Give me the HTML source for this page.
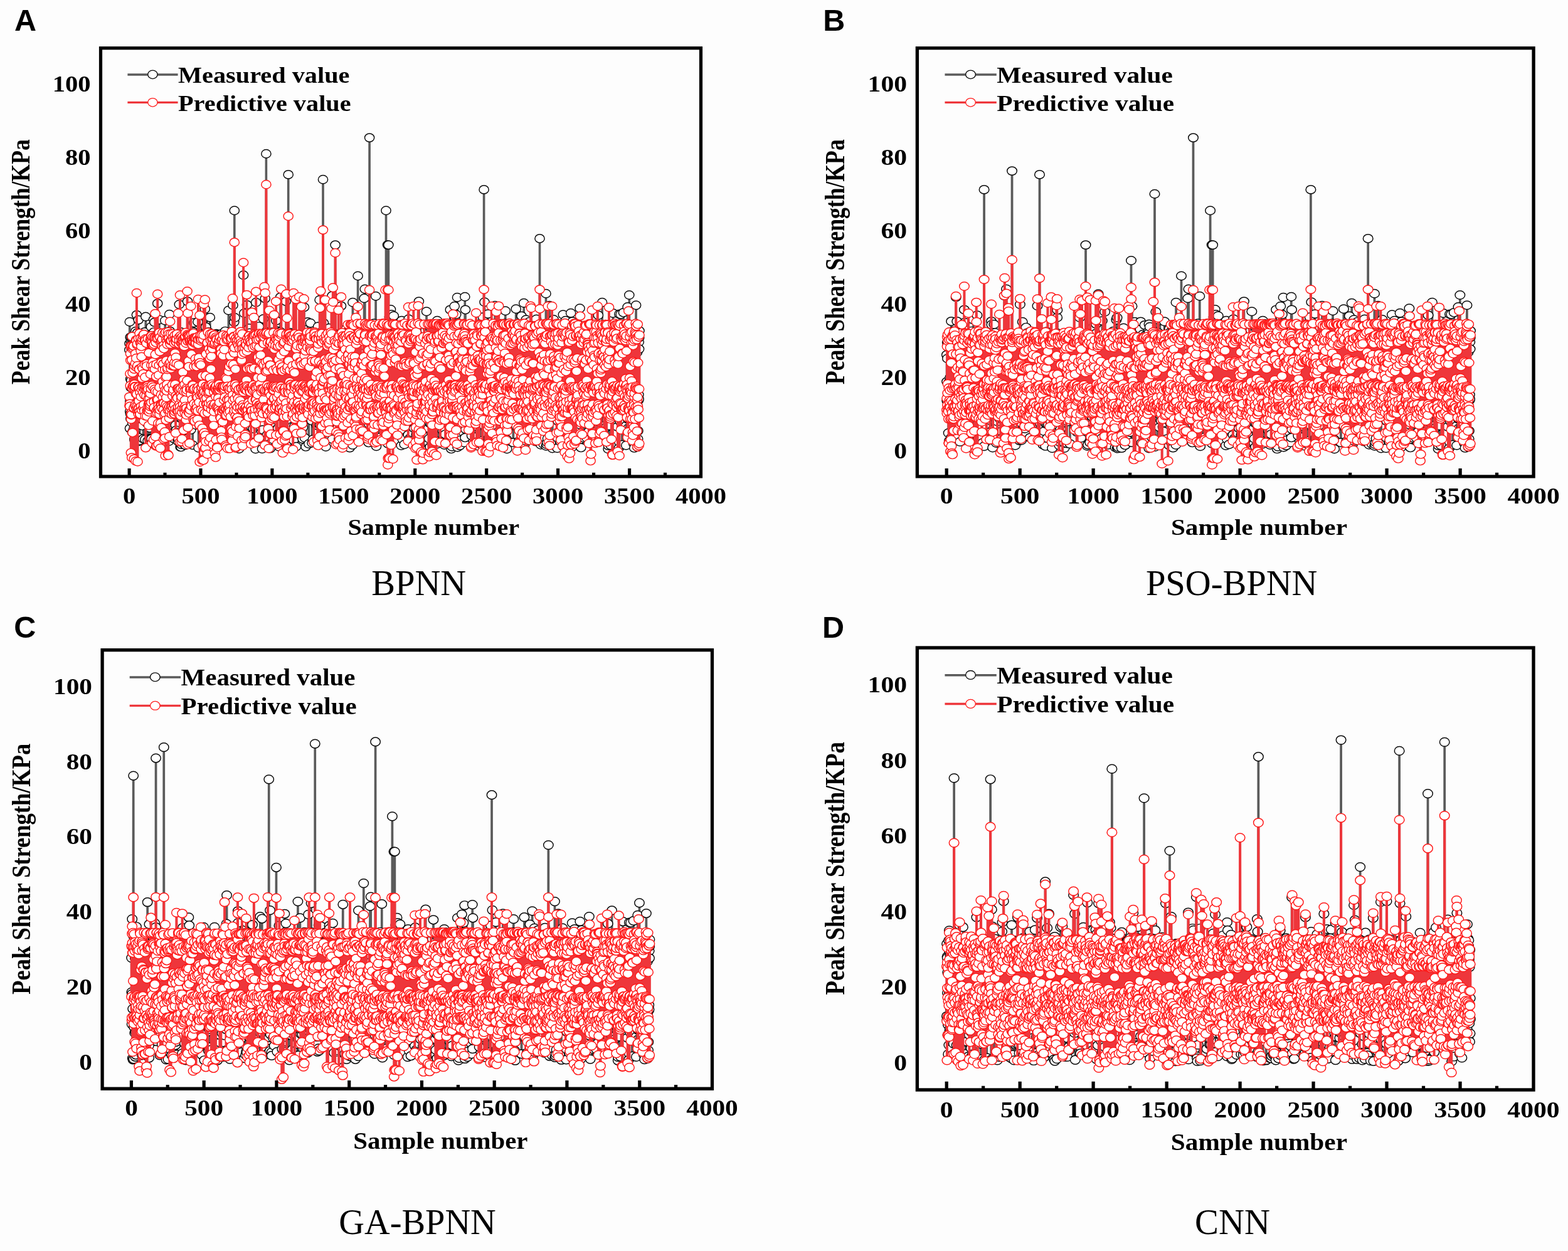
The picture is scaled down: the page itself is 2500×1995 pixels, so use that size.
<!DOCTYPE html>
<html lang="en"><head><meta charset="utf-8"><title>Measured vs predictive peak shear strength</title>
<style>html,body{margin:0;padding:0;background:#fdfdfd}body{width:2500px;height:1995px;overflow:hidden}svg{display:block}</style></head><body>
<svg width="2500" height="1995" viewBox="0 0 2500 1995">
<defs>
<marker id="mk" markerUnits="userSpaceOnUse" markerWidth="20" markerHeight="20" refX="10" refY="10" viewBox="0 0 20 20" overflow="visible"><ellipse cx="10" cy="10" rx="7.6" ry="6.7" fill="#fff" stroke="#0a0a0a" stroke-width="1.45"/></marker>
<marker id="mr" markerUnits="userSpaceOnUse" markerWidth="20" markerHeight="20" refX="10" refY="10" viewBox="0 0 20 20" overflow="visible"><ellipse cx="10" cy="10" rx="7.6" ry="6.7" fill="#fff" stroke="#ff1a1a" stroke-width="1.45"/></marker>
<g id="lay"><path d="M206.1 759.9V747M320 759.9V747M433.9 759.9V747M547.9 759.9V747M661.8 759.9V747M775.7 759.9V747M889.6 759.9V747M1003.6 759.9V747M263 759.9V753.8M377 759.9V753.8M490.9 759.9V753.8M604.8 759.9V753.8M718.8 759.9V753.8M832.7 759.9V753.8M946.6 759.9V753.8M1060.5 759.9V753.8" stroke="#000" stroke-width="5.1" fill="none"/>
<rect x="160.5" y="76.7" width="957.0" height="683.1999999999999" fill="none" stroke="#000" stroke-width="5.2"/><text font-family="Liberation Serif, serif" font-weight="bold" font-size="100" transform="translate(554.4 853.2) scale(0.4024 0.368)">Sample number</text>
<text font-family="Liberation Serif, serif" font-weight="bold" font-size="100" transform="translate(46.9 613) rotate(-90) scale(0.3565 0.423)">Peak Shear Strength/KPa</text>
<path d="M203.4 119H283.6" stroke="#5a5a5a" stroke-width="3.4"/>
<path d="M203.4 163.4H283.6" stroke="#ee363b" stroke-width="3.4"/>
<ellipse cx="243.4" cy="118.8" rx="7.65" ry="6.75" fill="#fff" stroke="#0a0a0a" stroke-width="1.3"/>
<ellipse cx="243.4" cy="163.3" rx="7.65" ry="6.75" fill="#fff" stroke="#ff1a1a" stroke-width="1.3"/>
<text font-family="Liberation Serif, serif" font-weight="bold" font-size="100" transform="translate(284 132.1) scale(0.403 0.366)">Measured value</text>
<text font-family="Liberation Serif, serif" font-weight="bold" font-size="100" transform="translate(284 176.7) scale(0.403 0.366)">Predictive value</text></g>
<g id="yl" font-family="Liberation Serif, serif" font-weight="bold" font-size="100" text-anchor="end">
<text transform="translate(144.6 730.8) scale(0.406 0.356)">0</text>
<text transform="translate(144.6 613.8) scale(0.406 0.356)">20</text>
<text transform="translate(144.6 496.9) scale(0.406 0.356)">40</text>
<text transform="translate(144.6 380) scale(0.406 0.356)">60</text>
<text transform="translate(144.6 263.1) scale(0.406 0.356)">80</text>
<text transform="translate(144.6 146.2) scale(0.406 0.356)">100</text>
</g>
<g id="xl" font-family="Liberation Serif, serif" font-weight="bold" font-size="100" text-anchor="middle">
<text transform="translate(206.1 803.3) scale(0.406 0.356)">0</text>
<text transform="translate(320 803.3) scale(0.406 0.356)">500</text>
<text transform="translate(433.9 803.3) scale(0.406 0.356)">1000</text>
<text transform="translate(547.9 803.3) scale(0.406 0.356)">1500</text>
<text transform="translate(661.8 803.3) scale(0.406 0.356)">2000</text>
<text transform="translate(775.7 803.3) scale(0.406 0.356)">2500</text>
<text transform="translate(889.6 803.3) scale(0.406 0.356)">3000</text>
<text transform="translate(1003.6 803.3) scale(0.406 0.356)">3500</text>
<text transform="translate(1117.5 803.3) scale(0.406 0.356)">4000</text>
</g>
</defs>
<rect width="2500" height="1995" fill="#fdfdfd"/>
<g transform="matrix(1.00000 0 0 1.00000 0.000 0.000)">
<polyline points="206.3,557.9 206.5,547.7 206.8,513.3 207,683.1 207.2,656 207.4,639.9 207.7,537.9 207.9,659.7 208.1,604.6 208.3,667.8 208.6,618 208.8,545.2 209,633.8 209.3,606.8 209.5,538.1 209.7,636.9 209.9,557.7 210.2,557.8 210.4,562.9 210.6,546.3 210.9,689.3 211.1,674.2 211.3,556.5 211.5,547.7 211.8,558.4 212,549.6 212.2,641.1 212.5,666 212.7,548.6 212.9,617.1 213.1,684.2 213.4,627.8 213.6,654.2 213.8,634.5 214,624.8 214.3,700 214.5,701.7 214.7,536.3 215,548.4 215.2,692.4 215.4,556.6 215.6,582.9 215.9,561.7 216.1,538.4 216.3,528.2 216.6,544.7 216.8,660.2 217,635.6 217.2,643.4 217.5,677.6 217.7,658.2 217.9,502.1 218.1,532.8 218.4,648.3 218.6,655.6 218.8,544.7 219.1,530.6 219.3,632.1 219.5,544.2 219.7,608.1 220,632.7 220.2,675.7 220.4,668.2 220.7,510.1 220.9,629.7 221.1,622.1 221.3,661.7 221.6,658.5 221.8,698.1 222,703.8 222.2,545.4 222.5,616.5 222.7,702.5 222.9,562.2 223.2,646.8 223.4,569.4 223.6,657.5 223.8,534.5 224.1,549.5 224.3,628.9 224.5,635.1 224.8,613.7 225,666.3 225.2,640.9 225.4,590 225.7,548.6 225.9,669.6 226.1,645.3 226.4,657.3 226.6,678.9 226.8,668.6 227,632.6 227.3,536.8 227.5,663.2 227.7,551 227.9,646.8 228.2,551.5 228.4,699.7 228.6,637.5 228.9,665.3 229.1,536.8 229.3,556.9 229.5,657.1 229.8,546.6 230,642.1 230.2,531.4 230.5,553.5 230.7,529.4 230.9,556.6 231.1,650.4 231.4,700.8 231.6,639.3 231.8,540.9 232,666.6 232.3,505 232.5,637.9 232.7,636.2 233,653.3 233.2,624.5 233.4,542.9 233.6,629.8 233.9,663.5 234.1,640.8 234.3,632.7 234.6,675.1 234.8,666.3 235,640.2 235.2,651.2 235.5,703.1 235.7,626.7 235.9,631 236.1,560.6 236.4,656.5 236.6,581.2 236.8,621.2 237.1,534.8 237.3,643.6 237.5,561 237.7,627.7 238,699.7 238.2,615.8 238.4,661.6 238.7,682.4 238.9,558.8 239.1,623.3 239.3,659.7 239.6,660.6 239.8,537.7 240,551.8 240.2,619.9 240.5,707.4 240.7,699.3 240.9,521.2 241.2,543.4 241.4,654 241.6,699.8 241.8,614.4 242.1,546.5 242.3,561.4 242.5,652.2 242.8,554.4 243,665.8 243.2,706.7 243.4,545.2 243.7,544.5 243.9,705.8 244.1,637.9 244.4,642.9 244.6,664.3 244.8,626.1 245,509.6 245.3,529.6 245.5,674.2 245.7,550 245.9,640 246.2,654.2 246.4,513.9 246.6,551 246.9,536.4 247.1,631.2 247.3,535.1 247.5,710 247.8,633.4 248,665.8 248.2,658.7 248.5,547.2 248.7,541.8 248.9,707.8 249.1,551.2 249.4,605.7 249.6,546.2 249.8,569.5 250,625.9 250.3,565.3 250.5,625.5 250.7,622.3 251,534.1 251.2,483.9 251.4,557.4 251.6,638.1 251.9,538.4 252.1,680 252.3,655.1 252.6,650.2 252.8,642.8 253,695.2 253.2,610.3 253.5,660.4 253.7,627.6 253.9,509.8 254.1,543.3 254.4,532 254.6,697.3 254.8,539.2 255.1,636.8 255.3,665.1 255.5,618 255.7,544 256,663.3 256.2,596 256.4,616.4 256.7,537.9 256.9,553.6 257.1,616.8 257.3,670.8 257.6,540.9 257.8,603.9 258,668 258.3,662.4 258.5,547.7 258.7,646.1 258.9,639 259.2,667.9 259.4,542.3 259.6,537.2 259.8,706.4 260.1,656.1 260.3,648.5 260.5,632.4 260.8,665.6 261,638.7 261.2,545.3 261.4,633.9 261.7,622.7 261.9,662.1 262.1,549.6 262.4,550.8 262.6,615.9 262.8,561.1 263,547 263.3,511.3 263.5,540.6 263.7,611 263.9,636.6 264.2,559.7 264.4,644 264.6,632.2 264.9,654.2 265.1,645.8 265.3,554.5 265.5,622.6 265.8,532.8 266,554.1 266.2,651.2 266.5,649.9 266.7,540 266.9,557.7 267.1,647.6 267.4,640.6 267.6,567.7 267.8,620.7 268,621.5 268.3,674.8 268.5,602.9 268.7,540.5 269,643.5 269.2,703.7 269.4,537.6 269.6,542.3 269.9,646.3 270.1,501.3 270.3,618.5 270.6,545.7 270.8,527.9 271,548.7 271.2,579.8 271.5,652.4 271.7,654.2 271.9,554.6 272.1,542.3 272.4,690 272.6,630.7 272.8,532.9 273.1,541.3 273.3,533.1 273.5,633.7 273.7,533 274,554.5 274.2,645.1 274.4,546.8 274.7,674.1 274.9,548.4 275.1,538.4 275.3,646.7 275.6,654.5 275.8,662.7 276,649.4 276.3,681.5 276.5,564.3 276.7,534 276.9,663.3 277.2,699.4 277.4,561.7 277.6,540.9 277.8,614.5 278.1,640.3 278.3,604.2 278.5,688.1 278.8,634.6 279,647.3 279.2,657.4 279.4,549.3 279.7,626.7 279.9,678 280.1,638.8 280.4,658.1 280.6,650.8 280.8,686.1 281,550.8 281.3,651.1 281.5,635.2 281.7,645.8 281.9,539 282.2,560 282.4,538.6 282.6,689.6 282.9,549.4 283.1,621.7 283.3,638.2 283.5,561.6 283.8,703.6 284,639.4 284.2,629.4 284.5,700 284.7,659.3 284.9,622.4 285.1,637.7 285.4,653.9 285.6,647.7 285.8,485.5 286,560 286.3,625.8 286.5,661.7 286.7,659.1 287,538.5 287.2,632.8 287.4,550.3 287.6,712.8 287.9,550 288.1,529.5 288.3,638.9 288.6,712.9 288.8,666.5 289,708.7 289.2,542.1 289.5,652.8 289.7,658 289.9,548.3 290.2,634.3 290.4,535.3 290.6,643.8 290.8,665.8 291.1,551 291.3,562.4 291.5,552.8 291.7,654.6 292,539.4 292.2,552.3 292.4,664.8 292.7,537.4 292.9,653.2 293.1,650.5 293.3,626.8 293.6,679.3 293.8,555.9 294,617.3 294.3,546.7 294.5,671.2 294.7,709.6 294.9,537.3 295.2,634.6 295.4,709.7 295.6,700 295.8,560.9 296.1,614.9 296.3,648.8 296.5,614.6 296.8,638.6 297,656.3 297.2,548 297.4,541.1 297.7,614.1 297.9,679 298.1,630.3 298.4,551.6 298.6,550 298.8,650.2 299,480.6 299.3,623.6 299.5,537.9 299.7,632.9 299.9,535.9 300.2,645.6 300.4,619 300.6,673.4 300.9,621.6 301.1,564.3 301.3,616.2 301.5,656.8 301.8,556.4 302,638.9 302.2,537.5 302.5,632.2 302.7,612.4 302.9,639.1 303.1,546.9 303.4,539.2 303.6,648.6 303.8,651.9 304.1,665.5 304.3,685.4 304.5,610.9 304.7,587.5 305,556.6 305.2,560.6 305.4,541.4 305.6,595.3 305.9,615.6 306.1,623.5 306.3,552.7 306.6,652.2 306.8,619.1 307,611 307.2,709.8 307.5,644.1 307.7,632.7 307.9,672.9 308.2,546.4 308.4,529.4 308.6,636.4 308.8,589.9 309.1,568.3 309.3,514.7 309.5,604.1 309.7,617 310,619.2 310.2,628.8 310.4,538.6 310.7,655.2 310.9,667.9 311.1,660.4 311.3,645.8 311.6,650.8 311.8,626.3 312,675.1 312.3,628.1 312.5,677.8 312.7,646.8 312.9,538.9 313.2,538.2 313.4,546.9 313.6,575.9 313.8,563.6 314.1,648.2 314.3,622.9 314.5,545.3 314.8,573.6 315,652 315.2,552.9 315.4,513.4 315.7,648.2 315.9,637.8 316.1,658.9 316.4,533.8 316.6,714.2 316.8,617 317,539.8 317.3,531.8 317.5,652.2 317.7,644.6 317.9,558.9 318.2,546.6 318.4,619.8 318.6,639.7 318.9,549.4 319.1,557.2 319.3,648.4 319.5,620.8 319.8,552.3 320,628.5 320.2,565.1 320.5,650.9 320.7,545.7 320.9,557.8 321.1,607.5 321.4,656.1 321.6,545.8 321.8,542.9 322.1,550.5 322.3,610 322.5,555.9 322.7,538 323,618.1 323.2,641 323.4,538.3 323.6,650 323.9,627.2 324.1,689.4 324.3,676.4 324.6,613.4 324.8,553.4 325,659.2 325.2,535.5 325.5,630.2 325.7,624.5 325.9,699.6 326.2,663.8 326.4,551 326.6,618.7 326.8,492.8 327.1,676.1 327.3,645.8 327.5,542 327.7,547.9 328,648.4 328.2,521.4 328.4,566.9 328.7,547.5 328.9,506.4 329.1,698.9 329.3,693.1 329.6,615.7 329.8,536.3 330,543.9 330.3,562.6 330.5,680.1 330.7,672.7 330.9,546.4 331.2,626.5 331.4,674.7 331.6,641.3 331.8,542.3 332.1,532.1 332.3,658.2 332.5,529.4 332.8,658.7 333,668.5 333.2,656.6 333.4,646.4 333.7,637.9 333.9,704.8 334.1,664.9 334.4,624 334.6,647.8 334.8,506.2 335,707.7 335.3,630.5 335.5,547.4 335.7,660.8 335.9,598.9 336.2,676.2 336.4,628.1 336.6,537.7 336.9,660.8 337.1,546.7 337.3,611 337.5,629.3 337.8,646.4 338,604.6 338.2,547.4 338.5,656.4 338.7,655.7 338.9,700.7 339.1,558.8 339.4,618.3 339.6,546 339.8,661 340.1,631.8 340.3,534.2 340.5,653 340.7,652.8 341,656.2 341.2,544.6 341.4,672.4 341.6,626.9 341.9,567.6 342.1,539.3 342.3,621.8 342.6,559 342.8,631 343,539.9 343.2,555.4 343.5,665.4 343.7,660.2 343.9,663.5 344.2,626.7 344.4,655.8 344.6,658.5 344.8,532.3 345.1,548.4 345.3,533.8 345.5,711 345.7,639.7 346,639.1 346.2,714 346.4,643.8 346.7,629.1 346.9,666.7 347.1,609.6 347.3,658.3 347.6,709.4 347.8,667.6 348,562.6 348.3,616.8 348.5,548.1 348.7,544.5 348.9,604.2 349.2,669.4 349.4,562.4 349.6,552.7 349.8,552.4 350.1,645.4 350.3,668.2 350.5,612.1 350.8,634.3 351,613.2 351.2,647.4 351.4,545 351.7,545.3 351.9,676.4 352.1,602.7 352.4,565.5 352.6,610 352.8,646.3 353,532.4 353.3,637.1 353.5,653 353.7,683.5 354,538.8 354.2,657.5 354.4,553.2 354.6,534.8 354.9,548.8 355.1,676.5 355.3,644.1 355.5,647.2 355.8,627.3 356,552.9 356.2,561.7 356.5,547.1 356.7,542.7 356.9,603.2 357.1,626.1 357.4,651.7 357.6,661.4 357.8,532.9 358.1,538.7 358.3,611.7 358.5,538.8 358.7,630.4 359,528.1 359.2,563.2 359.4,537.5 359.6,548.2 359.9,692.1 360.1,547.2 360.3,545.8 360.6,690.4 360.8,549 361,552 361.2,608.2 361.5,695.4 361.7,647.4 361.9,567.6 362.2,538.4 362.4,535.4 362.6,612.7 362.8,538.2 363.1,542.3 363.3,536.2 363.5,647.7 363.7,693.3 364,644.4 364.2,649.2 364.4,495 364.7,664.1 364.9,656.9 365.1,546.9 365.3,564.8 365.6,704.2 365.8,623.3 366,646.2 366.3,541.4 366.5,664.8 366.7,636.5 366.9,538.2 367.2,628.7 367.4,619 367.6,534.5 367.9,612.3 368.1,679.5 368.3,640.5 368.5,679.2 368.8,549.9 369,644.4 369.2,669.1 369.4,639.1 369.7,543.2 369.9,640.3 370.1,664.7 370.4,654.8 370.6,565.3 370.8,632.7 371,565.7 371.3,626.1 371.5,486.8 371.7,636.4 372,684.5 372.2,558.4 372.4,578.6 372.6,625.3 372.9,685.4 373.1,618.5 373.3,513.6 373.5,709.4 373.8,335.8 374,668.1 374.2,649.1 374.5,506.5 374.7,664.6 374.9,637.2 375.1,684.9 375.4,625.9 375.6,629.3 375.8,651.6 376.1,643.7 376.3,619.6 376.5,548.4 376.7,574.9 377,608.3 377.2,543.4 377.4,544.1 377.6,636.8 377.9,634.6 378.1,551.1 378.3,542.2 378.6,689.6 378.8,666.9 379,643.5 379.2,656.4 379.5,674.1 379.7,534.8 379.9,646.4 380.2,611 380.4,615.8 380.6,538.1 380.8,691.8 381.1,715.7 381.3,640.7 381.5,664.1 381.7,545.9 382,710.2 382.2,624.9 382.4,654 382.7,542.9 382.9,643.2 383.1,540.5 383.3,536.9 383.6,637.8 383.8,659.2 384,680.4 384.3,540.6 384.5,686.3 384.7,631.6 384.9,662.2 385.2,548.3 385.4,653.5 385.6,628.3 385.9,641 386.1,619.8 386.3,561.4 386.5,543.7 386.8,587 387,670.4 387.2,610.3 387.4,636 387.7,627.9 387.9,674 388.1,438.7 388.4,628.8 388.6,645.7 388.8,546.4 389,632.8 389.3,499.5 389.5,550.3 389.7,630.9 390,558.8 390.2,651 390.4,627.6 390.6,609.8 390.9,666 391.1,625.8 391.3,533.1 391.5,553.2 391.8,647.5 392,546.4 392.2,626 392.5,551.2 392.7,650.9 392.9,560.7 393.1,608.7 393.4,633.8 393.6,653.8 393.8,486.1 394.1,700.2 394.3,652 394.5,642 394.7,621.1 395,537.8 395.2,629.5 395.4,564 395.6,546.1 395.9,701.1 396.1,550.9 396.3,608.1 396.6,545.8 396.8,649.6 397,557.8 397.2,523.5 397.5,534.2 397.7,645 397.9,530.9 398.2,537.9 398.4,630 398.6,604.3 398.8,640.5 399.1,617.4 399.3,611.5 399.5,679.3 399.8,551.8 400,651.1 400.2,635.8 400.4,561.7 400.7,702.8 400.9,544.4 401.1,644 401.3,569 401.6,624.9 401.8,627.7 402,669.7 402.3,666.1 402.5,661.6 402.7,631.6 402.9,692.3 403.2,646.4 403.4,656.1 403.6,683.5 403.9,660.7 404.1,560.2 404.3,577.4 404.5,652.6 404.8,542 405,659.4 405.2,617.9 405.4,540.1 405.7,559.8 405.9,647.2 406.1,569.3 406.4,644.3 406.6,540.6 406.8,562.5 407,537.6 407.3,627.8 407.5,716 407.7,618.2 408,608 408.2,482.3 408.4,642.5 408.6,611.1 408.9,541.2 409.1,630.4 409.3,648.4 409.5,630.5 409.8,546 410,664.1 410.2,636.4 410.5,533.2 410.7,541.9 410.9,679.7 411.1,643.8 411.4,646.1 411.6,511.7 411.8,663.3 412.1,536.4 412.3,656.9 412.5,542.3 412.7,520.6 413,650.9 413.2,633.9 413.4,677.2 413.6,534.2 413.9,667.2 414.1,656.5 414.3,548.1 414.6,660 414.8,536.5 415,574 415.2,549.3 415.5,680.5 415.7,623.7 415.9,624.7 416.2,540.2 416.4,534.7 416.6,551.6 416.8,607.3 417.1,637.9 417.3,669.4 417.5,552.5 417.8,544.5 418,715.7 418.2,673.9 418.4,663.2 418.7,535.8 418.9,685.4 419.1,540.7 419.3,661 419.6,633.1 419.8,646.4 420,508.5 420.3,652.8 420.5,543.1 420.7,662.2 420.9,612.5 421.2,537 421.4,642.7 421.6,703.2 421.9,628.2 422.1,638.6 422.3,659.2 422.5,602.3 422.8,476.1 423,615.6 423.2,556.9 423.4,624.3 423.7,657.5 423.9,707.6 424.1,641.2 424.4,245.2 424.6,580.3 424.8,659.3 425,615.6 425.3,653.5 425.5,529.3 425.7,530 426,693.2 426.2,532.5 426.4,610.6 426.6,635.2 426.9,564.7 427.1,663.4 427.3,654.5 427.5,698.4 427.8,530.5 428,580 428.2,631.7 428.5,654.3 428.7,557.6 428.9,544.9 429.1,547.1 429.4,639.6 429.6,708.2 429.8,554.4 430.1,616.1 430.3,642.6 430.5,533.6 430.7,545.1 431,715.1 431.2,539.4 431.4,632.1 431.6,636.3 431.9,640.7 432.1,552 432.3,557.5 432.6,665 432.8,537.3 433,616.9 433.2,536 433.5,544.4 433.7,529.6 433.9,661.4 434.2,540.5 434.4,549.8 434.6,642.5 434.8,682.1 435.1,541.5 435.3,700.8 435.5,647.1 435.8,637.8 436,664.2 436.2,660.7 436.4,602.9 436.7,621.3 436.9,660.5 437.1,622.6 437.3,643.5 437.6,624 437.8,657.5 438,633.5 438.3,538.7 438.5,631.1 438.7,566.6 438.9,646.3 439.2,655.8 439.4,530.9 439.6,654.7 439.9,532.8 440.1,539.7 440.3,511.4 440.5,651.3 440.8,617 441,650.4 441.2,660.3 441.4,636.1 441.7,684.2 441.9,544.5 442.1,548.5 442.4,572.6 442.6,528 442.8,656.3 443,633.2 443.3,683.1 443.5,663.1 443.7,646.8 444,635 444.2,614.5 444.4,620.2 444.6,551.3 444.9,539.4 445.1,642.7 445.3,712.5 445.5,691.8 445.8,638.3 446,641.7 446.2,545 446.5,650.1 446.7,639 446.9,529 447.1,473.9 447.4,623.9 447.6,642.2 447.8,676.3 448.1,557 448.3,646.5 448.5,629.4 448.7,644.6 449,572.5 449.2,542.4 449.4,649.3 449.7,581.3 449.9,543.9 450.1,558.2 450.3,622.2 450.6,556.4 450.8,643.1 451,649.7 451.2,540.1 451.5,643 451.7,539.2 451.9,544 452.2,649.1 452.4,558.4 452.6,658.3 452.8,706.5 453.1,555.7 453.3,655 453.5,550.7 453.8,547 454,544.6 454.2,629.1 454.4,629.4 454.7,643 454.9,674.8 455.1,643.4 455.3,627.7 455.6,568.2 455.8,624 456,480.6 456.3,534.9 456.5,560.4 456.7,709.2 456.9,671.6 457.2,581.6 457.4,539.4 457.6,628.8 457.9,629.5 458.1,629.3 458.3,606.1 458.5,703 458.8,534 459,636.7 459.2,661 459.4,538.5 459.7,278.4 459.9,710.5 460.1,604.9 460.4,643.1 460.6,613.1 460.8,598.6 461,540.1 461.3,560.9 461.5,647.6 461.7,550.9 462,566.5 462.2,575.4 462.4,539.8 462.6,540.6 462.9,530.4 463.1,641.1 463.3,546.3 463.6,653.8 463.8,622.3 464,657.9 464.2,543 464.5,556.9 464.7,641.9 464.9,624.8 465.1,541.9 465.4,532.5 465.6,650.1 465.8,565.9 466.1,590.6 466.3,680 466.5,540.8 466.7,537.1 467,715.2 467.2,545.3 467.4,540.7 467.7,544.7 467.9,556.1 468.1,702.1 468.3,546.9 468.6,537.3 468.8,541.9 469,680.2 469.2,662.3 469.5,603.2 469.7,588.1 469.9,660 470.2,634.5 470.4,620.3 470.6,657.3 470.8,547.2 471.1,636.7 471.3,659.4 471.5,630 471.8,627.9 472,556 472.2,712.2 472.4,539.7 472.7,551.9 472.9,548.2 473.1,671.5 473.3,538.3 473.6,640.1 473.8,655.5 474,533.3 474.3,629 474.5,589.7 474.7,619 474.9,644.2 475.2,666.2 475.4,665.8 475.6,617.2 475.9,626 476.1,632.1 476.3,552.3 476.5,550.3 476.8,537 477,646.5 477.2,656.1 477.4,628.8 477.7,623.8 477.9,631.9 478.1,622.2 478.4,640.7 478.6,667.4 478.8,692.5 479,549 479.3,653.4 479.5,537.2 479.7,617 480,534.3 480.2,642.4 480.4,645.8 480.6,631 480.9,633.6 481.1,544.6 481.3,645.3 481.6,678.9 481.8,656.7 482,662.7 482.2,666.6 482.5,700.1 482.7,655.6 482.9,681.4 483.1,637.7 483.4,623.5 483.6,648.5 483.8,666.8 484.1,558.2 484.3,651.5 484.5,640.2 484.7,671.5 485,489.9 485.2,644.1 485.4,653.9 485.7,543.4 485.9,698.3 486.1,563.1 486.3,556.1 486.6,646.1 486.8,547.8 487,655.3 487.2,665.3 487.5,712.4 487.7,538 487.9,614.4 488.2,568.9 488.4,654.6 488.6,642.6 488.8,547.5 489.1,544.5 489.3,633.9 489.5,649.5 489.8,539.4 490,543.1 490.2,543.7 490.4,628.1 490.7,513.5 490.9,546.6 491.1,542.3 491.3,655.7 491.6,665.9 491.8,539.3 492,643.6 492.3,707.8 492.5,548.8 492.7,601.7 492.9,611.5 493.2,644 493.4,571.1 493.6,652.5 493.9,652.5 494.1,540.7 494.3,558 494.5,646.5 494.8,668.3 495,515.2 495.2,638.5 495.4,549.1 495.7,538.9 495.9,632.4 496.1,653.3 496.4,652.4 496.6,668.1 496.8,670.7 497,662.1 497.3,619.7 497.5,706.2 497.7,540.9 498,643.6 498.2,554.9 498.4,639.8 498.6,546.4 498.9,700.7 499.1,609.6 499.3,553.6 499.6,619.1 499.8,631.7 500,623.5 500.2,655.2 500.5,654.6 500.7,601.7 500.9,536.2 501.1,533.1 501.4,603.8 501.6,540.8 501.8,546.3 502.1,546.9 502.3,543.8 502.5,623.5 502.7,606.2 503,640.2 503.2,532.9 503.4,541.4 503.7,528.2 503.9,550.7 504.1,639.1 504.3,548.9 504.6,645.4 504.8,678.3 505,678 505.2,645.3 505.5,671.1 505.7,543.6 505.9,530.1 506.2,568.2 506.4,655 506.6,605.5 506.8,642.6 507.1,520.8 507.3,655.2 507.5,546.1 507.8,548.7 508,556.9 508.2,536.9 508.4,630.5 508.7,640.6 508.9,656.7 509.1,677 509.3,627.9 509.6,478.3 509.8,645.1 510,659.9 510.3,677.3 510.5,707.7 510.7,530.2 510.9,646.3 511.2,555.7 511.4,542.8 511.6,553.5 511.9,662.7 512.1,550.7 512.3,543.4 512.5,665.5 512.8,634.9 513,658.2 513.2,629.6 513.5,621.6 513.7,560 513.9,655.6 514.1,647.6 514.4,648 514.6,549.1 514.8,654.5 515,286.2 515.3,594 515.5,552.4 515.7,537.4 516,515.1 516.2,658.5 516.4,660.9 516.6,603 516.9,557.8 517.1,530.7 517.3,673.5 517.6,542.2 517.8,641.8 518,633.3 518.2,560.3 518.5,560.9 518.7,552.2 518.9,542.1 519.1,625.2 519.4,712.5 519.6,650.7 519.8,539.1 520.1,655.6 520.3,681.2 520.5,642.6 520.7,630 521,636 521.2,538.4 521.4,536.2 521.7,546.7 521.9,644.3 522.1,607.1 522.3,559.6 522.6,648.1 522.8,670.5 523,556.8 523.2,550.5 523.5,555.1 523.7,655.3 523.9,592.7 524.2,634.5 524.4,644 524.6,678.7 524.8,523.3 525.1,646.1 525.3,630 525.5,661.4 525.8,670.4 526,626 526.2,606.7 526.4,625.8 526.7,537.7 526.9,685.8 527.1,550.9 527.4,531.5 527.6,632.7 527.8,630.4 528,607.1 528.3,644.1 528.5,658.9 528.7,651.2 528.9,537 529.2,628.8 529.4,671.9 529.6,471.6 529.9,700.4 530.1,635.2 530.3,646.9 530.5,555.4 530.8,658.6 531,672.8 531.2,561.3 531.5,549.5 531.7,542.1 531.9,549.6 532.1,533.1 532.4,553.1 532.6,590 532.8,553.2 533,648.7 533.3,542.4 533.5,546.4 533.7,536.1 534,621.7 534.2,631.1 534.4,549 534.6,390.6 534.9,618.6 535.1,532.5 535.3,685.3 535.6,634.1 535.8,657.6 536,539.6 536.2,622.5 536.5,641.4 536.7,602.3 536.9,661.1 537.1,588.1 537.4,542.7 537.6,549.2 537.8,640.8 538.1,604.2 538.3,542 538.5,570.8 538.7,682 539,669.2 539.2,554.3 539.4,557.8 539.7,535.6 539.9,667.1 540.1,637 540.3,700 540.6,603.6 540.8,657.9 541,538 541.2,555.4 541.5,619.5 541.7,669.2 541.9,532.8 542.2,613.9 542.4,635.7 542.6,545.1 542.8,621.4 543.1,628.2 543.3,646.9 543.5,543.5 543.8,538.8 544,487.9 544.2,624.8 544.4,624.6 544.7,534.3 544.9,614.1 545.1,702.4 545.4,628.6 545.6,644.9 545.8,530.2 546,639.2 546.3,650.3 546.5,649.2 546.7,536 546.9,631.6 547.2,701 547.4,539.1 547.6,626.9 547.9,638.2 548.1,651.6 548.3,546.2 548.5,536.4 548.8,535.2 549,631.6 549.2,559.9 549.5,552.7 549.7,674.7 549.9,552 550.1,626.7 550.4,629.4 550.6,660.7 550.8,651.8 551,597.1 551.3,628.2 551.5,541.9 551.7,635.1 552,710.4 552.2,524.3 552.4,614.8 552.6,661.5 552.9,619.4 553.1,553.8 553.3,615.7 553.6,669.9 553.8,675.3 554,529.3 554.2,551.5 554.5,705.4 554.7,623.5 554.9,650.4 555.1,618.3 555.4,602.9 555.6,647.5 555.8,614.4 556.1,689.2 556.3,540.7 556.5,536.8 556.7,639.7 557,529.3 557.2,679.3 557.4,633.6 557.7,714.1 557.9,526.5 558.1,648.8 558.3,653.4 558.6,647.3 558.8,538.2 559,657.2 559.2,534.1 559.5,646.4 559.7,524.8 559.9,639.7 560.2,569.1 560.4,662.6 560.6,664.6 560.8,657.4 561.1,638.7 561.3,557.6 561.5,550.5 561.8,518.4 562,634.9 562.2,709.5 562.4,482.3 562.7,625.7 562.9,655.8 563.1,541.2 563.4,581.4 563.6,555.9 563.8,641.8 564,537.2 564.3,538.8 564.5,663.5 564.7,638.2 564.9,531.8 565.2,529.5 565.4,531.4 565.6,546.5 565.9,554.2 566.1,637.6 566.3,523.8 566.5,531.3 566.8,626.1 567,669.1 567.2,540.3 567.5,633.2 567.7,623.9 567.9,631.9 568.1,530.3 568.4,626 568.6,645.5 568.8,656.7 569,635.8 569.3,554.1 569.5,537.1 569.7,605.5 570,606.8 570.2,623.3 570.4,646.1 570.6,440 570.9,639.9 571.1,642.4 571.3,680.8 571.6,531.4 571.8,624.9 572,542.8 572.2,641.2 572.5,627.3 572.7,651.5 572.9,677.5 573.1,532.8 573.4,638.5 573.6,645.2 573.8,547.6 574.1,631.7 574.3,654.6 574.5,673.1 574.7,531.4 575,516.7 575.2,583.4 575.4,682 575.7,536.9 575.9,657.5 576.1,521.6 576.3,610.4 576.6,545 576.8,549.4 577,533.6 577.3,672.9 577.5,532.4 577.7,649.1 577.9,636.7 578.2,628.6 578.4,699.8 578.6,642.9 578.8,630.4 579.1,626.6 579.3,535.5 579.5,646 579.8,607.3 580,675.6 580.2,553.2 580.4,542.3 580.7,475.7 580.9,684.3 581.1,677.8 581.4,604.2 581.6,535.4 581.8,461 582,570.6 582.3,562.2 582.5,636.2 582.7,664.1 582.9,653.7 583.2,517.8 583.4,541.1 583.6,664.4 583.9,592.9 584.1,648.3 584.3,630.9 584.5,536.7 584.8,640 585,626.3 585.2,655.5 585.5,536.9 585.7,617.6 585.9,527.7 586.1,678.1 586.4,661.7 586.6,537.2 586.8,555.7 587,647.6 587.3,551.7 587.5,536 587.7,705.9 588,552.1 588.2,632.5 588.4,676.3 588.6,563.3 588.9,552.1 589.1,219.6 589.3,635.6 589.6,563.1 589.8,540.1 590,540.3 590.2,654 590.5,602.3 590.7,546.7 590.9,528.6 591.1,531.2 591.4,640.9 591.6,545.9 591.8,530.3 592.1,681.8 592.3,642 592.5,661.1 592.7,562.7 593,546.7 593.2,637.5 593.4,546.5 593.7,545.9 593.9,636.4 594.1,676.7 594.3,546.3 594.6,522.4 594.8,646.5 595,655.3 595.3,646.7 595.5,536.5 595.7,679.2 595.9,615.7 596.2,515.8 596.4,654.2 596.6,625.9 596.8,679.3 597.1,588.7 597.3,681.1 597.5,655.5 597.8,552.5 598,703.8 598.2,623.2 598.4,546.3 598.7,669.4 598.9,643.5 599.1,472.3 599.4,704.6 599.6,550.3 599.8,526.6 600,711.7 600.3,530.1 600.5,533.3 600.7,666.4 600.9,704.3 601.2,565.2 601.4,537.6 601.6,538.8 601.9,626.2 602.1,648.2 602.3,622.5 602.5,703.5 602.8,549.9 603,612.7 603.2,540.7 603.5,545.4 603.7,534 603.9,548.4 604.1,542.5 604.4,662 604.6,557.6 604.8,556.3 605,656.1 605.3,652.3 605.5,650.1 605.7,539 606,697.4 606.2,519.6 606.4,678.6 606.6,551.6 606.9,653.7 607.1,642.1 607.3,680.1 607.6,536.9 607.8,653.8 608,667.7 608.2,678.2 608.5,536.1 608.7,643.8 608.9,538.1 609.2,562.9 609.4,627.8 609.6,612.2 609.8,602.5 610.1,667.7 610.3,546.6 610.5,534.2 610.7,643.3 611,522.8 611.2,556.4 611.4,654.1 611.7,522.3 611.9,637 612.1,626.2 612.3,657.6 612.6,675.9 612.8,604.8 613,662.8 613.3,555.3 613.5,649.3 613.7,531.6 613.9,666.7 614.2,558 614.4,526.5 614.6,641.9 614.8,639.8 615.1,528.4 615.3,661 615.5,335.8 615.8,536 616,541.3 616.2,636.5 616.4,544 616.7,547.8 616.9,629.5 617.1,639.5 617.4,548.8 617.6,584.7 617.8,650.1 618,390.6 618.3,707.4 618.5,541.7 618.7,531.6 618.9,558.2 619.2,648.9 619.4,390.6 619.6,691 619.9,640.3 620.1,638.7 620.3,541.9 620.5,647.6 620.8,505.4 621,541.8 621.2,640.3 621.5,628.4 621.7,533.6 621.9,610.9 622.1,527.6 622.4,643.1 622.6,542.5 622.8,526.9 623,493.5 623.3,540.2 623.5,662.8 623.7,580.4 624,656.3 624.2,501.5 624.4,571 624.6,670.4 624.9,546.6 625.1,639.2 625.3,548 625.6,657.6 625.8,632.6 626,632 626.2,631.3 626.5,659 626.7,676.9 626.9,652.8 627.2,683.7 627.4,506.2 627.6,668.9 627.8,503.7 628.1,626.8 628.3,616.3 628.5,626.3 628.7,589.6 629,537.6 629.2,686.4 629.4,641 629.7,545.6 629.9,615.2 630.1,636.5 630.3,667.8 630.6,647.2 630.8,527.9 631,624.3 631.3,660.3 631.5,631.7 631.7,549.4 631.9,658.7 632.2,539.2 632.4,650.1 632.6,532.2 632.8,612.1 633.1,638.4 633.3,636.4 633.5,529.3 633.8,621.5 634,554.4 634.2,541.2 634.4,683.8 634.7,630 634.9,645.7 635.1,639.7 635.4,608.3 635.6,523 635.8,552.7 636,662.5 636.3,664.4 636.5,579.2 636.7,654 636.9,526.3 637.2,534.3 637.4,630.8 637.6,606.4 637.9,649.7 638.1,664.2 638.3,622.6 638.5,539 638.8,665.6 639,657.4 639.2,547.4 639.5,533.6 639.7,710.5 639.9,586.1 640.1,677.4 640.4,511.2 640.6,673.3 640.8,685 641.1,548.8 641.3,614.2 641.5,590.8 641.7,700.5 642,663.3 642.2,628.4 642.4,538.3 642.6,652.1 642.9,630.8 643.1,648.9 643.3,663.3 643.6,636.9 643.8,640.9 644,678.1 644.2,548.7 644.5,546.3 644.7,708.7 644.9,550 645.2,589.5 645.4,590.2 645.6,528.6 645.8,620.3 646.1,516.1 646.3,539.1 646.5,619.5 646.7,550.7 647,675.4 647.2,630.5 647.4,534.2 647.7,645.4 647.9,619.2 648.1,525.4 648.3,625.3 648.6,653 648.8,525.2 649,649.5 649.3,648.6 649.5,617.5 649.7,617.4 649.9,536.8 650.2,535.1 650.4,666.7 650.6,628.7 650.8,693.4 651.1,619.3 651.3,666.4 651.5,508.7 651.8,670.3 652,554.8 652.2,665.3 652.4,606.5 652.7,620.7 652.9,554.6 653.1,647.9 653.4,698.8 653.6,637.9 653.8,649.1 654,554.7 654.3,642.4 654.5,646.3 654.7,545.6 655,658.6 655.2,699.2 655.4,683.4 655.6,534.7 655.9,537.4 656.1,644.4 656.3,533.6 656.5,646.7 656.8,532.1 657,635.4 657.2,686.8 657.5,681.3 657.7,655.8 657.9,656.2 658.1,690.3 658.4,529.2 658.6,537.4 658.8,555.3 659.1,675 659.3,546.6 659.5,641.9 659.7,658.1 660,564.7 660.2,683.1 660.4,626.9 660.6,706.7 660.9,528.1 661.1,636.4 661.3,543 661.6,523.5 661.8,665.9 662,521.5 662.2,656.9 662.5,649.5 662.7,641.1 662.9,667.2 663.2,548.5 663.4,631.3 663.6,693.5 663.8,683.9 664.1,645 664.3,646.8 664.5,660.6 664.7,602 665,530.4 665.2,629.4 665.4,551.2 665.7,677.4 665.9,683.6 666.1,641.7 666.3,553.8 666.6,643.9 666.8,650.3 667,526.2 667.3,646.1 667.5,640.3 667.7,626.2 667.9,480.6 668.2,646.2 668.4,621.8 668.6,516 668.8,547.4 669.1,608.5 669.3,643.6 669.5,713.1 669.8,604.9 670,622.4 670.2,672.6 670.4,594.3 670.7,649.6 670.9,527.8 671.1,567.9 671.4,627.2 671.6,619.6 671.8,639.6 672,668.7 672.3,537 672.5,644.8 672.7,669.1 673,634.8 673.2,652.3 673.4,633.7 673.6,518 673.9,694.3 674.1,677 674.3,533.5 674.5,634.5 674.8,629 675,550.5 675.2,639.9 675.5,618.3 675.7,665.3 675.9,636.9 676.1,533.8 676.4,629.3 676.6,678.9 676.8,649.1 677.1,715.4 677.3,529 677.5,659.6 677.7,681.4 678,635.3 678.2,652.6 678.4,659.5 678.6,526.5 678.9,662.8 679.1,658.5 679.3,582.3 679.6,543.6 679.8,548 680,496.8 680.2,520.1 680.5,661.9 680.7,592.6 680.9,518.5 681.2,655.5 681.4,702.3 681.6,617.4 681.8,647.1 682.1,548.1 682.3,633 682.5,707.7 682.7,543.3 683,627.8 683.2,543.1 683.4,682.8 683.7,706.7 683.9,559.7 684.1,699.5 684.3,547.6 684.6,649.2 684.8,552.1 685,627.8 685.3,674.9 685.5,547.7 685.7,712.6 685.9,533.4 686.2,657.1 686.4,559.2 686.6,553.4 686.9,664.3 687.1,676.2 687.3,613.4 687.5,645.7 687.8,624.3 688,658 688.2,538.6 688.4,665.3 688.7,567.7 688.9,545.4 689.1,524 689.4,708.6 689.6,639.6 689.8,645.8 690,601.9 690.3,681.8 690.5,640.8 690.7,546.9 691,657.7 691.2,614.9 691.4,554.4 691.6,538.9 691.9,641.1 692.1,654.8 692.3,548.2 692.5,707.6 692.8,559 693,551.5 693.2,532.4 693.5,525.7 693.7,560.7 693.9,650.6 694.1,544.4 694.4,631.8 694.6,611.3 694.8,644.4 695.1,702.8 695.3,541.2 695.5,659.3 695.7,543.4 696,538.7 696.2,633.7 696.4,538.4 696.6,682.6 696.9,708 697.1,511.3 697.3,555.6 697.6,673.7 697.8,648 698,661.1 698.2,647.8 698.5,526.7 698.7,668.1 698.9,551 699.2,656.1 699.4,643.9 699.6,534.6 699.8,705.1 700.1,516.4 700.3,674.9 700.5,531.3 700.7,681.4 701,530.8 701.2,660.4 701.4,535.4 701.7,659.9 701.9,538.4 702.1,636.4 702.3,609.7 702.6,655.2 702.8,637.4 703,526.4 703.3,550 703.5,559 703.7,627.8 703.9,662 704.2,660.4 704.4,608.3 704.6,552.3 704.9,548.1 705.1,563.1 705.3,546.8 705.5,646.1 705.8,527.5 706,686.9 706.2,556.7 706.4,705 706.7,589.4 706.9,644.5 707.1,649.6 707.4,575.6 707.6,650.6 707.8,636.1 708,525.5 708.3,673 708.5,709.5 708.7,631.6 709,538.6 709.2,617.9 709.4,590.8 709.6,639 709.9,692.6 710.1,630.6 710.3,551.9 710.5,537.9 710.8,637.8 711,607.5 711.2,540.4 711.5,705.4 711.7,656.1 711.9,619.6 712.1,630.7 712.4,538.5 712.6,654.3 712.8,645.3 713.1,621 713.3,658.2 713.5,559.7 713.7,611.9 714,536.7 714.2,537.3 714.4,531.4 714.6,655.7 714.9,555.7 715.1,602.3 715.3,642.7 715.6,614.9 715.8,558.9 716,657.7 716.2,555.2 716.5,642 716.7,565.8 716.9,625.7 717.2,527.3 717.4,639.9 717.6,662.9 717.8,493.9 718.1,709.5 718.3,541.4 718.5,577.2 718.8,521.6 719,531.3 719.2,648.3 719.4,715.9 719.7,626.8 719.9,668.9 720.1,702.2 720.3,618.9 720.6,712.3 720.8,666.1 721,546.2 721.3,624.1 721.5,680 721.7,635.9 721.9,703 722.2,668.2 722.4,564.7 722.6,531.5 722.9,608.5 723.1,672.5 723.3,627.5 723.5,646.9 723.8,647.1 724,530.9 724.2,632.5 724.4,535.7 724.7,488.3 724.9,620.2 725.1,531.2 725.4,506.3 725.6,631.5 725.8,658 726,639.2 726.3,704.6 726.5,681.6 726.7,620.1 727,516 727.2,501.5 727.4,635.4 727.6,675.4 727.9,524.8 728.1,549.8 728.3,524.5 728.5,690.6 728.8,550.2 729,474.3 729.2,650.2 729.5,713.3 729.7,675.6 729.9,601.8 730.1,547.4 730.4,652.7 730.6,541.8 730.8,645.4 731.1,680.5 731.3,674.3 731.5,521.8 731.7,621.3 732,619.5 732.2,611 732.4,533.7 732.6,628.8 732.9,545.5 733.1,702.1 733.3,710.6 733.6,563.4 733.8,528.6 734,543.1 734.2,623.6 734.5,681.3 734.7,639.3 734.9,648.7 735.2,528.3 735.4,670.3 735.6,659.2 735.8,535.4 736.1,634.1 736.3,538.9 736.5,642 736.8,606 737,644.2 737.2,549.1 737.4,653.3 737.7,532.7 737.9,667.4 738.1,530.8 738.3,650 738.6,534.2 738.8,645 739,689.3 739.3,554.1 739.5,636.5 739.7,537.5 739.9,705.8 740.2,526.4 740.4,527.6 740.6,617 740.9,642.3 741.1,555 741.3,473.2 741.5,697.9 741.8,538.9 742,493.9 742.2,526.6 742.4,684.6 742.7,632.6 742.9,630.2 743.1,537.8 743.4,651.9 743.6,517.7 743.8,550 744,551.2 744.3,529.1 744.5,531.1 744.7,641.2 745,671.6 745.2,538.8 745.4,630.6 745.6,601.4 745.9,608.2 746.1,531.9 746.3,590.6 746.5,543.4 746.8,535.3 747,628.1 747.2,622 747.5,636.8 747.7,660.9 747.9,559.4 748.1,655.7 748.4,650.9 748.6,519.8 748.8,645.2 749.1,631 749.3,638.2 749.5,626.3 749.7,645.6 750,600 750.2,553.8 750.4,638 750.6,603.6 750.9,532.9 751.1,649.1 751.3,654.1 751.6,544.2 751.8,540.9 752,694.8 752.2,630.8 752.5,639 752.7,631.3 752.9,657.3 753.2,551.7 753.4,670.3 753.6,538.9 753.8,622.8 754.1,652.5 754.3,546.4 754.5,542.8 754.8,523.7 755,646.5 755.2,679.6 755.4,621.4 755.7,549.5 755.9,567.9 756.1,549 756.3,643.1 756.6,665.1 756.8,705.3 757,667.4 757.3,548.1 757.5,660 757.7,630.2 757.9,642.6 758.2,663.8 758.4,636.6 758.6,663.7 758.9,675.2 759.1,545.6 759.3,666.3 759.5,614.9 759.8,554.9 760,665.2 760.2,620.2 760.4,526.9 760.7,544.3 760.9,710.9 761.1,546.8 761.4,521.7 761.6,523.4 761.8,533.7 762,663.4 762.3,645.6 762.5,546.3 762.7,613 763,668.9 763.2,565.4 763.4,527.8 763.6,625 763.9,534.2 764.1,529.1 764.3,516.6 764.5,703.4 764.8,548.3 765,535 765.2,628.2 765.5,678.6 765.7,704.9 765.9,671.6 766.1,628.6 766.4,622.2 766.6,544.4 766.8,707.7 767.1,650.6 767.3,607.3 767.5,538.6 767.7,534 768,709.1 768.2,552.2 768.4,633.3 768.7,541.6 768.9,549.1 769.1,666.4 769.3,538.4 769.6,702.6 769.8,651.1 770,505.7 770.2,642.9 770.5,519.8 770.7,549.9 770.9,532.5 771.2,660.6 771.4,678.3 771.6,302.4 771.8,644.8 772.1,661.4 772.3,520.9 772.5,481.7 772.8,537 773,656.2 773.2,619.9 773.4,641.9 773.7,637.3 773.9,648.5 774.1,597.2 774.3,650.9 774.6,620.5 774.8,702.8 775,617.3 775.3,655 775.5,626.3 775.7,658 775.9,647.5 776.2,559.4 776.4,636.3 776.6,591.5 776.9,651.5 777.1,647.4 777.3,535.6 777.5,542.1 777.8,659.8 778,500.6 778.2,615.2 778.4,664.2 778.7,699 778.9,648.4 779.1,539.7 779.4,699.2 779.6,629.9 779.8,609.3 780,651.5 780.3,536.3 780.5,536.2 780.7,675 781,653.3 781.2,539 781.4,620.4 781.6,651.8 781.9,549.3 782.1,673.7 782.3,634.3 782.5,526.6 782.8,574.6 783,612.7 783.2,544.4 783.5,531.2 783.7,638.7 783.9,699.6 784.1,697.6 784.4,623.4 784.6,634.3 784.8,648.3 785.1,536.8 785.3,645.1 785.5,616.5 785.7,550.7 786,643.8 786.2,522.2 786.4,522 786.7,622.5 786.9,698.4 787.1,650.6 787.3,584.3 787.6,640.6 787.8,640.6 788,594 788.2,535.6 788.5,679.5 788.7,650 788.9,668.3 789.2,487.2 789.4,641.1 789.6,646.8 789.8,536.6 790.1,536 790.3,618.8 790.5,664.8 790.8,693.2 791,535.8 791.2,535.8 791.4,541.7 791.7,656.5 791.9,619.4 792.1,697.7 792.3,660 792.6,645.4 792.8,542.1 793,538.6 793.3,655.3 793.5,552.8 793.7,688.9 793.9,691.8 794.2,540.4 794.4,645 794.6,628 794.9,639.6 795.1,541.9 795.3,644.4 795.5,615.5 795.8,621.4 796,702.8 796.2,554.7 796.4,648.2 796.7,550.7 796.9,527 797.1,604.7 797.4,534.9 797.6,640.1 797.8,548.5 798,542 798.3,625.3 798.5,529.8 798.7,516.3 799,551.3 799.2,557.5 799.4,644.8 799.6,620.9 799.9,616.5 800.1,526.6 800.3,698.8 800.6,639.8 800.8,673.4 801,547.5 801.2,527.5 801.5,669.5 801.7,552.1 801.9,602.4 802.1,622.9 802.4,649.4 802.6,555.4 802.8,624.1 803.1,651.8 803.3,549.4 803.5,702 803.7,657.6 804,522 804.2,588.4 804.4,654.1 804.7,642.9 804.9,515.8 805.1,533.9 805.3,641.9 805.6,656 805.8,495.7 806,688.3 806.2,663.3 806.5,636.6 806.7,547.3 806.9,532.5 807.2,665.7 807.4,661.2 807.6,650.2 807.8,700.6 808.1,526 808.3,716 808.5,544.1 808.8,620.6 809,539.3 809.2,608.8 809.4,628.3 809.7,622.9 809.9,625.5 810.1,665.2 810.3,626.6 810.6,640.9 810.8,657.3 811,529.5 811.3,531.4 811.5,655.2 811.7,674.7 811.9,672.8 812.2,645.2 812.4,671.4 812.6,648.4 812.9,539.9 813.1,640.2 813.3,523.5 813.5,661.7 813.8,643.5 814,609.8 814.2,639.5 814.5,541 814.7,540.4 814.9,635.8 815.1,550.6 815.4,592.5 815.6,676.6 815.8,674.8 816,645.1 816.3,672.5 816.5,644.5 816.7,610.7 817,639.9 817.2,626.2 817.4,635.9 817.6,639.8 817.9,642.7 818.1,670.1 818.3,705.8 818.6,678.9 818.8,656.7 819,671.3 819.2,536.8 819.5,657.4 819.7,533.8 819.9,664.5 820.1,676.1 820.4,537.5 820.6,540.9 820.8,554 821.1,529.3 821.3,626.4 821.5,648.8 821.7,640 822,532.5 822.2,557.7 822.4,630 822.7,492.8 822.9,547.8 823.1,622.8 823.3,679.5 823.6,638 823.8,541.1 824,654.4 824.2,621 824.5,543.3 824.7,629.6 824.9,648.1 825.2,616.1 825.4,612.1 825.6,651.8 825.8,568.8 826.1,627.2 826.3,546.3 826.5,544.4 826.8,627.9 827,703.8 827.2,658.5 827.4,660.9 827.7,520 827.9,663.6 828.1,539.8 828.3,542.6 828.6,547.8 828.8,561 829,525.8 829.3,650.6 829.5,531.8 829.7,550.8 829.9,649.1 830.2,606.5 830.4,653 830.6,544.5 830.9,663.4 831.1,616.9 831.3,557.4 831.5,503.9 831.8,664.5 832,556 832.2,610.3 832.5,651.8 832.7,683.1 832.9,556.1 833.1,527.9 833.4,656 833.6,610.6 833.8,559.2 834,621.4 834.3,538.4 834.5,553.6 834.7,564.6 835,632.6 835.2,483.2 835.4,707.9 835.6,647.5 835.9,620.3 836.1,527 836.3,709.1 836.6,638.6 836.8,520 837,544.3 837.2,548.6 837.5,535.7 837.7,658.4 837.9,537.5 838.1,632.9 838.4,518.3 838.6,509.8 838.8,628.5 839.1,633.1 839.3,633.3 839.5,703.5 839.7,531.5 840,568.4 840.2,687.3 840.4,558 840.7,526.2 840.9,643.6 841.1,527 841.3,626.8 841.6,645.7 841.8,672.6 842,539.6 842.2,652.5 842.5,700 842.7,536.4 842.9,517.4 843.2,518.9 843.4,555.8 843.6,617.8 843.8,540.8 844.1,513.1 844.3,538.5 844.5,618.7 844.8,543.6 845,646.8 845.2,528.1 845.4,650.6 845.7,643.6 845.9,630.6 846.1,633.2 846.4,542.9 846.6,663.9 846.8,546.3 847,535.3 847.3,647.9 847.5,659.7 847.7,667.1 847.9,638.9 848.2,539.6 848.4,629.4 848.6,651.7 848.9,610.4 849.1,644.1 849.3,620.8 849.5,518.7 849.8,603.7 850,657.9 850.2,649.5 850.5,617.1 850.7,654.4 850.9,643.2 851.1,603 851.4,641.6 851.6,539.7 851.8,667.2 852,638.6 852.3,658.3 852.5,521.6 852.7,665.7 853,678.1 853.2,645.8 853.4,678.1 853.6,500.6 853.9,564.5 854.1,704.1 854.3,538.8 854.6,569.7 854.8,541.7 855,619.7 855.2,509 855.5,617.5 855.7,530.1 855.9,532.7 856.1,642.2 856.4,535.6 856.6,643.4 856.8,666.5 857.1,673.6 857.3,523.8 857.5,540 857.7,529.7 858,677.3 858.2,547.7 858.4,641.4 858.7,641.7 858.9,538.5 859.1,662 859.3,642.3 859.6,539.3 859.8,544.8 860,663.5 860.2,615.3 860.5,380.4 860.7,698.7 860.9,660 861.2,673.4 861.4,608 861.6,632.8 861.8,528.7 862.1,684.8 862.3,709.2 862.5,645.8 862.8,546.5 863,662.3 863.2,540.8 863.4,526.1 863.7,653.5 863.9,590.8 864.1,638.7 864.4,639.6 864.6,678.8 864.8,704.3 865,614.7 865.3,629.4 865.5,572.1 865.7,614.2 865.9,636.3 866.2,554.7 866.4,611.8 866.6,708.2 866.9,658.7 867.1,552 867.3,660.4 867.5,643.8 867.8,640.2 868,540.7 868.2,697.7 868.5,651.3 868.7,520.9 868.9,669.3 869.1,530.6 869.4,545.3 869.6,624.1 869.8,547 870,552.2 870.3,526.3 870.5,468.3 870.7,711.2 871,538.8 871.2,540.6 871.4,621 871.6,708.7 871.9,636.9 872.1,619 872.3,705.4 872.6,654.4 872.8,646 873,699.2 873.2,675 873.5,564.1 873.7,615.4 873.9,545 874.1,641.8 874.4,535.7 874.6,516.6 874.8,660.6 875.1,618.2 875.3,525.1 875.5,673.6 875.7,528.8 876,487.2 876.2,524.2 876.4,650.1 876.7,652.6 876.9,525.3 877.1,615.5 877.3,671.4 877.6,579.7 877.8,534.9 878,538.4 878.2,707.3 878.5,647.4 878.7,631.6 878.9,657.6 879.2,526.9 879.4,528.3 879.6,628.1 879.8,622.2 880.1,547.8 880.3,609.9 880.5,537.6 880.8,715 881,639.1 881.2,660.6 881.4,638.8 881.7,540.7 881.9,552.3 882.1,616 882.4,634.2 882.6,509.5 882.8,537.5 883,553.5 883.3,528.9 883.5,655 883.7,650.1 883.9,642.5 884.2,623.3 884.4,655.3 884.6,615 884.9,539.7 885.1,545.3 885.3,642.2 885.5,571.5 885.8,604.3 886,546.4 886.2,534.5 886.5,616.2 886.7,549.7 886.9,548.6 887.1,529 887.4,655.5 887.6,615.3 887.8,539.7 888,637.4 888.3,543.3 888.5,714.7 888.7,560.7 889,667.1 889.2,651.2 889.4,531.3 889.6,671.6 889.9,577.9 890.1,524 890.3,602.6 890.6,532.8 890.8,556.3 891,539.6 891.2,645.8 891.5,540.2 891.7,634.1 891.9,619.6 892.1,530 892.4,647.5 892.6,645.1 892.8,532.2 893.1,640.8 893.3,590.2 893.5,704.2 893.7,542.7 894,534.2 894.2,623.6 894.4,541.9 894.7,629 894.9,675 895.1,661.8 895.3,633.1 895.6,669.4 895.8,543.1 896,549 896.3,528 896.5,616.3 896.7,550.5 896.9,647.3 897.2,549.2 897.4,698.1 897.6,631.1 897.8,501.8 898.1,640.4 898.3,630.9 898.5,644.9 898.8,528.5 899,632.3 899.2,633.4 899.4,714.1 899.7,530.3 899.9,681.6 900.1,547.5 900.4,547.5 900.6,644.4 900.8,666.4 901,529.4 901.3,534.1 901.5,518.6 901.7,511.2 901.9,699.5 902.2,648.6 902.4,646.7 902.6,521.2 902.9,666.1 903.1,633.7 903.3,629.7 903.5,562 903.8,557.4 904,650.7 904.2,647.9 904.5,642.3 904.7,629.9 904.9,646.6 905.1,619.7 905.4,657.2 905.6,685 905.8,670.9 906,624.6 906.3,677.3 906.5,556.5 906.7,612.5 907,627.2 907.2,525.8 907.4,543.3 907.6,637 907.9,630.4 908.1,539.3 908.3,681.1 908.6,539.5 908.8,655.7 909,632.6 909.2,552.5 909.5,706.9 909.7,574.3 909.9,647.4 910.1,499.3 910.4,527.5 910.6,551.5 910.8,547.8 911.1,545.1 911.3,640.8 911.5,700.3 911.7,713.3 912,623.7 912.2,529.3 912.4,636.6 912.7,512.8 912.9,606 913.1,633 913.3,653.9 913.6,543.1 913.8,564.2 914,531.3 914.3,550.4 914.5,525.4 914.7,567.7 914.9,644.5 915.2,619 915.4,627.9 915.6,524.9 915.8,545.1 916.1,625.5 916.3,641.6 916.5,616.2 916.8,635.8 917,656.1 917.2,546.8 917.4,694.2 917.7,629 917.9,547 918.1,600.5 918.4,565 918.6,537.7 918.8,607.4 919,519.8 919.3,631.5 919.5,533.8 919.7,525.7 919.9,669.2 920.2,645.8 920.4,660 920.6,550.4 920.9,611.4 921.1,538.1 921.3,539.3 921.5,536.1 921.8,619.8 922,628.6 922.2,517.4 922.5,543.1 922.7,624.7 922.9,628.8 923.1,548.5 923.4,635.5 923.6,651.8 923.8,675.4 924,698 924.3,651.4 924.5,491.7 924.7,520.6 925,677.2 925.2,632.7 925.4,524.5 925.6,532.4 925.9,655 926.1,669.9 926.3,713.9 926.6,700.4 926.8,539.7 927,542 927.2,534 927.5,655.8 927.7,548.9 927.9,551.7 928.2,624.2 928.4,647.3 928.6,624.3 928.8,646.9 929.1,530.7 929.3,538.3 929.5,655.9 929.7,612 930,634.5 930.2,669.4 930.4,639.4 930.7,698.4 930.9,669.6 931.1,634.9 931.3,528.3 931.6,628.1 931.8,638.7 932,647.9 932.3,647.8 932.5,543.4 932.7,547.3 932.9,604.7 933.2,658.5 933.4,669 933.6,565.2 933.8,529.7 934.1,539.9 934.3,695.5 934.5,528.7 934.8,548.7 935,541.5 935.2,618.9 935.4,698.3 935.7,656 935.9,620.3 936.1,558 936.4,640.1 936.6,628.3 936.8,654.3 937,657.5 937.3,529.8 937.5,632.9 937.7,639.8 937.9,584.8 938.2,535.2 938.4,688.5 938.6,519.8 938.9,544.8 939.1,530.6 939.3,541.7 939.5,533.5 939.8,654.6 940,605 940.2,620.3 940.5,678 940.7,643.2 940.9,664.3 941.1,554.6 941.4,539.3 941.6,655.7 941.8,553.7 942,635.1 942.3,624.3 942.5,637.1 942.7,524.2 943,667.7 943.2,542 943.4,567.4 943.6,546.2 943.9,524.6 944.1,675.4 944.3,652.5 944.6,587.6 944.8,668.7 945,540.7 945.2,549.4 945.5,633.9 945.7,623.8 945.9,645.4 946.2,520.4 946.4,635 946.6,536.3 946.8,538.9 947.1,585 947.3,536.3 947.5,617.6 947.7,660.5 948,689.4 948.2,638.6 948.4,626.5 948.7,630.8 948.9,615.7 949.1,670.4 949.3,649 949.6,601.1 949.8,637.7 950,533.3 950.3,540 950.5,636.8 950.7,661.7 950.9,688.1 951.2,646.2 951.4,647.2 951.6,630.7 951.8,620.2 952.1,625 952.3,624 952.5,604.2 952.8,661.5 953,670.2 953.2,566 953.4,655.8 953.7,627.3 953.9,502.8 954.1,519.7 954.4,625 954.6,519.1 954.8,678.2 955,531.5 955.3,673.6 955.5,645.9 955.7,655.9 955.9,668.4 956.2,648.6 956.4,662.6 956.6,549.1 956.9,644.3 957.1,667 957.3,672.8 957.5,529.9 957.8,587.8 958,685.8 958.2,526.9 958.5,535.8 958.7,632.7 958.9,666.8 959.1,656.3 959.4,526.4 959.6,538.6 959.8,630.2 960.1,482.3 960.3,662.2 960.5,668.3 960.7,608 961,616 961.2,701.9 961.4,679.7 961.6,537.5 961.9,555.6 962.1,643.4 962.3,538 962.6,681.8 962.8,658.6 963,611.1 963.2,668.3 963.5,614.5 963.7,633.1 963.9,558.8 964.2,668 964.4,533 964.6,700.2 964.8,660.4 965.1,537.2 965.3,635.6 965.5,677.8 965.7,537.3 966,644.9 966.2,699.3 966.4,681.4 966.7,635.5 966.9,635.7 967.1,616 967.3,552.1 967.6,531.2 967.8,655.3 968,669.3 968.3,603 968.5,656 968.7,524.2 968.9,637.3 969.2,636.8 969.4,554.9 969.6,716 969.8,710.6 970.1,544.4 970.3,664.4 970.5,632 970.8,543.4 971,642.1 971.2,675.4 971.4,678.7 971.7,536.1 971.9,619 972.1,650 972.4,548.6 972.6,546.2 972.8,533.8 973,546.4 973.3,651.2 973.5,710 973.7,622 974,527.9 974.2,617.7 974.4,533.6 974.6,651 974.9,646.1 975.1,619.7 975.3,666.4 975.5,542.9 975.8,664.6 976,636.7 976.2,665 976.5,602.5 976.7,642.4 976.9,615 977.1,533.5 977.4,499.5 977.6,540.8 977.8,646.7 978.1,572.9 978.3,645.5 978.5,533 978.7,661 979,642.5 979.2,588.8 979.4,648.9 979.6,642.9 979.9,605 980.1,616.2 980.3,547.8 980.6,550.8 980.8,630.8 981,538.4 981.2,645 981.5,630.8 981.7,630.7 981.9,604.5 982.2,665.6 982.4,561.6 982.6,638.8 982.8,625.5 983.1,618 983.3,555 983.5,525.5 983.7,607.1 984,586.7 984.2,611 984.4,680.6 984.7,631 984.9,534.3 985.1,550.4 985.3,517.9 985.6,651.9 985.8,637 986,536.7 986.3,630.9 986.5,715 986.7,650 986.9,664.8 987.2,637.3 987.4,501 987.6,552.5 987.8,549.1 988.1,543.9 988.3,663.9 988.5,672.1 988.8,582.4 989,636.7 989.2,634 989.4,642.7 989.7,501.3 989.9,636.8 990.1,613.1 990.4,630.3 990.6,643.8 990.8,660.3 991,535.7 991.3,659.3 991.5,571.4 991.7,657.6 992,709.3 992.2,524.7 992.4,631 992.6,528.3 992.9,535 993.1,537.8 993.3,626.2 993.5,613.6 993.8,631.7 994,498.4 994.2,656.9 994.5,619.1 994.7,620.2 994.9,530 995.1,538.2 995.4,621.9 995.6,608.9 995.8,545.9 996.1,545.8 996.3,649.9 996.5,533.5 996.7,675 997,540.2 997.2,660 997.4,635.8 997.6,672 997.9,534.8 998.1,535.3 998.3,710.3 998.6,678.8 998.8,539.9 999,647.6 999.2,554 999.5,621.8 999.7,639.6 999.9,554.3 1000.2,531.9 1000.4,646.7 1000.6,489.5 1000.8,668.4 1001.1,640.2 1001.3,635.4 1001.5,623.9 1001.7,682.8 1002,525.9 1002.2,604 1002.4,668.2 1002.7,521.9 1002.9,617.3 1003.1,537.7 1003.3,470.5 1003.6,659.4 1003.8,654.7 1004,666.9 1004.3,650.2 1004.5,629.9 1004.7,553.7 1004.9,645.8 1005.2,608.2 1005.4,680.9 1005.6,543 1005.9,527 1006.1,652.8 1006.3,538.9 1006.5,632.7 1006.8,649.8 1007,542.6 1007.2,625.9 1007.4,624.8 1007.7,657.8 1007.9,608.6 1008.1,522.9 1008.4,550.7 1008.6,538.8 1008.8,674.9 1009,549.8 1009.3,629.6 1009.5,532.3 1009.7,662 1010,706.9 1010.2,537.9 1010.4,667.7 1010.6,610.6 1010.9,654.4 1011.1,655.9 1011.3,714.4 1011.5,639.7 1011.8,543.6 1012,664.2 1012.2,541.1 1012.5,701.2 1012.7,657.6 1012.9,642.2 1013.1,666.5 1013.4,551.6 1013.6,520.3 1013.8,525.6 1014.1,486.8 1014.3,631.1 1014.5,542.6 1014.7,619.5 1015,706 1015.2,653.4 1015.4,628.1 1015.6,635.8 1015.9,644.4 1016.1,561.8 1016.3,712.9 1016.6,648 1016.8,710.4 1017,526.6 1017.2,700 1017.5,687.1 1017.7,526.7 1017.9,541.1 1018.2,638 1018.4,629.6 1018.6,636.6 1018.8,545.2 1019.1,556.6 1019.3,538.2 1019.5,527.6" fill="none" stroke="#5a5a5a" stroke-width="3.6" stroke-linejoin="round" marker-start="url(#mk)" marker-mid="url(#mk)" marker-end="url(#mk)"/>
<polyline points="206.3,632.9 206.5,647.2 206.8,646.7 207,644 207.2,647.9 207.4,596 207.7,615 207.9,564 208.1,574.6 208.3,551.6 208.6,552.7 208.8,722.1 209,668.5 209.3,661.7 209.5,658.1 209.7,661.1 209.9,551.4 210.2,729.7 210.4,573.9 210.6,536.8 210.9,618.8 211.1,556.5 211.3,689.9 211.5,594.6 211.8,615.5 212,554.1 212.2,554.7 212.5,551.7 212.7,551 212.9,617.3 213.1,551.9 213.4,651.5 213.6,650.4 213.8,731.9 214,588.6 214.3,612.7 214.5,619.8 214.7,583.5 215,617.3 215.2,616.1 215.4,645.7 215.6,616.7 215.9,579.3 216.1,564 216.3,648 216.6,735.3 216.8,627.9 217,542.1 217.2,571.2 217.5,543.3 217.7,650.9 217.9,467.2 218.1,586 218.4,628.8 218.6,550 218.8,648.3 219.1,548.4 219.3,583.2 219.5,736.3 219.7,654.4 220,657.3 220.2,617.2 220.4,650.7 220.7,660.3 220.9,539.7 221.1,617.1 221.3,652.3 221.6,639.4 221.8,588.4 222,656.5 222.2,588.9 222.5,531.6 222.7,656.7 222.9,619.8 223.2,661.2 223.4,625.8 223.6,660.6 223.8,546.1 224.1,546.9 224.3,539.1 224.5,559.5 224.8,632.8 225,648.1 225.2,547.2 225.4,552.4 225.7,568.9 225.9,621.2 226.1,653.9 226.4,585.4 226.6,542.9 226.8,603.3 227,616.2 227.3,540 227.5,617.6 227.7,588.1 227.9,535.4 228.2,626.2 228.4,596.2 228.6,650.3 228.9,649.3 229.1,533.3 229.3,645.4 229.5,533.3 229.8,671.5 230,617.4 230.2,655.3 230.5,630.1 230.7,620.5 230.9,543.1 231.1,581.2 231.4,601.5 231.6,663.2 231.8,540.5 232,542.9 232.3,714.1 232.5,617.5 232.7,619.7 233,616.6 233.2,622.7 233.4,631.4 233.6,547.4 233.9,580.2 234.1,583.6 234.3,663.5 234.6,654.7 234.8,618.7 235,623.1 235.2,615.2 235.5,618 235.7,653.4 235.9,540.1 236.1,649.2 236.4,620.8 236.6,636 236.8,644.3 237.1,678.4 237.3,653.2 237.5,562.8 237.7,656.9 238,643.4 238.2,628.7 238.4,649.5 238.7,635.8 238.9,643.1 239.1,653.4 239.3,648.1 239.6,542.4 239.8,627.7 240,596.8 240.2,645.5 240.5,539.4 240.7,619.6 240.9,535.5 241.2,582.4 241.4,641.9 241.6,535.6 241.8,543.4 242.1,550.6 242.3,614.7 242.5,549.8 242.8,706.5 243,548.9 243.2,545.4 243.4,671.3 243.7,537.8 243.9,577.2 244.1,617.3 244.4,587.1 244.6,550.8 244.8,582.8 245,701 245.3,650.7 245.5,640.6 245.7,548.9 245.9,649.8 246.2,539.2 246.4,537.8 246.6,620.8 246.9,540 247.1,588.5 247.3,538.2 247.5,500.1 247.8,565.3 248,696.3 248.2,623.7 248.5,546.1 248.7,659.5 248.9,711.4 249.1,600.6 249.4,581 249.6,538.6 249.8,655 250,710.7 250.3,540.1 250.5,637.7 250.7,636.2 251,658.8 251.2,469 251.4,624.7 251.6,652.5 251.9,637.2 252.1,539.5 252.3,675 252.6,708.7 252.8,646.5 253,654.4 253.2,598.2 253.5,651.2 253.7,582.5 253.9,535.6 254.1,530.4 254.4,660.5 254.6,617.8 254.8,560.6 255.1,537.9 255.3,653.8 255.5,678.2 255.7,714.7 256,546.3 256.2,674.8 256.4,644.2 256.7,645.2 256.9,629.5 257.1,543.9 257.3,682 257.6,646 257.8,578 258,650.9 258.3,544.9 258.5,551.6 258.7,551.6 258.9,540.7 259.2,530.9 259.4,608.4 259.6,588.5 259.8,633.3 260.1,580.8 260.3,642.8 260.5,580.4 260.8,653.6 261,700.6 261.2,550.6 261.4,555.9 261.7,642.7 261.9,616.1 262.1,661.2 262.4,532.1 262.6,627.3 262.8,688.8 263,698.7 263.3,589.5 263.5,659.1 263.7,726.7 263.9,622 264.2,602 264.4,529.9 264.6,669.9 264.9,644.9 265.1,541.6 265.3,634 265.5,575 265.8,600.7 266,623.4 266.2,613.1 266.5,544.1 266.7,648.3 266.9,549.4 267.1,589.1 267.4,586.5 267.6,653.7 267.8,724.7 268,529.3 268.3,539.2 268.5,726.1 268.7,651.1 269,532.8 269.2,618.9 269.4,580.8 269.6,538.9 269.9,667 270.1,696.2 270.3,648.5 270.6,658.6 270.8,544.8 271,655 271.2,512.8 271.5,581 271.7,548.7 271.9,577.4 272.1,543.4 272.4,532.5 272.6,587.8 272.8,542.2 273.1,648.4 273.3,543.1 273.5,652 273.7,583.2 274,646 274.2,648.5 274.4,660.9 274.7,572.6 274.9,613.7 275.1,631 275.3,631.2 275.6,532.2 275.8,624.1 276,538.4 276.3,650.3 276.5,584 276.7,621.3 276.9,542 277.2,645.2 277.4,659.8 277.6,583.4 277.8,547.1 278.1,646 278.3,660.1 278.5,578.2 278.8,534.7 279,656.3 279.2,563.3 279.4,613 279.7,540.6 279.9,652.1 280.1,690.6 280.4,545.1 280.6,569.7 280.8,631 281,636.8 281.3,545.7 281.5,540.1 281.7,579.8 281.9,540.9 282.2,532.7 282.4,655.5 282.6,633.8 282.9,619.6 283.1,634.7 283.3,654.4 283.5,620 283.8,650 284,648.6 284.2,499.5 284.5,621.2 284.7,656.7 284.9,619.1 285.1,582.2 285.4,538.1 285.6,548.4 285.8,621.5 286,543.1 286.3,662.2 286.5,644.8 286.7,704.9 287,470.5 287.2,648.8 287.4,655.2 287.6,619.9 287.9,535.6 288.1,663 288.3,620.2 288.6,629.4 288.8,547 289,538.6 289.2,636.3 289.5,704.3 289.7,633.1 289.9,543.6 290.2,700 290.4,657.6 290.6,547.2 290.8,650.5 291.1,536.8 291.3,622.7 291.5,593.6 291.7,544.1 292,644.9 292.2,551.6 292.4,614.4 292.7,540 292.9,686.1 293.1,605.5 293.3,651 293.6,546.1 293.8,552.3 294,624.7 294.3,537.7 294.5,613.1 294.7,658.2 294.9,638.1 295.2,537.5 295.4,648.1 295.6,651.8 295.8,536.3 296.1,530.2 296.3,545.9 296.5,547.3 296.8,669.3 297,625.1 297.2,654.3 297.4,661.7 297.7,650.7 297.9,618.8 298.1,621.8 298.4,606.7 298.6,464.5 298.8,533.5 299,709 299.3,544.1 299.5,499.5 299.7,681.7 299.9,534.9 300.2,537.7 300.4,656.9 300.6,535.9 300.9,575.5 301.1,584.7 301.3,539.4 301.5,537.7 301.8,653.9 302,659 302.2,706.7 302.5,544.1 302.7,542.5 302.9,536.1 303.1,621.4 303.4,653.9 303.6,617.8 303.8,621.2 304.1,541.8 304.3,488.3 304.5,645.6 304.7,628.7 305,620.3 305.2,565.1 305.4,647.7 305.6,533.3 305.9,540.5 306.1,548.1 306.3,543.9 306.6,637.1 306.8,542.8 307,613.1 307.2,550.3 307.5,614.5 307.7,621.2 307.9,545.5 308.2,668.8 308.4,531.6 308.6,545.3 308.8,545.4 309.1,538.9 309.3,620.9 309.5,584.2 309.7,643.7 310,538.6 310.2,668.4 310.4,619.4 310.7,671.8 310.9,539.6 311.1,547.2 311.3,652.9 311.6,548 311.8,572 312,540 312.3,652.3 312.5,546.6 312.7,539.4 312.9,580.1 313.2,654.4 313.4,584.4 313.6,632.7 313.8,645.3 314.1,619.9 314.3,630.9 314.5,650.2 314.8,537.2 315,669 315.2,633.9 315.4,541.7 315.7,655.2 315.9,477.2 316.1,549 316.4,617.2 316.6,622.5 316.8,541.8 317,575.3 317.3,570.4 317.5,580 317.7,641.5 317.9,678.5 318.2,678.1 318.4,502.8 318.6,736.8 318.9,578.4 319.1,537.2 319.3,629.7 319.5,534.4 319.8,540.8 320,542.1 320.2,582.1 320.5,543.7 320.7,653.5 320.9,623.3 321.1,617 321.4,541.2 321.6,628.1 321.8,534.1 322.1,618.2 322.3,733.9 322.5,599.6 322.7,682.9 323,710.3 323.2,629.2 323.4,655.6 323.6,612.8 323.9,631 324.1,540.9 324.3,733.9 324.6,534.5 324.8,485 325,644.2 325.2,621.6 325.5,633.9 325.7,690 325.9,721.4 326.2,624.7 326.4,659 326.6,715.2 326.8,477.7 327.1,636.8 327.3,701.2 327.5,694.3 327.7,714.2 328,599.1 328.2,704.3 328.4,615.9 328.7,564.7 328.9,643.9 329.1,643.4 329.3,627.4 329.6,634.9 329.8,619.2 330,644.9 330.3,618.3 330.5,546.6 330.7,724.2 330.9,546.8 331.2,658.1 331.4,649.1 331.6,619.2 331.8,530 332.1,622.1 332.3,649.2 332.5,628 332.8,625.4 333,614.4 333.2,642.7 333.4,556.4 333.7,703.5 333.9,619.9 334.1,615.5 334.4,624.5 334.6,535.8 334.8,602.6 335,571.4 335.3,532.5 335.5,698.2 335.7,561.1 335.9,542.7 336.2,638.9 336.4,588.5 336.6,616 336.9,653 337.1,568.3 337.3,645.5 337.5,551 337.8,612.6 338,532.3 338.2,550.5 338.5,541.2 338.7,555.7 338.9,616.4 339.1,548.2 339.4,539.4 339.6,708.8 339.8,615.2 340.1,647.6 340.3,534.9 340.5,666.9 340.7,678.6 341,646.5 341.2,625 341.4,656.5 341.6,549.4 341.9,534.4 342.1,548.4 342.3,618.6 342.6,644.2 342.8,723.1 343,619.4 343.2,546.6 343.5,617 343.7,620 343.9,729.4 344.2,632.6 344.4,537.6 344.6,701.3 344.8,622.3 345.1,615 345.3,648.5 345.5,539.9 345.7,542 346,712.8 346.2,650.4 346.4,714 346.7,625 346.9,623.2 347.1,621.5 347.3,548.1 347.6,652 347.8,619.6 348,619.4 348.3,634.9 348.5,617.4 348.7,650.8 348.9,617 349.2,546.8 349.4,612.7 349.6,654.8 349.8,541.9 350.1,641.8 350.3,621.7 350.5,658 350.8,556.1 351,538.5 351.2,665.3 351.4,618.4 351.7,556 351.9,616.4 352.1,666.6 352.4,687 352.6,557.1 352.8,563.8 353,697.1 353.3,542.6 353.5,619.3 353.7,700.8 354,656 354.2,620.2 354.4,617.9 354.6,616.2 354.9,540.8 355.1,653.2 355.3,672.8 355.5,616.9 355.8,567.2 356,534.3 356.2,652.8 356.5,620.5 356.7,618.7 356.9,616.2 357.1,637.7 357.4,653.5 357.6,544.8 357.8,557.5 358.1,623.3 358.3,650.8 358.5,620.5 358.7,633.3 359,616.6 359.2,616.2 359.4,663.3 359.6,662 359.9,709.9 360.1,652 360.3,602.3 360.6,651.7 360.8,712.4 361,535.4 361.2,662.2 361.5,604.2 361.7,542 361.9,538.3 362.2,647.5 362.4,637.6 362.6,637 362.8,615.9 363.1,715.3 363.3,655.6 363.5,541 363.7,647.1 364,619.9 364.2,658.5 364.4,592.4 364.7,619.7 364.9,535.7 365.1,650.5 365.3,634.6 365.6,637.9 365.8,584.7 366,649.7 366.3,622.2 366.5,715.2 366.7,645.2 366.9,656.2 367.2,567.8 367.4,619.3 367.6,537.1 367.9,664.8 368.1,541.8 368.3,538.4 368.5,687.1 368.8,580.3 369,538.9 369.2,684.3 369.4,539.7 369.7,528.7 369.9,614.5 370.1,620.5 370.4,702.2 370.6,690.6 370.8,687.8 371,475.7 371.3,629.9 371.5,638.4 371.7,560.2 372,583.9 372.2,581.3 372.4,550.4 372.6,536.5 372.9,657.2 373.1,536.9 373.3,649.3 373.5,563.1 373.8,386.4 374,654.5 374.2,554.6 374.5,636 374.7,618.4 374.9,541.6 375.1,612.7 375.4,588.8 375.6,714.5 375.8,663.1 376.1,712.9 376.3,680.5 376.5,539.3 376.7,645.7 377,620.6 377.2,615.8 377.4,654.1 377.6,543.4 377.9,666.4 378.1,543.1 378.3,629.9 378.6,666 378.8,548.4 379,649.1 379.2,695.8 379.5,672 379.7,532.7 379.9,635.5 380.2,551 380.4,623.2 380.6,622.7 380.8,620.8 381.1,542.8 381.3,535.5 381.5,671.3 381.7,682.9 382,555.9 382.2,643.4 382.4,644.7 382.7,537.4 382.9,639 383.1,653.4 383.3,547.3 383.6,650 383.8,528.9 384,541.7 384.3,618.2 384.5,620 384.7,576.1 384.9,546.6 385.2,574.2 385.4,702 385.6,556 385.9,565 386.1,654.3 386.3,532.5 386.5,549.1 386.8,711 387,621.2 387.2,653.8 387.4,645.6 387.7,555 387.9,649.3 388.1,418.7 388.4,613.6 388.6,625.2 388.8,614.5 389,617.5 389.3,618.5 389.5,562.4 389.7,699.3 390,652.1 390.2,553.8 390.4,621.2 390.6,620.2 390.9,675.4 391.1,693 391.3,696.5 391.5,652.6 391.8,549.8 392,545.6 392.2,621.6 392.5,654.2 392.7,649 392.9,549.7 393.1,606.5 393.4,470.1 393.6,615.3 393.8,560.3 394.1,623.2 394.3,652.9 394.5,587.8 394.7,539.2 395,617 395.2,655.1 395.4,654 395.6,662.1 395.9,544.2 396.1,543.8 396.3,642.1 396.6,554.4 396.8,665.3 397,535.5 397.2,646.1 397.5,619 397.7,535.5 397.9,585.2 398.2,540.5 398.4,623.9 398.6,620.6 398.8,588.3 399.1,546.9 399.3,625 399.5,544.3 399.8,543.9 400,655.9 400.2,708 400.4,649.3 400.7,654.7 400.9,618.2 401.1,546.9 401.3,588.8 401.6,497.9 401.8,655 402,617.8 402.3,621.7 402.5,536.4 402.7,638.1 402.9,620.4 403.2,554.2 403.4,538.1 403.6,662.7 403.9,614 404.1,540.5 404.3,544.3 404.5,624.2 404.8,506.2 405,533 405.2,587.6 405.4,534.7 405.7,706.3 405.9,535.3 406.1,655.7 406.4,552.1 406.6,662.8 406.8,616.8 407,652.3 407.3,625.3 407.5,637.2 407.7,675.9 408,534.2 408.2,465 408.4,617.6 408.6,637.5 408.9,540.7 409.1,619.6 409.3,550.8 409.5,626.9 409.8,541.8 410,645.1 410.2,643.1 410.5,571.7 410.7,629.3 410.9,602.3 411.1,648.9 411.4,535.8 411.6,571 411.8,569.5 412.1,654.8 412.3,617.2 412.5,541.3 412.7,698.8 413,532.5 413.2,645.9 413.4,531.6 413.6,553.9 413.9,588 414.1,590.4 414.3,659.6 414.6,575 414.8,612.9 415,645.8 415.2,648.7 415.5,539.1 415.7,566.3 415.9,620.3 416.2,654.7 416.4,532.1 416.6,648.8 416.8,624.5 417.1,534.2 417.3,666.1 417.5,602.3 417.8,532.1 418,620.5 418.2,653.5 418.4,580.3 418.7,647.4 418.9,534.7 419.1,546.5 419.3,659.6 419.6,546.5 419.8,537.2 420,620 420.3,583.8 420.5,637.1 420.7,548.1 420.9,581.5 421.2,532.5 421.4,648.4 421.6,457.2 421.9,537.7 422.1,625.1 422.3,623 422.5,710.1 422.8,467.2 423,621.8 423.2,533.9 423.4,592.5 423.7,649.4 423.9,649.5 424.1,577 424.4,294.2 424.6,592.8 424.8,650.2 425,533.1 425.3,530.9 425.5,656.5 425.7,621.5 426,651.8 426.2,614.3 426.4,584.8 426.6,591.3 426.9,661.6 427.1,546.4 427.3,574.9 427.5,661.5 427.8,683.4 428,619.8 428.2,533 428.5,715.2 428.7,616.9 428.9,623.3 429.1,531.8 429.4,495 429.6,622.3 429.8,625.6 430.1,584.3 430.3,655.9 430.5,581.9 430.7,548.5 431,670.1 431.2,582.3 431.4,545.2 431.6,692.7 431.9,630.6 432.1,692.2 432.3,544.9 432.6,616.1 432.8,640.9 433,652.4 433.2,661.7 433.5,652.8 433.7,640.5 433.9,667.3 434.2,620.2 434.4,650.8 434.6,618.4 434.8,553.5 435.1,664.3 435.3,616.3 435.5,623 435.8,549.3 436,590 436.2,530.4 436.4,636.4 436.7,616.1 436.9,622.4 437.1,502.1 437.3,635.3 437.6,665.5 437.8,556.7 438,617.9 438.3,542.4 438.5,544.5 438.7,648.3 438.9,651 439.2,539.5 439.4,551.3 439.6,538.2 439.9,616.4 440.1,480.6 440.3,693.7 440.5,644.6 440.8,587.5 441,540.8 441.2,618.6 441.4,643.1 441.7,648.7 441.9,708.3 442.1,633.3 442.4,591 442.6,553.2 442.8,536 443,534.1 443.3,551.6 443.5,531.1 443.7,540.8 444,621.8 444.2,545.7 444.4,573.4 444.6,628.3 444.9,643.7 445.1,655.9 445.3,537.3 445.5,654.5 445.8,651.4 446,619.7 446.2,532.4 446.5,692.8 446.7,581.7 446.9,651.7 447.1,551.3 447.4,639.7 447.6,566.2 447.8,615.9 448.1,587.7 448.3,461 448.5,591.1 448.7,534.5 449,531.7 449.2,637.7 449.4,619.2 449.7,702.7 449.9,650.8 450.1,584.9 450.3,591.9 450.6,656.4 450.8,722.4 451,659.7 451.2,686.6 451.5,688.1 451.7,548.9 451.9,656.4 452.2,687.3 452.4,622 452.6,634.1 452.8,546.4 453.1,664.7 453.3,560.8 453.5,545.3 453.8,619.8 454,589.6 454.2,701.6 454.4,626.3 454.7,619 454.9,650.3 455.1,618.3 455.3,624.8 455.6,695.5 455.8,656.9 456,656.8 456.3,642.8 456.5,535.2 456.7,468.8 456.9,532.6 457.2,651.8 457.4,693.8 457.6,507.3 457.9,664.3 458.1,588.2 458.3,715.6 458.5,541.4 458.8,584.4 459,623.8 459.2,625 459.4,537.5 459.7,344.7 459.9,553.1 460.1,616 460.4,575.2 460.6,531.6 460.8,626.9 461,535.8 461.3,532.4 461.5,542.4 461.7,608.9 462,543.6 462.2,540 462.4,590.4 462.6,536.2 462.9,536.4 463.1,617.1 463.3,613 463.6,536.6 463.8,535.2 464,613.2 464.2,650.7 464.5,624.2 464.7,616.6 464.9,540.6 465.1,638.1 465.4,646.4 465.6,545.1 465.8,535.5 466.1,540.1 466.3,662.7 466.5,583.1 466.7,664.3 467,631.3 467.2,717 467.4,660.2 467.7,645.9 467.9,543 468.1,467.2 468.3,591.3 468.6,536.2 468.8,614.1 469,683.5 469.2,641.3 469.5,621.2 469.7,594.5 469.9,668.3 470.2,615.6 470.4,532.5 470.6,651.4 470.8,651.4 471.1,618.4 471.3,555.4 471.5,613.5 471.8,477.2 472,538.9 472.2,655.2 472.4,580.8 472.7,556.5 472.9,691.2 473.1,645.2 473.3,665.1 473.6,569 473.8,547.7 474,551.3 474.3,653.8 474.5,618.1 474.7,623 474.9,535.4 475.2,636.4 475.4,644.6 475.6,641.6 475.9,628.9 476.1,649.3 476.3,533.5 476.5,628.2 476.8,617.9 477,538 477.2,473.4 477.4,649.7 477.7,660.2 477.9,614.2 478.1,577.1 478.4,662.7 478.6,646.3 478.8,618.9 479,650.5 479.3,655 479.5,652.1 479.7,622.5 480,553.4 480.2,576.6 480.4,690.5 480.6,489 480.9,582 481.1,544.8 481.3,540.5 481.6,624.6 481.8,675.9 482,649.1 482.2,659.4 482.5,613.4 482.7,665.9 482.9,541.3 483.1,551.9 483.4,623.8 483.6,652.9 483.8,545.1 484.1,649.9 484.3,616.8 484.5,476.5 484.7,579.4 485,641.7 485.2,653.5 485.4,649.3 485.7,567.2 485.9,616.8 486.1,544.5 486.3,542.2 486.6,538.8 486.8,636 487,614.1 487.2,559.6 487.5,577.5 487.7,537.1 487.9,615.7 488.2,649.6 488.4,548.3 488.6,653.5 488.8,654 489.1,618.9 489.3,532.1 489.5,622.4 489.8,630.7 490,529.9 490.2,546.1 490.4,554.3 490.7,652.9 490.9,538.8 491.1,648.6 491.3,656.6 491.6,660.6 491.8,624.3 492,621 492.3,619.2 492.5,650 492.7,539 492.9,615 493.2,645.5 493.4,615.1 493.6,585.4 493.9,538.8 494.1,547.1 494.3,618.9 494.5,555.8 494.8,543.1 495,530.5 495.2,558.1 495.4,626.4 495.7,536.5 495.9,614.3 496.1,614 496.4,559.9 496.6,639.8 496.8,647.6 497,612.8 497.3,576.3 497.5,572.1 497.7,576.5 498,647.7 498.2,626.8 498.4,665.1 498.6,639.9 498.9,625.8 499.1,657 499.3,624.7 499.6,625.9 499.8,642.7 500,560.6 500.2,704.7 500.5,652.9 500.7,618.6 500.9,647.2 501.1,536.9 501.4,529.5 501.6,642.3 501.8,531.4 502.1,655.5 502.3,621 502.5,577.1 502.7,575.4 503,539.6 503.2,667.4 503.4,600.8 503.7,535.8 503.9,617 504.1,620.4 504.3,540.4 504.6,621.7 504.8,540.5 505,593.2 505.2,613 505.5,643.1 505.7,625.2 505.9,647.5 506.2,702.5 506.4,651.3 506.6,622.6 506.8,662 507.1,710.4 507.3,554.5 507.5,548.5 507.8,666.3 508,538.8 508.2,540.9 508.4,621.7 508.7,649.7 508.9,576.3 509.1,619.2 509.3,626.5 509.6,696.3 509.8,532.8 510,491.2 510.3,639.8 510.5,652.8 510.7,659.3 510.9,637.4 511.2,463.9 511.4,602.2 511.6,651.3 511.9,544.3 512.1,651.7 512.3,539.3 512.5,650.3 512.8,538.3 513,532.1 513.2,580.8 513.5,679.9 513.7,546 513.9,611.7 514.1,617.5 514.4,620.6 514.6,615.4 514.8,627.3 515,366.6 515.3,583.8 515.5,609.1 515.7,585 516,658.2 516.2,607.9 516.4,540 516.6,650.3 516.9,704.9 517.1,604.2 517.3,582.2 517.6,653.8 517.8,543.3 518,572.6 518.2,634.7 518.5,478.3 518.7,674.6 518.9,654.9 519.1,577.6 519.4,583.1 519.6,540.1 519.8,588.4 520.1,534.2 520.3,576.7 520.5,652.6 520.7,637.5 521,590.5 521.2,542.3 521.4,548.9 521.7,666.6 521.9,653.5 522.1,689.6 522.3,551.7 522.6,654.2 522.8,531.6 523,585.6 523.2,616.9 523.5,545.7 523.7,599.1 523.9,675.1 524.2,570.7 524.4,621.6 524.6,614.9 524.8,549.3 525.1,656.9 525.3,537.5 525.5,547.4 525.8,685.4 526,659.9 526.2,621 526.4,650.7 526.7,569.4 526.9,598.7 527.1,542.4 527.4,616.4 527.6,529.7 527.8,628.2 528,607.4 528.3,613.4 528.5,491.7 528.7,657.5 528.9,532.2 529.2,619.3 529.4,614.9 529.6,579.8 529.9,622.1 530.1,607.2 530.3,648.4 530.5,571.3 530.8,458.7 531,576.9 531.2,481.7 531.5,651.2 531.7,557.6 531.9,649.3 532.1,634.1 532.4,633.5 532.6,621.7 532.8,579.9 533,640 533.3,634.8 533.5,542.7 533.7,624.1 534,655.3 534.2,659.1 534.4,649.2 534.6,403.3 534.9,545.4 535.1,588.4 535.3,574.6 535.6,551.3 535.8,709 536,655.5 536.2,628.9 536.5,689.1 536.7,655.6 536.9,672.6 537.1,663.9 537.4,652.8 537.6,651.9 537.8,654.5 538.1,546.1 538.3,620.3 538.5,707.4 538.7,657.9 539,663.6 539.2,538.4 539.4,692.3 539.7,494.6 539.9,660.3 540.1,633.3 540.3,631.3 540.6,534.7 540.8,547.8 541,696.6 541.2,536.5 541.5,701.5 541.7,586.9 541.9,621 542.2,649.6 542.4,649.9 542.6,643 542.8,573.5 543.1,630.5 543.3,663.1 543.5,617.7 543.8,655.7 544,473.4 544.2,624.2 544.4,612.2 544.7,565.4 544.9,593 545.1,643.5 545.4,530.4 545.6,544.4 545.8,714.5 546,549.7 546.3,536.3 546.5,535.8 546.7,549.1 546.9,539.3 547.2,667.1 547.4,709.2 547.6,679.2 547.9,598.9 548.1,642.2 548.3,539.4 548.5,656.7 548.8,613.6 549,549.6 549.2,623.3 549.5,658.9 549.7,663.4 549.9,536.1 550.1,651.8 550.4,613.3 550.6,557.2 550.8,632.1 551,698.2 551.3,571.7 551.5,648.9 551.7,632.2 552,534.9 552.2,614.4 552.4,660.6 552.6,625.6 552.9,607.8 553.1,635.5 553.3,539.7 553.6,617.4 553.8,546.2 554,621.2 554.2,613.2 554.5,674.2 554.7,517.6 554.9,653.5 555.1,571.1 555.4,564.5 555.6,565.9 555.8,702.5 556.1,534.9 556.3,596.3 556.5,696 556.7,637 557,530.5 557.2,648.3 557.4,580.3 557.7,650.2 557.9,635.1 558.1,572.9 558.3,535.5 558.6,615.3 558.8,557.1 559,517.1 559.2,649.7 559.5,668 559.7,687.3 559.9,643.1 560.2,539.3 560.4,624.7 560.6,517.6 560.8,540 561.1,517.1 561.3,581.9 561.5,586.6 561.8,640.6 562,568.4 562.2,629.6 562.4,577.2 562.7,617.7 562.9,694.5 563.1,640.9 563.4,516.5 563.6,651.3 563.8,537.2 564,519 564.3,618.8 564.5,653.8 564.7,621.2 564.9,536.9 565.2,603.7 565.4,578.7 565.6,673 565.9,568.9 566.1,584.2 566.3,653 566.5,578.7 566.8,540.2 567,655.1 567.2,679.6 567.5,506.2 567.7,667.2 567.9,665.1 568.1,548.8 568.4,684.3 568.6,651.2 568.8,646.9 569,615.6 569.3,613.7 569.5,603.8 569.7,543 570,619.1 570.2,515.7 570.4,536.4 570.6,489 570.9,536.2 571.1,588.6 571.3,629.6 571.6,651 571.8,649.5 572,704.7 572.2,622.1 572.5,539.6 572.7,530.4 572.9,646.8 573.1,634.2 573.4,635.2 573.6,616.4 573.8,619.8 574.1,684 574.3,533.6 574.5,532.5 574.7,516.7 575,515.9 575.2,649.3 575.4,688.7 575.7,627.6 575.9,581.5 576.1,605.1 576.3,660.9 576.6,595.2 576.8,580.1 577,656.6 577.3,574.7 577.5,637.5 577.7,688.2 577.9,630.6 578.2,687.2 578.4,619.5 578.6,614.5 578.8,575.3 579.1,645 579.3,618.8 579.5,544.4 579.8,617.6 580,583.3 580.2,541.8 580.4,568.9 580.7,608.4 580.9,620.8 581.1,539.9 581.4,636 581.6,633.3 581.8,533.8 582,515.7 582.3,532.4 582.5,534.2 582.7,603.5 582.9,618.9 583.2,518.9 583.4,669.8 583.6,620.8 583.9,645.7 584.1,577 584.3,544.9 584.5,638.1 584.8,517.3 585,662.9 585.2,646.5 585.5,606.5 585.7,635.4 585.9,700 586.1,669.1 586.4,696.9 586.6,659.4 586.8,518.7 587,650.6 587.3,694.1 587.5,628.9 587.7,621.3 588,558.5 588.2,516.5 588.4,623.1 588.6,616.2 588.9,616.4 589.1,462.3 589.3,653.4 589.6,535.9 589.8,649.9 590,646.9 590.2,517.4 590.5,651.7 590.7,583.6 590.9,534.4 591.1,620.2 591.4,653.6 591.6,613 591.8,646.9 592.1,568.4 592.3,517.5 592.5,582.7 592.7,622.7 593,584.6 593.2,533.4 593.4,535.9 593.7,564.7 593.9,539.3 594.1,582.1 594.3,681 594.6,534.4 594.8,704.2 595,653.4 595.3,625.5 595.5,620.3 595.7,552.4 595.9,666.9 596.2,620.8 596.4,664.5 596.6,683.7 596.8,676.8 597.1,649.7 597.3,547 597.5,618.9 597.8,518.6 598,706.3 598.2,626.3 598.4,652.5 598.7,592.9 598.9,536.4 599.1,536.6 599.4,625.6 599.6,587.9 599.8,538.8 600,631.6 600.3,703.5 600.5,618.3 600.7,541.6 600.9,704.7 601.2,651.6 601.4,614 601.6,618.8 601.9,538.7 602.1,650.6 602.3,677.8 602.5,659.3 602.8,519.2 603,648 603.2,543.9 603.5,579.4 603.7,658.7 603.9,531.2 604.1,593.5 604.4,582.4 604.6,619.6 604.8,632.4 605,516.1 605.3,587.7 605.5,649.1 605.7,544.6 606,555.4 606.2,622 606.4,629.8 606.6,585.4 606.9,701.3 607.1,552.5 607.3,565.8 607.6,549.5 607.8,647 608,615.1 608.2,625.9 608.5,655.7 608.7,519.6 608.9,675.2 609.2,617.5 609.4,539.5 609.6,518.6 609.8,702.8 610.1,535.9 610.3,668.8 610.5,515.5 610.7,537.7 611,679.1 611.2,673.2 611.4,599.1 611.7,587.3 611.9,517.3 612.1,516 612.3,647.1 612.6,645.9 612.8,628.5 613,600.1 613.3,619.4 613.5,651 613.7,640.3 613.9,543.6 614.2,540.8 614.4,655.2 614.6,462.3 614.8,645.6 615.1,616.3 615.3,537.3 615.5,647.9 615.8,651.6 616,657.9 616.2,647.2 616.4,693.3 616.7,620 616.9,516.7 617.1,615.5 617.4,618 617.6,649.9 617.8,664.4 618,462.3 618.3,741.2 618.5,649.3 618.7,730.8 618.9,519.1 619.2,674.9 619.4,462.3 619.6,614.2 619.9,555.5 620.1,667.7 620.3,729.7 620.5,541.3 620.8,518.3 621,640.9 621.2,731.1 621.5,651.6 621.7,663.9 621.9,639.6 622.1,574.1 622.4,534 622.6,619.3 622.8,578.3 623,541 623.3,647.9 623.5,652.4 623.7,709.8 624,567.2 624.2,648.1 624.4,554.8 624.6,617.5 624.9,628.8 625.1,652.3 625.3,613.6 625.6,619.6 625.8,536.8 626,534.6 626.2,515.9 626.5,732 626.7,560.7 626.9,685.7 627.2,565 627.4,517 627.6,645 627.8,536.5 628.1,546.4 628.3,630.6 628.5,655.3 628.7,659.8 629,647.1 629.2,537.6 629.4,518.1 629.7,657.5 629.9,578.4 630.1,551.7 630.3,538 630.6,517.4 630.8,573.4 631,572.7 631.3,653.5 631.5,617 631.7,543.1 631.9,554.4 632.2,655 632.4,557.7 632.6,540.8 632.8,616.1 633.1,667.2 633.3,677.9 633.5,614.6 633.8,693.9 634,620.7 634.2,617.5 634.4,635.1 634.7,531.6 634.9,557.1 635.1,550.2 635.4,539 635.6,623.4 635.8,648.9 636,539.7 636.3,621 636.5,582.3 636.7,536.3 636.9,647.5 637.2,543.5 637.4,614.5 637.6,647.9 637.9,661.5 638.1,646.5 638.3,627.2 638.5,559.2 638.8,648.7 639,620.3 639.2,517.8 639.5,582.5 639.7,658.9 639.9,545.3 640.1,620.3 640.4,650.2 640.6,584.3 640.8,607.3 641.1,531.7 641.3,518.2 641.5,534.9 641.7,536.8 642,651.4 642.2,636.7 642.4,651 642.6,654 642.9,612.2 643.1,619.1 643.3,651.2 643.6,649.9 643.8,646.4 644,533.6 644.2,616.5 644.5,619.2 644.7,582.5 644.9,613.9 645.2,680.2 645.4,515.6 645.6,658 645.8,618 646.1,576.8 646.3,641.1 646.5,541.9 646.7,619.1 647,666.1 647.2,671.7 647.4,646.1 647.7,543.8 647.9,579.3 648.1,583.2 648.3,616.4 648.6,619.5 648.8,621.1 649,653.1 649.3,645.6 649.5,518.8 649.7,615.7 649.9,624.6 650.2,615.1 650.4,671.8 650.6,621.4 650.8,703.4 651.1,489.5 651.3,534.7 651.5,548.3 651.8,645.3 652,628.2 652.2,666.4 652.4,580.5 652.7,633.1 652.9,654.4 653.1,533.7 653.4,614.7 653.6,576.2 653.8,578.1 654,542.9 654.3,619 654.5,518.3 654.7,544.4 655,655.5 655.2,534.5 655.4,519 655.6,620.2 655.9,539.3 656.1,541.6 656.3,519.2 656.5,632.1 656.8,660.9 657,624.2 657.2,648.5 657.5,628.2 657.7,653.9 657.9,515.6 658.1,625 658.4,613.4 658.6,632.3 658.8,710.3 659.1,612.8 659.3,488.3 659.5,577.8 659.7,540 660,615.3 660.2,579.7 660.4,631.7 660.6,625.1 660.9,596.1 661.1,517.1 661.3,541.5 661.6,539.9 661.8,538.4 662,600 662.2,669.2 662.5,715.3 662.7,705.3 662.9,561.4 663.2,681.5 663.4,541.1 663.6,529.2 663.8,615.6 664.1,661.1 664.3,657.8 664.5,733.6 664.7,713.9 665,626.3 665.2,649.8 665.4,648 665.7,596.9 665.9,643.8 666.1,589.1 666.3,625.5 666.6,515.2 666.8,487.7 667,543 667.3,627.3 667.5,628 667.7,573.3 667.9,685 668.2,701.6 668.4,617 668.6,692.2 668.8,549.5 669.1,517.4 669.3,674.3 669.5,553.1 669.8,627.7 670,541.4 670.2,570.8 670.4,545 670.7,660.5 670.9,540.5 671.1,625.1 671.4,688.9 671.6,625.7 671.8,720.5 672,620.1 672.3,658.1 672.5,621.7 672.7,614.7 673,564.3 673.2,662.8 673.4,634.6 673.6,653.5 673.9,584.2 674.1,733.1 674.3,642 674.5,722.7 674.8,563 675,658.5 675.2,537.3 675.5,620 675.7,652.7 675.9,582.9 676.1,651.9 676.4,517 676.6,624.7 676.8,647.2 677.1,640.7 677.3,616.3 677.5,663.6 677.7,642.8 678,616 678.2,547.6 678.4,640.7 678.6,651.1 678.9,619.7 679.1,608.5 679.3,639.2 679.6,640.5 679.8,633 680,667.4 680.2,565.5 680.5,656.2 680.7,540.1 680.9,542.1 681.2,569.2 681.4,623.3 681.6,581.2 681.8,579.7 682.1,535.6 682.3,516.8 682.5,626.1 682.7,564.2 683,629.3 683.2,617.3 683.4,724.4 683.7,553.2 683.9,539.1 684.1,728.4 684.3,667.8 684.6,516.9 684.8,643 685,616 685.3,650.5 685.5,586.6 685.7,646.8 685.9,721.9 686.2,614.2 686.4,612.8 686.6,539.9 686.9,634.2 687.1,557 687.3,540.6 687.5,580.2 687.8,516.3 688,603.7 688.2,539 688.4,618.9 688.7,661.1 688.9,719.9 689.1,677.9 689.4,617.7 689.6,656.9 689.8,641.8 690,516.7 690.3,630.2 690.5,652.8 690.7,656.7 691,621.5 691.2,622.7 691.4,536.9 691.6,516.1 691.9,517.6 692.1,649.5 692.3,723.8 692.5,617.3 692.8,575.6 693,607.7 693.2,547.2 693.5,704.1 693.7,619.9 693.9,544.8 694.1,518.1 694.4,622.5 694.6,576.2 694.8,636.2 695.1,614.5 695.3,621.9 695.5,518.3 695.7,726.2 696,517 696.2,535.6 696.4,516.3 696.6,643.1 696.9,650.6 697.1,620.9 697.3,537.9 697.6,535.9 697.8,621.7 698,559 698.2,617.6 698.5,649.2 698.7,544.9 698.9,644.2 699.2,623.5 699.4,518 699.6,644 699.8,544 700.1,623 700.3,583.9 700.5,678.4 700.7,534 701,517.3 701.2,518.7 701.4,569.9 701.7,670.2 701.9,705.5 702.1,653.8 702.3,654 702.6,620.4 702.8,656.6 703,588.2 703.3,624 703.5,623.2 703.7,518.5 703.9,647.4 704.2,519.1 704.4,554.8 704.6,649.3 704.9,640.7 705.1,668.7 705.3,636 705.5,639.3 705.8,617.1 706,536.1 706.2,627.1 706.4,529.8 706.7,548 706.9,517.9 707.1,648.3 707.4,621.6 707.6,547.4 707.8,515.4 708,658.1 708.3,649.8 708.5,516.5 708.7,659.7 709,517.9 709.2,669.7 709.4,624.8 709.6,534.8 709.9,517.8 710.1,707.1 710.3,545.8 710.5,518.4 710.8,653.1 711,574.1 711.2,614 711.5,515.4 711.7,544.4 711.9,542.4 712.1,659.3 712.4,660 712.6,537.6 712.8,653.1 713.1,515.3 713.3,620.1 713.5,624 713.7,634.7 714,639.6 714.2,631.6 714.4,543.3 714.6,517.6 714.9,517.5 715.1,620.4 715.3,628.8 715.6,606 715.8,566.9 716,539.8 716.2,518.8 716.5,662.2 716.7,573.7 716.9,652.8 717.2,639.1 717.4,648.2 717.6,552.9 717.8,613.2 718.1,681.6 718.3,531.9 718.5,651.2 718.8,694.5 719,624.8 719.2,614.5 719.4,615.7 719.7,535.2 719.9,581.7 720.1,528.7 720.3,624.2 720.6,625.9 720.8,639.5 721,615.6 721.3,615.4 721.5,637.8 721.7,631.2 721.9,647.8 722.2,666 722.4,500.6 722.6,693.5 722.9,619.5 723.1,648.7 723.3,516.8 723.5,578 723.8,650.3 724,519.3 724.2,616 724.4,520.1 724.7,536.2 724.9,704.4 725.1,625.2 725.4,614.1 725.6,518 725.8,649.7 726,614.2 726.3,561.7 726.5,617.9 726.7,623.5 727,599.7 727.2,516.8 727.4,685.8 727.6,560.8 727.9,546.9 728.1,647.3 728.3,651 728.5,708.2 728.8,668.7 729,517.2 729.2,650.4 729.5,518.1 729.7,535.6 729.9,579.4 730.1,570.1 730.4,619.3 730.6,570.5 730.8,548.3 731.1,583.7 731.3,515.5 731.5,587.3 731.7,648.9 732,622.2 732.2,516.3 732.4,531.8 732.6,576.9 732.9,578.4 733.1,652.9 733.3,631.3 733.6,614.5 733.8,618.8 734,617.2 734.2,577.2 734.5,618.4 734.7,617.6 734.9,656.2 735.2,579.7 735.4,616.9 735.6,662.6 735.8,582.5 736.1,562.6 736.3,543.9 736.5,638.2 736.8,571.4 737,648.6 737.2,614.6 737.4,538.1 737.7,559.5 737.9,573.2 738.1,674.6 738.3,587.1 738.6,618.5 738.8,535.6 739,622 739.3,655.2 739.5,544.6 739.7,516 739.9,545.9 740.2,622.6 740.4,531.9 740.6,517.3 740.9,615.8 741.1,643.2 741.3,535.5 741.5,672.9 741.8,619.8 742,544.4 742.2,579.1 742.4,588.9 742.7,541 742.9,544.5 743.1,591.5 743.4,641.9 743.6,518.3 743.8,647.9 744,616.8 744.3,572.9 744.5,657.5 744.7,576.9 745,545.2 745.2,654.8 745.4,517.8 745.6,649.1 745.9,650.9 746.1,547.7 746.3,613.8 746.5,623.7 746.8,619.2 747,665 747.2,685.8 747.5,619.5 747.7,622.7 747.9,619.5 748.1,625 748.4,639.4 748.6,658.4 748.8,637.2 749.1,622.3 749.3,593.3 749.5,516 749.7,674.5 750,643.6 750.2,621.2 750.4,657.4 750.6,587.7 750.9,618 751.1,714.2 751.3,712.2 751.6,623 751.8,582.5 752,538.6 752.2,633.6 752.5,654.1 752.7,604.4 752.9,535.3 753.2,518.5 753.4,577.4 753.6,641.7 753.8,571.7 754.1,542.7 754.3,560.6 754.5,583.4 754.8,648.5 755,708.9 755.2,541.7 755.4,627.6 755.7,532.2 755.9,645.9 756.1,640 756.3,647.8 756.6,536.7 756.8,625.7 757,661.5 757.3,571.4 757.5,657.4 757.7,542.5 757.9,634.5 758.2,676.1 758.4,613.8 758.6,666.8 758.9,578.1 759.1,499 759.3,620.7 759.5,671.9 759.8,576.6 760,705.5 760.2,552.8 760.4,654.5 760.7,533.1 760.9,642.7 761.1,649.9 761.4,535.3 761.6,617.8 761.8,633.9 762,566.9 762.3,621 762.5,660.5 762.7,572.5 763,517.7 763.2,664.2 763.4,620.1 763.6,575.5 763.9,705.6 764.1,574.9 764.3,574.6 764.5,624.8 764.8,516.9 765,518.3 765.2,654.7 765.5,638.1 765.7,574.7 765.9,615.4 766.1,628.7 766.4,548.9 766.6,548.1 766.8,573 767.1,534.8 767.3,617.7 767.5,519.4 767.7,529.1 768,611.8 768.2,536.1 768.4,619.9 768.7,614 768.9,647.1 769.1,621.4 769.3,719.6 769.6,528.9 769.8,629.6 770,619.7 770.2,669.2 770.5,532.2 770.7,612.9 770.9,574.6 771.2,566.1 771.4,648.8 771.6,461.6 771.8,649.3 772.1,579.4 772.3,648 772.5,538.1 772.8,528.4 773,518.5 773.2,615.5 773.4,617.2 773.7,529.2 773.9,619.4 774.1,719.6 774.3,619.8 774.6,564.8 774.8,551.1 775,515.9 775.3,567.9 775.5,647.7 775.7,579.9 775.9,613.3 776.2,719.8 776.4,581.3 776.6,546.1 776.9,596.1 777.1,558.4 777.3,549.3 777.5,647.7 777.8,655.9 778,582.2 778.2,545.8 778.4,684.1 778.7,707.4 778.9,590.9 779.1,722 779.4,570.4 779.6,623.9 779.8,579.3 780,679.5 780.3,621.9 780.5,556.3 780.7,596.9 781,675.1 781.2,615.7 781.4,584.2 781.6,668.9 781.9,539.1 782.1,712.3 782.3,591.8 782.5,581.8 782.8,629.7 783,538.7 783.2,638.7 783.5,608.6 783.7,488.3 783.9,645.3 784.1,647.5 784.4,618.2 784.6,691.1 784.8,537 785.1,651.4 785.3,660.3 785.5,616.1 785.7,668.4 786,545.3 786.2,539.3 786.4,616.5 786.7,515.8 786.9,579.1 787.1,658.9 787.3,623.5 787.6,545.9 787.8,642.1 788,624.3 788.2,671 788.5,616.7 788.7,619.8 788.9,624.5 789.2,587.5 789.4,540.2 789.6,619.4 789.8,617.4 790.1,614.4 790.3,636.4 790.5,518.8 790.8,554.3 791,569.1 791.2,536 791.4,497.3 791.7,700.4 791.9,704.1 792.1,572.5 792.3,543.9 792.6,569.4 792.8,710.4 793,532.7 793.3,652.7 793.5,542.4 793.7,617.4 793.9,518.5 794.2,520.6 794.4,559.7 794.6,649.5 794.9,574.1 795.1,487.9 795.3,530.8 795.5,617.1 795.8,577.8 796,648.8 796.2,671.3 796.4,616.7 796.7,518 796.9,622.3 797.1,712.1 797.4,618.7 797.6,578 797.8,631.9 798,646.4 798.3,542.5 798.5,689.1 798.7,600.3 799,667.4 799.2,618.6 799.4,635 799.6,699 799.9,516.8 800.1,668 800.3,621.1 800.6,647 800.8,669 801,653.1 801.2,575.8 801.5,516.3 801.7,553.3 801.9,542.3 802.1,714 802.4,538.6 802.6,534.8 802.8,639.8 803.1,517.1 803.3,612.6 803.5,535.1 803.7,576.1 804,516.8 804.2,601.9 804.4,578.6 804.7,546 804.9,650.5 805.1,563.3 805.3,678.4 805.6,608.9 805.8,648.9 806,534.7 806.2,648.8 806.5,619.7 806.7,547.8 806.9,621.6 807.2,702.3 807.4,667.3 807.6,517.5 807.8,640.4 808.1,684.6 808.3,580.3 808.5,618.5 808.8,687.2 809,668.2 809.2,676.7 809.4,623.3 809.7,611.4 809.9,572 810.1,617.3 810.3,647 810.6,639.3 810.8,539.7 811,572.6 811.3,516.6 811.5,515.9 811.7,570.2 811.9,578.8 812.2,629.5 812.4,515.3 812.6,618 812.9,626 813.1,668.9 813.3,617.4 813.5,517.8 813.8,615.7 814,550.5 814.2,620.3 814.5,653.6 814.7,518.3 814.9,619.9 815.1,618.5 815.4,656 815.6,604.4 815.8,547.7 816,615.9 816.3,669.4 816.5,620.1 816.7,528.1 817,533.7 817.2,643.5 817.4,618.9 817.6,612.7 817.9,533 818.1,625.8 818.3,547.7 818.6,616.2 818.8,518 819,652.7 819.2,628.8 819.5,530.2 819.7,517.2 819.9,617.8 820.1,541.9 820.4,613.4 820.6,517.1 820.8,618.8 821.1,545.2 821.3,536.4 821.5,618.2 821.7,527.7 822,649.3 822.2,619.8 822.4,618.7 822.7,649.5 822.9,605.2 823.1,542.9 823.3,620.9 823.6,592.3 823.8,541 824,580.8 824.2,614.3 824.5,652.5 824.7,516.9 824.9,719.2 825.2,663.1 825.4,517.8 825.6,516.1 825.8,706.9 826.1,516.6 826.3,682.9 826.5,666.8 826.8,620.5 827,608.2 827.2,651.1 827.4,519.5 827.7,686.8 827.9,615.5 828.1,583.3 828.3,531.3 828.6,531.8 828.8,584.4 829,651.7 829.3,571.8 829.5,622.4 829.7,544.8 829.9,629.4 830.2,573.9 830.4,584.2 830.6,534.8 830.9,653.2 831.1,544.8 831.3,642.1 831.5,576.7 831.8,643 832,652.1 832.2,695 832.5,552.8 832.7,589.7 832.9,541.7 833.1,690.3 833.4,515.7 833.6,648.7 833.8,624.1 834,605.4 834.3,650.8 834.5,627.9 834.7,618.4 835,655.5 835.2,575.7 835.4,698.7 835.6,643.1 835.9,629.7 836.1,515.7 836.3,555.1 836.6,622.3 836.8,545.5 837,539.7 837.2,531.5 837.5,620.1 837.7,632 837.9,717.7 838.1,661.1 838.4,621.2 838.6,540.1 838.8,582.5 839.1,655.5 839.3,646.9 839.5,669 839.7,615.9 840,653.1 840.2,638 840.4,618.6 840.7,668 840.9,654.5 841.1,553.5 841.3,628.1 841.6,630.9 841.8,685.5 842,640.4 842.2,539.1 842.5,618.6 842.7,537.2 842.9,575.2 843.2,518.9 843.4,655 843.6,614 843.8,702.2 844.1,577.3 844.3,549.4 844.5,665.6 844.8,538 845,684.1 845.2,624.9 845.4,628.9 845.7,607.8 845.9,487.9 846.1,520 846.4,618.5 846.6,621.1 846.8,649 847,491.2 847.3,545.6 847.5,661.2 847.7,533.8 847.9,545.5 848.2,534.9 848.4,650 848.6,553.7 848.9,667.8 849.1,579.2 849.3,623.7 849.5,549.4 849.8,621.1 850,579.9 850.2,536.6 850.5,619.1 850.7,694.5 850.9,655.1 851.1,539.6 851.4,639.6 851.6,634.8 851.8,646.1 852,538.1 852.3,703.2 852.5,548.3 852.7,644.9 853,519.5 853.2,618.5 853.4,642.9 853.6,519.5 853.9,520.2 854.1,601.1 854.3,697 854.6,662.3 854.8,695 855,606.2 855.2,685.3 855.5,703.1 855.7,533.1 855.9,616 856.1,654.7 856.4,634.3 856.6,606.4 856.8,665.7 857.1,616.6 857.3,664.8 857.5,637.2 857.7,656.6 858,654.6 858.2,650.6 858.4,530.1 858.7,600.2 858.9,658.2 859.1,654.3 859.3,561.7 859.6,517.7 859.8,516.8 860,614.8 860.2,651.7 860.5,461.6 860.7,492.4 860.9,646 861.2,633.8 861.4,645.7 861.6,615.1 861.8,569 862.1,624.7 862.3,642.9 862.5,653.5 862.8,529.2 863,583.1 863.2,678.9 863.4,538.6 863.7,664.8 863.9,640.8 864.1,538.6 864.4,571.7 864.6,573.6 864.8,622.3 865,542.5 865.3,646.7 865.5,516.6 865.7,543.3 865.9,613.8 866.2,687.7 866.4,659 866.6,595 866.9,539.8 867.1,545.7 867.3,626.2 867.5,565.8 867.8,615.5 868,597.8 868.2,615.7 868.5,643.2 868.7,575.9 868.9,627 869.1,535.7 869.4,548 869.6,648.1 869.8,536.8 870,682.8 870.3,625.3 870.5,515.6 870.7,622.4 871,538.1 871.2,634.7 871.4,626.1 871.6,677.1 871.9,516.1 872.1,666.5 872.3,618 872.6,534.3 872.8,616.1 873,577.8 873.2,587.4 873.5,517.5 873.7,488.3 873.9,644.7 874.1,576 874.4,622.2 874.6,619.3 874.8,676.3 875.1,705 875.3,516.3 875.5,588 875.7,614 876,642.5 876.2,643 876.4,710.4 876.7,694.6 876.9,535.7 877.1,568.8 877.3,536.4 877.6,564.5 877.8,615.6 878,645.7 878.2,574.2 878.5,651.8 878.7,540.1 878.9,544.9 879.2,665.2 879.4,615.9 879.6,534.4 879.8,660.4 880.1,488.3 880.3,636 880.5,631.2 880.8,654.9 881,534 881.2,600.4 881.4,623.7 881.7,645.4 881.9,549.5 882.1,638.2 882.4,572 882.6,631.2 882.8,517.7 883,625.4 883.3,652.7 883.5,567.7 883.7,574.7 883.9,615.2 884.2,533.3 884.4,574 884.6,616.6 884.9,588.7 885.1,539.1 885.3,549.1 885.5,650.8 885.8,634.1 886,585.7 886.2,646 886.5,532.2 886.7,598 886.9,516.1 887.1,575.7 887.4,658.2 887.6,690.2 887.8,580.9 888,585.5 888.3,516 888.5,603.8 888.7,648.2 889,550.7 889.2,538.5 889.4,650.6 889.6,531.2 889.9,619.8 890.1,545.5 890.3,579 890.6,516.8 890.8,566.6 891,539.8 891.2,689.2 891.5,572.3 891.7,577.7 891.9,579.1 892.1,635 892.4,664.3 892.6,660.6 892.8,670.6 893.1,619 893.3,664.7 893.5,570 893.7,645.2 894,636.7 894.2,701.6 894.4,642.5 894.7,644.9 894.9,532.1 895.1,614.4 895.3,594.7 895.6,546.2 895.8,680.8 896,664.4 896.3,648.7 896.5,518.4 896.7,653.4 896.9,711.1 897.2,531.5 897.4,654.6 897.6,629.7 897.8,537.4 898.1,621.8 898.3,637.8 898.5,643.6 898.8,653.7 899,588.8 899.2,533.1 899.4,620.5 899.7,658.7 899.9,622.5 900.1,620.6 900.4,568.9 900.6,721.2 900.8,515.3 901,534.8 901.3,617.8 901.5,657.9 901.7,630.6 901.9,649.3 902.2,537.3 902.4,592.4 902.6,623.4 902.9,640.6 903.1,573.2 903.3,682 903.5,530.7 903.8,567.8 904,685.5 904.2,618.1 904.5,561.7 904.7,727.7 904.9,657.7 905.1,710.1 905.4,659.4 905.6,651 905.8,681.2 906,584.2 906.3,541.1 906.5,546.8 906.7,697.7 907,617.5 907.2,543.9 907.4,731.4 907.6,545.6 907.9,703.7 908.1,638.6 908.3,645.5 908.6,530.9 908.8,618.2 909,722.8 909.2,607.6 909.5,533.8 909.7,651.6 909.9,581.2 910.1,620 910.4,621 910.6,709.4 910.8,709.4 911.1,572.8 911.3,616.8 911.5,621.8 911.7,651.8 912,619.2 912.2,542.8 912.4,519.3 912.7,635.9 912.9,652.1 913.1,646 913.3,652.8 913.6,620.6 913.8,651.4 914,536.8 914.3,696.2 914.5,650 914.7,572.9 914.9,652.1 915.2,515.7 915.4,616.9 915.6,517.1 915.8,656.9 916.1,708 916.3,621 916.5,578.7 916.8,521.3 917,516.3 917.2,575.2 917.4,619.1 917.7,520 917.9,704 918.1,666 918.4,535.9 918.6,702.2 918.8,637.7 919,534.7 919.3,592 919.5,644 919.7,638.6 919.9,633 920.2,637.5 920.4,570.9 920.6,668.8 920.9,621 921.1,622 921.3,616.9 921.5,630.3 921.8,648.7 922,518.2 922.2,641.3 922.5,535.1 922.7,648.5 922.9,643.6 923.1,528.3 923.4,656.8 923.6,645.5 923.8,537.5 924,536.5 924.3,538 924.5,671.6 924.7,535 925,503.9 925.2,534.8 925.4,654.1 925.6,654.9 925.9,691.2 926.1,674.1 926.3,664.3 926.6,548.9 926.8,540.1 927,658.3 927.2,615.2 927.5,664.4 927.7,648.8 927.9,574.9 928.2,692.9 928.4,651.2 928.6,534.1 928.8,667.3 929.1,572.2 929.3,613.3 929.5,641.2 929.7,645.6 930,624.7 930.2,541.8 930.4,617.1 930.7,615.8 930.9,546.5 931.1,650.3 931.3,529.5 931.6,628.8 931.8,674.9 932,645.6 932.3,541.5 932.5,577.9 932.7,580.4 932.9,518.6 933.2,620.6 933.4,520.3 933.6,619.1 933.8,653.9 934.1,632.4 934.3,534.9 934.5,574.1 934.8,519.2 935,533 935.2,630.2 935.4,665.4 935.7,606.8 935.9,616.6 936.1,653 936.4,653.4 936.6,561.3 936.8,546.4 937,549 937.3,644.7 937.5,660.3 937.7,588.5 937.9,549.8 938.2,618.2 938.4,552.9 938.6,626.8 938.9,707.3 939.1,652.3 939.3,516.5 939.5,677.5 939.8,557.4 940,652.3 940.2,516.5 940.5,620.7 940.7,518.4 940.9,571.5 941.1,562.9 941.4,516.8 941.6,734.9 941.8,656.1 942,615.6 942.3,724.4 942.5,665.2 942.7,551.8 943,615.5 943.2,575.9 943.4,651.6 943.6,651 943.9,494.4 944.1,575 944.3,622.4 944.6,691.8 944.8,617.9 945,558.7 945.2,645 945.5,663.9 945.7,621.3 945.9,616 946.2,658 946.4,626.4 946.6,581.7 946.8,547.4 947.1,616.9 947.3,566.8 947.5,538.5 947.7,613.1 948,528.8 948.2,569.4 948.4,614.8 948.7,546.5 948.9,616.7 949.1,653.5 949.3,706.9 949.6,655.9 949.8,516.7 950,538.2 950.3,519.7 950.5,671.2 950.7,529 950.9,651.9 951.2,518.4 951.4,618.9 951.6,608.2 951.8,588.1 952.1,655.3 952.3,625.2 952.5,534.8 952.8,488.3 953,538.5 953.2,595.6 953.4,662 953.7,644.3 953.9,546.8 954.1,705.6 954.4,565.9 954.6,618.7 954.8,563.1 955,646.7 955.3,616.8 955.5,627.9 955.7,650.5 955.9,518.3 956.2,691.4 956.4,532.4 956.6,575.2 956.9,627.1 957.1,631.1 957.3,592 957.5,530.9 957.8,686.8 958,595.2 958.2,589.9 958.5,688.2 958.7,533.1 958.9,543 959.1,564.9 959.4,576.7 959.6,587.3 959.8,574.9 960.1,548.5 960.3,518.6 960.5,519.8 960.7,535.5 961,517.8 961.2,648.7 961.4,563.5 961.6,543.4 961.9,621.2 962.1,568.7 962.3,618.3 962.6,624.8 962.8,539.8 963,568.7 963.2,654.4 963.5,694.5 963.7,653.3 963.9,582.1 964.2,627.7 964.4,557.6 964.6,531.5 964.8,528.9 965.1,529.8 965.3,517.1 965.5,572 965.7,517.2 966,544.7 966.2,585 966.4,518.9 966.7,620 966.9,545.2 967.1,704.9 967.3,541 967.6,649.4 967.8,518 968,577.3 968.3,613 968.5,649.3 968.7,644.7 968.9,650.4 969.2,529.2 969.4,531 969.6,565.5 969.8,572.3 970.1,569.5 970.3,662 970.5,581.2 970.8,655.7 971,490.1 971.2,619.9 971.4,630.5 971.7,613.3 971.9,654.1 972.1,573.6 972.4,560.3 972.6,541.6 972.8,619.4 973,668.1 973.3,665 973.5,614.6 973.7,661 974,535.8 974.2,662.1 974.4,538.4 974.6,536 974.9,700.4 975.1,533.5 975.3,626.1 975.5,631.3 975.8,608.1 976,644 976.2,724.1 976.5,623 976.7,725.9 976.9,725.4 977.1,516.8 977.4,624.7 977.6,616.2 977.8,660.1 978.1,645.4 978.3,618 978.5,616 978.7,545.6 979,615.7 979.2,538.5 979.4,530.7 979.6,619.6 979.9,515.6 980.1,621.2 980.3,574.1 980.6,518.4 980.8,657.4 981,579.6 981.2,619.7 981.5,640.9 981.7,534.3 981.9,518 982.2,637.1 982.4,532.4 982.6,541.3 982.8,618.1 983.1,645.7 983.3,662.7 983.5,649.6 983.7,634.4 984,539.4 984.2,517.3 984.4,634.7 984.7,614.4 984.9,720 985.1,570.4 985.3,580.8 985.6,621.3 985.8,665.8 986,518 986.3,568.8 986.5,646.5 986.7,644.7 986.9,622.8 987.2,619.4 987.4,519.7 987.6,726.8 987.8,615.6 988.1,555.6 988.3,621.3 988.5,620.8 988.8,615.6 989,642.4 989.2,625.4 989.4,516.8 989.7,649.2 989.9,685.4 990.1,538.2 990.4,654.3 990.6,643.7 990.8,652.3 991,622.7 991.3,541.7 991.5,654 991.7,618.3 992,620.1 992.2,563.3 992.4,535.5 992.6,651.9 992.9,564 993.1,619.9 993.3,538.5 993.5,653.8 993.8,655.5 994,652 994.2,536.3 994.5,535.4 994.7,628.4 994.9,612.2 995.1,518.9 995.4,528.5 995.6,646 995.8,654.7 996.1,539 996.3,532.8 996.5,650 996.7,632.5 997,650.2 997.2,543 997.4,617 997.6,603.8 997.9,615.7 998.1,620.5 998.3,516.1 998.6,539.5 998.8,535.8 999,559.8 999.2,613.6 999.5,515.9 999.7,665.6 999.9,635.4 1000.2,619.5 1000.4,690.2 1000.6,697.5 1000.8,623.7 1001.1,630.8 1001.3,689 1001.5,635.5 1001.7,651 1002,519.1 1002.2,495.7 1002.4,652 1002.7,617.8 1002.9,655.1 1003.1,632.3 1003.3,653.7 1003.6,517 1003.8,654.7 1004,602.7 1004.3,537.1 1004.5,623.4 1004.7,584.2 1004.9,619.8 1005.2,667.9 1005.4,624.3 1005.6,530.6 1005.9,617.4 1006.1,630.5 1006.3,623.5 1006.5,661.2 1006.8,646.1 1007,546.7 1007.2,607.4 1007.4,626.9 1007.7,529.2 1007.9,667.9 1008.1,702.7 1008.4,617.1 1008.6,651.9 1008.8,689.8 1009,656.7 1009.3,694.2 1009.5,550.9 1009.7,544.5 1010,576.5 1010.2,656.4 1010.4,540.2 1010.6,658.1 1010.9,681.5 1011.1,642.4 1011.3,646.3 1011.5,632.9 1011.8,627.2 1012,578 1012.2,542.3 1012.5,668.5 1012.7,529.4 1012.9,618.7 1013.1,532.3 1013.4,536 1013.6,515.8 1013.8,616 1014.1,648.9 1014.3,618 1014.5,520 1014.7,534 1015,538.8 1015.2,541.5 1015.4,620.1 1015.6,654.3 1015.9,687.4 1016.1,638 1016.3,712.6 1016.6,633.4 1016.8,517.1 1017,648 1017.2,578.5 1017.5,619.6 1017.7,652.9 1017.9,536.6 1018.2,537.1 1018.4,537.3 1018.6,710.4 1018.8,666.4 1019.1,620.3 1019.3,707.3 1019.5,534.2" fill="none" stroke="#ee363b" stroke-width="3.9" stroke-linejoin="round" marker-start="url(#mr)" marker-mid="url(#mr)" marker-end="url(#mr)"/>
<use href="#lay"/>
<use href="#yl" y="0"/><use href="#xl" y="0"/>
</g>
<text font-family="Liberation Sans, sans-serif" font-weight="bold" font-size="48.5" x="22.9" y="49.2">A</text>
<text font-family="Liberation Serif, serif" font-size="100" transform="translate(592.3 948.7) scale(0.566 0.578)">BPNN</text>
<g transform="matrix(1.02685 0 0 1.00000 1297.590 0.000)">
<polyline points="206.3,565.9 206.5,608.6 206.8,639.5 207,638.8 207.2,546 207.4,571.7 207.7,551.2 207.9,633.1 208.1,545.4 208.3,629.5 208.6,536 208.8,646.1 209,690.5 209.3,610.1 209.5,549.4 209.7,533.1 209.9,655.5 210.2,703.1 210.4,637.4 210.6,548.4 210.9,621.8 211.1,629.9 211.3,602.2 211.5,625.9 211.8,638.5 212,638.9 212.2,628 212.5,539.7 212.7,659 212.9,698.4 213.1,603.1 213.4,512.4 213.6,555.9 213.8,541.4 214,617.8 214.3,653 214.5,642.3 214.7,554.5 215,623 215.2,665.2 215.4,552.4 215.6,547.6 215.9,631 216.1,543.6 216.3,528 216.6,656 216.8,695.7 217,549 217.2,555.2 217.5,637.4 217.7,562.3 217.9,673.9 218.1,685.8 218.4,676 218.6,703.7 218.8,644.4 219.1,540.1 219.3,536.4 219.5,674 219.7,547.7 220,651.2 220.2,539.2 220.4,538.3 220.7,473.9 220.9,666.1 221.1,646.6 221.3,602.5 221.6,564 221.8,684.8 222,527.9 222.2,512.4 222.5,698.6 222.7,659.4 222.9,529.6 223.2,624.4 223.4,557.5 223.6,609.6 223.8,542.8 224.1,550.5 224.3,636.1 224.5,636.3 224.8,640.7 225,644.1 225.2,547.3 225.4,633.8 225.7,555.3 225.9,642.3 226.1,652.5 226.4,648.2 226.6,564.7 226.8,670.3 227,704.5 227.3,631 227.5,616.5 227.7,672 227.9,557.5 228.2,634.3 228.4,687.7 228.6,530.8 228.9,648.2 229.1,643.5 229.3,652.2 229.5,574.5 229.8,545.5 230,650.7 230.2,625.4 230.5,603.5 230.7,558.8 230.9,614.8 231.1,681 231.4,645.7 231.6,554.5 231.8,556.7 232,679.9 232.3,679.1 232.5,634.2 232.7,543.6 233,606.4 233.2,675 233.4,627.3 233.6,493.9 233.9,567.7 234.1,647.5 234.3,514.3 234.6,629.7 234.8,543.2 235,536.6 235.2,645.2 235.5,557.7 235.7,651.5 235.9,643.7 236.1,655.1 236.4,604.4 236.6,640.4 236.8,660.8 237.1,547.7 237.3,563.4 237.5,620.5 237.7,660.5 238,630.2 238.2,663.2 238.4,604.4 238.7,644.7 238.9,627 239.1,652.1 239.3,540.6 239.6,655.8 239.8,650.9 240,535 240.2,542.8 240.5,611.9 240.7,546.1 240.9,614 241.2,535.9 241.4,644.5 241.6,661.8 241.8,540.7 242.1,657.7 242.3,677.4 242.5,699.7 242.8,576.6 243,649.5 243.2,529.5 243.4,537.3 243.7,675.3 243.9,703.8 244.1,672.8 244.4,528.1 244.6,563.1 244.8,546.3 245,666.7 245.3,629.9 245.5,631.6 245.7,633.3 245.9,567.7 246.2,715.1 246.4,638.3 246.6,549.6 246.9,538.9 247.1,537.1 247.3,656.7 247.5,551.7 247.8,510 248,633.6 248.2,651.7 248.5,662 248.7,643.9 248.9,626.5 249.1,584.7 249.4,662.3 249.6,543.2 249.8,650.8 250,672.8 250.3,642.3 250.5,551.4 250.7,546 251,650.2 251.2,681.9 251.4,547.7 251.6,669.8 251.9,705.3 252.1,643.4 252.3,644.9 252.6,624.4 252.8,618.7 253,607.2 253.2,605.8 253.5,502.8 253.7,533.5 253.9,540.2 254.1,533.5 254.4,700.8 254.6,670.7 254.8,655.9 255.1,539.4 255.3,561.6 255.5,635.9 255.7,637.5 256,700.9 256.2,678.7 256.4,545.4 256.7,621 256.9,539.1 257.1,646.8 257.3,673.1 257.6,637.8 257.8,625.5 258,629.3 258.3,646 258.5,645.6 258.7,551 258.9,628.4 259.2,539.7 259.4,696.8 259.6,677.3 259.8,673.5 260.1,649.5 260.3,550.2 260.5,593.4 260.8,648.1 261,674.2 261.2,675 261.4,550 261.7,680.7 261.9,550.1 262.1,706.1 262.4,548.6 262.6,632.8 262.8,640.8 263,657.9 263.3,664.9 263.5,625.4 263.7,537 263.9,670.9 264.2,711.8 264.4,302.4 264.6,689.3 264.9,638.3 265.1,661.8 265.3,539.8 265.5,603.7 265.8,630.5 266,637.6 266.2,662.2 266.5,677.1 266.7,627 266.9,567.4 267.1,536.5 267.4,662.7 267.6,556.8 267.8,631.5 268,645.4 268.3,540.8 268.5,538.1 268.7,557.6 269,594.8 269.2,542.8 269.4,547.4 269.6,615.7 269.9,616.7 270.1,572 270.3,651 270.6,561.5 270.8,621.4 271,699.7 271.2,643.7 271.5,643.5 271.7,544.6 271.9,700.1 272.1,666.7 272.4,537.2 272.6,551.7 272.8,638.8 273.1,690.5 273.3,541.6 273.5,661.8 273.7,562.7 274,529.7 274.2,544.2 274.4,670.6 274.7,615.9 274.9,638.5 275.1,611.7 275.3,688.3 275.6,512.4 275.8,619.9 276,517.7 276.3,647.5 276.5,662.1 276.7,536 276.9,544.5 277.2,640 277.4,535.5 277.6,714 277.8,698.7 278.1,549.3 278.3,534.5 278.5,624.5 278.8,536.1 279,535.1 279.2,665.4 279.4,557 279.7,517.3 279.9,542.5 280.1,546.2 280.4,548.7 280.6,665.9 280.8,661.1 281,665 281.3,623.8 281.5,659.5 281.7,530.6 281.9,682.4 282.2,642 282.4,633.3 282.6,673.4 282.9,703.8 283.1,548.1 283.3,706.5 283.5,655.8 283.8,637.2 284,655 284.2,695.7 284.5,682.2 284.7,550.8 284.9,542.1 285.1,672.3 285.4,604.7 285.6,605.9 285.8,626.6 286,567.4 286.3,554.5 286.5,552.6 286.7,550.6 287,557.3 287.2,536.2 287.4,646.7 287.6,659.9 287.9,564.1 288.1,623.5 288.3,667.4 288.6,653.2 288.8,551.6 289,560.6 289.2,547 289.5,541.9 289.7,537.2 289.9,657 290.2,643.3 290.4,565.2 290.6,545.9 290.8,650 291.1,621.1 291.3,687.9 291.5,654.4 291.7,633.2 292,641.1 292.2,667.7 292.4,661.1 292.7,612.7 292.9,698.2 293.1,536.5 293.3,710.8 293.6,570.4 293.8,633 294,549.1 294.3,656.9 294.5,655.6 294.7,648 294.9,602.1 295.2,622 295.4,534.6 295.6,714.6 295.8,471.6 296.1,649.9 296.3,603.5 296.5,624.7 296.8,615 297,640.7 297.2,643.7 297.4,549.4 297.7,643.8 297.9,644.5 298.1,531.9 298.4,549.6 298.6,545.5 298.8,689.5 299,461 299.3,536.3 299.5,709.1 299.7,564.6 299.9,533.8 300.2,533 300.4,673.3 300.6,630.7 300.9,540 301.1,623.5 301.3,545.7 301.5,623.6 301.8,530.8 302,655.8 302.2,550.9 302.5,612.2 302.7,611.2 302.9,670.9 303.1,627.1 303.4,616.3 303.6,647.1 303.8,703.6 304.1,670.6 304.3,625.2 304.5,595.2 304.7,693.4 305,662.8 305.2,540.7 305.4,640.6 305.6,649 305.9,548.1 306.1,667.3 306.3,681.4 306.6,636.6 306.8,645.7 307,651 307.2,565.6 307.5,542.4 307.7,272.6 307.9,647.4 308.2,680 308.4,545.6 308.6,616.2 308.8,547 309.1,654.2 309.3,543.2 309.5,553.8 309.7,630.4 310,557.5 310.2,549.3 310.4,540.8 310.7,672.5 310.9,651.8 311.1,679.9 311.3,557.8 311.6,610.3 311.8,646.2 312,700.7 312.3,538.2 312.5,558.9 312.7,710.2 312.9,641 313.2,552.3 313.4,625.2 313.6,547.2 313.8,692.8 314.1,623.1 314.3,557.6 314.5,643.3 314.8,627.6 315,544.9 315.2,564.7 315.4,660.4 315.7,545.9 315.9,558.2 316.1,674.7 316.4,538.4 316.6,614.4 316.8,556.4 317,630 317.3,621.3 317.5,643 317.7,538.4 317.9,659.4 318.2,553.6 318.4,617.6 318.6,622.1 318.9,595.5 319.1,662.6 319.3,702.6 319.5,533.6 319.8,616.6 320,642.8 320.2,485.5 320.5,640.2 320.7,547.2 320.9,537.9 321.1,635.5 321.4,610.1 321.6,620.5 321.8,674 322.1,543.3 322.3,702.3 322.5,541.7 322.7,652.3 323,639.8 323.2,650.6 323.4,644 323.6,633.3 323.9,513.3 324.1,626.6 324.3,649.5 324.6,634.6 324.8,543.8 325,613.4 325.2,641.3 325.5,557.4 325.7,606.8 325.9,658.2 326.2,639.3 326.4,663.4 326.6,665.2 326.8,633.9 327.1,541.6 327.3,653.6 327.5,542.7 327.7,683.5 328,548.7 328.2,663.2 328.4,573.9 328.7,670.6 328.9,629.6 329.1,615 329.3,563.3 329.6,522.1 329.8,631.7 330,552.4 330.3,653.8 330.5,644.8 330.7,531.2 330.9,615.4 331.2,655.4 331.4,672.2 331.6,647 331.8,606.1 332.1,556.8 332.3,614.8 332.5,617.3 332.8,674.3 333,614.1 333.2,544.2 333.4,626.1 333.7,646.7 333.9,650.2 334.1,666.1 334.4,561.6 334.6,629.7 334.8,654.3 335,529.3 335.3,537.8 335.5,556.5 335.7,697.9 335.9,645.1 336.2,544.4 336.4,533.5 336.6,660.4 336.9,610.2 337.1,660.5 337.3,662.2 337.5,541.4 337.8,537.3 338,642.4 338.2,552.6 338.5,637.2 338.7,530 338.9,571.6 339.1,670.8 339.4,539.5 339.6,622.7 339.8,550.3 340.1,550 340.3,583.7 340.5,660.4 340.7,647.6 341,551.5 341.2,700.2 341.4,633.4 341.6,656.4 341.9,547.6 342.1,538.9 342.3,539.9 342.6,536.1 342.8,617.9 343,534.4 343.2,532.1 343.5,648.1 343.7,609.1 343.9,558.6 344.2,637.1 344.4,550.9 344.6,540.2 344.8,621.3 345.1,670.1 345.3,543.2 345.5,678.8 345.7,620.6 346,693.2 346.2,543 346.4,554.2 346.7,657 346.9,616.7 347.1,487.7 347.3,589.5 347.6,629.4 347.8,620.6 348,620.6 348.3,638.9 348.5,539 348.7,551.7 348.9,640.3 349.2,639.3 349.4,534.9 349.6,683 349.8,548.1 350.1,663 350.3,686.1 350.5,278.4 350.8,643.7 351,652.2 351.2,657.4 351.4,662.4 351.7,675.6 351.9,539.6 352.1,668.3 352.4,565.9 352.6,661.9 352.8,533.2 353,545 353.3,560.2 353.5,602.9 353.7,664.2 354,550.2 354.2,555.5 354.4,666.1 354.6,623.2 354.9,625.2 355.1,625.4 355.3,658 355.5,617.6 355.8,709.1 356,541.2 356.2,693.7 356.5,682 356.7,543.2 356.9,648.9 357.1,538.5 357.4,649.7 357.6,687.7 357.8,549.3 358.1,666.7 358.3,563.4 358.5,540.2 358.7,559.8 359,636.3 359.2,543.5 359.4,559.2 359.6,711.4 359.9,541.3 360.1,675.7 360.3,539.5 360.6,548.3 360.8,659.5 361,614.5 361.2,528.6 361.5,540.2 361.7,560.7 361.9,649.1 362.2,676.8 362.4,698.7 362.6,544 362.8,647 363.1,602.1 363.3,650 363.5,625.5 363.7,672.9 364,619.9 364.2,677.3 364.4,640.2 364.7,547.6 364.9,658.2 365.1,616.7 365.3,604 365.6,626.5 365.8,647.6 366,540.8 366.3,655.8 366.5,532.5 366.7,550.9 366.9,538.8 367.2,617.7 367.4,658.4 367.6,646.3 367.9,659.2 368.1,673.1 368.3,558.5 368.5,636.6 368.8,554.7 369,616.5 369.2,640.3 369.4,547.7 369.7,637.7 369.9,693.7 370.1,714.7 370.4,665.3 370.6,658.7 370.8,538.1 371,561.8 371.3,655.8 371.5,700.6 371.7,551.5 372,535.3 372.2,548.4 372.4,553.9 372.6,538.4 372.9,697.4 373.1,656 373.3,667.5 373.5,666.1 373.8,638.4 374,604.9 374.2,549.3 374.5,652.7 374.7,608.5 374.9,569.2 375.1,651.8 375.4,550.3 375.6,656.9 375.8,632.5 376.1,620.6 376.3,647.3 376.5,668.1 376.7,547.3 377,649.2 377.2,677.5 377.4,614.2 377.6,531.1 377.9,506.3 378.1,494.4 378.3,606.5 378.6,661.8 378.8,537.1 379,562.3 379.2,617.7 379.5,634.5 379.7,543.7 379.9,551 380.2,598.5 380.4,643.3 380.6,635.6 380.8,558.6 381.1,710.3 381.3,545.5 381.5,704.8 381.7,700.1 382,544.2 382.2,629.5 382.4,558.3 382.7,544.5 382.9,538 383.1,684.1 383.3,648 383.6,605.8 383.8,621.9 384,646.5 384.3,653.2 384.5,643.6 384.7,639 384.9,619.1 385.2,663 385.4,674.5 385.6,653.4 385.9,564.1 386.1,539.6 386.3,649.3 386.5,547 386.8,645.3 387,712.6 387.2,543.8 387.4,588.3 387.7,534.9 387.9,655 388.1,558.7 388.4,634.2 388.6,548.2 388.8,658.2 389,714.5 389.3,706.8 389.5,647.6 389.7,536 390,658.2 390.2,533.3 390.4,531.2 390.6,551.4 390.9,553.2 391.1,628.5 391.3,642.1 391.5,563.4 391.8,631.9 392,543 392.2,663.4 392.5,631.3 392.7,666.5 392.9,707.1 393.1,550.8 393.4,610.2 393.6,627.5 393.8,622.3 394.1,672.3 394.3,651.4 394.5,629.5 394.7,637.5 395,645.5 395.2,615.8 395.4,665.1 395.6,554.9 395.9,643 396.1,536.7 396.3,549.8 396.6,637.5 396.8,643.5 397,604.9 397.2,667.6 397.5,545 397.7,707.7 397.9,541.1 398.2,631.6 398.4,547.1 398.6,536.9 398.8,631.3 399.1,627.9 399.3,669.8 399.5,560.2 399.8,565.4 400,548.6 400.2,635.1 400.4,629.6 400.7,546.8 400.9,642.5 401.1,534.5 401.3,540.3 401.6,566.7 401.8,587.6 402,632.3 402.3,606.3 402.5,548.7 402.7,619.3 402.9,547.1 403.2,634.2 403.4,540.4 403.6,659 403.9,618.4 404.1,618.3 404.3,673.4 404.5,646.4 404.8,535.4 405,646.7 405.2,547 405.4,540.5 405.7,622.7 405.9,543.6 406.1,539 406.4,629.8 406.6,557.6 406.8,563.3 407,548.6 407.3,543.2 407.5,650.1 407.7,536.1 408,660.6 408.2,550.1 408.4,688.9 408.6,540.1 408.9,658 409.1,607.7 409.3,642.4 409.5,618.1 409.8,537.2 410,643.2 410.2,620 410.5,567.9 410.7,654.7 410.9,647.6 411.1,656.5 411.4,667.8 411.6,647 411.8,556.3 412.1,644.2 412.3,604.5 412.5,654.5 412.7,661 413,506.5 413.2,547.1 413.4,636.9 413.6,649 413.9,551.3 414.1,662.8 414.3,546.4 414.6,698.5 414.8,566.2 415,537.5 415.2,630.7 415.5,555 415.7,541.8 415.9,538.7 416.2,560.9 416.4,647.3 416.6,659.4 416.8,548.2 417.1,625.2 417.3,550 417.5,629.2 417.8,554.9 418,649.3 418.2,562.7 418.4,638.7 418.7,647.7 418.9,658.9 419.1,554.9 419.3,539.6 419.6,668.3 419.8,687.5 420,548.5 420.3,661.3 420.5,541.3 420.7,538.3 420.9,630.9 421.2,602.1 421.4,557.2 421.6,660.8 421.9,552.6 422.1,390.6 422.3,534.1 422.5,625.2 422.8,622.9 423,623.2 423.2,668.7 423.4,655.6 423.7,542.7 423.9,673.7 424.1,659.5 424.4,711.2 424.6,642.7 424.8,599.2 425,643.3 425.3,670 425.5,709.1 425.7,639.8 426,634.5 426.2,553 426.4,555.3 426.6,549.9 426.9,563.5 427.1,554.3 427.3,615.8 427.5,559.5 427.8,680.6 428,635.4 428.2,603.8 428.5,577.6 428.7,705.8 428.9,541.1 429.1,537.7 429.4,648.8 429.6,644.6 429.8,672.6 430.1,636.7 430.3,554.2 430.5,627.3 430.7,660.9 431,688.9 431.2,672.9 431.4,541.7 431.6,647.8 431.9,560.2 432.1,596.7 432.3,664.9 432.6,522.6 432.8,628.1 433,646.7 433.2,648.3 433.5,674.8 433.7,614.4 433.9,552.3 434.2,609.5 434.4,553.7 434.6,633.1 434.8,605.1 435.1,542.6 435.3,683.5 435.5,699.6 435.8,650.4 436,613.2 436.2,628.3 436.4,633.1 436.7,548 436.9,538.5 437.1,540.3 437.3,540.1 437.6,642.4 437.8,531.9 438,651.4 438.3,516.9 438.5,660.3 438.7,631 438.9,546.8 439.2,635.3 439.4,658.9 439.6,640.7 439.9,647.8 440.1,671.5 440.3,604.4 440.5,551.2 440.8,670.8 441,656.6 441.2,548.5 441.4,642.3 441.7,468.8 441.9,551.2 442.1,693.6 442.4,666.4 442.6,655.8 442.8,633.6 443,622.1 443.3,560.2 443.5,542.7 443.7,641.6 444,559.4 444.2,629.9 444.4,670.3 444.6,612.9 444.9,610.1 445.1,603.7 445.3,543.5 445.5,542.9 445.8,671.3 446,627.7 446.2,651.1 446.5,559.1 446.7,652.1 446.9,549.4 447.1,698.7 447.4,558.1 447.6,638.2 447.8,511.6 448.1,537.7 448.3,652.5 448.5,655.9 448.7,632.3 449,660.2 449.2,558.5 449.4,569.4 449.7,677 449.9,543.5 450.1,655.7 450.3,627 450.6,627.6 450.8,561.8 451,624.4 451.2,553.8 451.5,610.7 451.7,642.5 451.9,497.3 452.2,635.4 452.4,629.5 452.6,678.7 452.8,664.5 453.1,667.8 453.3,643.5 453.5,618.6 453.8,656.9 454,647.7 454.2,697.6 454.4,630.5 454.7,659.4 454.9,625.5 455.1,606.2 455.3,551.5 455.6,656.3 455.8,659.3 456,550.6 456.3,644.4 456.5,709.4 456.7,561.8 456.9,555.7 457.2,552.4 457.4,621.1 457.6,552.6 457.9,634.1 458.1,677.3 458.3,555 458.5,631.3 458.8,536.6 459,537.4 459.2,570.3 459.4,548.3 459.7,550.9 459.9,662.7 460.1,632.8 460.4,629 460.6,545.7 460.8,655.7 461,627.3 461.3,560.5 461.5,653.3 461.7,546.9 462,543 462.2,537.9 462.4,560.7 462.6,684.5 462.9,552.7 463.1,543.5 463.3,536.8 463.6,625 463.8,662.5 464,540 464.2,603.1 464.5,647.7 464.7,528.3 464.9,677.2 465.1,548.4 465.4,631.7 465.6,534.1 465.8,657 466.1,556.8 466.3,535.7 466.5,556.6 466.7,647.6 467,535.7 467.2,542.9 467.4,656.2 467.7,637.8 467.9,559.1 468.1,713.5 468.3,535.4 468.6,659.2 468.8,628.6 469,647.6 469.2,571.3 469.5,673.8 469.7,510.1 469.9,647.8 470.2,604.6 470.4,554.7 470.6,634.6 470.8,506.5 471.1,714.5 471.3,657.5 471.5,651.7 471.8,715.1 472,552.4 472.2,552.4 472.4,712.9 472.7,545.4 472.9,617.9 473.1,542.7 473.3,583.9 473.6,643.6 473.8,620.2 474,625.9 474.3,679 474.5,543.8 474.7,643.7 474.9,532.4 475.2,536.1 475.4,649.2 475.6,699.7 475.9,649.8 476.1,646.6 476.3,663.7 476.5,653 476.8,589.9 477,621.9 477.2,633.7 477.4,552.2 477.7,537.6 477.9,714.6 478.1,659.9 478.4,670.3 478.6,626.9 478.8,641.5 479,636.4 479.3,653.2 479.5,539.3 479.7,554.3 480,553.5 480.2,559.4 480.4,541.8 480.6,554.6 480.9,523 481.1,549.3 481.3,538.2 481.6,642.4 481.8,632.4 482,635.4 482.2,545.5 482.5,593.2 482.7,621.9 482.9,543.3 483.1,640 483.4,709.9 483.6,538.5 483.8,539.5 484.1,642.2 484.3,612.9 484.5,638 484.7,569.9 485,663.4 485.2,637 485.4,677 485.7,612.8 485.9,677 486.1,662.8 486.3,701.1 486.6,668.4 486.8,645.8 487,664.3 487.2,550.8 487.5,547.4 487.7,643.2 487.9,620.8 488.2,651.9 488.4,549.9 488.6,617.2 488.8,603.2 489.1,667.3 489.3,535.4 489.5,668.6 489.8,609.1 490,540.2 490.2,684.7 490.4,570.4 490.7,689.3 490.9,639.4 491.1,626.3 491.3,664.6 491.6,552.4 491.8,615.6 492,542.3 492.3,556.7 492.5,552.8 492.7,415.5 492.9,658.4 493.2,671.6 493.4,537 493.6,705.6 493.9,535 494.1,488.3 494.3,535.4 494.5,641.8 494.8,545.2 495,563.1 495.2,643.9 495.4,621.2 495.7,622.6 495.9,659 496.1,540.7 496.4,662.7 496.6,530.6 496.8,589 497,669.2 497.3,611.1 497.5,542.9 497.7,644 498,547.8 498.2,663 498.4,513.3 498.6,661.7 498.9,548.5 499.1,633.5 499.3,541.6 499.6,653.2 499.8,661 500,552.9 500.2,665.3 500.5,606.1 500.7,600.5 500.9,619.4 501.1,533.5 501.4,683.7 501.6,615.1 501.8,532.9 502.1,542.9 502.3,664.9 502.5,565.4 502.7,531.7 503,539.7 503.2,647.4 503.4,677.3 503.7,558.6 503.9,700.8 504.1,540.2 504.3,647.1 504.6,545.4 504.8,546.3 505,539.7 505.2,649.4 505.5,623.2 505.7,650.9 505.9,558.9 506.2,659.5 506.4,633.5 506.6,656 506.8,524.9 507.1,542.9 507.3,674.2 507.5,512.9 507.8,628.4 508,656.5 508.2,653.7 508.4,644.9 508.7,706.2 508.9,686.2 509.1,624.5 509.3,544.3 509.6,648.2 509.8,624.9 510,544.5 510.3,556.4 510.5,536.8 510.7,654.1 510.9,533.2 511.2,553.2 511.4,625.8 511.6,646.5 511.9,543.7 512.1,648.3 512.3,608.6 512.5,679.3 512.8,542.6 513,543.3 513.2,556.3 513.5,633.6 513.7,518.4 513.9,659.5 514.1,542.6 514.4,627.8 514.6,622 514.8,635.2 515,549.9 515.3,636.7 515.5,650.7 515.7,534.1 516,627.2 516.2,648.7 516.4,654.7 516.6,566.1 516.9,665.9 517.1,609.4 517.3,643.4 517.6,658.9 517.8,545.5 518,535.6 518.2,625.9 518.5,700.3 518.7,547.1 518.9,619.2 519.1,621.8 519.4,535.1 519.6,528.3 519.8,570.2 520.1,531.2 520.3,715 520.5,517 520.7,545.8 521,649.5 521.2,668.8 521.4,662.4 521.7,521.3 521.9,655.8 522.1,652.5 522.3,640.5 522.6,627.5 522.8,627.9 523,541.4 523.2,539.1 523.5,562.2 523.7,674.6 523.9,681 524.2,605.9 524.4,661.9 524.6,628.9 524.8,697.4 525.1,537.3 525.3,564.6 525.5,553.2 525.8,652.4 526,561.3 526.2,616 526.4,634.4 526.7,552.7 526.9,621.8 527.1,613.3 527.4,667.7 527.6,644 527.8,550.6 528,544.9 528.3,537.9 528.5,663.3 528.7,624.9 528.9,659.8 529.2,309.3 529.4,622.5 529.6,547 529.9,712.5 530.1,552.5 530.3,541.9 530.5,528.7 530.8,566.1 531,497.3 531.2,648.2 531.5,533.6 531.7,668 531.9,563.4 532.1,548.6 532.4,663.8 532.6,531.4 532.8,668.1 533,678.1 533.3,647.4 533.5,641.7 533.7,666 534,709.8 534.2,662.7 534.4,553 534.6,547.8 534.9,547.1 535.1,530.7 535.3,535.3 535.6,660.9 535.8,556.3 536,553.6 536.2,659.2 536.5,635.5 536.7,681.2 536.9,565.4 537.1,540 537.4,511.2 537.6,667.6 537.8,556.4 538.1,632 538.3,621.6 538.5,662.7 538.7,535.8 539,614.7 539.2,670.7 539.4,708.3 539.7,645.8 539.9,634.8 540.1,560.9 540.3,641.8 540.6,655.2 540.8,593.4 541,541.7 541.2,631.5 541.5,547.2 541.7,553.9 541.9,680.7 542.2,605.9 542.4,629 542.6,545.9 542.8,687.7 543.1,662.4 543.3,628.1 543.5,674 543.8,627.2 544,539.1 544.2,555.9 544.4,512.7 544.7,539.1 544.9,545.5 545.1,647.3 545.4,544.6 545.6,646.6 545.8,535.2 546,660.4 546.3,639.3 546.5,550.6 546.7,664 546.9,554.1 547.2,550 547.4,619.2 547.6,532.3 547.9,542.2 548.1,636.5 548.3,657 548.5,669.1 548.8,548.4 549,646.7 549.2,616.1 549.5,640.8 549.7,633.1 549.9,557 550.1,629.2 550.4,553.5 550.6,545.8 550.8,543.9 551,571.1 551.3,628.2 551.5,541.9 551.7,635.1 552,710.4 552.2,524.3 552.4,614.8 552.6,661.5 552.9,619.4 553.1,553.8 553.3,615.7 553.6,669.9 553.8,675.3 554,529.3 554.2,551.5 554.5,705.4 554.7,623.5 554.9,650.4 555.1,618.3 555.4,602.9 555.6,647.5 555.8,614.4 556.1,689.2 556.3,540.7 556.5,536.8 556.7,639.7 557,529.3 557.2,679.3 557.4,633.6 557.7,714.1 557.9,526.5 558.1,648.8 558.3,653.4 558.6,647.3 558.8,538.2 559,657.2 559.2,534.1 559.5,646.4 559.7,524.8 559.9,639.7 560.2,569.1 560.4,662.6 560.6,664.6 560.8,657.4 561.1,638.7 561.3,557.6 561.5,550.5 561.8,518.4 562,634.9 562.2,709.5 562.4,482.3 562.7,625.7 562.9,655.8 563.1,541.2 563.4,581.4 563.6,555.9 563.8,641.8 564,537.2 564.3,538.8 564.5,663.5 564.7,638.2 564.9,531.8 565.2,529.5 565.4,531.4 565.6,546.5 565.9,554.2 566.1,637.6 566.3,523.8 566.5,531.3 566.8,626.1 567,669.1 567.2,540.3 567.5,633.2 567.7,623.9 567.9,631.9 568.1,530.3 568.4,626 568.6,645.5 568.8,656.7 569,635.8 569.3,554.1 569.5,537.1 569.7,605.5 570,606.8 570.2,623.3 570.4,646.1 570.6,440 570.9,639.9 571.1,642.4 571.3,680.8 571.6,531.4 571.8,624.9 572,542.8 572.2,641.2 572.5,627.3 572.7,651.5 572.9,677.5 573.1,532.8 573.4,638.5 573.6,645.2 573.8,547.6 574.1,631.7 574.3,654.6 574.5,673.1 574.7,531.4 575,516.7 575.2,583.4 575.4,682 575.7,536.9 575.9,657.5 576.1,521.6 576.3,610.4 576.6,545 576.8,549.4 577,533.6 577.3,672.9 577.5,532.4 577.7,649.1 577.9,636.7 578.2,628.6 578.4,699.8 578.6,642.9 578.8,630.4 579.1,626.6 579.3,535.5 579.5,646 579.8,607.3 580,675.6 580.2,553.2 580.4,542.3 580.7,475.7 580.9,684.3 581.1,677.8 581.4,604.2 581.6,535.4 581.8,461 582,570.6 582.3,562.2 582.5,636.2 582.7,664.1 582.9,653.7 583.2,517.8 583.4,541.1 583.6,664.4 583.9,592.9 584.1,648.3 584.3,630.9 584.5,536.7 584.8,640 585,626.3 585.2,655.5 585.5,536.9 585.7,617.6 585.9,527.7 586.1,678.1 586.4,661.7 586.6,537.2 586.8,555.7 587,647.6 587.3,551.7 587.5,536 587.7,705.9 588,552.1 588.2,632.5 588.4,676.3 588.6,563.3 588.9,552.1 589.1,219.6 589.3,635.6 589.6,563.1 589.8,540.1 590,540.3 590.2,654 590.5,602.3 590.7,546.7 590.9,528.6 591.1,531.2 591.4,640.9 591.6,545.9 591.8,530.3 592.1,681.8 592.3,642 592.5,661.1 592.7,562.7 593,546.7 593.2,637.5 593.4,546.5 593.7,545.9 593.9,636.4 594.1,676.7 594.3,546.3 594.6,522.4 594.8,646.5 595,655.3 595.3,646.7 595.5,536.5 595.7,679.2 595.9,615.7 596.2,515.8 596.4,654.2 596.6,625.9 596.8,679.3 597.1,588.7 597.3,681.1 597.5,655.5 597.8,552.5 598,703.8 598.2,623.2 598.4,546.3 598.7,669.4 598.9,643.5 599.1,472.3 599.4,704.6 599.6,550.3 599.8,526.6 600,711.7 600.3,530.1 600.5,533.3 600.7,666.4 600.9,704.3 601.2,565.2 601.4,537.6 601.6,538.8 601.9,626.2 602.1,648.2 602.3,622.5 602.5,703.5 602.8,549.9 603,612.7 603.2,540.7 603.5,545.4 603.7,534 603.9,548.4 604.1,542.5 604.4,662 604.6,557.6 604.8,556.3 605,656.1 605.3,652.3 605.5,650.1 605.7,539 606,697.4 606.2,519.6 606.4,678.6 606.6,551.6 606.9,653.7 607.1,642.1 607.3,680.1 607.6,536.9 607.8,653.8 608,667.7 608.2,678.2 608.5,536.1 608.7,643.8 608.9,538.1 609.2,562.9 609.4,627.8 609.6,612.2 609.8,602.5 610.1,667.7 610.3,546.6 610.5,534.2 610.7,643.3 611,522.8 611.2,556.4 611.4,654.1 611.7,522.3 611.9,637 612.1,626.2 612.3,657.6 612.6,675.9 612.8,604.8 613,662.8 613.3,555.3 613.5,649.3 613.7,531.6 613.9,666.7 614.2,558 614.4,526.5 614.6,641.9 614.8,639.8 615.1,528.4 615.3,661 615.5,335.8 615.8,536 616,541.3 616.2,636.5 616.4,544 616.7,547.8 616.9,629.5 617.1,639.5 617.4,548.8 617.6,584.7 617.8,650.1 618,390.6 618.3,707.4 618.5,541.7 618.7,531.6 618.9,558.2 619.2,648.9 619.4,390.6 619.6,691 619.9,640.3 620.1,638.7 620.3,541.9 620.5,647.6 620.8,505.4 621,541.8 621.2,640.3 621.5,628.4 621.7,533.6 621.9,610.9 622.1,527.6 622.4,643.1 622.6,542.5 622.8,526.9 623,493.5 623.3,540.2 623.5,662.8 623.7,580.4 624,656.3 624.2,501.5 624.4,571 624.6,670.4 624.9,546.6 625.1,639.2 625.3,548 625.6,657.6 625.8,632.6 626,632 626.2,631.3 626.5,659 626.7,676.9 626.9,652.8 627.2,683.7 627.4,506.2 627.6,668.9 627.8,503.7 628.1,626.8 628.3,616.3 628.5,626.3 628.7,589.6 629,537.6 629.2,686.4 629.4,641 629.7,545.6 629.9,615.2 630.1,636.5 630.3,667.8 630.6,647.2 630.8,527.9 631,624.3 631.3,660.3 631.5,631.7 631.7,549.4 631.9,658.7 632.2,539.2 632.4,650.1 632.6,532.2 632.8,612.1 633.1,638.4 633.3,636.4 633.5,529.3 633.8,621.5 634,554.4 634.2,541.2 634.4,683.8 634.7,630 634.9,645.7 635.1,639.7 635.4,608.3 635.6,523 635.8,552.7 636,662.5 636.3,664.4 636.5,579.2 636.7,654 636.9,526.3 637.2,534.3 637.4,630.8 637.6,606.4 637.9,649.7 638.1,664.2 638.3,622.6 638.5,539 638.8,665.6 639,657.4 639.2,547.4 639.5,533.6 639.7,710.5 639.9,586.1 640.1,677.4 640.4,511.2 640.6,673.3 640.8,685 641.1,548.8 641.3,614.2 641.5,590.8 641.7,700.5 642,663.3 642.2,628.4 642.4,538.3 642.6,652.1 642.9,630.8 643.1,648.9 643.3,663.3 643.6,636.9 643.8,640.9 644,678.1 644.2,548.7 644.5,546.3 644.7,708.7 644.9,550 645.2,589.5 645.4,590.2 645.6,528.6 645.8,620.3 646.1,516.1 646.3,539.1 646.5,619.5 646.7,550.7 647,675.4 647.2,630.5 647.4,534.2 647.7,645.4 647.9,619.2 648.1,525.4 648.3,625.3 648.6,653 648.8,525.2 649,649.5 649.3,648.6 649.5,617.5 649.7,617.4 649.9,536.8 650.2,535.1 650.4,666.7 650.6,628.7 650.8,693.4 651.1,619.3 651.3,666.4 651.5,508.7 651.8,670.3 652,554.8 652.2,665.3 652.4,606.5 652.7,620.7 652.9,554.6 653.1,647.9 653.4,698.8 653.6,637.9 653.8,649.1 654,554.7 654.3,642.4 654.5,646.3 654.7,545.6 655,658.6 655.2,699.2 655.4,683.4 655.6,534.7 655.9,537.4 656.1,644.4 656.3,533.6 656.5,646.7 656.8,532.1 657,635.4 657.2,686.8 657.5,681.3 657.7,655.8 657.9,656.2 658.1,690.3 658.4,529.2 658.6,537.4 658.8,555.3 659.1,675 659.3,546.6 659.5,641.9 659.7,658.1 660,564.7 660.2,683.1 660.4,626.9 660.6,706.7 660.9,528.1 661.1,636.4 661.3,543 661.6,523.5 661.8,665.9 662,521.5 662.2,656.9 662.5,649.5 662.7,641.1 662.9,667.2 663.2,548.5 663.4,631.3 663.6,693.5 663.8,683.9 664.1,645 664.3,646.8 664.5,660.6 664.7,602 665,530.4 665.2,629.4 665.4,551.2 665.7,677.4 665.9,683.6 666.1,641.7 666.3,553.8 666.6,643.9 666.8,650.3 667,526.2 667.3,646.1 667.5,640.3 667.7,626.2 667.9,480.6 668.2,646.2 668.4,621.8 668.6,516 668.8,547.4 669.1,608.5 669.3,643.6 669.5,713.1 669.8,604.9 670,622.4 670.2,672.6 670.4,594.3 670.7,649.6 670.9,527.8 671.1,567.9 671.4,627.2 671.6,619.6 671.8,639.6 672,668.7 672.3,537 672.5,644.8 672.7,669.1 673,634.8 673.2,652.3 673.4,633.7 673.6,518 673.9,694.3 674.1,677 674.3,533.5 674.5,634.5 674.8,629 675,550.5 675.2,639.9 675.5,618.3 675.7,665.3 675.9,636.9 676.1,533.8 676.4,629.3 676.6,678.9 676.8,649.1 677.1,715.4 677.3,529 677.5,659.6 677.7,681.4 678,635.3 678.2,652.6 678.4,659.5 678.6,526.5 678.9,662.8 679.1,658.5 679.3,582.3 679.6,543.6 679.8,548 680,496.8 680.2,520.1 680.5,661.9 680.7,592.6 680.9,518.5 681.2,655.5 681.4,702.3 681.6,617.4 681.8,647.1 682.1,548.1 682.3,633 682.5,707.7 682.7,543.3 683,627.8 683.2,543.1 683.4,682.8 683.7,706.7 683.9,559.7 684.1,699.5 684.3,547.6 684.6,649.2 684.8,552.1 685,627.8 685.3,674.9 685.5,547.7 685.7,712.6 685.9,533.4 686.2,657.1 686.4,559.2 686.6,553.4 686.9,664.3 687.1,676.2 687.3,613.4 687.5,645.7 687.8,624.3 688,658 688.2,538.6 688.4,665.3 688.7,567.7 688.9,545.4 689.1,524 689.4,708.6 689.6,639.6 689.8,645.8 690,601.9 690.3,681.8 690.5,640.8 690.7,546.9 691,657.7 691.2,614.9 691.4,554.4 691.6,538.9 691.9,641.1 692.1,654.8 692.3,548.2 692.5,707.6 692.8,559 693,551.5 693.2,532.4 693.5,525.7 693.7,560.7 693.9,650.6 694.1,544.4 694.4,631.8 694.6,611.3 694.8,644.4 695.1,702.8 695.3,541.2 695.5,659.3 695.7,543.4 696,538.7 696.2,633.7 696.4,538.4 696.6,682.6 696.9,708 697.1,511.3 697.3,555.6 697.6,673.7 697.8,648 698,661.1 698.2,647.8 698.5,526.7 698.7,668.1 698.9,551 699.2,656.1 699.4,643.9 699.6,534.6 699.8,705.1 700.1,516.4 700.3,674.9 700.5,531.3 700.7,681.4 701,530.8 701.2,660.4 701.4,535.4 701.7,659.9 701.9,538.4 702.1,636.4 702.3,609.7 702.6,655.2 702.8,637.4 703,526.4 703.3,550 703.5,559 703.7,627.8 703.9,662 704.2,660.4 704.4,608.3 704.6,552.3 704.9,548.1 705.1,563.1 705.3,546.8 705.5,646.1 705.8,527.5 706,686.9 706.2,556.7 706.4,705 706.7,589.4 706.9,644.5 707.1,649.6 707.4,575.6 707.6,650.6 707.8,636.1 708,525.5 708.3,673 708.5,709.5 708.7,631.6 709,538.6 709.2,617.9 709.4,590.8 709.6,639 709.9,692.6 710.1,630.6 710.3,551.9 710.5,537.9 710.8,637.8 711,607.5 711.2,540.4 711.5,705.4 711.7,656.1 711.9,619.6 712.1,630.7 712.4,538.5 712.6,654.3 712.8,645.3 713.1,621 713.3,658.2 713.5,559.7 713.7,611.9 714,536.7 714.2,537.3 714.4,531.4 714.6,655.7 714.9,555.7 715.1,602.3 715.3,642.7 715.6,614.9 715.8,558.9 716,657.7 716.2,555.2 716.5,642 716.7,565.8 716.9,625.7 717.2,527.3 717.4,639.9 717.6,662.9 717.8,493.9 718.1,709.5 718.3,541.4 718.5,577.2 718.8,521.6 719,531.3 719.2,648.3 719.4,715.9 719.7,626.8 719.9,668.9 720.1,702.2 720.3,618.9 720.6,712.3 720.8,666.1 721,546.2 721.3,624.1 721.5,680 721.7,635.9 721.9,703 722.2,668.2 722.4,564.7 722.6,531.5 722.9,608.5 723.1,672.5 723.3,627.5 723.5,646.9 723.8,647.1 724,530.9 724.2,632.5 724.4,535.7 724.7,488.3 724.9,620.2 725.1,531.2 725.4,506.3 725.6,631.5 725.8,658 726,639.2 726.3,704.6 726.5,681.6 726.7,620.1 727,516 727.2,501.5 727.4,635.4 727.6,675.4 727.9,524.8 728.1,549.8 728.3,524.5 728.5,690.6 728.8,550.2 729,474.3 729.2,650.2 729.5,713.3 729.7,675.6 729.9,601.8 730.1,547.4 730.4,652.7 730.6,541.8 730.8,645.4 731.1,680.5 731.3,674.3 731.5,521.8 731.7,621.3 732,619.5 732.2,611 732.4,533.7 732.6,628.8 732.9,545.5 733.1,702.1 733.3,710.6 733.6,563.4 733.8,528.6 734,543.1 734.2,623.6 734.5,681.3 734.7,639.3 734.9,648.7 735.2,528.3 735.4,670.3 735.6,659.2 735.8,535.4 736.1,634.1 736.3,538.9 736.5,642 736.8,606 737,644.2 737.2,549.1 737.4,653.3 737.7,532.7 737.9,667.4 738.1,530.8 738.3,650 738.6,534.2 738.8,645 739,689.3 739.3,554.1 739.5,636.5 739.7,537.5 739.9,705.8 740.2,526.4 740.4,527.6 740.6,617 740.9,642.3 741.1,555 741.3,473.2 741.5,697.9 741.8,538.9 742,493.9 742.2,526.6 742.4,684.6 742.7,632.6 742.9,630.2 743.1,537.8 743.4,651.9 743.6,517.7 743.8,550 744,551.2 744.3,529.1 744.5,531.1 744.7,641.2 745,671.6 745.2,538.8 745.4,630.6 745.6,601.4 745.9,608.2 746.1,531.9 746.3,590.6 746.5,543.4 746.8,535.3 747,628.1 747.2,622 747.5,636.8 747.7,660.9 747.9,559.4 748.1,655.7 748.4,650.9 748.6,519.8 748.8,645.2 749.1,631 749.3,638.2 749.5,626.3 749.7,645.6 750,600 750.2,553.8 750.4,638 750.6,603.6 750.9,532.9 751.1,649.1 751.3,654.1 751.6,544.2 751.8,540.9 752,694.8 752.2,630.8 752.5,639 752.7,631.3 752.9,657.3 753.2,551.7 753.4,670.3 753.6,538.9 753.8,622.8 754.1,652.5 754.3,546.4 754.5,542.8 754.8,523.7 755,646.5 755.2,679.6 755.4,621.4 755.7,549.5 755.9,567.9 756.1,549 756.3,643.1 756.6,665.1 756.8,705.3 757,667.4 757.3,548.1 757.5,660 757.7,630.2 757.9,642.6 758.2,663.8 758.4,636.6 758.6,663.7 758.9,675.2 759.1,545.6 759.3,666.3 759.5,614.9 759.8,554.9 760,665.2 760.2,620.2 760.4,526.9 760.7,544.3 760.9,710.9 761.1,546.8 761.4,521.7 761.6,523.4 761.8,533.7 762,663.4 762.3,645.6 762.5,546.3 762.7,613 763,668.9 763.2,565.4 763.4,527.8 763.6,625 763.9,534.2 764.1,529.1 764.3,516.6 764.5,703.4 764.8,548.3 765,535 765.2,628.2 765.5,678.6 765.7,704.9 765.9,671.6 766.1,628.6 766.4,622.2 766.6,544.4 766.8,707.7 767.1,650.6 767.3,607.3 767.5,538.6 767.7,534 768,709.1 768.2,552.2 768.4,633.3 768.7,541.6 768.9,549.1 769.1,666.4 769.3,538.4 769.6,702.6 769.8,651.1 770,505.7 770.2,642.9 770.5,519.8 770.7,549.9 770.9,532.5 771.2,660.6 771.4,678.3 771.6,302.4 771.8,644.8 772.1,661.4 772.3,520.9 772.5,481.7 772.8,537 773,656.2 773.2,619.9 773.4,641.9 773.7,637.3 773.9,648.5 774.1,597.2 774.3,650.9 774.6,620.5 774.8,702.8 775,617.3 775.3,655 775.5,626.3 775.7,658 775.9,647.5 776.2,559.4 776.4,636.3 776.6,591.5 776.9,651.5 777.1,647.4 777.3,535.6 777.5,542.1 777.8,659.8 778,500.6 778.2,615.2 778.4,664.2 778.7,699 778.9,648.4 779.1,539.7 779.4,699.2 779.6,629.9 779.8,609.3 780,651.5 780.3,536.3 780.5,536.2 780.7,675 781,653.3 781.2,539 781.4,620.4 781.6,651.8 781.9,549.3 782.1,673.7 782.3,634.3 782.5,526.6 782.8,574.6 783,612.7 783.2,544.4 783.5,531.2 783.7,638.7 783.9,699.6 784.1,697.6 784.4,623.4 784.6,634.3 784.8,648.3 785.1,536.8 785.3,645.1 785.5,616.5 785.7,550.7 786,643.8 786.2,522.2 786.4,522 786.7,622.5 786.9,698.4 787.1,650.6 787.3,584.3 787.6,640.6 787.8,640.6 788,594 788.2,535.6 788.5,679.5 788.7,650 788.9,668.3 789.2,487.2 789.4,641.1 789.6,646.8 789.8,536.6 790.1,536 790.3,618.8 790.5,664.8 790.8,693.2 791,535.8 791.2,535.8 791.4,541.7 791.7,656.5 791.9,619.4 792.1,697.7 792.3,660 792.6,645.4 792.8,542.1 793,538.6 793.3,655.3 793.5,552.8 793.7,688.9 793.9,691.8 794.2,540.4 794.4,645 794.6,628 794.9,639.6 795.1,541.9 795.3,644.4 795.5,615.5 795.8,621.4 796,702.8 796.2,554.7 796.4,648.2 796.7,550.7 796.9,527 797.1,604.7 797.4,534.9 797.6,640.1 797.8,548.5 798,542 798.3,625.3 798.5,529.8 798.7,516.3 799,551.3 799.2,557.5 799.4,644.8 799.6,620.9 799.9,616.5 800.1,526.6 800.3,698.8 800.6,639.8 800.8,673.4 801,547.5 801.2,527.5 801.5,669.5 801.7,552.1 801.9,602.4 802.1,622.9 802.4,649.4 802.6,555.4 802.8,624.1 803.1,651.8 803.3,549.4 803.5,702 803.7,657.6 804,522 804.2,588.4 804.4,654.1 804.7,642.9 804.9,515.8 805.1,533.9 805.3,641.9 805.6,656 805.8,495.7 806,688.3 806.2,663.3 806.5,636.6 806.7,547.3 806.9,532.5 807.2,665.7 807.4,661.2 807.6,650.2 807.8,700.6 808.1,526 808.3,716 808.5,544.1 808.8,620.6 809,539.3 809.2,608.8 809.4,628.3 809.7,622.9 809.9,625.5 810.1,665.2 810.3,626.6 810.6,640.9 810.8,657.3 811,529.5 811.3,531.4 811.5,655.2 811.7,674.7 811.9,672.8 812.2,645.2 812.4,671.4 812.6,648.4 812.9,539.9 813.1,640.2 813.3,523.5 813.5,661.7 813.8,643.5 814,609.8 814.2,639.5 814.5,541 814.7,540.4 814.9,635.8 815.1,550.6 815.4,592.5 815.6,676.6 815.8,674.8 816,645.1 816.3,672.5 816.5,644.5 816.7,610.7 817,639.9 817.2,626.2 817.4,635.9 817.6,639.8 817.9,642.7 818.1,670.1 818.3,705.8 818.6,678.9 818.8,656.7 819,671.3 819.2,536.8 819.5,657.4 819.7,533.8 819.9,664.5 820.1,676.1 820.4,537.5 820.6,540.9 820.8,554 821.1,529.3 821.3,626.4 821.5,648.8 821.7,640 822,532.5 822.2,557.7 822.4,630 822.7,492.8 822.9,547.8 823.1,622.8 823.3,679.5 823.6,638 823.8,541.1 824,654.4 824.2,621 824.5,543.3 824.7,629.6 824.9,648.1 825.2,616.1 825.4,612.1 825.6,651.8 825.8,568.8 826.1,627.2 826.3,546.3 826.5,544.4 826.8,627.9 827,703.8 827.2,658.5 827.4,660.9 827.7,520 827.9,663.6 828.1,539.8 828.3,542.6 828.6,547.8 828.8,561 829,525.8 829.3,650.6 829.5,531.8 829.7,550.8 829.9,649.1 830.2,606.5 830.4,653 830.6,544.5 830.9,663.4 831.1,616.9 831.3,557.4 831.5,503.9 831.8,664.5 832,556 832.2,610.3 832.5,651.8 832.7,683.1 832.9,556.1 833.1,527.9 833.4,656 833.6,610.6 833.8,559.2 834,621.4 834.3,538.4 834.5,553.6 834.7,564.6 835,632.6 835.2,483.2 835.4,707.9 835.6,647.5 835.9,620.3 836.1,527 836.3,709.1 836.6,638.6 836.8,520 837,544.3 837.2,548.6 837.5,535.7 837.7,658.4 837.9,537.5 838.1,632.9 838.4,518.3 838.6,509.8 838.8,628.5 839.1,633.1 839.3,633.3 839.5,703.5 839.7,531.5 840,568.4 840.2,687.3 840.4,558 840.7,526.2 840.9,643.6 841.1,527 841.3,626.8 841.6,645.7 841.8,672.6 842,539.6 842.2,652.5 842.5,700 842.7,536.4 842.9,517.4 843.2,518.9 843.4,555.8 843.6,617.8 843.8,540.8 844.1,513.1 844.3,538.5 844.5,618.7 844.8,543.6 845,646.8 845.2,528.1 845.4,650.6 845.7,643.6 845.9,630.6 846.1,633.2 846.4,542.9 846.6,663.9 846.8,546.3 847,535.3 847.3,647.9 847.5,659.7 847.7,667.1 847.9,638.9 848.2,539.6 848.4,629.4 848.6,651.7 848.9,610.4 849.1,644.1 849.3,620.8 849.5,518.7 849.8,603.7 850,657.9 850.2,649.5 850.5,617.1 850.7,654.4 850.9,643.2 851.1,603 851.4,641.6 851.6,539.7 851.8,667.2 852,638.6 852.3,658.3 852.5,521.6 852.7,665.7 853,678.1 853.2,645.8 853.4,678.1 853.6,500.6 853.9,564.5 854.1,704.1 854.3,538.8 854.6,569.7 854.8,541.7 855,619.7 855.2,509 855.5,617.5 855.7,530.1 855.9,532.7 856.1,642.2 856.4,535.6 856.6,643.4 856.8,666.5 857.1,673.6 857.3,523.8 857.5,540 857.7,529.7 858,677.3 858.2,547.7 858.4,641.4 858.7,641.7 858.9,538.5 859.1,662 859.3,642.3 859.6,539.3 859.8,544.8 860,663.5 860.2,615.3 860.5,380.4 860.7,698.7 860.9,660 861.2,673.4 861.4,608 861.6,632.8 861.8,528.7 862.1,684.8 862.3,709.2 862.5,645.8 862.8,546.5 863,662.3 863.2,540.8 863.4,526.1 863.7,653.5 863.9,590.8 864.1,638.7 864.4,639.6 864.6,678.8 864.8,704.3 865,614.7 865.3,629.4 865.5,572.1 865.7,614.2 865.9,636.3 866.2,554.7 866.4,611.8 866.6,708.2 866.9,658.7 867.1,552 867.3,660.4 867.5,643.8 867.8,640.2 868,540.7 868.2,697.7 868.5,651.3 868.7,520.9 868.9,669.3 869.1,530.6 869.4,545.3 869.6,624.1 869.8,547 870,552.2 870.3,526.3 870.5,468.3 870.7,711.2 871,538.8 871.2,540.6 871.4,621 871.6,708.7 871.9,636.9 872.1,619 872.3,705.4 872.6,654.4 872.8,646 873,699.2 873.2,675 873.5,564.1 873.7,615.4 873.9,545 874.1,641.8 874.4,535.7 874.6,516.6 874.8,660.6 875.1,618.2 875.3,525.1 875.5,673.6 875.7,528.8 876,487.2 876.2,524.2 876.4,650.1 876.7,652.6 876.9,525.3 877.1,615.5 877.3,671.4 877.6,579.7 877.8,534.9 878,538.4 878.2,707.3 878.5,647.4 878.7,631.6 878.9,657.6 879.2,526.9 879.4,528.3 879.6,628.1 879.8,622.2 880.1,547.8 880.3,609.9 880.5,537.6 880.8,715 881,639.1 881.2,660.6 881.4,638.8 881.7,540.7 881.9,552.3 882.1,616 882.4,634.2 882.6,509.5 882.8,537.5 883,553.5 883.3,528.9 883.5,655 883.7,650.1 883.9,642.5 884.2,623.3 884.4,655.3 884.6,615 884.9,539.7 885.1,545.3 885.3,642.2 885.5,571.5 885.8,604.3 886,546.4 886.2,534.5 886.5,616.2 886.7,549.7 886.9,548.6 887.1,529 887.4,655.5 887.6,615.3 887.8,539.7 888,637.4 888.3,543.3 888.5,714.7 888.7,560.7 889,667.1 889.2,651.2 889.4,531.3 889.6,671.6 889.9,577.9 890.1,524 890.3,602.6 890.6,532.8 890.8,556.3 891,539.6 891.2,645.8 891.5,540.2 891.7,634.1 891.9,619.6 892.1,530 892.4,647.5 892.6,645.1 892.8,532.2 893.1,640.8 893.3,590.2 893.5,704.2 893.7,542.7 894,534.2 894.2,623.6 894.4,541.9 894.7,629 894.9,675 895.1,661.8 895.3,633.1 895.6,669.4 895.8,543.1 896,549 896.3,528 896.5,616.3 896.7,550.5 896.9,647.3 897.2,549.2 897.4,698.1 897.6,631.1 897.8,501.8 898.1,640.4 898.3,630.9 898.5,644.9 898.8,528.5 899,632.3 899.2,633.4 899.4,714.1 899.7,530.3 899.9,681.6 900.1,547.5 900.4,547.5 900.6,644.4 900.8,666.4 901,529.4 901.3,534.1 901.5,518.6 901.7,511.2 901.9,699.5 902.2,648.6 902.4,646.7 902.6,521.2 902.9,666.1 903.1,633.7 903.3,629.7 903.5,562 903.8,557.4 904,650.7 904.2,647.9 904.5,642.3 904.7,629.9 904.9,646.6 905.1,619.7 905.4,657.2 905.6,685 905.8,670.9 906,624.6 906.3,677.3 906.5,556.5 906.7,612.5 907,627.2 907.2,525.8 907.4,543.3 907.6,637 907.9,630.4 908.1,539.3 908.3,681.1 908.6,539.5 908.8,655.7 909,632.6 909.2,552.5 909.5,706.9 909.7,574.3 909.9,647.4 910.1,499.3 910.4,527.5 910.6,551.5 910.8,547.8 911.1,545.1 911.3,640.8 911.5,700.3 911.7,713.3 912,623.7 912.2,529.3 912.4,636.6 912.7,512.8 912.9,606 913.1,633 913.3,653.9 913.6,543.1 913.8,564.2 914,531.3 914.3,550.4 914.5,525.4 914.7,567.7 914.9,644.5 915.2,619 915.4,627.9 915.6,524.9 915.8,545.1 916.1,625.5 916.3,641.6 916.5,616.2 916.8,635.8 917,656.1 917.2,546.8 917.4,694.2 917.7,629 917.9,547 918.1,600.5 918.4,565 918.6,537.7 918.8,607.4 919,519.8 919.3,631.5 919.5,533.8 919.7,525.7 919.9,669.2 920.2,645.8 920.4,660 920.6,550.4 920.9,611.4 921.1,538.1 921.3,539.3 921.5,536.1 921.8,619.8 922,628.6 922.2,517.4 922.5,543.1 922.7,624.7 922.9,628.8 923.1,548.5 923.4,635.5 923.6,651.8 923.8,675.4 924,698 924.3,651.4 924.5,491.7 924.7,520.6 925,677.2 925.2,632.7 925.4,524.5 925.6,532.4 925.9,655 926.1,669.9 926.3,713.9 926.6,700.4 926.8,539.7 927,542 927.2,534 927.5,655.8 927.7,548.9 927.9,551.7 928.2,624.2 928.4,647.3 928.6,624.3 928.8,646.9 929.1,530.7 929.3,538.3 929.5,655.9 929.7,612 930,634.5 930.2,669.4 930.4,639.4 930.7,698.4 930.9,669.6 931.1,634.9 931.3,528.3 931.6,628.1 931.8,638.7 932,647.9 932.3,647.8 932.5,543.4 932.7,547.3 932.9,604.7 933.2,658.5 933.4,669 933.6,565.2 933.8,529.7 934.1,539.9 934.3,695.5 934.5,528.7 934.8,548.7 935,541.5 935.2,618.9 935.4,698.3 935.7,656 935.9,620.3 936.1,558 936.4,640.1 936.6,628.3 936.8,654.3 937,657.5 937.3,529.8 937.5,632.9 937.7,639.8 937.9,584.8 938.2,535.2 938.4,688.5 938.6,519.8 938.9,544.8 939.1,530.6 939.3,541.7 939.5,533.5 939.8,654.6 940,605 940.2,620.3 940.5,678 940.7,643.2 940.9,664.3 941.1,554.6 941.4,539.3 941.6,655.7 941.8,553.7 942,635.1 942.3,624.3 942.5,637.1 942.7,524.2 943,667.7 943.2,542 943.4,567.4 943.6,546.2 943.9,524.6 944.1,675.4 944.3,652.5 944.6,587.6 944.8,668.7 945,540.7 945.2,549.4 945.5,633.9 945.7,623.8 945.9,645.4 946.2,520.4 946.4,635 946.6,536.3 946.8,538.9 947.1,585 947.3,536.3 947.5,617.6 947.7,660.5 948,689.4 948.2,638.6 948.4,626.5 948.7,630.8 948.9,615.7 949.1,670.4 949.3,649 949.6,601.1 949.8,637.7 950,533.3 950.3,540 950.5,636.8 950.7,661.7 950.9,688.1 951.2,646.2 951.4,647.2 951.6,630.7 951.8,620.2 952.1,625 952.3,624 952.5,604.2 952.8,661.5 953,670.2 953.2,566 953.4,655.8 953.7,627.3 953.9,502.8 954.1,519.7 954.4,625 954.6,519.1 954.8,678.2 955,531.5 955.3,673.6 955.5,645.9 955.7,655.9 955.9,668.4 956.2,648.6 956.4,662.6 956.6,549.1 956.9,644.3 957.1,667 957.3,672.8 957.5,529.9 957.8,587.8 958,685.8 958.2,526.9 958.5,535.8 958.7,632.7 958.9,666.8 959.1,656.3 959.4,526.4 959.6,538.6 959.8,630.2 960.1,482.3 960.3,662.2 960.5,668.3 960.7,608 961,616 961.2,701.9 961.4,679.7 961.6,537.5 961.9,555.6 962.1,643.4 962.3,538 962.6,681.8 962.8,658.6 963,611.1 963.2,668.3 963.5,614.5 963.7,633.1 963.9,558.8 964.2,668 964.4,533 964.6,700.2 964.8,660.4 965.1,537.2 965.3,635.6 965.5,677.8 965.7,537.3 966,644.9 966.2,699.3 966.4,681.4 966.7,635.5 966.9,635.7 967.1,616 967.3,552.1 967.6,531.2 967.8,655.3 968,669.3 968.3,603 968.5,656 968.7,524.2 968.9,637.3 969.2,636.8 969.4,554.9 969.6,716 969.8,710.6 970.1,544.4 970.3,664.4 970.5,632 970.8,543.4 971,642.1 971.2,675.4 971.4,678.7 971.7,536.1 971.9,619 972.1,650 972.4,548.6 972.6,546.2 972.8,533.8 973,546.4 973.3,651.2 973.5,710 973.7,622 974,527.9 974.2,617.7 974.4,533.6 974.6,651 974.9,646.1 975.1,619.7 975.3,666.4 975.5,542.9 975.8,664.6 976,636.7 976.2,665 976.5,602.5 976.7,642.4 976.9,615 977.1,533.5 977.4,499.5 977.6,540.8 977.8,646.7 978.1,572.9 978.3,645.5 978.5,533 978.7,661 979,642.5 979.2,588.8 979.4,648.9 979.6,642.9 979.9,605 980.1,616.2 980.3,547.8 980.6,550.8 980.8,630.8 981,538.4 981.2,645 981.5,630.8 981.7,630.7 981.9,604.5 982.2,665.6 982.4,561.6 982.6,638.8 982.8,625.5 983.1,618 983.3,555 983.5,525.5 983.7,607.1 984,586.7 984.2,611 984.4,680.6 984.7,631 984.9,534.3 985.1,550.4 985.3,517.9 985.6,651.9 985.8,637 986,536.7 986.3,630.9 986.5,715 986.7,650 986.9,664.8 987.2,637.3 987.4,501 987.6,552.5 987.8,549.1 988.1,543.9 988.3,663.9 988.5,672.1 988.8,582.4 989,636.7 989.2,634 989.4,642.7 989.7,501.3 989.9,636.8 990.1,613.1 990.4,630.3 990.6,643.8 990.8,660.3 991,535.7 991.3,659.3 991.5,571.4 991.7,657.6 992,709.3 992.2,524.7 992.4,631 992.6,528.3 992.9,535 993.1,537.8 993.3,626.2 993.5,613.6 993.8,631.7 994,498.4 994.2,656.9 994.5,619.1 994.7,620.2 994.9,530 995.1,538.2 995.4,621.9 995.6,608.9 995.8,545.9 996.1,545.8 996.3,649.9 996.5,533.5 996.7,675 997,540.2 997.2,660 997.4,635.8 997.6,672 997.9,534.8 998.1,535.3 998.3,710.3 998.6,678.8 998.8,539.9 999,647.6 999.2,554 999.5,621.8 999.7,639.6 999.9,554.3 1000.2,531.9 1000.4,646.7 1000.6,489.5 1000.8,668.4 1001.1,640.2 1001.3,635.4 1001.5,623.9 1001.7,682.8 1002,525.9 1002.2,604 1002.4,668.2 1002.7,521.9 1002.9,617.3 1003.1,537.7 1003.3,470.5 1003.6,659.4 1003.8,654.7 1004,666.9 1004.3,650.2 1004.5,629.9 1004.7,553.7 1004.9,645.8 1005.2,608.2 1005.4,680.9 1005.6,543 1005.9,527 1006.1,652.8 1006.3,538.9 1006.5,632.7 1006.8,649.8 1007,542.6 1007.2,625.9 1007.4,624.8 1007.7,657.8 1007.9,608.6 1008.1,522.9 1008.4,550.7 1008.6,538.8 1008.8,674.9 1009,549.8 1009.3,629.6 1009.5,532.3 1009.7,662 1010,706.9 1010.2,537.9 1010.4,667.7 1010.6,610.6 1010.9,654.4 1011.1,655.9 1011.3,714.4 1011.5,639.7 1011.8,543.6 1012,664.2 1012.2,541.1 1012.5,701.2 1012.7,657.6 1012.9,642.2 1013.1,666.5 1013.4,551.6 1013.6,520.3 1013.8,525.6 1014.1,486.8 1014.3,631.1 1014.5,542.6 1014.7,619.5 1015,706 1015.2,653.4 1015.4,628.1 1015.6,635.8 1015.9,644.4 1016.1,561.8 1016.3,712.9 1016.6,648 1016.8,710.4 1017,526.6 1017.2,700 1017.5,687.1 1017.7,526.7 1017.9,541.1 1018.2,638 1018.4,629.6 1018.6,636.6 1018.8,545.2 1019.1,556.6 1019.3,538.2 1019.5,527.6" fill="none" stroke="#5a5a5a" stroke-width="3.6" stroke-linejoin="round" marker-start="url(#mk)" marker-mid="url(#mk)" marker-end="url(#mk)"/>
<polyline points="206.3,653.8 206.5,635.3 206.8,659.2 207,552.6 207.2,537.6 207.4,646.1 207.7,626.8 207.9,612.2 208.1,533.5 208.3,543.9 208.6,651.5 208.8,654.9 209,656.3 209.3,668.1 209.5,706.4 209.7,618.7 209.9,706.9 210.2,529.5 210.4,542 210.6,638.4 210.9,648.5 211.1,642.4 211.3,641.9 211.5,622.5 211.8,649.6 212,554.3 212.2,719.9 212.5,668.6 212.7,667.2 212.9,701.3 213.1,541.4 213.4,578.7 213.6,711.2 213.8,639 214,654.4 214.3,722.4 214.5,666.4 214.7,619.8 215,657.7 215.2,724.9 215.4,535.2 215.6,535.9 215.9,538 216.1,564.4 216.3,643 216.6,616.3 216.8,648.9 217,668.3 217.2,664.4 217.5,686.7 217.7,529.2 217.9,619.3 218.1,528.3 218.4,650.8 218.6,649.3 218.8,539.7 219.1,534.5 219.3,648 219.5,617.6 219.7,614.6 220,636.3 220.2,612.3 220.4,655.7 220.7,472.3 220.9,589.8 221.1,564.8 221.3,641.9 221.6,652.4 221.8,542 222,618.9 222.2,645.2 222.5,642.4 222.7,646.8 222.9,638.1 223.2,546.4 223.4,686.4 223.6,585.8 223.8,656.8 224.1,553.3 224.3,615.8 224.5,654.9 224.8,599.7 225,655.2 225.2,618.6 225.4,608.2 225.7,553.2 225.9,631.3 226.1,665.4 226.4,625.7 226.6,661.8 226.8,604.5 227,563.2 227.3,540.6 227.5,648.1 227.7,677.2 227.9,570.9 228.2,587.7 228.4,589 228.6,580.5 228.9,630.6 229.1,675 229.3,622.5 229.5,636 229.8,517.7 230,688.7 230.2,659.7 230.5,646.2 230.7,675.6 230.9,622.1 231.1,549.2 231.4,690.2 231.6,591.2 231.8,537.9 232,541.7 232.3,592.9 232.5,698.1 232.7,626 233,634.4 233.2,655.8 233.4,620.7 233.6,456.5 233.9,681.5 234.1,543.3 234.3,535.5 234.6,606.4 234.8,573.8 235,645.3 235.2,661.5 235.5,675.3 235.7,651.2 235.9,531.2 236.1,637.9 236.4,715.3 236.6,647.3 236.8,657.9 237.1,618 237.3,641.2 237.5,641.9 237.7,615.1 238,616 238.2,645.1 238.4,617.2 238.7,547 238.9,620.9 239.1,531.5 239.3,581.3 239.6,579.1 239.8,542.1 240,499.5 240.2,678.8 240.5,577.2 240.7,634.4 240.9,532.3 241.2,582.3 241.4,654.9 241.6,704.7 241.8,544.8 242.1,653.8 242.3,595.8 242.5,641.6 242.8,645.9 243,645.6 243.2,562.9 243.4,653.6 243.7,545 243.9,655.5 244.1,663.1 244.4,650 244.6,653.3 244.8,655.8 245,690.6 245.3,556.8 245.5,647.7 245.7,603.3 245.9,548.6 246.2,640.2 246.4,545.1 246.6,649.7 246.9,648.3 247.1,661.6 247.3,538 247.5,590.4 247.8,663.2 248,539.1 248.2,618.4 248.5,537.4 248.7,536.4 248.9,647.5 249.1,590.4 249.4,687.2 249.6,535.1 249.8,725 250,548.9 250.3,549 250.5,529.3 250.7,653.9 251,665.5 251.2,557.4 251.4,602.7 251.6,622.7 251.9,665.2 252.1,718.7 252.3,482.1 252.6,513.3 252.8,660.3 253,645.6 253.2,623.7 253.5,541.8 253.7,636 253.9,714.3 254.1,720.8 254.4,622 254.6,538.7 254.8,562.1 255.1,656 255.3,575.9 255.5,620.9 255.7,651 256,528 256.2,620.7 256.4,667.5 256.7,632.1 256.9,549.8 257.1,623.4 257.3,648.3 257.6,596.5 257.8,655.7 258,654.1 258.3,531.3 258.5,550.3 258.7,535.2 258.9,649.7 259.2,536.5 259.4,532 259.6,669.2 259.8,640.8 260.1,540.1 260.3,628.9 260.5,659.4 260.8,672.8 261,688.9 261.2,623.9 261.4,579.5 261.7,651.3 261.9,541.3 262.1,648.6 262.4,664.3 262.6,636.8 262.8,620 263,545.5 263.3,628.5 263.5,650.1 263.7,612.9 263.9,650.5 264.2,619.8 264.4,445.6 264.6,612.7 264.9,583.6 265.1,551.9 265.3,648.3 265.5,539 265.8,546.2 266,535.6 266.2,668.3 266.5,627 266.7,544.1 266.9,528.9 267.1,539.1 267.4,650 267.6,651.7 267.8,615.3 268,700.9 268.3,607.2 268.5,533.9 268.7,581.4 269,612.3 269.2,605.8 269.4,623.8 269.6,618.8 269.9,542.3 270.1,627.5 270.3,661.9 270.6,654.4 270.8,621.2 271,648 271.2,615.2 271.5,618.1 271.7,646.2 271.9,631.5 272.1,632.5 272.4,539.6 272.6,574.3 272.8,606.2 273.1,631.9 273.3,556.4 273.5,701.3 273.7,656.6 274,653.1 274.2,653.7 274.4,549.5 274.7,619.3 274.9,624 275.1,646.8 275.3,537.2 275.6,485 275.8,630 276,624.8 276.3,655.4 276.5,595.2 276.7,545.4 276.9,625.7 277.2,660.1 277.4,630.2 277.6,534.2 277.8,550 278.1,688.9 278.3,539.3 278.5,645.8 278.8,619.9 279,628.3 279.2,651 279.4,578.8 279.7,603.5 279.9,618.7 280.1,626 280.4,645.2 280.6,649.2 280.8,543 281,571 281.3,593 281.5,657 281.7,654.2 281.9,558.4 282.2,653.7 282.4,536 282.6,540.5 282.9,617.6 283.1,652.6 283.3,642.6 283.5,554.2 283.8,637.6 284,580.3 284.2,644 284.5,548.1 284.7,608.3 284.9,704.7 285.1,616.4 285.4,658 285.6,590.2 285.8,641.3 286,649.5 286.3,664.3 286.5,636.1 286.7,623.8 287,545.2 287.2,655.7 287.4,573 287.6,650.9 287.9,659 288.1,501.3 288.3,539.4 288.6,620.5 288.8,648.4 289,621.9 289.2,615.6 289.5,618.5 289.7,656.5 289.9,722.4 290.2,637.9 290.4,541.9 290.6,662 290.8,611.6 291.1,639 291.3,652.2 291.5,539.5 291.7,533.1 292,546.4 292.2,717.9 292.4,623 292.7,542.2 292.9,646.6 293.1,573.1 293.3,616.3 293.6,619.1 293.8,613.3 294,541.3 294.3,623 294.5,643.6 294.7,706.9 294.9,618.5 295.2,641.9 295.4,630.2 295.6,667.8 295.8,471.2 296.1,538.9 296.3,443.2 296.5,647 296.8,629.6 297,618.4 297.2,563.4 297.4,685.4 297.7,698.6 297.9,534.7 298.1,619.8 298.4,532.2 298.6,592.8 298.8,649.8 299,467.9 299.3,618.3 299.5,579 299.7,541.3 299.9,715 300.2,538.4 300.4,648.4 300.6,673.5 300.9,592.6 301.1,567.8 301.3,588.6 301.5,654.5 301.8,618.7 302,538.2 302.2,490.6 302.5,496.1 302.7,721.9 302.9,731.9 303.1,590.4 303.4,541.1 303.6,584.5 303.8,547.2 304.1,547.9 304.3,594.5 304.5,536 304.7,625.1 305,625.7 305.2,621.5 305.4,649.8 305.6,729.8 305.9,619.7 306.1,531 306.3,647.6 306.6,619.1 306.8,656.1 307,646.3 307.2,663 307.5,619.4 307.7,414.2 307.9,554.7 308.2,546.1 308.4,537.4 308.6,542.7 308.8,593.1 309.1,699.6 309.3,598.3 309.5,614.4 309.7,651.3 310,689.3 310.2,536 310.4,617.6 310.7,538.7 310.9,670.1 311.1,634.6 311.3,622.4 311.6,647.5 311.8,583.5 312,620.3 312.3,589.2 312.5,537.7 312.7,541.2 312.9,538.3 313.2,636.7 313.4,649.4 313.6,649.5 313.8,536.6 314.1,649.6 314.3,648.6 314.5,668.4 314.8,537 315,539.8 315.2,688.9 315.4,619 315.7,580.6 315.9,541.6 316.1,665.9 316.4,621.3 316.6,585.9 316.8,630 317,627.5 317.3,621.8 317.5,629.1 317.7,529.8 317.9,539.8 318.2,543.3 318.4,618.3 318.6,658.9 318.9,586.5 319.1,548.8 319.3,589 319.5,630.1 319.8,620.3 320,544.9 320.2,476.1 320.5,584.4 320.7,637.8 320.9,578.7 321.1,626.4 321.4,700.4 321.6,650.4 321.8,547.4 322.1,609 322.3,645.5 322.5,604.8 322.7,542.7 323,589.7 323.2,650.2 323.4,638.2 323.6,667.9 323.9,623.1 324.1,654.4 324.3,582.9 324.6,660.1 324.8,585 325,568.2 325.2,636.5 325.5,566.9 325.7,658.9 325.9,629.5 326.2,544 326.4,561.5 326.6,619.5 326.8,668.2 327.1,615.5 327.3,679.7 327.5,586.3 327.7,559.9 328,586.9 328.2,618.1 328.4,657.6 328.7,633.3 328.9,668.6 329.1,620.4 329.3,650.4 329.6,661.8 329.8,547.2 330,588 330.3,531.9 330.5,622 330.7,623.6 330.9,619.9 331.2,645 331.4,663 331.6,663.8 331.8,585 332.1,536.8 332.3,538.8 332.5,546.4 332.8,588 333,603.1 333.2,615.1 333.4,544.5 333.7,557.5 333.9,662.4 334.1,663.9 334.4,639.5 334.6,680.4 334.8,651.5 335,622.6 335.3,640.2 335.5,588 335.7,650.9 335.9,541.7 336.2,543 336.4,660.4 336.6,653.1 336.9,621.8 337.1,528 337.3,541.6 337.5,630.2 337.8,651.3 338,598.5 338.2,651.4 338.5,647.1 338.7,651 338.9,620.1 339.1,535 339.4,701.5 339.6,571.3 339.8,668.6 340.1,556.6 340.3,651.4 340.5,546.6 340.7,565.6 341,548.6 341.2,540.8 341.4,641.6 341.6,655.4 341.9,535.5 342.1,541.5 342.3,688.4 342.6,642.9 342.8,544.5 343,668.1 343.2,553.1 343.5,529 343.7,529.9 343.9,536.3 344.2,620.4 344.4,537.3 344.6,542 344.8,608.2 345.1,616.4 345.3,659.7 345.5,541.6 345.7,646.7 346,568.3 346.2,586.6 346.4,618.8 346.7,543.8 346.9,545.6 347.1,653.2 347.3,476.8 347.6,533.8 347.8,615 348,702 348.3,628.5 348.5,616.3 348.7,600.8 348.9,546.5 349.2,549.7 349.4,646.3 349.6,545.3 349.8,649.7 350.1,703.5 350.3,614.2 350.5,443.6 350.8,575.2 351,650 351.2,544.8 351.4,541.7 351.7,627.7 351.9,619.5 352.1,636.7 352.4,625.4 352.6,666 352.8,666.4 353,582.9 353.3,659.2 353.5,590.8 353.7,508.4 354,668.7 354.2,573.7 354.4,653.7 354.6,573.8 354.9,629.3 355.1,666.9 355.3,533.8 355.5,654.5 355.8,541.1 356,544.9 356.2,618.3 356.5,543.1 356.7,620.5 356.9,640.2 357.1,620.3 357.4,536.3 357.6,534 357.8,646.3 358.1,656.4 358.3,656.3 358.5,585.4 358.7,615.6 359,542.4 359.2,544.8 359.4,656.9 359.6,571.6 359.9,529.2 360.1,622.8 360.3,549.7 360.6,615.1 360.8,614.9 361,591.7 361.2,586.7 361.5,619.8 361.7,607.8 361.9,646.5 362.2,646.9 362.4,645.8 362.6,638.8 362.8,622.2 363.1,483.2 363.3,560.2 363.5,575.7 363.7,657.8 364,535.7 364.2,622 364.4,638.2 364.7,616.2 364.9,651.4 365.1,614.7 365.3,575.4 365.6,543.8 365.8,618.9 366,544.3 366.3,642 366.5,680.4 366.7,656.8 366.9,692.1 367.2,549.8 367.4,543 367.6,545.6 367.9,623.5 368.1,664.3 368.3,652.7 368.5,473.4 368.8,509.5 369,541.4 369.2,534 369.4,542.8 369.7,704.7 369.9,649.6 370.1,620.1 370.4,544.1 370.6,534 370.8,659.3 371,645.8 371.3,695.1 371.5,540.9 371.7,698.7 372,621.7 372.2,534.5 372.4,597.2 372.6,617.2 372.9,620.2 373.1,659 373.3,613.9 373.5,546 373.8,645.1 374,636.5 374.2,627.4 374.5,620.7 374.7,617.5 374.9,615.9 375.1,618.4 375.4,531.6 375.6,648.2 375.8,568.9 376.1,651.5 376.3,537.9 376.5,646 376.7,487.2 377,607.7 377.2,567.1 377.4,673.4 377.6,476.5 377.9,649.8 378.1,645.2 378.3,597.1 378.6,617.2 378.8,537.4 379,540.8 379.2,538.2 379.5,548.6 379.7,652.5 379.9,617.8 380.2,623.2 380.4,543.9 380.6,725.4 380.8,631 381.1,665.6 381.3,668.2 381.5,690.7 381.7,665 382,656.4 382.2,647.9 382.4,543.3 382.7,621.7 382.9,537.6 383.1,632.4 383.3,635.6 383.6,606.5 383.8,581.8 384,618.5 384.3,548.5 384.5,630.1 384.7,614.8 384.9,658.2 385.2,622.4 385.4,622.5 385.6,537.1 385.9,630.4 386.1,730 386.3,647.8 386.5,650.1 386.8,698.1 387,649.7 387.2,664.4 387.4,582.7 387.7,542.2 387.9,539.1 388.1,649.3 388.4,530.3 388.6,642.5 388.8,545.7 389,558.7 389.3,568 389.5,623.3 389.7,534.8 390,540.5 390.2,646.3 390.4,634.1 390.6,567.5 390.9,556.1 391.1,542.9 391.3,539.2 391.5,625.2 391.8,569.5 392,702.4 392.2,612.2 392.5,537.8 392.7,553.4 392.9,607.3 393.1,625.2 393.4,593.5 393.6,661.6 393.8,628.7 394.1,587.7 394.3,651 394.5,580.4 394.7,540.7 395,615.5 395.2,640.7 395.4,597.4 395.6,646.6 395.9,650.5 396.1,539.9 396.3,641.5 396.6,539.9 396.8,528.4 397,613.1 397.2,669.3 397.5,643.9 397.7,647.6 397.9,651 398.2,659.5 398.4,554.7 398.6,593.1 398.8,584.8 399.1,599.5 399.3,655.9 399.5,620.7 399.8,648.7 400,615.7 400.2,657.6 400.4,533 400.7,580.9 400.9,617.1 401.1,632.6 401.3,619.4 401.6,617.8 401.8,627.6 402,576.8 402.3,551.9 402.5,628.4 402.7,533.9 402.9,585.5 403.2,616.5 403.4,546.2 403.6,613.8 403.9,572 404.1,530.9 404.3,488.3 404.5,546.5 404.8,633.3 405,685.8 405.2,673.1 405.4,612.6 405.7,596.8 405.9,546.2 406.1,535 406.4,636.1 406.6,647 406.8,633 407,669.1 407.3,682.6 407.5,531 407.7,660 408,545.4 408.2,713.1 408.4,622 408.6,545.9 408.9,614.6 409.1,710.4 409.3,547.3 409.5,640.1 409.8,614.7 410,618.9 410.2,539.2 410.5,629.1 410.7,580.2 410.9,638.2 411.1,576.9 411.4,633.9 411.6,548.7 411.8,632.1 412.1,538.3 412.3,528.4 412.5,621 412.7,688.5 413,477.2 413.2,544.8 413.4,551.8 413.6,618.5 413.9,500.6 414.1,669 414.3,660.3 414.6,589.1 414.8,590.6 415,569.3 415.2,575.4 415.5,556.7 415.7,653.5 415.9,627 416.2,479.4 416.4,646.3 416.6,675.2 416.8,615.6 417.1,648.8 417.3,577.4 417.5,651.9 417.8,540.5 418,541.6 418.2,541.3 418.4,585.5 418.7,543.4 418.9,654.5 419.1,651 419.3,675 419.6,613.9 419.8,656.3 420,618.5 420.3,533.8 420.5,544.3 420.7,621.5 420.9,536.3 421.2,654.3 421.4,640 421.6,569.8 421.9,594 422.1,456.5 422.3,686.4 422.5,545 422.8,649.2 423,537 423.2,650.3 423.4,621.4 423.7,620.5 423.9,540.3 424.1,653.9 424.4,616.9 424.6,547.6 424.8,473.9 425,531.4 425.3,644.9 425.5,548 425.7,584.1 426,643 426.2,658.6 426.4,624.2 426.6,532.9 426.9,635.2 427.1,641.7 427.3,638.1 427.5,653.8 427.8,544.5 428,591.5 428.2,620.7 428.5,579.4 428.7,645.5 428.9,589.3 429.1,477.9 429.4,651.9 429.6,618.3 429.8,696.1 430.1,537.7 430.3,697 430.5,622.4 430.7,622.1 431,549.2 431.2,547.6 431.4,659.3 431.6,656 431.9,626.7 432.1,639.9 432.3,560.1 432.6,724.3 432.8,709.6 433,560.3 433.2,650.7 433.5,644.3 433.7,658.8 433.9,699.9 434.2,551.5 434.4,647 434.6,582.8 434.8,649.2 435.1,573.2 435.3,648 435.5,642.3 435.8,585.4 436,657.5 436.2,622.6 436.4,542.4 436.7,647.3 436.9,652.6 437.1,685.1 437.3,719.6 437.6,672.4 437.8,479.4 438,511.1 438.3,622.2 438.5,601.1 438.7,638.4 438.9,621.9 439.2,619.1 439.4,613.7 439.6,612.7 439.9,651.1 440.1,622.7 440.3,620.6 440.5,570.9 440.8,554 441,551.1 441.2,630 441.4,620.8 441.7,470.5 441.9,649 442.1,679 442.4,621.6 442.6,614.4 442.8,587.2 443,542 443.3,536.3 443.5,538.7 443.7,540.6 444,616.5 444.2,670.1 444.4,594.4 444.6,618.4 444.9,550.8 445.1,535.9 445.3,653.3 445.5,659 445.8,707.5 446,545.2 446.2,576.4 446.5,540.4 446.7,548.3 446.9,543 447.1,659.5 447.4,647.3 447.6,727.2 447.8,608.3 448.1,707.4 448.3,628.5 448.5,616.6 448.7,652.7 449,646.3 449.2,643.7 449.4,541.1 449.7,479.4 449.9,653.8 450.1,598.8 450.3,536 450.6,587.6 450.8,487.2 451,545.7 451.2,623.7 451.5,695.8 451.7,531.7 451.9,481 452.2,604.4 452.4,540.2 452.6,595.6 452.8,640.8 453.1,648.8 453.3,624.4 453.5,651 453.8,725.2 454,532.7 454.2,547.6 454.4,617.9 454.7,582.1 454.9,638.9 455.1,680.7 455.3,650.8 455.6,540.7 455.8,546.6 456,595.8 456.3,665.2 456.5,537.8 456.7,579.7 456.9,630.3 457.2,537.1 457.4,620.5 457.6,598.2 457.9,649.7 458.1,636.9 458.3,653.5 458.5,645.5 458.8,544 459,543.3 459.2,664.6 459.4,549.8 459.7,553.5 459.9,672.4 460.1,547.3 460.4,592.6 460.6,624.5 460.8,623.3 461,530.8 461.3,701.7 461.5,640.2 461.7,620.7 462,684.8 462.2,612.6 462.4,693.6 462.6,636.6 462.9,698 463.1,631.4 463.3,644.5 463.6,694.2 463.8,535.1 464,650.6 464.2,653.5 464.5,698.5 464.7,648.6 464.9,536.5 465.1,575 465.4,538.4 465.6,554.3 465.8,643.5 466.1,660.9 466.3,616 466.5,680.2 466.7,585.9 467,491.2 467.2,676.1 467.4,682.6 467.7,620.6 467.9,651.4 468.1,617.1 468.3,704.9 468.6,581 468.8,533.1 469,646.9 469.2,551.7 469.5,621.2 469.7,600.9 469.9,697.2 470.2,658.2 470.4,580.6 470.6,659 470.8,659.5 471.1,619.2 471.3,665.9 471.5,618.2 471.8,597.8 472,538.4 472.2,547.7 472.4,550 472.7,649.8 472.9,661.3 473.1,653.9 473.3,649.3 473.6,491.7 473.8,579.2 474,601.6 474.3,654.2 474.5,590.1 474.7,627.4 474.9,621.9 475.2,643.4 475.4,542.3 475.6,530.8 475.9,658.7 476.1,535.8 476.3,573.3 476.5,651.9 476.8,588.6 477,583.2 477.2,702.4 477.4,641.3 477.7,547.5 477.9,694.4 478.1,631.7 478.4,551.5 478.6,541.6 478.8,652 479,660.1 479.3,620.1 479.5,652.7 479.7,651.6 480,537.7 480.2,679.6 480.4,612.5 480.6,701.9 480.9,651.7 481.1,541.5 481.3,633.1 481.6,585.4 481.8,650.8 482,619.3 482.2,653 482.5,646.9 482.7,645.8 482.9,680.5 483.1,704.3 483.4,536.9 483.6,556.4 483.8,647.3 484.1,541.1 484.3,663.5 484.5,621.3 484.7,546.3 485,539.1 485.2,547.9 485.4,542.5 485.7,636.6 485.9,651.7 486.1,652.4 486.3,619.9 486.6,687.8 486.8,575.5 487,536.9 487.2,629.9 487.5,587.6 487.7,623.4 487.9,642.6 488.2,633.1 488.4,617.3 488.6,538.9 488.8,488.3 489.1,635.7 489.3,544.1 489.5,677.3 489.8,493.5 490,620.4 490.2,544 490.4,630.1 490.7,655.2 490.9,587.8 491.1,666.2 491.3,650.3 491.6,588.6 491.8,626.8 492,651 492.3,530.1 492.5,667.4 492.7,458.3 492.9,476.8 493.2,632.9 493.4,661.7 493.6,597.9 493.9,621.4 494.1,583.4 494.3,539.9 494.5,539.6 494.8,662.7 495,630.8 495.2,646.4 495.4,623.5 495.7,607.8 495.9,666.5 496.1,615.2 496.4,517.3 496.6,623.7 496.8,730.8 497,732.9 497.3,539.8 497.5,629.6 497.7,542.9 498,586.2 498.2,537.1 498.4,545.3 498.6,650.6 498.9,726 499.1,674.2 499.3,642.4 499.6,547.4 499.8,587.1 500,620.2 500.2,547.3 500.5,617.9 500.7,541.1 500.9,553.6 501.1,629.1 501.4,540.7 501.6,569.1 501.8,538.7 502.1,630.8 502.3,651.6 502.5,648.4 502.7,618.4 503,545.2 503.2,537.6 503.4,655.9 503.7,670.1 503.9,556.3 504.1,578.4 504.3,615.6 504.6,557.3 504.8,615.4 505,572.2 505.2,652.5 505.5,565.5 505.7,659.3 505.9,728.9 506.2,677.5 506.4,585.2 506.6,638.2 506.8,688.9 507.1,615.9 507.3,579.9 507.5,653.1 507.8,650.9 508,624.7 508.2,563.9 508.4,618.3 508.7,643.4 508.9,554.2 509.1,539 509.3,682 509.6,661.3 509.8,585.3 510,618 510.3,669.8 510.5,707.6 510.7,676.1 510.9,539 511.2,585.2 511.4,668.9 511.6,667.8 511.9,538.2 512.1,656.9 512.3,646.6 512.5,578.5 512.8,621.3 513,615.8 513.2,538.1 513.5,648.8 513.7,572.1 513.9,686.5 514.1,669.6 514.4,584.8 514.6,693.1 514.8,641 515,651.4 515.3,619.5 515.5,580.7 515.7,686.8 516,539.5 516.2,614.7 516.4,625.8 516.6,624.4 516.9,536.9 517.1,620.3 517.3,640 517.6,580.8 517.8,658.4 518,627.2 518.2,638.9 518.5,655.6 518.7,660.6 518.9,615.8 519.1,540 519.4,546.8 519.6,643.3 519.8,607.2 520.1,550.7 520.3,549.3 520.5,583.5 520.7,654.6 521,649.7 521.2,647.2 521.4,541.9 521.7,574 521.9,543.9 522.1,710.5 522.3,616.4 522.6,622.3 522.8,714.6 523,550.4 523.2,648.1 523.5,649.3 523.7,648.6 523.9,617.4 524.2,625.1 524.4,597.5 524.6,617.7 524.8,643 525.1,709 525.3,626.6 525.5,571.2 525.8,622.6 526,531.6 526.2,635.3 526.4,649.5 526.7,638.4 526.9,529.4 527.1,481 527.4,651.5 527.6,650.2 527.8,532.3 528,619.5 528.3,613.6 528.5,700.5 528.7,536.6 528.9,641.7 529.2,450.1 529.4,541.6 529.6,646.4 529.9,534.8 530.1,534.2 530.3,656.7 530.5,651.4 530.8,621.6 531,616.2 531.2,595.8 531.5,612.9 531.7,576.3 531.9,593.7 532.1,547.5 532.4,652.5 532.6,644 532.8,645.5 533,633.7 533.3,647.4 533.5,648.8 533.7,558.7 534,540.3 534.2,621.2 534.4,571 534.6,506.8 534.9,544.1 535.1,652 535.3,538.7 535.6,654.8 535.8,642.2 536,657.4 536.2,617.9 536.5,710.7 536.7,549.3 536.9,543.8 537.1,541.2 537.4,653.9 537.6,656.2 537.8,613.3 538.1,617.6 538.3,623.6 538.5,558.2 538.7,650.7 539,539.8 539.2,533.4 539.4,660 539.7,646.4 539.9,541.4 540.1,631.2 540.3,537.2 540.6,739.5 540.8,534.8 541,702.1 541.2,618.7 541.5,641.1 541.7,668.8 541.9,569.4 542.2,586.9 542.4,653.4 542.6,649.4 542.8,645.1 543.1,551 543.3,650.2 543.5,622.3 543.8,546 544,641.9 544.2,649.9 544.4,542.3 544.7,544.2 544.9,636.5 545.1,655.3 545.4,662.9 545.6,533 545.8,613.6 546,548.6 546.3,548.3 546.5,549.4 546.7,649.2 546.9,661.5 547.2,578.8 547.4,620.4 547.6,619.5 547.9,655.7 548.1,641.2 548.3,649 548.5,622.2 548.8,574.1 549,622.9 549.2,563 549.5,618.9 549.7,535.5 549.9,735 550.1,621.9 550.4,634.1 550.6,620.6 550.8,548.1 551,616 551.3,571.7 551.5,648.9 551.7,632.2 552,534.9 552.2,614.4 552.4,660.6 552.6,625.6 552.9,607.8 553.1,635.5 553.3,539.7 553.6,617.4 553.8,546.2 554,621.2 554.2,613.2 554.5,674.2 554.7,517.6 554.9,653.5 555.1,571.1 555.4,564.5 555.6,565.9 555.8,702.5 556.1,534.9 556.3,596.3 556.5,696 556.7,637 557,530.5 557.2,648.3 557.4,580.3 557.7,650.2 557.9,635.1 558.1,572.9 558.3,535.5 558.6,615.3 558.8,557.1 559,517.1 559.2,649.7 559.5,668 559.7,687.3 559.9,643.1 560.2,539.3 560.4,624.7 560.6,517.6 560.8,540 561.1,517.1 561.3,581.9 561.5,586.6 561.8,640.6 562,568.4 562.2,629.6 562.4,577.2 562.7,617.7 562.9,694.5 563.1,640.9 563.4,516.5 563.6,651.3 563.8,537.2 564,519 564.3,618.8 564.5,653.8 564.7,621.2 564.9,536.9 565.2,603.7 565.4,578.7 565.6,673 565.9,568.9 566.1,584.2 566.3,653 566.5,578.7 566.8,540.2 567,655.1 567.2,679.6 567.5,506.2 567.7,667.2 567.9,665.1 568.1,548.8 568.4,684.3 568.6,651.2 568.8,646.9 569,615.6 569.3,613.7 569.5,603.8 569.7,543 570,619.1 570.2,515.7 570.4,536.4 570.6,489 570.9,536.2 571.1,588.6 571.3,629.6 571.6,651 571.8,649.5 572,704.7 572.2,622.1 572.5,539.6 572.7,530.4 572.9,646.8 573.1,634.2 573.4,635.2 573.6,616.4 573.8,619.8 574.1,684 574.3,533.6 574.5,532.5 574.7,516.7 575,515.9 575.2,649.3 575.4,688.7 575.7,627.6 575.9,581.5 576.1,605.1 576.3,660.9 576.6,595.2 576.8,580.1 577,656.6 577.3,574.7 577.5,637.5 577.7,688.2 577.9,630.6 578.2,687.2 578.4,619.5 578.6,614.5 578.8,575.3 579.1,645 579.3,618.8 579.5,544.4 579.8,617.6 580,583.3 580.2,541.8 580.4,568.9 580.7,608.4 580.9,620.8 581.1,539.9 581.4,636 581.6,633.3 581.8,533.8 582,515.7 582.3,532.4 582.5,534.2 582.7,603.5 582.9,618.9 583.2,518.9 583.4,669.8 583.6,620.8 583.9,645.7 584.1,577 584.3,544.9 584.5,638.1 584.8,517.3 585,662.9 585.2,646.5 585.5,606.5 585.7,635.4 585.9,700 586.1,669.1 586.4,696.9 586.6,659.4 586.8,518.7 587,650.6 587.3,694.1 587.5,628.9 587.7,621.3 588,558.5 588.2,516.5 588.4,623.1 588.6,616.2 588.9,616.4 589.1,462.3 589.3,653.4 589.6,535.9 589.8,649.9 590,646.9 590.2,517.4 590.5,651.7 590.7,583.6 590.9,534.4 591.1,620.2 591.4,653.6 591.6,613 591.8,646.9 592.1,568.4 592.3,517.5 592.5,582.7 592.7,622.7 593,584.6 593.2,533.4 593.4,535.9 593.7,564.7 593.9,539.3 594.1,582.1 594.3,681 594.6,534.4 594.8,704.2 595,653.4 595.3,625.5 595.5,620.3 595.7,552.4 595.9,666.9 596.2,620.8 596.4,664.5 596.6,683.7 596.8,676.8 597.1,649.7 597.3,547 597.5,618.9 597.8,518.6 598,706.3 598.2,626.3 598.4,652.5 598.7,592.9 598.9,536.4 599.1,536.6 599.4,625.6 599.6,587.9 599.8,538.8 600,631.6 600.3,703.5 600.5,618.3 600.7,541.6 600.9,704.7 601.2,651.6 601.4,614 601.6,618.8 601.9,538.7 602.1,650.6 602.3,677.8 602.5,659.3 602.8,519.2 603,648 603.2,543.9 603.5,579.4 603.7,658.7 603.9,531.2 604.1,593.5 604.4,582.4 604.6,619.6 604.8,632.4 605,516.1 605.3,587.7 605.5,649.1 605.7,544.6 606,555.4 606.2,622 606.4,629.8 606.6,585.4 606.9,701.3 607.1,552.5 607.3,565.8 607.6,549.5 607.8,647 608,615.1 608.2,625.9 608.5,655.7 608.7,519.6 608.9,675.2 609.2,617.5 609.4,539.5 609.6,518.6 609.8,702.8 610.1,535.9 610.3,668.8 610.5,515.5 610.7,537.7 611,679.1 611.2,673.2 611.4,599.1 611.7,587.3 611.9,517.3 612.1,516 612.3,647.1 612.6,645.9 612.8,628.5 613,600.1 613.3,619.4 613.5,651 613.7,640.3 613.9,543.6 614.2,540.8 614.4,655.2 614.6,462.3 614.8,645.6 615.1,616.3 615.3,537.3 615.5,647.9 615.8,651.6 616,657.9 616.2,647.2 616.4,693.3 616.7,620 616.9,516.7 617.1,615.5 617.4,618 617.6,649.9 617.8,664.4 618,462.3 618.3,741.2 618.5,649.3 618.7,730.8 618.9,519.1 619.2,674.9 619.4,462.3 619.6,614.2 619.9,555.5 620.1,667.7 620.3,729.7 620.5,541.3 620.8,518.3 621,640.9 621.2,731.1 621.5,651.6 621.7,663.9 621.9,639.6 622.1,574.1 622.4,534 622.6,619.3 622.8,578.3 623,541 623.3,647.9 623.5,652.4 623.7,709.8 624,567.2 624.2,648.1 624.4,554.8 624.6,617.5 624.9,628.8 625.1,652.3 625.3,613.6 625.6,619.6 625.8,536.8 626,534.6 626.2,515.9 626.5,732 626.7,560.7 626.9,685.7 627.2,565 627.4,517 627.6,645 627.8,536.5 628.1,546.4 628.3,630.6 628.5,655.3 628.7,659.8 629,647.1 629.2,537.6 629.4,518.1 629.7,657.5 629.9,578.4 630.1,551.7 630.3,538 630.6,517.4 630.8,573.4 631,572.7 631.3,653.5 631.5,617 631.7,543.1 631.9,554.4 632.2,655 632.4,557.7 632.6,540.8 632.8,616.1 633.1,667.2 633.3,677.9 633.5,614.6 633.8,693.9 634,620.7 634.2,617.5 634.4,635.1 634.7,531.6 634.9,557.1 635.1,550.2 635.4,539 635.6,623.4 635.8,648.9 636,539.7 636.3,621 636.5,582.3 636.7,536.3 636.9,647.5 637.2,543.5 637.4,614.5 637.6,647.9 637.9,661.5 638.1,646.5 638.3,627.2 638.5,559.2 638.8,648.7 639,620.3 639.2,517.8 639.5,582.5 639.7,658.9 639.9,545.3 640.1,620.3 640.4,650.2 640.6,584.3 640.8,607.3 641.1,531.7 641.3,518.2 641.5,534.9 641.7,536.8 642,651.4 642.2,636.7 642.4,651 642.6,654 642.9,612.2 643.1,619.1 643.3,651.2 643.6,649.9 643.8,646.4 644,533.6 644.2,616.5 644.5,619.2 644.7,582.5 644.9,613.9 645.2,680.2 645.4,515.6 645.6,658 645.8,618 646.1,576.8 646.3,641.1 646.5,541.9 646.7,619.1 647,666.1 647.2,671.7 647.4,646.1 647.7,543.8 647.9,579.3 648.1,583.2 648.3,616.4 648.6,619.5 648.8,621.1 649,653.1 649.3,645.6 649.5,518.8 649.7,615.7 649.9,624.6 650.2,615.1 650.4,671.8 650.6,621.4 650.8,703.4 651.1,489.5 651.3,534.7 651.5,548.3 651.8,645.3 652,628.2 652.2,666.4 652.4,580.5 652.7,633.1 652.9,654.4 653.1,533.7 653.4,614.7 653.6,576.2 653.8,578.1 654,542.9 654.3,619 654.5,518.3 654.7,544.4 655,655.5 655.2,534.5 655.4,519 655.6,620.2 655.9,539.3 656.1,541.6 656.3,519.2 656.5,632.1 656.8,660.9 657,624.2 657.2,648.5 657.5,628.2 657.7,653.9 657.9,515.6 658.1,625 658.4,613.4 658.6,632.3 658.8,710.3 659.1,612.8 659.3,488.3 659.5,577.8 659.7,540 660,615.3 660.2,579.7 660.4,631.7 660.6,625.1 660.9,596.1 661.1,517.1 661.3,541.5 661.6,539.9 661.8,538.4 662,600 662.2,669.2 662.5,715.3 662.7,705.3 662.9,561.4 663.2,681.5 663.4,541.1 663.6,529.2 663.8,615.6 664.1,661.1 664.3,657.8 664.5,733.6 664.7,713.9 665,626.3 665.2,649.8 665.4,648 665.7,596.9 665.9,643.8 666.1,589.1 666.3,625.5 666.6,515.2 666.8,487.7 667,543 667.3,627.3 667.5,628 667.7,573.3 667.9,685 668.2,701.6 668.4,617 668.6,692.2 668.8,549.5 669.1,517.4 669.3,674.3 669.5,553.1 669.8,627.7 670,541.4 670.2,570.8 670.4,545 670.7,660.5 670.9,540.5 671.1,625.1 671.4,688.9 671.6,625.7 671.8,720.5 672,620.1 672.3,658.1 672.5,621.7 672.7,614.7 673,564.3 673.2,662.8 673.4,634.6 673.6,653.5 673.9,584.2 674.1,733.1 674.3,642 674.5,722.7 674.8,563 675,658.5 675.2,537.3 675.5,620 675.7,652.7 675.9,582.9 676.1,651.9 676.4,517 676.6,624.7 676.8,647.2 677.1,640.7 677.3,616.3 677.5,663.6 677.7,642.8 678,616 678.2,547.6 678.4,640.7 678.6,651.1 678.9,619.7 679.1,608.5 679.3,639.2 679.6,640.5 679.8,633 680,667.4 680.2,565.5 680.5,656.2 680.7,540.1 680.9,542.1 681.2,569.2 681.4,623.3 681.6,581.2 681.8,579.7 682.1,535.6 682.3,516.8 682.5,626.1 682.7,564.2 683,629.3 683.2,617.3 683.4,724.4 683.7,553.2 683.9,539.1 684.1,728.4 684.3,667.8 684.6,516.9 684.8,643 685,616 685.3,650.5 685.5,586.6 685.7,646.8 685.9,721.9 686.2,614.2 686.4,612.8 686.6,539.9 686.9,634.2 687.1,557 687.3,540.6 687.5,580.2 687.8,516.3 688,603.7 688.2,539 688.4,618.9 688.7,661.1 688.9,719.9 689.1,677.9 689.4,617.7 689.6,656.9 689.8,641.8 690,516.7 690.3,630.2 690.5,652.8 690.7,656.7 691,621.5 691.2,622.7 691.4,536.9 691.6,516.1 691.9,517.6 692.1,649.5 692.3,723.8 692.5,617.3 692.8,575.6 693,607.7 693.2,547.2 693.5,704.1 693.7,619.9 693.9,544.8 694.1,518.1 694.4,622.5 694.6,576.2 694.8,636.2 695.1,614.5 695.3,621.9 695.5,518.3 695.7,726.2 696,517 696.2,535.6 696.4,516.3 696.6,643.1 696.9,650.6 697.1,620.9 697.3,537.9 697.6,535.9 697.8,621.7 698,559 698.2,617.6 698.5,649.2 698.7,544.9 698.9,644.2 699.2,623.5 699.4,518 699.6,644 699.8,544 700.1,623 700.3,583.9 700.5,678.4 700.7,534 701,517.3 701.2,518.7 701.4,569.9 701.7,670.2 701.9,705.5 702.1,653.8 702.3,654 702.6,620.4 702.8,656.6 703,588.2 703.3,624 703.5,623.2 703.7,518.5 703.9,647.4 704.2,519.1 704.4,554.8 704.6,649.3 704.9,640.7 705.1,668.7 705.3,636 705.5,639.3 705.8,617.1 706,536.1 706.2,627.1 706.4,529.8 706.7,548 706.9,517.9 707.1,648.3 707.4,621.6 707.6,547.4 707.8,515.4 708,658.1 708.3,649.8 708.5,516.5 708.7,659.7 709,517.9 709.2,669.7 709.4,624.8 709.6,534.8 709.9,517.8 710.1,707.1 710.3,545.8 710.5,518.4 710.8,653.1 711,574.1 711.2,614 711.5,515.4 711.7,544.4 711.9,542.4 712.1,659.3 712.4,660 712.6,537.6 712.8,653.1 713.1,515.3 713.3,620.1 713.5,624 713.7,634.7 714,639.6 714.2,631.6 714.4,543.3 714.6,517.6 714.9,517.5 715.1,620.4 715.3,628.8 715.6,606 715.8,566.9 716,539.8 716.2,518.8 716.5,662.2 716.7,573.7 716.9,652.8 717.2,639.1 717.4,648.2 717.6,552.9 717.8,613.2 718.1,681.6 718.3,531.9 718.5,651.2 718.8,694.5 719,624.8 719.2,614.5 719.4,615.7 719.7,535.2 719.9,581.7 720.1,528.7 720.3,624.2 720.6,625.9 720.8,639.5 721,615.6 721.3,615.4 721.5,637.8 721.7,631.2 721.9,647.8 722.2,666 722.4,500.6 722.6,693.5 722.9,619.5 723.1,648.7 723.3,516.8 723.5,578 723.8,650.3 724,519.3 724.2,616 724.4,520.1 724.7,536.2 724.9,704.4 725.1,625.2 725.4,614.1 725.6,518 725.8,649.7 726,614.2 726.3,561.7 726.5,617.9 726.7,623.5 727,599.7 727.2,516.8 727.4,685.8 727.6,560.8 727.9,546.9 728.1,647.3 728.3,651 728.5,708.2 728.8,668.7 729,517.2 729.2,650.4 729.5,518.1 729.7,535.6 729.9,579.4 730.1,570.1 730.4,619.3 730.6,570.5 730.8,548.3 731.1,583.7 731.3,515.5 731.5,587.3 731.7,648.9 732,622.2 732.2,516.3 732.4,531.8 732.6,576.9 732.9,578.4 733.1,652.9 733.3,631.3 733.6,614.5 733.8,618.8 734,617.2 734.2,577.2 734.5,618.4 734.7,617.6 734.9,656.2 735.2,579.7 735.4,616.9 735.6,662.6 735.8,582.5 736.1,562.6 736.3,543.9 736.5,638.2 736.8,571.4 737,648.6 737.2,614.6 737.4,538.1 737.7,559.5 737.9,573.2 738.1,674.6 738.3,587.1 738.6,618.5 738.8,535.6 739,622 739.3,655.2 739.5,544.6 739.7,516 739.9,545.9 740.2,622.6 740.4,531.9 740.6,517.3 740.9,615.8 741.1,643.2 741.3,535.5 741.5,672.9 741.8,619.8 742,544.4 742.2,579.1 742.4,588.9 742.7,541 742.9,544.5 743.1,591.5 743.4,641.9 743.6,518.3 743.8,647.9 744,616.8 744.3,572.9 744.5,657.5 744.7,576.9 745,545.2 745.2,654.8 745.4,517.8 745.6,649.1 745.9,650.9 746.1,547.7 746.3,613.8 746.5,623.7 746.8,619.2 747,665 747.2,685.8 747.5,619.5 747.7,622.7 747.9,619.5 748.1,625 748.4,639.4 748.6,658.4 748.8,637.2 749.1,622.3 749.3,593.3 749.5,516 749.7,674.5 750,643.6 750.2,621.2 750.4,657.4 750.6,587.7 750.9,618 751.1,714.2 751.3,712.2 751.6,623 751.8,582.5 752,538.6 752.2,633.6 752.5,654.1 752.7,604.4 752.9,535.3 753.2,518.5 753.4,577.4 753.6,641.7 753.8,571.7 754.1,542.7 754.3,560.6 754.5,583.4 754.8,648.5 755,708.9 755.2,541.7 755.4,627.6 755.7,532.2 755.9,645.9 756.1,640 756.3,647.8 756.6,536.7 756.8,625.7 757,661.5 757.3,571.4 757.5,657.4 757.7,542.5 757.9,634.5 758.2,676.1 758.4,613.8 758.6,666.8 758.9,578.1 759.1,499 759.3,620.7 759.5,671.9 759.8,576.6 760,705.5 760.2,552.8 760.4,654.5 760.7,533.1 760.9,642.7 761.1,649.9 761.4,535.3 761.6,617.8 761.8,633.9 762,566.9 762.3,621 762.5,660.5 762.7,572.5 763,517.7 763.2,664.2 763.4,620.1 763.6,575.5 763.9,705.6 764.1,574.9 764.3,574.6 764.5,624.8 764.8,516.9 765,518.3 765.2,654.7 765.5,638.1 765.7,574.7 765.9,615.4 766.1,628.7 766.4,548.9 766.6,548.1 766.8,573 767.1,534.8 767.3,617.7 767.5,519.4 767.7,529.1 768,611.8 768.2,536.1 768.4,619.9 768.7,614 768.9,647.1 769.1,621.4 769.3,719.6 769.6,528.9 769.8,629.6 770,619.7 770.2,669.2 770.5,532.2 770.7,612.9 770.9,574.6 771.2,566.1 771.4,648.8 771.6,461.6 771.8,649.3 772.1,579.4 772.3,648 772.5,538.1 772.8,528.4 773,518.5 773.2,615.5 773.4,617.2 773.7,529.2 773.9,619.4 774.1,719.6 774.3,619.8 774.6,564.8 774.8,551.1 775,515.9 775.3,567.9 775.5,647.7 775.7,579.9 775.9,613.3 776.2,719.8 776.4,581.3 776.6,546.1 776.9,596.1 777.1,558.4 777.3,549.3 777.5,647.7 777.8,655.9 778,582.2 778.2,545.8 778.4,684.1 778.7,707.4 778.9,590.9 779.1,722 779.4,570.4 779.6,623.9 779.8,579.3 780,679.5 780.3,621.9 780.5,556.3 780.7,596.9 781,675.1 781.2,615.7 781.4,584.2 781.6,668.9 781.9,539.1 782.1,712.3 782.3,591.8 782.5,581.8 782.8,629.7 783,538.7 783.2,638.7 783.5,608.6 783.7,488.3 783.9,645.3 784.1,647.5 784.4,618.2 784.6,691.1 784.8,537 785.1,651.4 785.3,660.3 785.5,616.1 785.7,668.4 786,545.3 786.2,539.3 786.4,616.5 786.7,515.8 786.9,579.1 787.1,658.9 787.3,623.5 787.6,545.9 787.8,642.1 788,624.3 788.2,671 788.5,616.7 788.7,619.8 788.9,624.5 789.2,587.5 789.4,540.2 789.6,619.4 789.8,617.4 790.1,614.4 790.3,636.4 790.5,518.8 790.8,554.3 791,569.1 791.2,536 791.4,497.3 791.7,700.4 791.9,704.1 792.1,572.5 792.3,543.9 792.6,569.4 792.8,710.4 793,532.7 793.3,652.7 793.5,542.4 793.7,617.4 793.9,518.5 794.2,520.6 794.4,559.7 794.6,649.5 794.9,574.1 795.1,487.9 795.3,530.8 795.5,617.1 795.8,577.8 796,648.8 796.2,671.3 796.4,616.7 796.7,518 796.9,622.3 797.1,712.1 797.4,618.7 797.6,578 797.8,631.9 798,646.4 798.3,542.5 798.5,689.1 798.7,600.3 799,667.4 799.2,618.6 799.4,635 799.6,699 799.9,516.8 800.1,668 800.3,621.1 800.6,647 800.8,669 801,653.1 801.2,575.8 801.5,516.3 801.7,553.3 801.9,542.3 802.1,714 802.4,538.6 802.6,534.8 802.8,639.8 803.1,517.1 803.3,612.6 803.5,535.1 803.7,576.1 804,516.8 804.2,601.9 804.4,578.6 804.7,546 804.9,650.5 805.1,563.3 805.3,678.4 805.6,608.9 805.8,648.9 806,534.7 806.2,648.8 806.5,619.7 806.7,547.8 806.9,621.6 807.2,702.3 807.4,667.3 807.6,517.5 807.8,640.4 808.1,684.6 808.3,580.3 808.5,618.5 808.8,687.2 809,668.2 809.2,676.7 809.4,623.3 809.7,611.4 809.9,572 810.1,617.3 810.3,647 810.6,639.3 810.8,539.7 811,572.6 811.3,516.6 811.5,515.9 811.7,570.2 811.9,578.8 812.2,629.5 812.4,515.3 812.6,618 812.9,626 813.1,668.9 813.3,617.4 813.5,517.8 813.8,615.7 814,550.5 814.2,620.3 814.5,653.6 814.7,518.3 814.9,619.9 815.1,618.5 815.4,656 815.6,604.4 815.8,547.7 816,615.9 816.3,669.4 816.5,620.1 816.7,528.1 817,533.7 817.2,643.5 817.4,618.9 817.6,612.7 817.9,533 818.1,625.8 818.3,547.7 818.6,616.2 818.8,518 819,652.7 819.2,628.8 819.5,530.2 819.7,517.2 819.9,617.8 820.1,541.9 820.4,613.4 820.6,517.1 820.8,618.8 821.1,545.2 821.3,536.4 821.5,618.2 821.7,527.7 822,649.3 822.2,619.8 822.4,618.7 822.7,649.5 822.9,605.2 823.1,542.9 823.3,620.9 823.6,592.3 823.8,541 824,580.8 824.2,614.3 824.5,652.5 824.7,516.9 824.9,719.2 825.2,663.1 825.4,517.8 825.6,516.1 825.8,706.9 826.1,516.6 826.3,682.9 826.5,666.8 826.8,620.5 827,608.2 827.2,651.1 827.4,519.5 827.7,686.8 827.9,615.5 828.1,583.3 828.3,531.3 828.6,531.8 828.8,584.4 829,651.7 829.3,571.8 829.5,622.4 829.7,544.8 829.9,629.4 830.2,573.9 830.4,584.2 830.6,534.8 830.9,653.2 831.1,544.8 831.3,642.1 831.5,576.7 831.8,643 832,652.1 832.2,695 832.5,552.8 832.7,589.7 832.9,541.7 833.1,690.3 833.4,515.7 833.6,648.7 833.8,624.1 834,605.4 834.3,650.8 834.5,627.9 834.7,618.4 835,655.5 835.2,575.7 835.4,698.7 835.6,643.1 835.9,629.7 836.1,515.7 836.3,555.1 836.6,622.3 836.8,545.5 837,539.7 837.2,531.5 837.5,620.1 837.7,632 837.9,717.7 838.1,661.1 838.4,621.2 838.6,540.1 838.8,582.5 839.1,655.5 839.3,646.9 839.5,669 839.7,615.9 840,653.1 840.2,638 840.4,618.6 840.7,668 840.9,654.5 841.1,553.5 841.3,628.1 841.6,630.9 841.8,685.5 842,640.4 842.2,539.1 842.5,618.6 842.7,537.2 842.9,575.2 843.2,518.9 843.4,655 843.6,614 843.8,702.2 844.1,577.3 844.3,549.4 844.5,665.6 844.8,538 845,684.1 845.2,624.9 845.4,628.9 845.7,607.8 845.9,487.9 846.1,520 846.4,618.5 846.6,621.1 846.8,649 847,491.2 847.3,545.6 847.5,661.2 847.7,533.8 847.9,545.5 848.2,534.9 848.4,650 848.6,553.7 848.9,667.8 849.1,579.2 849.3,623.7 849.5,549.4 849.8,621.1 850,579.9 850.2,536.6 850.5,619.1 850.7,694.5 850.9,655.1 851.1,539.6 851.4,639.6 851.6,634.8 851.8,646.1 852,538.1 852.3,703.2 852.5,548.3 852.7,644.9 853,519.5 853.2,618.5 853.4,642.9 853.6,519.5 853.9,520.2 854.1,601.1 854.3,697 854.6,662.3 854.8,695 855,606.2 855.2,685.3 855.5,703.1 855.7,533.1 855.9,616 856.1,654.7 856.4,634.3 856.6,606.4 856.8,665.7 857.1,616.6 857.3,664.8 857.5,637.2 857.7,656.6 858,654.6 858.2,650.6 858.4,530.1 858.7,600.2 858.9,658.2 859.1,654.3 859.3,561.7 859.6,517.7 859.8,516.8 860,614.8 860.2,651.7 860.5,461.6 860.7,492.4 860.9,646 861.2,633.8 861.4,645.7 861.6,615.1 861.8,569 862.1,624.7 862.3,642.9 862.5,653.5 862.8,529.2 863,583.1 863.2,678.9 863.4,538.6 863.7,664.8 863.9,640.8 864.1,538.6 864.4,571.7 864.6,573.6 864.8,622.3 865,542.5 865.3,646.7 865.5,516.6 865.7,543.3 865.9,613.8 866.2,687.7 866.4,659 866.6,595 866.9,539.8 867.1,545.7 867.3,626.2 867.5,565.8 867.8,615.5 868,597.8 868.2,615.7 868.5,643.2 868.7,575.9 868.9,627 869.1,535.7 869.4,548 869.6,648.1 869.8,536.8 870,682.8 870.3,625.3 870.5,515.6 870.7,622.4 871,538.1 871.2,634.7 871.4,626.1 871.6,677.1 871.9,516.1 872.1,666.5 872.3,618 872.6,534.3 872.8,616.1 873,577.8 873.2,587.4 873.5,517.5 873.7,488.3 873.9,644.7 874.1,576 874.4,622.2 874.6,619.3 874.8,676.3 875.1,705 875.3,516.3 875.5,588 875.7,614 876,642.5 876.2,643 876.4,710.4 876.7,694.6 876.9,535.7 877.1,568.8 877.3,536.4 877.6,564.5 877.8,615.6 878,645.7 878.2,574.2 878.5,651.8 878.7,540.1 878.9,544.9 879.2,665.2 879.4,615.9 879.6,534.4 879.8,660.4 880.1,488.3 880.3,636 880.5,631.2 880.8,654.9 881,534 881.2,600.4 881.4,623.7 881.7,645.4 881.9,549.5 882.1,638.2 882.4,572 882.6,631.2 882.8,517.7 883,625.4 883.3,652.7 883.5,567.7 883.7,574.7 883.9,615.2 884.2,533.3 884.4,574 884.6,616.6 884.9,588.7 885.1,539.1 885.3,549.1 885.5,650.8 885.8,634.1 886,585.7 886.2,646 886.5,532.2 886.7,598 886.9,516.1 887.1,575.7 887.4,658.2 887.6,690.2 887.8,580.9 888,585.5 888.3,516 888.5,603.8 888.7,648.2 889,550.7 889.2,538.5 889.4,650.6 889.6,531.2 889.9,619.8 890.1,545.5 890.3,579 890.6,516.8 890.8,566.6 891,539.8 891.2,689.2 891.5,572.3 891.7,577.7 891.9,579.1 892.1,635 892.4,664.3 892.6,660.6 892.8,670.6 893.1,619 893.3,664.7 893.5,570 893.7,645.2 894,636.7 894.2,701.6 894.4,642.5 894.7,644.9 894.9,532.1 895.1,614.4 895.3,594.7 895.6,546.2 895.8,680.8 896,664.4 896.3,648.7 896.5,518.4 896.7,653.4 896.9,711.1 897.2,531.5 897.4,654.6 897.6,629.7 897.8,537.4 898.1,621.8 898.3,637.8 898.5,643.6 898.8,653.7 899,588.8 899.2,533.1 899.4,620.5 899.7,658.7 899.9,622.5 900.1,620.6 900.4,568.9 900.6,721.2 900.8,515.3 901,534.8 901.3,617.8 901.5,657.9 901.7,630.6 901.9,649.3 902.2,537.3 902.4,592.4 902.6,623.4 902.9,640.6 903.1,573.2 903.3,682 903.5,530.7 903.8,567.8 904,685.5 904.2,618.1 904.5,561.7 904.7,727.7 904.9,657.7 905.1,710.1 905.4,659.4 905.6,651 905.8,681.2 906,584.2 906.3,541.1 906.5,546.8 906.7,697.7 907,617.5 907.2,543.9 907.4,731.4 907.6,545.6 907.9,703.7 908.1,638.6 908.3,645.5 908.6,530.9 908.8,618.2 909,722.8 909.2,607.6 909.5,533.8 909.7,651.6 909.9,581.2 910.1,620 910.4,621 910.6,709.4 910.8,709.4 911.1,572.8 911.3,616.8 911.5,621.8 911.7,651.8 912,619.2 912.2,542.8 912.4,519.3 912.7,635.9 912.9,652.1 913.1,646 913.3,652.8 913.6,620.6 913.8,651.4 914,536.8 914.3,696.2 914.5,650 914.7,572.9 914.9,652.1 915.2,515.7 915.4,616.9 915.6,517.1 915.8,656.9 916.1,708 916.3,621 916.5,578.7 916.8,521.3 917,516.3 917.2,575.2 917.4,619.1 917.7,520 917.9,704 918.1,666 918.4,535.9 918.6,702.2 918.8,637.7 919,534.7 919.3,592 919.5,644 919.7,638.6 919.9,633 920.2,637.5 920.4,570.9 920.6,668.8 920.9,621 921.1,622 921.3,616.9 921.5,630.3 921.8,648.7 922,518.2 922.2,641.3 922.5,535.1 922.7,648.5 922.9,643.6 923.1,528.3 923.4,656.8 923.6,645.5 923.8,537.5 924,536.5 924.3,538 924.5,671.6 924.7,535 925,503.9 925.2,534.8 925.4,654.1 925.6,654.9 925.9,691.2 926.1,674.1 926.3,664.3 926.6,548.9 926.8,540.1 927,658.3 927.2,615.2 927.5,664.4 927.7,648.8 927.9,574.9 928.2,692.9 928.4,651.2 928.6,534.1 928.8,667.3 929.1,572.2 929.3,613.3 929.5,641.2 929.7,645.6 930,624.7 930.2,541.8 930.4,617.1 930.7,615.8 930.9,546.5 931.1,650.3 931.3,529.5 931.6,628.8 931.8,674.9 932,645.6 932.3,541.5 932.5,577.9 932.7,580.4 932.9,518.6 933.2,620.6 933.4,520.3 933.6,619.1 933.8,653.9 934.1,632.4 934.3,534.9 934.5,574.1 934.8,519.2 935,533 935.2,630.2 935.4,665.4 935.7,606.8 935.9,616.6 936.1,653 936.4,653.4 936.6,561.3 936.8,546.4 937,549 937.3,644.7 937.5,660.3 937.7,588.5 937.9,549.8 938.2,618.2 938.4,552.9 938.6,626.8 938.9,707.3 939.1,652.3 939.3,516.5 939.5,677.5 939.8,557.4 940,652.3 940.2,516.5 940.5,620.7 940.7,518.4 940.9,571.5 941.1,562.9 941.4,516.8 941.6,734.9 941.8,656.1 942,615.6 942.3,724.4 942.5,665.2 942.7,551.8 943,615.5 943.2,575.9 943.4,651.6 943.6,651 943.9,494.4 944.1,575 944.3,622.4 944.6,691.8 944.8,617.9 945,558.7 945.2,645 945.5,663.9 945.7,621.3 945.9,616 946.2,658 946.4,626.4 946.6,581.7 946.8,547.4 947.1,616.9 947.3,566.8 947.5,538.5 947.7,613.1 948,528.8 948.2,569.4 948.4,614.8 948.7,546.5 948.9,616.7 949.1,653.5 949.3,706.9 949.6,655.9 949.8,516.7 950,538.2 950.3,519.7 950.5,671.2 950.7,529 950.9,651.9 951.2,518.4 951.4,618.9 951.6,608.2 951.8,588.1 952.1,655.3 952.3,625.2 952.5,534.8 952.8,488.3 953,538.5 953.2,595.6 953.4,662 953.7,644.3 953.9,546.8 954.1,705.6 954.4,565.9 954.6,618.7 954.8,563.1 955,646.7 955.3,616.8 955.5,627.9 955.7,650.5 955.9,518.3 956.2,691.4 956.4,532.4 956.6,575.2 956.9,627.1 957.1,631.1 957.3,592 957.5,530.9 957.8,686.8 958,595.2 958.2,589.9 958.5,688.2 958.7,533.1 958.9,543 959.1,564.9 959.4,576.7 959.6,587.3 959.8,574.9 960.1,548.5 960.3,518.6 960.5,519.8 960.7,535.5 961,517.8 961.2,648.7 961.4,563.5 961.6,543.4 961.9,621.2 962.1,568.7 962.3,618.3 962.6,624.8 962.8,539.8 963,568.7 963.2,654.4 963.5,694.5 963.7,653.3 963.9,582.1 964.2,627.7 964.4,557.6 964.6,531.5 964.8,528.9 965.1,529.8 965.3,517.1 965.5,572 965.7,517.2 966,544.7 966.2,585 966.4,518.9 966.7,620 966.9,545.2 967.1,704.9 967.3,541 967.6,649.4 967.8,518 968,577.3 968.3,613 968.5,649.3 968.7,644.7 968.9,650.4 969.2,529.2 969.4,531 969.6,565.5 969.8,572.3 970.1,569.5 970.3,662 970.5,581.2 970.8,655.7 971,490.1 971.2,619.9 971.4,630.5 971.7,613.3 971.9,654.1 972.1,573.6 972.4,560.3 972.6,541.6 972.8,619.4 973,668.1 973.3,665 973.5,614.6 973.7,661 974,535.8 974.2,662.1 974.4,538.4 974.6,536 974.9,700.4 975.1,533.5 975.3,626.1 975.5,631.3 975.8,608.1 976,644 976.2,724.1 976.5,623 976.7,725.9 976.9,725.4 977.1,516.8 977.4,624.7 977.6,616.2 977.8,660.1 978.1,645.4 978.3,618 978.5,616 978.7,545.6 979,615.7 979.2,538.5 979.4,530.7 979.6,619.6 979.9,515.6 980.1,621.2 980.3,574.1 980.6,518.4 980.8,657.4 981,579.6 981.2,619.7 981.5,640.9 981.7,534.3 981.9,518 982.2,637.1 982.4,532.4 982.6,541.3 982.8,618.1 983.1,645.7 983.3,662.7 983.5,649.6 983.7,634.4 984,539.4 984.2,517.3 984.4,634.7 984.7,614.4 984.9,720 985.1,570.4 985.3,580.8 985.6,621.3 985.8,665.8 986,518 986.3,568.8 986.5,646.5 986.7,644.7 986.9,622.8 987.2,619.4 987.4,519.7 987.6,726.8 987.8,615.6 988.1,555.6 988.3,621.3 988.5,620.8 988.8,615.6 989,642.4 989.2,625.4 989.4,516.8 989.7,649.2 989.9,685.4 990.1,538.2 990.4,654.3 990.6,643.7 990.8,652.3 991,622.7 991.3,541.7 991.5,654 991.7,618.3 992,620.1 992.2,563.3 992.4,535.5 992.6,651.9 992.9,564 993.1,619.9 993.3,538.5 993.5,653.8 993.8,655.5 994,652 994.2,536.3 994.5,535.4 994.7,628.4 994.9,612.2 995.1,518.9 995.4,528.5 995.6,646 995.8,654.7 996.1,539 996.3,532.8 996.5,650 996.7,632.5 997,650.2 997.2,543 997.4,617 997.6,603.8 997.9,615.7 998.1,620.5 998.3,516.1 998.6,539.5 998.8,535.8 999,559.8 999.2,613.6 999.5,515.9 999.7,665.6 999.9,635.4 1000.2,619.5 1000.4,690.2 1000.6,697.5 1000.8,623.7 1001.1,630.8 1001.3,689 1001.5,635.5 1001.7,651 1002,519.1 1002.2,495.7 1002.4,652 1002.7,617.8 1002.9,655.1 1003.1,632.3 1003.3,653.7 1003.6,517 1003.8,654.7 1004,602.7 1004.3,537.1 1004.5,623.4 1004.7,584.2 1004.9,619.8 1005.2,667.9 1005.4,624.3 1005.6,530.6 1005.9,617.4 1006.1,630.5 1006.3,623.5 1006.5,661.2 1006.8,646.1 1007,546.7 1007.2,607.4 1007.4,626.9 1007.7,529.2 1007.9,667.9 1008.1,702.7 1008.4,617.1 1008.6,651.9 1008.8,689.8 1009,656.7 1009.3,694.2 1009.5,550.9 1009.7,544.5 1010,576.5 1010.2,656.4 1010.4,540.2 1010.6,658.1 1010.9,681.5 1011.1,642.4 1011.3,646.3 1011.5,632.9 1011.8,627.2 1012,578 1012.2,542.3 1012.5,668.5 1012.7,529.4 1012.9,618.7 1013.1,532.3 1013.4,536 1013.6,515.8 1013.8,616 1014.1,648.9 1014.3,618 1014.5,520 1014.7,534 1015,538.8 1015.2,541.5 1015.4,620.1 1015.6,654.3 1015.9,687.4 1016.1,638 1016.3,712.6 1016.6,633.4 1016.8,517.1 1017,648 1017.2,578.5 1017.5,619.6 1017.7,652.9 1017.9,536.6 1018.2,537.1 1018.4,537.3 1018.6,710.4 1018.8,666.4 1019.1,620.3 1019.3,707.3 1019.5,534.2" fill="none" stroke="#ee363b" stroke-width="3.9" stroke-linejoin="round" marker-start="url(#mr)" marker-mid="url(#mr)" marker-end="url(#mr)"/>
<use href="#lay"/>
<use href="#yl" y="0"/><use href="#xl" y="0"/>
</g>
<text font-family="Liberation Sans, sans-serif" font-weight="bold" font-size="48.5" x="1312.2" y="49.3">B</text>
<text font-family="Liberation Serif, serif" font-size="100" transform="translate(1826.9 948.7) scale(0.566 0.578)">PSO-BPNN</text>
<g transform="matrix(1.01609 0 0 1.02400 0.017 958.059)">
<polyline points="206.3,556.2 206.5,609.4 206.8,659.4 207,537.8 207.2,612.4 207.4,495.7 207.7,538.8 207.9,712.4 208.1,648.2 208.3,635.5 208.6,714.6 208.8,652.4 209,540.1 209.3,272.5 209.5,522.5 209.7,713.7 209.9,649.5 210.2,663.7 210.4,654.9 210.6,659.3 210.9,624.7 211.1,546.8 211.3,673 211.5,520.4 211.8,550.1 212,557 212.2,710.2 212.5,534.2 212.7,623.3 212.9,672.1 213.1,707 213.4,635.3 213.6,653.6 213.8,540.7 214,507.5 214.3,536.8 214.5,648.7 214.7,528.6 215,530.3 215.2,635.2 215.4,570.1 215.6,548.6 215.9,675.1 216.1,524.6 216.3,612.9 216.6,637.5 216.8,642.1 217,537 217.2,530.4 217.5,566.7 217.7,699.7 217.9,538.8 218.1,665.3 218.4,614.1 218.6,542.3 218.8,646.1 219.1,627.8 219.3,531 219.5,616.2 219.7,548.3 220,619 220.2,619 220.4,539.3 220.7,639.1 220.9,536.2 221.1,632.6 221.3,668.1 221.6,545.4 221.8,661.6 222,534.5 222.2,638.5 222.5,637.2 222.7,609.8 222.9,707.9 223.2,623.2 223.4,636.5 223.6,543 223.8,621 224.1,633.2 224.3,651.9 224.5,677.6 224.8,529.4 225,606.8 225.2,662.5 225.4,638.9 225.7,529.2 225.9,639.8 226.1,626.5 226.4,697.5 226.6,694.5 226.8,701.7 227,526.8 227.3,550.8 227.5,644.3 227.7,670.3 227.9,705.6 228.2,646.8 228.4,566.4 228.6,551.9 228.9,664.9 229.1,598.4 229.3,643.9 229.5,657.6 229.8,631.1 230,674.8 230.2,699.5 230.5,583.8 230.7,644 230.9,626.1 231.1,624.2 231.4,469.4 231.6,564.2 231.8,520.2 232,526.4 232.3,662.1 232.5,632.6 232.7,659.1 233,631.9 233.2,647.6 233.4,642.2 233.6,692.9 233.9,711.9 234.1,503.8 234.3,681.2 234.6,656.5 234.8,675.5 235,637.7 235.2,650.9 235.5,534.1 235.7,615.7 235.9,653.9 236.1,518.9 236.4,542.4 236.6,624 236.8,541.4 237.1,533.3 237.3,550 237.5,652.4 237.7,617.5 238,535.9 238.2,642.5 238.4,654.3 238.7,646.2 238.9,636.1 239.1,611.6 239.3,602.1 239.6,552 239.8,554.4 240,543.5 240.2,524.2 240.5,640.2 240.7,525.7 240.9,655.4 241.2,537.2 241.4,683.8 241.6,612.6 241.8,677.6 242.1,649.1 242.3,549.5 242.5,557.9 242.8,502 243,651.5 243.2,660.7 243.4,642.5 243.7,664.9 243.9,639.3 244.1,624.4 244.4,508.4 244.6,245.1 244.8,520.8 245,558.1 245.3,529.1 245.5,590.6 245.7,686.2 245.9,521.5 246.2,607.4 246.4,604.3 246.6,538.1 246.9,535.9 247.1,623.8 247.3,657.8 247.5,540.8 247.8,578.8 248,645.6 248.2,655.6 248.5,646.7 248.7,627.2 248.9,545.8 249.1,529.1 249.4,531 249.6,531 249.8,660.4 250,626 250.3,540.5 250.5,679.1 250.7,707.8 251,611.8 251.2,663.2 251.4,658.8 251.6,644 251.9,667.6 252.1,653.5 252.3,620.7 252.6,654.8 252.8,646.7 253,538.1 253.2,593.1 253.5,619.9 253.7,635 253.9,664 254.1,690.8 254.4,640.4 254.6,625.8 254.8,615.2 255.1,556.2 255.3,611 255.5,640.6 255.7,533.8 256,530 256.2,649.8 256.4,638.9 256.7,527.3 256.9,617.5 257.1,228.1 257.3,543.2 257.6,678.3 257.8,667.5 258,564 258.3,603.2 258.5,654 258.7,552.1 258.9,575.4 259.2,532.4 259.4,606.9 259.6,630.2 259.8,538.1 260.1,660 260.3,623.6 260.5,602.8 260.8,714.7 261,648.8 261.2,538.1 261.4,532.1 261.7,664 261.9,539.6 262.1,586.2 262.4,659.4 262.6,705.8 262.8,631.4 263,530.5 263.3,563.2 263.5,652 263.7,714 263.9,558.4 264.2,530.8 264.4,616.7 264.6,701.2 264.9,642.8 265.1,612.7 265.3,617.8 265.5,527.8 265.8,647.3 266,533.9 266.2,618.7 266.5,645.4 266.7,639.8 266.9,535.5 267.1,544.2 267.4,550.6 267.6,546.9 267.8,645.2 268,618.3 268.3,654.5 268.5,681.4 268.7,701.1 269,686.2 269.2,646.8 269.4,707.7 269.6,638.9 269.9,667.2 270.1,664.8 270.3,531.3 270.6,534.9 270.8,627.3 271,660.5 271.2,618.9 271.5,669.5 271.7,561.8 271.9,536.3 272.1,566.9 272.4,634.9 272.6,653.2 272.8,548.8 273.1,640.7 273.3,618.7 273.5,643.5 273.7,631.3 274,665.3 274.2,623.2 274.4,520 274.7,668.5 274.9,631.6 275.1,642.9 275.3,692.1 275.6,681 275.8,602.4 276,687 276.3,656.4 276.5,523.7 276.7,645.6 276.9,632.6 277.2,641.8 277.4,706.7 277.6,608.9 277.8,635.4 278.1,618.3 278.3,662.7 278.5,613 278.8,652.4 279,667.4 279.2,629.4 279.4,651.3 279.7,677.6 279.9,541.5 280.1,539.3 280.4,625.7 280.6,535 280.8,646.9 281,530.8 281.3,547.6 281.5,538.8 281.7,628.6 281.9,626 282.2,544.7 282.4,542.4 282.6,563.7 282.9,546.7 283.1,550.5 283.3,541.5 283.5,664.2 283.8,660.7 284,542.2 284.2,669.7 284.5,664.5 284.7,677 284.9,524.1 285.1,636.2 285.4,642.9 285.6,542.6 285.8,626.2 286,704.9 286.3,625.4 286.5,626.1 286.7,509.2 287,607.5 287.2,643.1 287.4,666.6 287.6,641.5 287.9,588.7 288.1,603.1 288.3,552.1 288.6,554.1 288.8,525.1 289,520.8 289.2,623.2 289.5,594 289.7,689.4 289.9,624.8 290.2,586.2 290.4,536.4 290.6,662.1 290.8,539.5 291.1,543.8 291.3,638.2 291.5,715.6 291.7,684.4 292,702.5 292.2,682.5 292.4,526 292.7,554.7 292.9,632.7 293.1,591.1 293.3,638.5 293.6,714.3 293.8,661.5 294,677.3 294.3,684.9 294.5,630.8 294.7,643.4 294.9,629.8 295.2,643.7 295.4,535.7 295.6,543.3 295.8,661.8 296.1,492.9 296.3,692.6 296.5,538.2 296.8,704.1 297,505.5 297.2,664.2 297.4,662.8 297.7,532.4 297.9,685.5 298.1,607.1 298.4,634.4 298.6,712.7 298.8,536.3 299,625.9 299.3,614.3 299.5,618.9 299.7,670.4 299.9,630.9 300.2,689 300.4,615.1 300.6,534.5 300.9,679.6 301.1,550.9 301.3,548.7 301.5,676.9 301.8,538.5 302,642.7 302.2,544.1 302.5,602.5 302.7,634.2 302.9,553.8 303.1,664.8 303.4,673 303.6,633.8 303.8,679.8 304.1,625 304.3,666.1 304.5,535.9 304.7,670.1 305,667.5 305.2,637.7 305.4,542.4 305.6,578 305.9,701.8 306.1,650.1 306.3,615.7 306.6,666.8 306.8,551.6 307,647.3 307.2,633.8 307.5,566.1 307.7,650.7 307.9,656.6 308.2,537.7 308.4,645.1 308.6,570.9 308.8,620.4 309.1,668.2 309.3,673.5 309.5,633.6 309.7,663.7 310,699.3 310.2,520.1 310.4,612.1 310.7,666.1 310.9,559.4 311.1,653 311.3,670.1 311.6,558 311.8,642.9 312,638.8 312.3,655.2 312.5,517.1 312.7,539.2 312.9,526.9 313.2,524 313.4,542.3 313.6,628.1 313.8,538.7 314.1,616.1 314.3,648.8 314.5,632.6 314.8,674.4 315,546.9 315.2,561.1 315.4,703.8 315.7,636.9 315.9,628.3 316.1,632 316.4,642.4 316.6,614.7 316.8,707.2 317,638.7 317.3,652.4 317.5,646 317.7,628.6 317.9,604.9 318.2,657.5 318.4,605.5 318.6,530.8 318.9,633.9 319.1,647 319.3,542.7 319.5,508.1 319.8,638.8 320,639.1 320.2,651.6 320.5,639.4 320.7,715.5 320.9,537.1 321.1,556.5 321.4,622.4 321.6,608.8 321.8,528.6 322.1,538.2 322.3,529.8 322.5,549.4 322.7,535.2 323,568.2 323.2,666.6 323.4,620.8 323.6,517.5 323.9,636.9 324.1,648.2 324.3,550.8 324.6,631.2 324.8,540.4 325,671.6 325.2,642.3 325.5,524.2 325.7,544.6 325.9,536.8 326.2,658.6 326.4,694.8 326.6,553 326.8,654.5 327.1,700.9 327.3,621.6 327.5,608.4 327.7,667.4 328,631.9 328.2,652.8 328.4,535.3 328.7,655 328.9,700.8 329.1,551.9 329.3,536.6 329.6,527.9 329.8,628.6 330,527.7 330.3,538.6 330.5,658.1 330.7,542.3 330.9,542.1 331.2,549.2 331.4,534.8 331.6,651.4 331.8,699 332.1,536.4 332.3,612.6 332.5,518.1 332.8,626.7 333,531.7 333.2,544.2 333.4,560 333.7,519.5 333.9,715.7 334.1,641.6 334.4,524.8 334.6,629.4 334.8,567.8 335,645.4 335.3,634.8 335.5,650.1 335.7,707.2 335.9,537.6 336.2,653.5 336.4,534.6 336.6,508.1 336.9,632.8 337.1,640.9 337.3,525.2 337.5,642.8 337.8,637.5 338,539.3 338.2,648.6 338.5,603.8 338.7,645.5 338.9,544.5 339.1,691 339.4,544.8 339.6,587.5 339.8,550.5 340.1,641 340.3,636 340.5,659.2 340.7,653.1 341,704.9 341.2,715.8 341.4,631.2 341.6,547.2 341.9,580.5 342.1,665.2 342.3,548.1 342.6,643.9 342.8,640.5 343,629.2 343.2,639.4 343.5,540.1 343.7,619.5 343.9,680.2 344.2,631.6 344.4,537.6 344.6,622.9 344.8,645.2 345.1,688 345.3,566.6 345.5,676.4 345.7,603.2 346,646.8 346.2,534.9 346.4,667.2 346.7,519.8 346.9,654.8 347.1,526.6 347.3,613.3 347.6,543.7 347.8,550 348,527.3 348.3,539.8 348.5,673.6 348.7,613 348.9,528.8 349.2,635.3 349.4,526.3 349.6,708 349.8,627.6 350.1,698 350.3,550.2 350.5,614.7 350.8,544.3 351,710.3 351.2,663.2 351.4,531.9 351.7,687.8 351.9,589.7 352.1,530.2 352.4,676.9 352.6,559.7 352.8,618.1 353,707.6 353.3,542.1 353.5,634.2 353.7,641.9 354,610 354.2,527.7 354.4,662.2 354.6,667.4 354.9,575.3 355.1,542.6 355.3,503 355.5,622.7 355.8,458.6 356,545.9 356.2,642.1 356.5,528.3 356.7,663.8 356.9,698.8 357.1,555.3 357.4,649.1 357.6,651.5 357.8,628 358.1,615.1 358.3,700.7 358.5,534.6 358.7,642.4 359,642.5 359.2,704.1 359.4,541 359.6,635.9 359.9,535.3 360.1,638.2 360.3,557.1 360.6,713.9 360.8,647.7 361,534.5 361.2,526.9 361.5,543.8 361.7,650.4 361.9,522 362.2,541.8 362.4,535.9 362.6,665.1 362.8,547.6 363.1,649.5 363.3,637.5 363.5,656.2 363.7,546.1 364,546.3 364.2,621.7 364.4,547.3 364.7,652.4 364.9,610.3 365.1,646.9 365.3,551.6 365.6,645.6 365.8,643.1 366,644.9 366.3,567.2 366.5,553.2 366.7,618.8 366.9,527.2 367.2,648.9 367.4,650.5 367.6,536.6 367.9,602.5 368.1,631.4 368.3,640.5 368.5,640.7 368.8,547.9 369,554.9 369.2,655.6 369.4,640.5 369.7,507.7 369.9,623.6 370.1,604.6 370.4,674.1 370.6,651.8 370.8,540.5 371,525.8 371.3,643.7 371.5,550.3 371.7,671 372,546.2 372.2,619.7 372.4,644.5 372.6,667.3 372.9,649.2 373.1,654.1 373.3,483.1 373.5,501.5 373.8,669.5 374,646.5 374.2,629.9 374.5,629.7 374.7,658.2 374.9,542.1 375.1,526.6 375.4,640 375.6,601.5 375.8,533.8 376.1,531.1 376.3,678.6 376.5,682.1 376.7,628.7 377,628.8 377.2,683.3 377.4,651.4 377.6,531.3 377.9,642.5 378.1,661 378.3,703.1 378.6,532.9 378.8,557.1 379,536.2 379.2,670.3 379.5,552 379.7,620.9 379.9,554.6 380.2,649 380.4,539.7 380.6,635.1 380.8,670 381.1,650.1 381.3,543.7 381.5,661.3 381.7,598 382,665.5 382.2,637.1 382.4,656.4 382.7,528 382.9,612.4 383.1,527.1 383.3,637.9 383.6,712.4 383.8,543.5 384,517.3 384.3,529.7 384.5,526.2 384.7,661.5 384.9,671.7 385.2,632.1 385.4,707.2 385.6,541 385.9,660.3 386.1,670.8 386.3,702.2 386.5,543.6 386.8,627.7 387,523.3 387.2,703.4 387.4,501.6 387.7,562.1 387.9,654.8 388.1,633.7 388.4,584.3 388.6,643.5 388.8,539 389,538.4 389.3,626 389.5,540.4 389.7,678.4 390,570.7 390.2,617 390.4,585.7 390.6,525.1 390.9,616.4 391.1,640.9 391.3,675.4 391.5,520.4 391.8,548.7 392,527.5 392.2,641 392.5,533.1 392.7,636.8 392.9,640.2 393.1,675.6 393.4,710.2 393.6,678.1 393.8,648.7 394.1,631.8 394.3,710.4 394.5,636.1 394.7,563.6 395,505.2 395.2,520.6 395.4,672.6 395.6,632.4 395.9,523.3 396.1,504.6 396.3,547.4 396.6,536.6 396.8,647.3 397,660.1 397.2,669.9 397.5,610.8 397.7,529.1 397.9,658.2 398.2,639 398.4,662.2 398.6,702.4 398.8,640.5 399.1,640.7 399.3,651.8 399.5,676.6 399.8,643.3 400,630.8 400.2,539.5 400.4,672.8 400.7,652.3 400.9,632.7 401.1,543.9 401.3,642.6 401.6,667.6 401.8,537.8 402,547.4 402.3,537.3 402.5,672.3 402.7,541.4 402.9,601.4 403.2,656.3 403.4,540.9 403.6,634.4 403.9,653.2 404.1,552 404.3,520.8 404.5,686 404.8,526.4 405,538.1 405.2,613.9 405.4,540.7 405.7,646.5 405.9,607.8 406.1,624 406.4,623.6 406.6,645.8 406.8,655.3 407,625.8 407.3,632.9 407.5,633.7 407.7,677.8 408,672.8 408.2,491.8 408.4,627.3 408.6,702.7 408.9,530.7 409.1,639.9 409.3,554.2 409.5,536.5 409.8,660.9 410,644.1 410.2,673.5 410.5,608.8 410.7,670.6 410.9,628.6 411.1,495.1 411.4,659.2 411.6,630.5 411.8,672.5 412.1,647.7 412.3,638.2 412.5,627.6 412.7,633.5 413,636.4 413.2,640.1 413.4,623.8 413.6,647.5 413.9,537.7 414.1,653.6 414.3,616.8 414.6,701.2 414.8,660.4 415,608 415.2,698.3 415.5,704.8 415.7,635.9 415.9,631.1 416.2,696.3 416.4,627.5 416.6,550.2 416.8,525.5 417.1,537.1 417.3,603.1 417.5,607.5 417.8,521.9 418,706.3 418.2,536.7 418.4,617.4 418.7,649.3 418.9,547.5 419.1,606.1 419.3,530.9 419.6,668.8 419.8,655.9 420,655.3 420.3,626 420.5,684.9 420.7,684.7 420.9,542.9 421.2,634.5 421.4,664.5 421.6,638.3 421.9,278.1 422.1,638.5 422.3,679.9 422.5,553.2 422.8,570.7 423,547.1 423.2,546.4 423.4,701.1 423.7,482 423.9,641.4 424.1,630.6 424.4,675.4 424.6,660.7 424.8,618.6 425,543.1 425.3,553.4 425.5,648.3 425.7,534.2 426,703.2 426.2,708.4 426.4,650.9 426.6,530.9 426.9,537.5 427.1,603.6 427.3,536.6 427.5,653.6 427.8,563 428,649.5 428.2,558.5 428.5,680.8 428.7,590.8 428.9,642.9 429.1,595.5 429.4,582.5 429.6,533.7 429.8,536.8 430.1,663.4 430.3,693 430.5,547.4 430.7,539.6 431,649.6 431.2,535 431.4,608.5 431.6,558.6 431.9,635.8 432.1,553.3 432.3,613.4 432.6,617.5 432.8,639.2 433,617.3 433.2,635.9 433.5,415.3 433.7,637.2 433.9,672.2 434.2,646.7 434.4,614.2 434.6,647.4 434.8,702.4 435.1,604.6 435.3,551.1 435.5,546.6 435.8,545.9 436,643.6 436.2,553.8 436.4,550.6 436.7,528.4 436.9,609.7 437.1,534.1 437.3,619.5 437.6,534.5 437.8,506 438,628.1 438.3,647 438.5,683.3 438.7,548.3 438.9,568.3 439.2,549 439.4,635.7 439.6,648.6 439.9,620 440.1,555.3 440.3,545.1 440.5,533.8 440.8,659.9 441,530.4 441.2,710.2 441.4,522.4 441.7,627.9 441.9,648.6 442.1,549.8 442.4,534.9 442.6,698.3 442.8,655.1 443,530 443.3,553.9 443.5,540.4 443.7,528.1 444,622.1 444.2,518.2 444.4,537.8 444.6,534.3 444.9,636.1 445.1,650.5 445.3,644 445.5,656.5 445.8,540.1 446,522.9 446.2,679.5 446.5,643.9 446.7,487.5 446.9,641.8 447.1,548.4 447.4,540.7 447.6,518.2 447.8,520.7 448.1,520.2 448.3,561.7 448.5,616.8 448.7,502.5 449,526.5 449.2,651.5 449.4,609.3 449.7,701.9 449.9,628.3 450.1,542.8 450.3,539.1 450.6,538.2 450.8,638.3 451,654 451.2,669.9 451.5,554 451.7,620.4 451.9,710.4 452.2,552.1 452.4,532.8 452.6,564.8 452.8,534.6 453.1,655.3 453.3,634.8 453.5,523.2 453.8,541.7 454,715.7 454.2,535.7 454.4,543.6 454.7,651.2 454.9,665.3 455.1,639.2 455.3,662.2 455.6,648.1 455.8,608.1 456,525.9 456.3,627.4 456.5,643.6 456.7,676.7 456.9,648.7 457.2,647.4 457.4,633.3 457.6,530.5 457.9,531.3 458.1,568.4 458.3,572.3 458.5,699 458.8,539.2 459,610.2 459.2,635.2 459.4,602.2 459.7,674.6 459.9,526.5 460.1,625.7 460.4,541.6 460.6,606.1 460.8,555.3 461,637.6 461.3,710.4 461.5,557.8 461.7,651.3 462,538.7 462.2,619.7 462.4,638.3 462.6,637.4 462.9,671.3 463.1,653.6 463.3,649.1 463.6,674.7 463.8,665 464,532.1 464.2,667.9 464.5,545.9 464.7,530 464.9,630.2 465.1,690.1 465.4,618.1 465.6,659.1 465.8,539 466.1,646.9 466.3,543 466.5,632.5 466.7,603.8 467,543.8 467.2,562.1 467.4,468.3 467.7,557.6 467.9,581.5 468.1,708.1 468.3,606.7 468.6,635.9 468.8,639 469,625.5 469.2,630.9 469.5,627.7 469.7,680.8 469.9,618.4 470.2,533.2 470.4,556.4 470.6,544.6 470.8,494 471.1,637.7 471.3,655.7 471.5,546.5 471.8,615.3 472,674.7 472.2,534.6 472.4,547 472.7,616.9 472.9,539.5 473.1,645.5 473.3,663.5 473.6,689.8 473.8,524.8 474,671.8 474.3,675.2 474.5,526.1 474.7,535.8 474.9,662.5 475.2,619.6 475.4,668.8 475.6,518.9 475.9,523.8 476.1,659.4 476.3,670.2 476.5,664.6 476.8,541.5 477,529.8 477.2,628.3 477.4,651.1 477.7,536.9 477.9,515.8 478.1,601 478.4,668.3 478.6,638.9 478.8,645.8 479,551 479.3,628.3 479.5,614.9 479.7,619.1 480,646.8 480.2,657.6 480.4,539.8 480.6,565.7 480.9,644.9 481.1,623.6 481.3,658.5 481.6,653.5 481.8,544 482,655.8 482.2,648.3 482.5,608.3 482.7,629.6 482.9,704.2 483.1,639.8 483.4,551.4 483.6,535.3 483.8,488.6 484.1,614.6 484.3,535.5 484.5,655.7 484.7,532.4 485,657.8 485.2,662.9 485.4,618.8 485.7,617.9 485.9,528.6 486.1,633.8 486.3,652.6 486.6,632.1 486.8,668 487,639.2 487.2,543.6 487.5,537.7 487.7,668.4 487.9,622 488.2,471.2 488.4,516.2 488.6,649.8 488.8,656.7 489.1,635 489.3,621 489.5,665.1 489.8,555.5 490,665.5 490.2,657.5 490.4,598.3 490.7,530.2 490.9,582.3 491.1,645.7 491.3,605.3 491.6,530.9 491.8,605.4 492,669.5 492.3,612.9 492.5,519.3 492.7,615.1 492.9,578.5 493.2,568.7 493.4,547.9 493.6,626.8 493.9,529.5 494.1,643.5 494.3,222.7 494.5,653.3 494.8,655.6 495,632.8 495.2,519.9 495.4,662.3 495.7,539.6 495.9,631.9 496.1,530.2 496.4,688.9 496.6,678.9 496.8,624.9 497,662.4 497.3,549.9 497.5,654.2 497.7,634.8 498,678.9 498.2,702.4 498.4,647.9 498.6,533 498.9,553.3 499.1,541.8 499.3,645.5 499.6,650.9 499.8,697.1 500,505 500.2,630.7 500.5,644 500.7,700.8 500.9,604.8 501.1,644.9 501.4,672.6 501.6,656.1 501.8,539.7 502.1,528.5 502.3,539.5 502.5,636.3 502.7,539.5 503,611.8 503.2,678.6 503.4,537.3 503.7,507 503.9,670.8 504.1,648.7 504.3,532.7 504.6,623.8 504.8,661.4 505,571.4 505.2,673.2 505.5,674.1 505.7,524.9 505.9,543.2 506.2,540.5 506.4,628.3 506.6,622.1 506.8,632.9 507.1,530.1 507.3,540.4 507.5,538.4 507.8,654.8 508,539.6 508.2,522.2 508.4,522.6 508.7,522.7 508.9,641.9 509.1,620.8 509.3,526.2 509.6,542.1 509.8,677.1 510,516.6 510.3,669.7 510.5,529.1 510.7,538.5 510.9,554.1 511.2,527.1 511.4,529.3 511.6,525.8 511.9,522.3 512.1,538.4 512.3,528.8 512.5,553.5 512.8,646 513,668.1 513.2,532.7 513.5,557.2 513.7,660.3 513.9,667.2 514.1,541.2 514.4,642.4 514.6,522.2 514.8,620.7 515,528.8 515.3,542.3 515.5,530 515.7,619.1 516,624.8 516.2,547.8 516.4,655.9 516.6,506 516.9,510.8 517.1,550.3 517.3,613.5 517.6,530.8 517.8,647.3 518,668.5 518.2,689.7 518.5,629.3 518.7,522.7 518.9,698.4 519.1,625.6 519.4,627.4 519.6,550.1 519.8,537.7 520.1,659.5 520.3,543.6 520.5,541.1 520.7,568.8 521,639.8 521.2,592.1 521.4,544.9 521.7,560.6 521.9,558 522.1,502.2 522.3,609.6 522.6,532.8 522.8,538.2 523,615.3 523.2,617.5 523.5,547.9 523.7,623.5 523.9,617.5 524.2,703.9 524.4,524.2 524.6,536 524.8,652.3 525.1,532.5 525.3,540.8 525.5,553.3 525.8,639.7 526,533.1 526.2,642.8 526.4,535.1 526.7,635.4 526.9,683.5 527.1,671.4 527.4,552 527.6,534.4 527.8,550.5 528,546.9 528.3,568.9 528.5,546.9 528.7,682.9 528.9,668.1 529.2,713.3 529.4,625.1 529.6,637.9 529.9,536.2 530.1,715.5 530.3,647.8 530.5,613.2 530.8,530 531,660.3 531.2,631.4 531.5,656.5 531.7,631.5 531.9,551.7 532.1,572.6 532.4,672.4 532.6,529 532.8,639.5 533,619.7 533.3,542.7 533.5,673.3 533.7,630.2 534,608.3 534.2,688.5 534.4,679.2 534.6,648.4 534.9,626.7 535.1,631.8 535.3,528.2 535.6,604 535.8,545.7 536,631.2 536.2,548.1 536.5,521.6 536.7,518.9 536.9,538.5 537.1,524 537.4,607.9 537.6,549.2 537.8,526.4 538.1,472.9 538.3,620.4 538.5,672.4 538.7,595.3 539,606.6 539.2,543.4 539.4,532 539.7,646 539.9,622.1 540.1,550.1 540.3,538.2 540.6,536.6 540.8,671 541,705.3 541.2,632.5 541.5,619.8 541.7,663.1 541.9,649.9 542.2,519.4 542.4,561.5 542.6,555.2 542.8,625.1 543.1,624.8 543.3,558.1 543.5,637.4 543.8,714.2 544,648.5 544.2,641.8 544.4,532.4 544.7,548.4 544.9,619.3 545.1,523.1 545.4,631.1 545.6,521.3 545.8,544.4 546,549.1 546.3,547.6 546.5,535.4 546.7,546.5 546.9,552.6 547.2,639.6 547.4,657.5 547.6,548.5 547.9,649.6 548.1,709 548.3,641.3 548.5,528.5 548.8,528.7 549,632.5 549.2,535.2 549.5,634.2 549.7,659.8 549.9,554.4 550.1,547.9 550.4,544 550.6,538.4 550.8,517.7 551,625.2 551.3,628.2 551.5,541.9 551.7,635.1 552,710.4 552.2,524.3 552.4,614.8 552.6,661.5 552.9,619.4 553.1,553.8 553.3,615.7 553.6,669.9 553.8,675.3 554,529.3 554.2,551.5 554.5,705.4 554.7,623.5 554.9,650.4 555.1,618.3 555.4,602.9 555.6,647.5 555.8,614.4 556.1,689.2 556.3,540.7 556.5,536.8 556.7,639.7 557,529.3 557.2,679.3 557.4,633.6 557.7,714.1 557.9,526.5 558.1,648.8 558.3,653.4 558.6,647.3 558.8,538.2 559,657.2 559.2,534.1 559.5,646.4 559.7,524.8 559.9,639.7 560.2,569.1 560.4,662.6 560.6,664.6 560.8,657.4 561.1,638.7 561.3,557.6 561.5,550.5 561.8,518.4 562,634.9 562.2,709.5 562.4,482.3 562.7,625.7 562.9,655.8 563.1,541.2 563.4,581.4 563.6,555.9 563.8,641.8 564,537.2 564.3,538.8 564.5,663.5 564.7,638.2 564.9,531.8 565.2,529.5 565.4,531.4 565.6,546.5 565.9,554.2 566.1,637.6 566.3,523.8 566.5,531.3 566.8,626.1 567,669.1 567.2,540.3 567.5,633.2 567.7,623.9 567.9,631.9 568.1,530.3 568.4,626 568.6,645.5 568.8,656.7 569,635.8 569.3,554.1 569.5,537.1 569.7,605.5 570,606.8 570.2,623.3 570.4,646.1 570.6,440 570.9,639.9 571.1,642.4 571.3,680.8 571.6,531.4 571.8,624.9 572,542.8 572.2,641.2 572.5,627.3 572.7,651.5 572.9,677.5 573.1,532.8 573.4,638.5 573.6,645.2 573.8,547.6 574.1,631.7 574.3,654.6 574.5,673.1 574.7,531.4 575,516.7 575.2,583.4 575.4,682 575.7,536.9 575.9,657.5 576.1,521.6 576.3,610.4 576.6,545 576.8,549.4 577,533.6 577.3,672.9 577.5,532.4 577.7,649.1 577.9,636.7 578.2,628.6 578.4,699.8 578.6,642.9 578.8,630.4 579.1,626.6 579.3,535.5 579.5,646 579.8,607.3 580,675.6 580.2,553.2 580.4,542.3 580.7,475.7 580.9,684.3 581.1,677.8 581.4,604.2 581.6,535.4 581.8,461 582,570.6 582.3,562.2 582.5,636.2 582.7,664.1 582.9,653.7 583.2,517.8 583.4,541.1 583.6,664.4 583.9,592.9 584.1,648.3 584.3,630.9 584.5,536.7 584.8,640 585,626.3 585.2,655.5 585.5,536.9 585.7,617.6 585.9,527.7 586.1,678.1 586.4,661.7 586.6,537.2 586.8,555.7 587,647.6 587.3,551.7 587.5,536 587.7,705.9 588,552.1 588.2,632.5 588.4,676.3 588.6,563.3 588.9,552.1 589.1,219.6 589.3,635.6 589.6,563.1 589.8,540.1 590,540.3 590.2,654 590.5,602.3 590.7,546.7 590.9,528.6 591.1,531.2 591.4,640.9 591.6,545.9 591.8,530.3 592.1,681.8 592.3,642 592.5,661.1 592.7,562.7 593,546.7 593.2,637.5 593.4,546.5 593.7,545.9 593.9,636.4 594.1,676.7 594.3,546.3 594.6,522.4 594.8,646.5 595,655.3 595.3,646.7 595.5,536.5 595.7,679.2 595.9,615.7 596.2,515.8 596.4,654.2 596.6,625.9 596.8,679.3 597.1,588.7 597.3,681.1 597.5,655.5 597.8,552.5 598,703.8 598.2,623.2 598.4,546.3 598.7,669.4 598.9,643.5 599.1,472.3 599.4,704.6 599.6,550.3 599.8,526.6 600,711.7 600.3,530.1 600.5,533.3 600.7,666.4 600.9,704.3 601.2,565.2 601.4,537.6 601.6,538.8 601.9,626.2 602.1,648.2 602.3,622.5 602.5,703.5 602.8,549.9 603,612.7 603.2,540.7 603.5,545.4 603.7,534 603.9,548.4 604.1,542.5 604.4,662 604.6,557.6 604.8,556.3 605,656.1 605.3,652.3 605.5,650.1 605.7,539 606,697.4 606.2,519.6 606.4,678.6 606.6,551.6 606.9,653.7 607.1,642.1 607.3,680.1 607.6,536.9 607.8,653.8 608,667.7 608.2,678.2 608.5,536.1 608.7,643.8 608.9,538.1 609.2,562.9 609.4,627.8 609.6,612.2 609.8,602.5 610.1,667.7 610.3,546.6 610.5,534.2 610.7,643.3 611,522.8 611.2,556.4 611.4,654.1 611.7,522.3 611.9,637 612.1,626.2 612.3,657.6 612.6,675.9 612.8,604.8 613,662.8 613.3,555.3 613.5,649.3 613.7,531.6 613.9,666.7 614.2,558 614.4,526.5 614.6,641.9 614.8,639.8 615.1,528.4 615.3,661 615.5,335.8 615.8,536 616,541.3 616.2,636.5 616.4,544 616.7,547.8 616.9,629.5 617.1,639.5 617.4,548.8 617.6,584.7 617.8,650.1 618,390.6 618.3,707.4 618.5,541.7 618.7,531.6 618.9,558.2 619.2,648.9 619.4,390.6 619.6,691 619.9,640.3 620.1,638.7 620.3,541.9 620.5,647.6 620.8,505.4 621,541.8 621.2,640.3 621.5,628.4 621.7,533.6 621.9,610.9 622.1,527.6 622.4,643.1 622.6,542.5 622.8,526.9 623,493.5 623.3,540.2 623.5,662.8 623.7,580.4 624,656.3 624.2,501.5 624.4,571 624.6,670.4 624.9,546.6 625.1,639.2 625.3,548 625.6,657.6 625.8,632.6 626,632 626.2,631.3 626.5,659 626.7,676.9 626.9,652.8 627.2,683.7 627.4,506.2 627.6,668.9 627.8,503.7 628.1,626.8 628.3,616.3 628.5,626.3 628.7,589.6 629,537.6 629.2,686.4 629.4,641 629.7,545.6 629.9,615.2 630.1,636.5 630.3,667.8 630.6,647.2 630.8,527.9 631,624.3 631.3,660.3 631.5,631.7 631.7,549.4 631.9,658.7 632.2,539.2 632.4,650.1 632.6,532.2 632.8,612.1 633.1,638.4 633.3,636.4 633.5,529.3 633.8,621.5 634,554.4 634.2,541.2 634.4,683.8 634.7,630 634.9,645.7 635.1,639.7 635.4,608.3 635.6,523 635.8,552.7 636,662.5 636.3,664.4 636.5,579.2 636.7,654 636.9,526.3 637.2,534.3 637.4,630.8 637.6,606.4 637.9,649.7 638.1,664.2 638.3,622.6 638.5,539 638.8,665.6 639,657.4 639.2,547.4 639.5,533.6 639.7,710.5 639.9,586.1 640.1,677.4 640.4,511.2 640.6,673.3 640.8,685 641.1,548.8 641.3,614.2 641.5,590.8 641.7,700.5 642,663.3 642.2,628.4 642.4,538.3 642.6,652.1 642.9,630.8 643.1,648.9 643.3,663.3 643.6,636.9 643.8,640.9 644,678.1 644.2,548.7 644.5,546.3 644.7,708.7 644.9,550 645.2,589.5 645.4,590.2 645.6,528.6 645.8,620.3 646.1,516.1 646.3,539.1 646.5,619.5 646.7,550.7 647,675.4 647.2,630.5 647.4,534.2 647.7,645.4 647.9,619.2 648.1,525.4 648.3,625.3 648.6,653 648.8,525.2 649,649.5 649.3,648.6 649.5,617.5 649.7,617.4 649.9,536.8 650.2,535.1 650.4,666.7 650.6,628.7 650.8,693.4 651.1,619.3 651.3,666.4 651.5,508.7 651.8,670.3 652,554.8 652.2,665.3 652.4,606.5 652.7,620.7 652.9,554.6 653.1,647.9 653.4,698.8 653.6,637.9 653.8,649.1 654,554.7 654.3,642.4 654.5,646.3 654.7,545.6 655,658.6 655.2,699.2 655.4,683.4 655.6,534.7 655.9,537.4 656.1,644.4 656.3,533.6 656.5,646.7 656.8,532.1 657,635.4 657.2,686.8 657.5,681.3 657.7,655.8 657.9,656.2 658.1,690.3 658.4,529.2 658.6,537.4 658.8,555.3 659.1,675 659.3,546.6 659.5,641.9 659.7,658.1 660,564.7 660.2,683.1 660.4,626.9 660.6,706.7 660.9,528.1 661.1,636.4 661.3,543 661.6,523.5 661.8,665.9 662,521.5 662.2,656.9 662.5,649.5 662.7,641.1 662.9,667.2 663.2,548.5 663.4,631.3 663.6,693.5 663.8,683.9 664.1,645 664.3,646.8 664.5,660.6 664.7,602 665,530.4 665.2,629.4 665.4,551.2 665.7,677.4 665.9,683.6 666.1,641.7 666.3,553.8 666.6,643.9 666.8,650.3 667,526.2 667.3,646.1 667.5,640.3 667.7,626.2 667.9,480.6 668.2,646.2 668.4,621.8 668.6,516 668.8,547.4 669.1,608.5 669.3,643.6 669.5,713.1 669.8,604.9 670,622.4 670.2,672.6 670.4,594.3 670.7,649.6 670.9,527.8 671.1,567.9 671.4,627.2 671.6,619.6 671.8,639.6 672,668.7 672.3,537 672.5,644.8 672.7,669.1 673,634.8 673.2,652.3 673.4,633.7 673.6,518 673.9,694.3 674.1,677 674.3,533.5 674.5,634.5 674.8,629 675,550.5 675.2,639.9 675.5,618.3 675.7,665.3 675.9,636.9 676.1,533.8 676.4,629.3 676.6,678.9 676.8,649.1 677.1,715.4 677.3,529 677.5,659.6 677.7,681.4 678,635.3 678.2,652.6 678.4,659.5 678.6,526.5 678.9,662.8 679.1,658.5 679.3,582.3 679.6,543.6 679.8,548 680,496.8 680.2,520.1 680.5,661.9 680.7,592.6 680.9,518.5 681.2,655.5 681.4,702.3 681.6,617.4 681.8,647.1 682.1,548.1 682.3,633 682.5,707.7 682.7,543.3 683,627.8 683.2,543.1 683.4,682.8 683.7,706.7 683.9,559.7 684.1,699.5 684.3,547.6 684.6,649.2 684.8,552.1 685,627.8 685.3,674.9 685.5,547.7 685.7,712.6 685.9,533.4 686.2,657.1 686.4,559.2 686.6,553.4 686.9,664.3 687.1,676.2 687.3,613.4 687.5,645.7 687.8,624.3 688,658 688.2,538.6 688.4,665.3 688.7,567.7 688.9,545.4 689.1,524 689.4,708.6 689.6,639.6 689.8,645.8 690,601.9 690.3,681.8 690.5,640.8 690.7,546.9 691,657.7 691.2,614.9 691.4,554.4 691.6,538.9 691.9,641.1 692.1,654.8 692.3,548.2 692.5,707.6 692.8,559 693,551.5 693.2,532.4 693.5,525.7 693.7,560.7 693.9,650.6 694.1,544.4 694.4,631.8 694.6,611.3 694.8,644.4 695.1,702.8 695.3,541.2 695.5,659.3 695.7,543.4 696,538.7 696.2,633.7 696.4,538.4 696.6,682.6 696.9,708 697.1,511.3 697.3,555.6 697.6,673.7 697.8,648 698,661.1 698.2,647.8 698.5,526.7 698.7,668.1 698.9,551 699.2,656.1 699.4,643.9 699.6,534.6 699.8,705.1 700.1,516.4 700.3,674.9 700.5,531.3 700.7,681.4 701,530.8 701.2,660.4 701.4,535.4 701.7,659.9 701.9,538.4 702.1,636.4 702.3,609.7 702.6,655.2 702.8,637.4 703,526.4 703.3,550 703.5,559 703.7,627.8 703.9,662 704.2,660.4 704.4,608.3 704.6,552.3 704.9,548.1 705.1,563.1 705.3,546.8 705.5,646.1 705.8,527.5 706,686.9 706.2,556.7 706.4,705 706.7,589.4 706.9,644.5 707.1,649.6 707.4,575.6 707.6,650.6 707.8,636.1 708,525.5 708.3,673 708.5,709.5 708.7,631.6 709,538.6 709.2,617.9 709.4,590.8 709.6,639 709.9,692.6 710.1,630.6 710.3,551.9 710.5,537.9 710.8,637.8 711,607.5 711.2,540.4 711.5,705.4 711.7,656.1 711.9,619.6 712.1,630.7 712.4,538.5 712.6,654.3 712.8,645.3 713.1,621 713.3,658.2 713.5,559.7 713.7,611.9 714,536.7 714.2,537.3 714.4,531.4 714.6,655.7 714.9,555.7 715.1,602.3 715.3,642.7 715.6,614.9 715.8,558.9 716,657.7 716.2,555.2 716.5,642 716.7,565.8 716.9,625.7 717.2,527.3 717.4,639.9 717.6,662.9 717.8,493.9 718.1,709.5 718.3,541.4 718.5,577.2 718.8,521.6 719,531.3 719.2,648.3 719.4,715.9 719.7,626.8 719.9,668.9 720.1,702.2 720.3,618.9 720.6,712.3 720.8,666.1 721,546.2 721.3,624.1 721.5,680 721.7,635.9 721.9,703 722.2,668.2 722.4,564.7 722.6,531.5 722.9,608.5 723.1,672.5 723.3,627.5 723.5,646.9 723.8,647.1 724,530.9 724.2,632.5 724.4,535.7 724.7,488.3 724.9,620.2 725.1,531.2 725.4,506.3 725.6,631.5 725.8,658 726,639.2 726.3,704.6 726.5,681.6 726.7,620.1 727,516 727.2,501.5 727.4,635.4 727.6,675.4 727.9,524.8 728.1,549.8 728.3,524.5 728.5,690.6 728.8,550.2 729,474.3 729.2,650.2 729.5,713.3 729.7,675.6 729.9,601.8 730.1,547.4 730.4,652.7 730.6,541.8 730.8,645.4 731.1,680.5 731.3,674.3 731.5,521.8 731.7,621.3 732,619.5 732.2,611 732.4,533.7 732.6,628.8 732.9,545.5 733.1,702.1 733.3,710.6 733.6,563.4 733.8,528.6 734,543.1 734.2,623.6 734.5,681.3 734.7,639.3 734.9,648.7 735.2,528.3 735.4,670.3 735.6,659.2 735.8,535.4 736.1,634.1 736.3,538.9 736.5,642 736.8,606 737,644.2 737.2,549.1 737.4,653.3 737.7,532.7 737.9,667.4 738.1,530.8 738.3,650 738.6,534.2 738.8,645 739,689.3 739.3,554.1 739.5,636.5 739.7,537.5 739.9,705.8 740.2,526.4 740.4,527.6 740.6,617 740.9,642.3 741.1,555 741.3,473.2 741.5,697.9 741.8,538.9 742,493.9 742.2,526.6 742.4,684.6 742.7,632.6 742.9,630.2 743.1,537.8 743.4,651.9 743.6,517.7 743.8,550 744,551.2 744.3,529.1 744.5,531.1 744.7,641.2 745,671.6 745.2,538.8 745.4,630.6 745.6,601.4 745.9,608.2 746.1,531.9 746.3,590.6 746.5,543.4 746.8,535.3 747,628.1 747.2,622 747.5,636.8 747.7,660.9 747.9,559.4 748.1,655.7 748.4,650.9 748.6,519.8 748.8,645.2 749.1,631 749.3,638.2 749.5,626.3 749.7,645.6 750,600 750.2,553.8 750.4,638 750.6,603.6 750.9,532.9 751.1,649.1 751.3,654.1 751.6,544.2 751.8,540.9 752,694.8 752.2,630.8 752.5,639 752.7,631.3 752.9,657.3 753.2,551.7 753.4,670.3 753.6,538.9 753.8,622.8 754.1,652.5 754.3,546.4 754.5,542.8 754.8,523.7 755,646.5 755.2,679.6 755.4,621.4 755.7,549.5 755.9,567.9 756.1,549 756.3,643.1 756.6,665.1 756.8,705.3 757,667.4 757.3,548.1 757.5,660 757.7,630.2 757.9,642.6 758.2,663.8 758.4,636.6 758.6,663.7 758.9,675.2 759.1,545.6 759.3,666.3 759.5,614.9 759.8,554.9 760,665.2 760.2,620.2 760.4,526.9 760.7,544.3 760.9,710.9 761.1,546.8 761.4,521.7 761.6,523.4 761.8,533.7 762,663.4 762.3,645.6 762.5,546.3 762.7,613 763,668.9 763.2,565.4 763.4,527.8 763.6,625 763.9,534.2 764.1,529.1 764.3,516.6 764.5,703.4 764.8,548.3 765,535 765.2,628.2 765.5,678.6 765.7,704.9 765.9,671.6 766.1,628.6 766.4,622.2 766.6,544.4 766.8,707.7 767.1,650.6 767.3,607.3 767.5,538.6 767.7,534 768,709.1 768.2,552.2 768.4,633.3 768.7,541.6 768.9,549.1 769.1,666.4 769.3,538.4 769.6,702.6 769.8,651.1 770,505.7 770.2,642.9 770.5,519.8 770.7,549.9 770.9,532.5 771.2,660.6 771.4,678.3 771.6,302.4 771.8,644.8 772.1,661.4 772.3,520.9 772.5,481.7 772.8,537 773,656.2 773.2,619.9 773.4,641.9 773.7,637.3 773.9,648.5 774.1,597.2 774.3,650.9 774.6,620.5 774.8,702.8 775,617.3 775.3,655 775.5,626.3 775.7,658 775.9,647.5 776.2,559.4 776.4,636.3 776.6,591.5 776.9,651.5 777.1,647.4 777.3,535.6 777.5,542.1 777.8,659.8 778,500.6 778.2,615.2 778.4,664.2 778.7,699 778.9,648.4 779.1,539.7 779.4,699.2 779.6,629.9 779.8,609.3 780,651.5 780.3,536.3 780.5,536.2 780.7,675 781,653.3 781.2,539 781.4,620.4 781.6,651.8 781.9,549.3 782.1,673.7 782.3,634.3 782.5,526.6 782.8,574.6 783,612.7 783.2,544.4 783.5,531.2 783.7,638.7 783.9,699.6 784.1,697.6 784.4,623.4 784.6,634.3 784.8,648.3 785.1,536.8 785.3,645.1 785.5,616.5 785.7,550.7 786,643.8 786.2,522.2 786.4,522 786.7,622.5 786.9,698.4 787.1,650.6 787.3,584.3 787.6,640.6 787.8,640.6 788,594 788.2,535.6 788.5,679.5 788.7,650 788.9,668.3 789.2,487.2 789.4,641.1 789.6,646.8 789.8,536.6 790.1,536 790.3,618.8 790.5,664.8 790.8,693.2 791,535.8 791.2,535.8 791.4,541.7 791.7,656.5 791.9,619.4 792.1,697.7 792.3,660 792.6,645.4 792.8,542.1 793,538.6 793.3,655.3 793.5,552.8 793.7,688.9 793.9,691.8 794.2,540.4 794.4,645 794.6,628 794.9,639.6 795.1,541.9 795.3,644.4 795.5,615.5 795.8,621.4 796,702.8 796.2,554.7 796.4,648.2 796.7,550.7 796.9,527 797.1,604.7 797.4,534.9 797.6,640.1 797.8,548.5 798,542 798.3,625.3 798.5,529.8 798.7,516.3 799,551.3 799.2,557.5 799.4,644.8 799.6,620.9 799.9,616.5 800.1,526.6 800.3,698.8 800.6,639.8 800.8,673.4 801,547.5 801.2,527.5 801.5,669.5 801.7,552.1 801.9,602.4 802.1,622.9 802.4,649.4 802.6,555.4 802.8,624.1 803.1,651.8 803.3,549.4 803.5,702 803.7,657.6 804,522 804.2,588.4 804.4,654.1 804.7,642.9 804.9,515.8 805.1,533.9 805.3,641.9 805.6,656 805.8,495.7 806,688.3 806.2,663.3 806.5,636.6 806.7,547.3 806.9,532.5 807.2,665.7 807.4,661.2 807.6,650.2 807.8,700.6 808.1,526 808.3,716 808.5,544.1 808.8,620.6 809,539.3 809.2,608.8 809.4,628.3 809.7,622.9 809.9,625.5 810.1,665.2 810.3,626.6 810.6,640.9 810.8,657.3 811,529.5 811.3,531.4 811.5,655.2 811.7,674.7 811.9,672.8 812.2,645.2 812.4,671.4 812.6,648.4 812.9,539.9 813.1,640.2 813.3,523.5 813.5,661.7 813.8,643.5 814,609.8 814.2,639.5 814.5,541 814.7,540.4 814.9,635.8 815.1,550.6 815.4,592.5 815.6,676.6 815.8,674.8 816,645.1 816.3,672.5 816.5,644.5 816.7,610.7 817,639.9 817.2,626.2 817.4,635.9 817.6,639.8 817.9,642.7 818.1,670.1 818.3,705.8 818.6,678.9 818.8,656.7 819,671.3 819.2,536.8 819.5,657.4 819.7,533.8 819.9,664.5 820.1,676.1 820.4,537.5 820.6,540.9 820.8,554 821.1,529.3 821.3,626.4 821.5,648.8 821.7,640 822,532.5 822.2,557.7 822.4,630 822.7,492.8 822.9,547.8 823.1,622.8 823.3,679.5 823.6,638 823.8,541.1 824,654.4 824.2,621 824.5,543.3 824.7,629.6 824.9,648.1 825.2,616.1 825.4,612.1 825.6,651.8 825.8,568.8 826.1,627.2 826.3,546.3 826.5,544.4 826.8,627.9 827,703.8 827.2,658.5 827.4,660.9 827.7,520 827.9,663.6 828.1,539.8 828.3,542.6 828.6,547.8 828.8,561 829,525.8 829.3,650.6 829.5,531.8 829.7,550.8 829.9,649.1 830.2,606.5 830.4,653 830.6,544.5 830.9,663.4 831.1,616.9 831.3,557.4 831.5,503.9 831.8,664.5 832,556 832.2,610.3 832.5,651.8 832.7,683.1 832.9,556.1 833.1,527.9 833.4,656 833.6,610.6 833.8,559.2 834,621.4 834.3,538.4 834.5,553.6 834.7,564.6 835,632.6 835.2,483.2 835.4,707.9 835.6,647.5 835.9,620.3 836.1,527 836.3,709.1 836.6,638.6 836.8,520 837,544.3 837.2,548.6 837.5,535.7 837.7,658.4 837.9,537.5 838.1,632.9 838.4,518.3 838.6,509.8 838.8,628.5 839.1,633.1 839.3,633.3 839.5,703.5 839.7,531.5 840,568.4 840.2,687.3 840.4,558 840.7,526.2 840.9,643.6 841.1,527 841.3,626.8 841.6,645.7 841.8,672.6 842,539.6 842.2,652.5 842.5,700 842.7,536.4 842.9,517.4 843.2,518.9 843.4,555.8 843.6,617.8 843.8,540.8 844.1,513.1 844.3,538.5 844.5,618.7 844.8,543.6 845,646.8 845.2,528.1 845.4,650.6 845.7,643.6 845.9,630.6 846.1,633.2 846.4,542.9 846.6,663.9 846.8,546.3 847,535.3 847.3,647.9 847.5,659.7 847.7,667.1 847.9,638.9 848.2,539.6 848.4,629.4 848.6,651.7 848.9,610.4 849.1,644.1 849.3,620.8 849.5,518.7 849.8,603.7 850,657.9 850.2,649.5 850.5,617.1 850.7,654.4 850.9,643.2 851.1,603 851.4,641.6 851.6,539.7 851.8,667.2 852,638.6 852.3,658.3 852.5,521.6 852.7,665.7 853,678.1 853.2,645.8 853.4,678.1 853.6,500.6 853.9,564.5 854.1,704.1 854.3,538.8 854.6,569.7 854.8,541.7 855,619.7 855.2,509 855.5,617.5 855.7,530.1 855.9,532.7 856.1,642.2 856.4,535.6 856.6,643.4 856.8,666.5 857.1,673.6 857.3,523.8 857.5,540 857.7,529.7 858,677.3 858.2,547.7 858.4,641.4 858.7,641.7 858.9,538.5 859.1,662 859.3,642.3 859.6,539.3 859.8,544.8 860,663.5 860.2,615.3 860.5,380.4 860.7,698.7 860.9,660 861.2,673.4 861.4,608 861.6,632.8 861.8,528.7 862.1,684.8 862.3,709.2 862.5,645.8 862.8,546.5 863,662.3 863.2,540.8 863.4,526.1 863.7,653.5 863.9,590.8 864.1,638.7 864.4,639.6 864.6,678.8 864.8,704.3 865,614.7 865.3,629.4 865.5,572.1 865.7,614.2 865.9,636.3 866.2,554.7 866.4,611.8 866.6,708.2 866.9,658.7 867.1,552 867.3,660.4 867.5,643.8 867.8,640.2 868,540.7 868.2,697.7 868.5,651.3 868.7,520.9 868.9,669.3 869.1,530.6 869.4,545.3 869.6,624.1 869.8,547 870,552.2 870.3,526.3 870.5,468.3 870.7,711.2 871,538.8 871.2,540.6 871.4,621 871.6,708.7 871.9,636.9 872.1,619 872.3,705.4 872.6,654.4 872.8,646 873,699.2 873.2,675 873.5,564.1 873.7,615.4 873.9,545 874.1,641.8 874.4,535.7 874.6,516.6 874.8,660.6 875.1,618.2 875.3,525.1 875.5,673.6 875.7,528.8 876,487.2 876.2,524.2 876.4,650.1 876.7,652.6 876.9,525.3 877.1,615.5 877.3,671.4 877.6,579.7 877.8,534.9 878,538.4 878.2,707.3 878.5,647.4 878.7,631.6 878.9,657.6 879.2,526.9 879.4,528.3 879.6,628.1 879.8,622.2 880.1,547.8 880.3,609.9 880.5,537.6 880.8,715 881,639.1 881.2,660.6 881.4,638.8 881.7,540.7 881.9,552.3 882.1,616 882.4,634.2 882.6,509.5 882.8,537.5 883,553.5 883.3,528.9 883.5,655 883.7,650.1 883.9,642.5 884.2,623.3 884.4,655.3 884.6,615 884.9,539.7 885.1,545.3 885.3,642.2 885.5,571.5 885.8,604.3 886,546.4 886.2,534.5 886.5,616.2 886.7,549.7 886.9,548.6 887.1,529 887.4,655.5 887.6,615.3 887.8,539.7 888,637.4 888.3,543.3 888.5,714.7 888.7,560.7 889,667.1 889.2,651.2 889.4,531.3 889.6,671.6 889.9,577.9 890.1,524 890.3,602.6 890.6,532.8 890.8,556.3 891,539.6 891.2,645.8 891.5,540.2 891.7,634.1 891.9,619.6 892.1,530 892.4,647.5 892.6,645.1 892.8,532.2 893.1,640.8 893.3,590.2 893.5,704.2 893.7,542.7 894,534.2 894.2,623.6 894.4,541.9 894.7,629 894.9,675 895.1,661.8 895.3,633.1 895.6,669.4 895.8,543.1 896,549 896.3,528 896.5,616.3 896.7,550.5 896.9,647.3 897.2,549.2 897.4,698.1 897.6,631.1 897.8,501.8 898.1,640.4 898.3,630.9 898.5,644.9 898.8,528.5 899,632.3 899.2,633.4 899.4,714.1 899.7,530.3 899.9,681.6 900.1,547.5 900.4,547.5 900.6,644.4 900.8,666.4 901,529.4 901.3,534.1 901.5,518.6 901.7,511.2 901.9,699.5 902.2,648.6 902.4,646.7 902.6,521.2 902.9,666.1 903.1,633.7 903.3,629.7 903.5,562 903.8,557.4 904,650.7 904.2,647.9 904.5,642.3 904.7,629.9 904.9,646.6 905.1,619.7 905.4,657.2 905.6,685 905.8,670.9 906,624.6 906.3,677.3 906.5,556.5 906.7,612.5 907,627.2 907.2,525.8 907.4,543.3 907.6,637 907.9,630.4 908.1,539.3 908.3,681.1 908.6,539.5 908.8,655.7 909,632.6 909.2,552.5 909.5,706.9 909.7,574.3 909.9,647.4 910.1,499.3 910.4,527.5 910.6,551.5 910.8,547.8 911.1,545.1 911.3,640.8 911.5,700.3 911.7,713.3 912,623.7 912.2,529.3 912.4,636.6 912.7,512.8 912.9,606 913.1,633 913.3,653.9 913.6,543.1 913.8,564.2 914,531.3 914.3,550.4 914.5,525.4 914.7,567.7 914.9,644.5 915.2,619 915.4,627.9 915.6,524.9 915.8,545.1 916.1,625.5 916.3,641.6 916.5,616.2 916.8,635.8 917,656.1 917.2,546.8 917.4,694.2 917.7,629 917.9,547 918.1,600.5 918.4,565 918.6,537.7 918.8,607.4 919,519.8 919.3,631.5 919.5,533.8 919.7,525.7 919.9,669.2 920.2,645.8 920.4,660 920.6,550.4 920.9,611.4 921.1,538.1 921.3,539.3 921.5,536.1 921.8,619.8 922,628.6 922.2,517.4 922.5,543.1 922.7,624.7 922.9,628.8 923.1,548.5 923.4,635.5 923.6,651.8 923.8,675.4 924,698 924.3,651.4 924.5,491.7 924.7,520.6 925,677.2 925.2,632.7 925.4,524.5 925.6,532.4 925.9,655 926.1,669.9 926.3,713.9 926.6,700.4 926.8,539.7 927,542 927.2,534 927.5,655.8 927.7,548.9 927.9,551.7 928.2,624.2 928.4,647.3 928.6,624.3 928.8,646.9 929.1,530.7 929.3,538.3 929.5,655.9 929.7,612 930,634.5 930.2,669.4 930.4,639.4 930.7,698.4 930.9,669.6 931.1,634.9 931.3,528.3 931.6,628.1 931.8,638.7 932,647.9 932.3,647.8 932.5,543.4 932.7,547.3 932.9,604.7 933.2,658.5 933.4,669 933.6,565.2 933.8,529.7 934.1,539.9 934.3,695.5 934.5,528.7 934.8,548.7 935,541.5 935.2,618.9 935.4,698.3 935.7,656 935.9,620.3 936.1,558 936.4,640.1 936.6,628.3 936.8,654.3 937,657.5 937.3,529.8 937.5,632.9 937.7,639.8 937.9,584.8 938.2,535.2 938.4,688.5 938.6,519.8 938.9,544.8 939.1,530.6 939.3,541.7 939.5,533.5 939.8,654.6 940,605 940.2,620.3 940.5,678 940.7,643.2 940.9,664.3 941.1,554.6 941.4,539.3 941.6,655.7 941.8,553.7 942,635.1 942.3,624.3 942.5,637.1 942.7,524.2 943,667.7 943.2,542 943.4,567.4 943.6,546.2 943.9,524.6 944.1,675.4 944.3,652.5 944.6,587.6 944.8,668.7 945,540.7 945.2,549.4 945.5,633.9 945.7,623.8 945.9,645.4 946.2,520.4 946.4,635 946.6,536.3 946.8,538.9 947.1,585 947.3,536.3 947.5,617.6 947.7,660.5 948,689.4 948.2,638.6 948.4,626.5 948.7,630.8 948.9,615.7 949.1,670.4 949.3,649 949.6,601.1 949.8,637.7 950,533.3 950.3,540 950.5,636.8 950.7,661.7 950.9,688.1 951.2,646.2 951.4,647.2 951.6,630.7 951.8,620.2 952.1,625 952.3,624 952.5,604.2 952.8,661.5 953,670.2 953.2,566 953.4,655.8 953.7,627.3 953.9,502.8 954.1,519.7 954.4,625 954.6,519.1 954.8,678.2 955,531.5 955.3,673.6 955.5,645.9 955.7,655.9 955.9,668.4 956.2,648.6 956.4,662.6 956.6,549.1 956.9,644.3 957.1,667 957.3,672.8 957.5,529.9 957.8,587.8 958,685.8 958.2,526.9 958.5,535.8 958.7,632.7 958.9,666.8 959.1,656.3 959.4,526.4 959.6,538.6 959.8,630.2 960.1,482.3 960.3,662.2 960.5,668.3 960.7,608 961,616 961.2,701.9 961.4,679.7 961.6,537.5 961.9,555.6 962.1,643.4 962.3,538 962.6,681.8 962.8,658.6 963,611.1 963.2,668.3 963.5,614.5 963.7,633.1 963.9,558.8 964.2,668 964.4,533 964.6,700.2 964.8,660.4 965.1,537.2 965.3,635.6 965.5,677.8 965.7,537.3 966,644.9 966.2,699.3 966.4,681.4 966.7,635.5 966.9,635.7 967.1,616 967.3,552.1 967.6,531.2 967.8,655.3 968,669.3 968.3,603 968.5,656 968.7,524.2 968.9,637.3 969.2,636.8 969.4,554.9 969.6,716 969.8,710.6 970.1,544.4 970.3,664.4 970.5,632 970.8,543.4 971,642.1 971.2,675.4 971.4,678.7 971.7,536.1 971.9,619 972.1,650 972.4,548.6 972.6,546.2 972.8,533.8 973,546.4 973.3,651.2 973.5,710 973.7,622 974,527.9 974.2,617.7 974.4,533.6 974.6,651 974.9,646.1 975.1,619.7 975.3,666.4 975.5,542.9 975.8,664.6 976,636.7 976.2,665 976.5,602.5 976.7,642.4 976.9,615 977.1,533.5 977.4,499.5 977.6,540.8 977.8,646.7 978.1,572.9 978.3,645.5 978.5,533 978.7,661 979,642.5 979.2,588.8 979.4,648.9 979.6,642.9 979.9,605 980.1,616.2 980.3,547.8 980.6,550.8 980.8,630.8 981,538.4 981.2,645 981.5,630.8 981.7,630.7 981.9,604.5 982.2,665.6 982.4,561.6 982.6,638.8 982.8,625.5 983.1,618 983.3,555 983.5,525.5 983.7,607.1 984,586.7 984.2,611 984.4,680.6 984.7,631 984.9,534.3 985.1,550.4 985.3,517.9 985.6,651.9 985.8,637 986,536.7 986.3,630.9 986.5,715 986.7,650 986.9,664.8 987.2,637.3 987.4,501 987.6,552.5 987.8,549.1 988.1,543.9 988.3,663.9 988.5,672.1 988.8,582.4 989,636.7 989.2,634 989.4,642.7 989.7,501.3 989.9,636.8 990.1,613.1 990.4,630.3 990.6,643.8 990.8,660.3 991,535.7 991.3,659.3 991.5,571.4 991.7,657.6 992,709.3 992.2,524.7 992.4,631 992.6,528.3 992.9,535 993.1,537.8 993.3,626.2 993.5,613.6 993.8,631.7 994,498.4 994.2,656.9 994.5,619.1 994.7,620.2 994.9,530 995.1,538.2 995.4,621.9 995.6,608.9 995.8,545.9 996.1,545.8 996.3,649.9 996.5,533.5 996.7,675 997,540.2 997.2,660 997.4,635.8 997.6,672 997.9,534.8 998.1,535.3 998.3,710.3 998.6,678.8 998.8,539.9 999,647.6 999.2,554 999.5,621.8 999.7,639.6 999.9,554.3 1000.2,531.9 1000.4,646.7 1000.6,489.5 1000.8,668.4 1001.1,640.2 1001.3,635.4 1001.5,623.9 1001.7,682.8 1002,525.9 1002.2,604 1002.4,668.2 1002.7,521.9 1002.9,617.3 1003.1,537.7 1003.3,470.5 1003.6,659.4 1003.8,654.7 1004,666.9 1004.3,650.2 1004.5,629.9 1004.7,553.7 1004.9,645.8 1005.2,608.2 1005.4,680.9 1005.6,543 1005.9,527 1006.1,652.8 1006.3,538.9 1006.5,632.7 1006.8,649.8 1007,542.6 1007.2,625.9 1007.4,624.8 1007.7,657.8 1007.9,608.6 1008.1,522.9 1008.4,550.7 1008.6,538.8 1008.8,674.9 1009,549.8 1009.3,629.6 1009.5,532.3 1009.7,662 1010,706.9 1010.2,537.9 1010.4,667.7 1010.6,610.6 1010.9,654.4 1011.1,655.9 1011.3,714.4 1011.5,639.7 1011.8,543.6 1012,664.2 1012.2,541.1 1012.5,701.2 1012.7,657.6 1012.9,642.2 1013.1,666.5 1013.4,551.6 1013.6,520.3 1013.8,525.6 1014.1,486.8 1014.3,631.1 1014.5,542.6 1014.7,619.5 1015,706 1015.2,653.4 1015.4,628.1 1015.6,635.8 1015.9,644.4 1016.1,561.8 1016.3,712.9 1016.6,648 1016.8,710.4 1017,526.6 1017.2,700 1017.5,687.1 1017.7,526.7 1017.9,541.1 1018.2,638 1018.4,629.6 1018.6,636.6 1018.8,545.2 1019.1,556.6 1019.3,538.2 1019.5,527.6" fill="none" stroke="#5a5a5a" stroke-width="3.6" stroke-linejoin="round" marker-start="url(#mk)" marker-mid="url(#mk)" marker-end="url(#mk)"/>
<polyline points="206.3,616.8 206.5,537.8 206.8,653.2 207,649.1 207.2,518.5 207.4,507 207.7,532.9 207.9,548.4 208.1,702.7 208.3,548.3 208.6,539.3 208.8,516.9 209,592.1 209.3,461.8 209.5,622.8 209.7,647.4 209.9,658.8 210.2,618.6 210.4,540 210.6,519 210.9,650 211.1,620 211.3,687 211.5,545.2 211.8,616.5 212,531.3 212.2,649.2 212.5,635.2 212.7,632.9 212.9,689.3 213.1,539.8 213.4,631.4 213.6,534.2 213.8,623.4 214,644.6 214.3,697.5 214.5,649 214.7,646.4 215,618 215.2,541.6 215.4,614.4 215.6,650.8 215.9,544.8 216.1,537.3 216.3,650.3 216.6,630.6 216.8,655.5 217,615.9 217.2,531.5 217.5,636.1 217.7,550.9 217.9,544.1 218.1,725.2 218.4,616.6 218.6,619 218.8,652.7 219.1,732.3 219.3,529.4 219.5,645.2 219.7,516.3 220,518.4 220.2,617.8 220.4,616.5 220.7,636.4 220.9,574.7 221.1,624.1 221.3,662.1 221.6,671.6 221.8,696 222,631.4 222.2,701.3 222.5,569.3 222.7,530.3 222.9,670.3 223.2,544.8 223.4,532.9 223.6,658.6 223.8,618 224.1,615.6 224.3,707.1 224.5,535.3 224.8,632.7 225,573.8 225.2,650.5 225.4,687.4 225.7,621.5 225.9,575.3 226.1,516.8 226.4,649.9 226.6,650.4 226.8,541.6 227,705.5 227.3,638.5 227.5,547.5 227.7,669 227.9,705.8 228.2,578.5 228.4,580.5 228.6,623.9 228.9,519 229.1,578.6 229.3,730.5 229.5,634.3 229.8,645.2 230,725.1 230.2,517.2 230.5,588.7 230.7,622.4 230.9,735.5 231.1,649.4 231.4,663.8 231.6,537.8 231.8,651.1 232,542.8 232.3,539.5 232.5,702.3 232.7,540.5 233,577.9 233.2,540.3 233.4,646.6 233.6,537.6 233.9,656.9 234.1,669 234.3,582.4 234.6,619.1 234.8,685.6 235,702.9 235.2,661.4 235.5,675.7 235.7,643.2 235.9,518.2 236.1,539.7 236.4,540.8 236.6,641 236.8,493.3 237.1,624.7 237.3,654.9 237.5,517.5 237.7,650.1 238,646.9 238.2,607.2 238.4,647.7 238.7,534.2 238.9,642.1 239.1,613.4 239.3,580.8 239.6,574.8 239.8,626.6 240,533.6 240.2,648.3 240.5,517 240.7,660.3 240.9,646.3 241.2,558.6 241.4,639.1 241.6,535.1 241.8,602.4 242.1,541.7 242.3,650.4 242.5,652.8 242.8,656.7 243,597.3 243.2,659.5 243.4,682.3 243.7,659.4 243.9,628.6 244.1,537.3 244.4,619.2 244.6,461.4 244.8,553 245,570.5 245.3,616.9 245.5,573.1 245.7,517.1 245.9,616.9 246.2,516.9 246.4,561.7 246.6,629.4 246.9,661.5 247.1,642.1 247.3,643.3 247.5,647.9 247.8,545.5 248,617.9 248.2,657.4 248.5,619.2 248.7,520.3 248.9,646.8 249.1,625 249.4,650.5 249.6,534.1 249.8,517.8 250,638.7 250.3,658 250.5,667.6 250.7,535.7 251,529.5 251.2,539.5 251.4,521.2 251.6,533.5 251.9,706.1 252.1,664.5 252.3,705 252.6,652.2 252.8,545.3 253,533.3 253.2,631.2 253.5,667.1 253.7,585.4 253.9,614.2 254.1,585.2 254.4,657 254.6,698.3 254.8,562.9 255.1,621.2 255.3,652.4 255.5,517.4 255.7,652.6 256,677.8 256.2,516.7 256.4,642.1 256.7,520.2 256.9,679.6 257.1,461.8 257.3,567.8 257.6,585.1 257.8,572.7 258,627.6 258.3,544.9 258.5,549.3 258.7,653.2 258.9,637.4 259.2,604.8 259.4,504.4 259.6,533.9 259.8,546.6 260.1,565.1 260.3,616.7 260.5,654.4 260.8,616.5 261,651.4 261.2,615.1 261.4,541.4 261.7,560.3 261.9,649.7 262.1,648.6 262.4,541.7 262.6,624.6 262.8,657.8 263,540.6 263.3,681.6 263.5,616 263.7,648.7 263.9,545.9 264.2,520 264.4,543.8 264.6,621.5 264.9,653.1 265.1,657.6 265.3,618.5 265.5,648.6 265.8,518.3 266,674.7 266.2,730.6 266.5,653.5 266.7,614.8 266.9,617.2 267.1,543.4 267.4,539.1 267.6,692.5 267.8,652.2 268,681.2 268.3,734.2 268.5,678.7 268.7,625.1 269,650.8 269.2,663.5 269.4,543.3 269.6,606.9 269.9,661.7 270.1,634.1 270.3,633.3 270.6,594.9 270.8,517.4 271,621.7 271.2,651.4 271.5,709.2 271.7,579.9 271.9,659.9 272.1,712.6 272.4,620.5 272.6,648.5 272.8,648.6 273.1,589.1 273.3,538.7 273.5,615.8 273.7,615.6 274,584.3 274.2,618 274.4,535.4 274.7,631.2 274.9,672.2 275.1,581.7 275.3,620.9 275.6,679.8 275.8,595.4 276,683.7 276.3,544.2 276.5,536.8 276.7,650.5 276.9,485.7 277.2,532.6 277.4,668.4 277.6,539.4 277.8,585.7 278.1,551.5 278.3,652.2 278.5,544 278.8,540.4 279,644.2 279.2,544.5 279.4,645.3 279.7,516.5 279.9,519.8 280.1,651.6 280.4,604.5 280.6,518.1 280.8,517.1 281,580.7 281.3,592.7 281.5,535.7 281.7,578.1 281.9,545.4 282.2,619.4 282.4,612.6 282.6,633.1 282.9,651.6 283.1,623 283.3,581.4 283.5,642.6 283.8,540.6 284,618.6 284.2,661.1 284.5,666.7 284.7,519.4 284.9,615.9 285.1,578.5 285.4,545.5 285.6,612.9 285.8,631.9 286,487 286.3,660.1 286.5,710.8 286.7,580 287,653.5 287.2,585.8 287.4,714.7 287.6,635.3 287.9,632.1 288.1,520 288.3,538.6 288.6,649.3 288.8,657 289,709.6 289.2,517.2 289.5,654.4 289.7,714.6 289.9,580.1 290.2,647.9 290.4,644 290.6,543.8 290.8,642.8 291.1,710.6 291.3,623.6 291.5,520.6 291.7,651.1 292,538.8 292.2,620.1 292.4,642.6 292.7,573.2 292.9,556.2 293.1,673.4 293.3,540.7 293.6,628.6 293.8,572.8 294,600.5 294.3,652.5 294.5,704.9 294.7,538.4 294.9,577.3 295.2,619.3 295.4,538.7 295.6,674.2 295.8,619.7 296.1,572.9 296.3,535.3 296.5,588.7 296.8,537.2 297,671 297.2,596.5 297.4,653.3 297.7,651 297.9,675.3 298.1,559.7 298.4,541.8 298.6,694.6 298.8,620.9 299,537.9 299.3,717.9 299.5,646.3 299.7,612.6 299.9,657 300.2,549.5 300.4,622.8 300.6,529.8 300.9,678.8 301.1,546 301.3,635 301.5,666.9 301.8,586.3 302,676.7 302.2,646 302.5,549.5 302.7,615.9 302.9,587.2 303.1,732.2 303.4,701.8 303.6,517.6 303.8,648.7 304.1,637.8 304.3,617.9 304.5,580.7 304.7,666.9 305,531.5 305.2,542.7 305.4,690.7 305.6,615.4 305.9,588.5 306.1,584.9 306.3,543.5 306.6,700.2 306.8,571.6 307,542.3 307.2,620.8 307.5,729.3 307.7,662.9 307.9,518.3 308.2,572.4 308.4,658.1 308.6,538.2 308.8,616.8 309.1,625.3 309.3,583.2 309.5,649 309.7,529.8 310,519.6 310.2,649 310.4,697.8 310.7,570.3 310.9,613.9 311.1,535.4 311.3,569.9 311.6,581.7 311.8,651 312,653.3 312.3,566 312.5,654.1 312.7,643.5 312.9,663.3 313.2,653.6 313.4,631 313.6,622.3 313.8,568.3 314.1,589.4 314.3,689.7 314.5,615.4 314.8,532.6 315,604.4 315.2,508.1 315.4,530.4 315.7,542.7 315.9,528.2 316.1,642.6 316.4,617.1 316.6,592.4 316.8,622.1 317,652.5 317.3,679.5 317.5,573.8 317.7,690.1 317.9,615.6 318.2,576.9 318.4,574.4 318.6,536.7 318.9,594.6 319.1,648.1 319.3,619.3 319.5,632.2 319.8,617.6 320,600.9 320.2,652 320.5,563.5 320.7,644.7 320.9,632.9 321.1,528.7 321.4,621.1 321.6,534.2 321.8,537.1 322.1,606.7 322.3,531.1 322.5,542.3 322.7,529.3 323,726.3 323.2,574.1 323.4,648.5 323.6,576.3 323.9,538.9 324.1,516.7 324.3,518.4 324.6,592.9 324.8,534.5 325,538.3 325.2,584.2 325.5,604.7 325.7,615.1 325.9,717.9 326.2,520.7 326.4,540.2 326.6,521.1 326.8,632.8 327.1,518.6 327.3,575.2 327.5,614.4 327.7,618.8 328,548.8 328.2,653.2 328.4,527.9 328.7,664.1 328.9,540.8 329.1,621.9 329.3,616.5 329.6,664.2 329.8,613.9 330,540.5 330.3,631.2 330.5,653 330.7,591.3 330.9,547.1 331.2,620.6 331.4,662.6 331.6,706.4 331.8,543.2 332.1,651.9 332.3,597.9 332.5,648.9 332.8,655.5 333,587.9 333.2,618 333.4,654.4 333.7,723 333.9,544.7 334.1,613.5 334.4,534.9 334.6,536.1 334.8,726.6 335,727.8 335.3,655 335.5,631.5 335.7,541.8 335.9,560.4 336.2,552 336.4,519.6 336.6,580.8 336.9,551.3 337.1,517.8 337.3,534.4 337.5,711.4 337.8,654.3 338,658.8 338.2,604.8 338.5,714.6 338.7,535.5 338.9,649.3 339.1,617.7 339.4,651.8 339.6,640.7 339.8,620.7 340.1,552.6 340.3,645.9 340.5,654.3 340.7,634.9 341,517.9 341.2,583.2 341.4,620 341.6,586 341.9,541.9 342.1,641.7 342.3,602.3 342.6,621.1 342.8,619.6 343,583.7 343.2,650.7 343.5,575.6 343.7,644 343.9,658.9 344.2,651.3 344.4,546.4 344.6,579.3 344.8,702.1 345.1,710.2 345.3,550.8 345.5,537.2 345.7,529.9 346,664.1 346.2,653.5 346.4,617.1 346.7,710 346.9,618.3 347.1,581.4 347.3,534.9 347.6,538.3 347.8,604.1 348,625.7 348.3,619.3 348.5,542.2 348.7,617.1 348.9,645.9 349.2,518.8 349.4,518.6 349.6,543.4 349.8,576.7 350.1,543.8 350.3,520.3 350.5,538.7 350.8,616 351,570.2 351.2,614.5 351.4,645.3 351.7,619.3 351.9,533.1 352.1,650.6 352.4,469.4 352.6,654.5 352.8,586.2 353,542 353.3,626.2 353.5,508.1 353.7,540.3 354,553.7 354.2,617.5 354.4,585.2 354.6,649.5 354.9,709.9 355.1,535.6 355.3,558.7 355.5,617.7 355.8,623 356,701 356.2,642 356.5,627.1 356.7,630.9 356.9,550.3 357.1,618.4 357.4,654.5 357.6,649.1 357.8,651.2 358.1,655.7 358.3,656.5 358.5,623.3 358.7,630.8 359,598.5 359.2,653.8 359.4,533.4 359.6,648 359.9,651.4 360.1,626 360.3,668.5 360.6,518.5 360.8,683.7 361,579.9 361.2,620.4 361.5,534.2 361.7,674.2 361.9,540 362.2,632.2 362.4,654.3 362.6,573 362.8,588.1 363.1,693.8 363.3,546.2 363.5,580.4 363.7,539.6 364,536.2 364.2,644.3 364.4,651.4 364.7,544.2 364.9,614.3 365.1,507 365.3,632.7 365.6,640 365.8,542.8 366,546.2 366.3,581.8 366.5,542.1 366.7,565 366.9,707.7 367.2,651.5 367.4,623.5 367.6,584.8 367.9,564.1 368.1,651 368.3,598.6 368.5,539.7 368.8,670 369,679.3 369.2,656.4 369.4,517.6 369.7,634.9 369.9,565.3 370.1,653.2 370.4,627 370.6,576.5 370.8,520.1 371,646.8 371.3,679.1 371.5,567.9 371.7,617 372,521.7 372.2,625.7 372.4,540.5 372.6,719.5 372.9,461.8 373.1,487 373.3,527.6 373.5,539.5 373.8,670.7 374,619.1 374.2,612.5 374.5,519.3 374.7,570.2 374.9,688.6 375.1,618.4 375.4,585.1 375.6,518.8 375.8,650.1 376.1,648.5 376.3,540.7 376.5,544 376.7,636.5 377,562.8 377.2,652.2 377.4,612.8 377.6,518.5 377.9,536 378.1,619.7 378.3,560.5 378.6,646.8 378.8,554.7 379,518.8 379.2,538.3 379.5,619.5 379.7,487 379.9,626.5 380.2,646.8 380.4,648.7 380.6,646.1 380.8,536.8 381.1,548.1 381.3,538.5 381.5,538.7 381.7,668.3 382,675.7 382.2,616.1 382.4,580 382.7,580.3 382.9,655.4 383.1,539.5 383.3,673.1 383.6,625.6 383.8,667 384,665.4 384.3,622.8 384.5,619 384.7,630.6 384.9,617.7 385.2,650.7 385.4,517.7 385.6,655.1 385.9,625.2 386.1,538.9 386.3,494.4 386.5,620.8 386.8,536.8 387,546.8 387.2,617.7 387.4,657 387.7,569.1 387.9,517.2 388.1,570.1 388.4,710.4 388.6,577.7 388.8,696.4 389,572.5 389.3,648.7 389.5,518 389.7,585.2 390,666.8 390.2,625.1 390.4,639.5 390.6,542.3 390.9,622.3 391.1,707.6 391.3,654.1 391.5,579.2 391.8,718.4 392,618.3 392.2,519.8 392.5,519.4 392.7,518.6 392.9,589.5 393.1,542.5 393.4,703.2 393.6,656.6 393.8,641.8 394.1,628.4 394.3,612.5 394.5,617.9 394.7,649.1 395,544.6 395.2,648.6 395.4,520.1 395.6,527.3 395.9,618.9 396.1,699.9 396.3,602.4 396.6,587.8 396.8,530.6 397,661.5 397.2,651.8 397.5,612.9 397.7,725.5 397.9,548.3 398.2,711.2 398.4,463.1 398.6,517.2 398.8,619.4 399.1,646 399.3,718.9 399.5,589.7 399.8,649.4 400,616.4 400.2,657.9 400.4,539.1 400.7,518.7 400.9,559.5 401.1,546.4 401.3,518.9 401.6,549.3 401.8,537.1 402,650.3 402.3,520.1 402.5,658.3 402.7,625.3 402.9,541.7 403.2,614.1 403.4,617 403.6,657.8 403.9,531.8 404.1,708.1 404.3,537.9 404.5,535.6 404.8,687 405,657.2 405.2,660.3 405.4,550.1 405.7,518.2 405.9,528.6 406.1,624.2 406.4,616.9 406.6,641.2 406.8,603.2 407,519.6 407.3,662.7 407.5,651.1 407.7,642.2 408,665.1 408.2,538.9 408.4,657.1 408.6,667.2 408.9,652.1 409.1,646.4 409.3,546.6 409.5,655.5 409.8,615 410,707.3 410.2,635.6 410.5,712.9 410.7,565.5 410.9,639.9 411.1,649.3 411.4,592 411.6,537 411.8,655.7 412.1,648.9 412.3,657.7 412.5,619.1 412.7,519.7 413,565 413.2,689.7 413.4,541.4 413.6,594.7 413.9,599.7 414.1,625 414.3,645.8 414.6,588.1 414.8,533.7 415,646.1 415.2,591.2 415.5,585.6 415.7,646.9 415.9,539.1 416.2,614.7 416.4,621.9 416.6,536.4 416.8,578.6 417.1,572.3 417.3,645.1 417.5,666.9 417.8,657.4 418,537.4 418.2,652.8 418.4,651.3 418.7,520.4 418.9,540.6 419.1,639.1 419.3,575.3 419.6,627.4 419.8,517.5 420,531.4 420.3,461.4 420.5,549.1 420.7,534.9 420.9,665.5 421.2,613.7 421.4,520 421.6,574.7 421.9,632.1 422.1,646.3 422.3,653.1 422.5,517 422.8,516.9 423,549.4 423.2,617.9 423.4,588.5 423.7,666.8 423.9,645.8 424.1,516.8 424.4,655.2 424.6,543.4 424.8,617 425,549.6 425.3,516.5 425.5,651 425.7,570 426,570.7 426.2,535.1 426.4,627.7 426.6,640.6 426.9,519.2 427.1,545.4 427.3,630.9 427.5,574 427.8,588.5 428,616.2 428.2,627 428.5,633.4 428.7,518.3 428.9,618.7 429.1,572.9 429.4,571.6 429.6,574.7 429.8,678.4 430.1,557.8 430.3,539.4 430.5,628.9 430.7,653.9 431,575.3 431.2,539.9 431.4,517.7 431.6,615.9 431.9,618.7 432.1,632.2 432.3,573.7 432.6,684 432.8,549.7 433,541.1 433.2,580.3 433.5,462.9 433.7,628.5 433.9,620.2 434.2,603.6 434.4,586.4 434.6,628 434.8,613.6 435.1,620.3 435.3,615.3 435.5,551.2 435.8,684.6 436,614.5 436.2,533.9 436.4,651.6 436.7,662.1 436.9,520.2 437.1,644.4 437.3,539.6 437.6,517.9 437.8,577.6 438,632.7 438.3,487 438.5,666.3 438.7,520.8 438.9,651.6 439.2,669 439.4,709.9 439.6,714.7 439.9,546.9 440.1,554.8 440.3,620.2 440.5,646.5 440.8,654.6 441,631.4 441.2,629.3 441.4,621.8 441.7,619.2 441.9,541.5 442.1,745.3 442.4,655 442.6,711.5 442.8,650.4 443,620.6 443.3,548.1 443.5,519.2 443.7,639.1 444,648.2 444.2,616 444.4,622.6 444.6,742 444.9,659.2 445.1,623.6 445.3,654.4 445.5,517.3 445.8,545.5 446,572.6 446.2,624.9 446.5,533.6 446.7,616.4 446.9,537.9 447.1,675.1 447.4,589.4 447.6,517.3 447.8,520.9 448.1,620.9 448.3,645.5 448.5,569.4 448.7,545.1 449,518.7 449.2,659.6 449.4,617.9 449.7,705.3 449.9,615.2 450.1,588.8 450.3,613.1 450.6,651.1 450.8,664.7 451,542.3 451.2,645 451.5,536.9 451.7,656.7 451.9,517.2 452.2,633.8 452.4,520.1 452.6,659.3 452.8,537.4 453.1,649.8 453.3,651.2 453.5,580.8 453.8,536.1 454,567.5 454.2,623.3 454.4,652.5 454.7,668.1 454.9,617.5 455.1,517.2 455.3,537.1 455.6,537.9 455.8,590.7 456,616.4 456.3,638.9 456.5,624.6 456.7,622.3 456.9,544.4 457.2,711.6 457.4,518.1 457.6,560.5 457.9,711.7 458.1,622 458.3,585.8 458.5,621.6 458.8,652.6 459,617.8 459.2,584.9 459.4,545.5 459.7,540.1 459.9,613.6 460.1,656 460.4,573.5 460.6,619.5 460.8,625.4 461,533.7 461.3,620.3 461.5,617.1 461.7,543.6 462,497.9 462.2,576.6 462.4,713.6 462.6,653.4 462.9,541.8 463.1,583.4 463.3,625.1 463.6,641 463.8,543.7 464,644.2 464.2,561.4 464.5,639.6 464.7,654.6 464.9,620.2 465.1,516.7 465.4,535.9 465.6,619.5 465.8,655.4 466.1,567.8 466.3,645.7 466.5,648 466.7,655 467,639.2 467.2,596.3 467.4,652.8 467.7,517.9 467.9,617.4 468.1,663.8 468.3,621.5 468.6,544.3 468.8,640.7 469,518.7 469.2,653.6 469.5,633.7 469.7,656.4 469.9,536.9 470.2,614.6 470.4,624.7 470.6,633.5 470.8,536.5 471.1,577.5 471.3,517.2 471.5,664.8 471.8,690.1 472,535.7 472.2,647.2 472.4,653.5 472.7,616.1 472.9,639.1 473.1,634.6 473.3,538.2 473.6,723.2 473.8,687 474,519.7 474.3,536.9 474.5,636.5 474.7,518.9 474.9,619.5 475.2,587 475.4,532.6 475.6,618.2 475.9,571.8 476.1,725.7 476.3,622.1 476.5,656.4 476.8,614.3 477,640.7 477.2,706.7 477.4,720.6 477.7,536 477.9,612.9 478.1,621.1 478.4,635.4 478.6,516.6 478.8,519.1 479,623.9 479.3,518.1 479.5,547.2 479.7,653.2 480,537.1 480.2,658 480.4,582.5 480.6,616.3 480.9,650.7 481.1,557.1 481.3,621.1 481.6,621.7 481.8,702.9 482,544.5 482.2,568.2 482.5,547.3 482.7,617.1 482.9,516.9 483.1,696 483.4,657.9 483.6,540.9 483.8,594.2 484.1,652.8 484.3,527.1 484.5,649.2 484.7,518 485,461.8 485.2,578.7 485.4,688.3 485.7,568.7 485.9,627.1 486.1,696.4 486.3,516.5 486.6,569.9 486.8,651.1 487,681.8 487.2,652.3 487.5,540.3 487.7,700.9 487.9,520.8 488.2,588.6 488.4,617.8 488.6,607.7 488.8,549.8 489.1,517.4 489.3,546.3 489.5,659 489.8,647.8 490,538 490.2,536.1 490.4,549.9 490.7,542.7 490.9,627.7 491.1,579.3 491.3,546.7 491.6,571.7 491.8,669.3 492,654.4 492.3,574.4 492.5,636.6 492.7,571.4 492.9,569 493.2,598.4 493.4,649.9 493.6,619.5 493.9,616.6 494.1,589.3 494.3,461.8 494.5,650.8 494.8,624.8 495,613.2 495.2,620.3 495.4,517.9 495.7,622.4 495.9,648.4 496.1,618.2 496.4,617.5 496.6,633.8 496.8,519.7 497,585 497.3,622.3 497.5,530.4 497.7,538.2 498,646.2 498.2,488.6 498.4,617.6 498.6,678.5 498.9,645.8 499.1,655.9 499.3,568.5 499.6,659.3 499.8,652 500,651.8 500.2,632.2 500.5,650.2 500.7,598.5 500.9,601.4 501.1,618.3 501.4,518.1 501.6,624.7 501.8,637.2 502.1,493.6 502.3,628.8 502.5,619.4 502.7,650.7 503,651.1 503.2,647.2 503.4,649.9 503.7,653.5 503.9,624.6 504.1,664.7 504.3,697.5 504.6,539.4 504.8,630.2 505,619.9 505.2,655.1 505.5,652.2 505.7,544.4 505.9,677.8 506.2,596.3 506.4,648.1 506.6,695.6 506.8,617.7 507.1,623.1 507.3,655.6 507.5,614.2 507.8,533.3 508,655.8 508.2,617.5 508.4,616.4 508.7,629.7 508.9,630.1 509.1,659.7 509.3,579.9 509.6,664.5 509.8,636.1 510,644.8 510.3,650.1 510.5,517.9 510.7,581.7 510.9,588.6 511.2,569 511.4,655 511.6,644.2 511.9,544.2 512.1,544.7 512.3,630.1 512.5,690 512.8,613.1 513,725.4 513.2,539.2 513.5,667.4 513.7,519.2 513.9,656.9 514.1,549.3 514.4,643.7 514.6,728.4 514.8,622.3 515,577.7 515.3,567.8 515.5,519 515.7,625.5 516,639.5 516.2,621.7 516.4,486.8 516.6,543.7 516.9,461.8 517.1,548.6 517.3,646.3 517.6,651.4 517.8,594.7 518,654.8 518.2,581.3 518.5,651.3 518.7,554.8 518.9,582 519.1,519.2 519.4,654.8 519.6,606.8 519.8,684.7 520.1,617.5 520.3,553.8 520.5,669.4 520.7,682.5 521,614.7 521.2,649.6 521.4,599.6 521.7,518.9 521.9,534.5 522.1,724.8 522.3,646.6 522.6,607.3 522.8,655.6 523,619 523.2,535.1 523.5,613.3 523.7,633 523.9,646.4 524.2,613.5 524.4,519.8 524.6,623.7 524.8,625.3 525.1,603.8 525.3,617.7 525.5,651.9 525.8,727.8 526,517.2 526.2,578.9 526.4,642 526.7,561.9 526.9,681.8 527.1,690.8 527.4,638.4 527.6,598.5 527.8,609.8 528,614.1 528.3,623.3 528.5,631.8 528.7,592.8 528.9,593.6 529.2,652.2 529.4,537.6 529.6,644.9 529.9,543.3 530.1,612.4 530.3,619.7 530.5,646.8 530.8,660.8 531,597.1 531.2,540.3 531.5,580.1 531.7,731.4 531.9,548.6 532.1,601.8 532.4,516.6 532.6,533.4 532.8,600.2 533,615.7 533.3,639.8 533.5,673.5 533.7,517.2 534,592.8 534.2,532.5 534.4,640.1 534.6,518.6 534.9,651.1 535.1,518.6 535.3,574.9 535.6,573.6 535.8,539.7 536,665.3 536.2,628.1 536.5,656.5 536.7,516.8 536.9,651.9 537.1,732.7 537.4,575.1 537.6,659.9 537.8,739.2 538.1,648.6 538.3,539 538.5,651.2 538.7,606.9 539,517.1 539.2,575.6 539.4,589.3 539.7,520.7 539.9,578.5 540.1,618.6 540.3,617.5 540.6,641.2 540.8,538.3 541,622.9 541.2,691.4 541.5,577.1 541.7,617.9 541.9,665.5 542.2,616.2 542.4,616.7 542.6,519.8 542.8,618 543.1,582 543.3,655.5 543.5,697 543.8,656.6 544,572.3 544.2,533.2 544.4,536.5 544.7,519.6 544.9,620.6 545.1,707.5 545.4,546.2 545.6,593.3 545.8,649.5 546,632 546.3,649.1 546.5,541.4 546.7,617.2 546.9,517.5 547.2,647.2 547.4,618.3 547.6,669 547.9,582.9 548.1,660.9 548.3,572.9 548.5,539.3 548.8,641.4 549,540.4 549.2,461.8 549.5,644 549.7,645.6 549.9,639.2 550.1,571.6 550.4,706.2 550.6,622.7 550.8,584.7 551,564.8 551.3,571.7 551.5,648.9 551.7,632.2 552,534.9 552.2,614.4 552.4,660.6 552.6,625.6 552.9,607.8 553.1,635.5 553.3,539.7 553.6,617.4 553.8,546.2 554,621.2 554.2,613.2 554.5,674.2 554.7,517.6 554.9,653.5 555.1,571.1 555.4,564.5 555.6,565.9 555.8,702.5 556.1,534.9 556.3,596.3 556.5,696 556.7,637 557,530.5 557.2,648.3 557.4,580.3 557.7,650.2 557.9,635.1 558.1,572.9 558.3,535.5 558.6,615.3 558.8,557.1 559,517.1 559.2,649.7 559.5,668 559.7,687.3 559.9,643.1 560.2,539.3 560.4,624.7 560.6,517.6 560.8,540 561.1,517.1 561.3,581.9 561.5,586.6 561.8,640.6 562,568.4 562.2,629.6 562.4,577.2 562.7,617.7 562.9,694.5 563.1,640.9 563.4,516.5 563.6,651.3 563.8,537.2 564,519 564.3,618.8 564.5,653.8 564.7,621.2 564.9,536.9 565.2,603.7 565.4,578.7 565.6,673 565.9,568.9 566.1,584.2 566.3,653 566.5,578.7 566.8,540.2 567,655.1 567.2,679.6 567.5,506.2 567.7,667.2 567.9,665.1 568.1,548.8 568.4,684.3 568.6,651.2 568.8,646.9 569,615.6 569.3,613.7 569.5,603.8 569.7,543 570,619.1 570.2,515.7 570.4,536.4 570.6,489 570.9,536.2 571.1,588.6 571.3,629.6 571.6,651 571.8,649.5 572,704.7 572.2,622.1 572.5,539.6 572.7,530.4 572.9,646.8 573.1,634.2 573.4,635.2 573.6,616.4 573.8,619.8 574.1,684 574.3,533.6 574.5,532.5 574.7,516.7 575,515.9 575.2,649.3 575.4,688.7 575.7,627.6 575.9,581.5 576.1,605.1 576.3,660.9 576.6,595.2 576.8,580.1 577,656.6 577.3,574.7 577.5,637.5 577.7,688.2 577.9,630.6 578.2,687.2 578.4,619.5 578.6,614.5 578.8,575.3 579.1,645 579.3,618.8 579.5,544.4 579.8,617.6 580,583.3 580.2,541.8 580.4,568.9 580.7,608.4 580.9,620.8 581.1,539.9 581.4,636 581.6,633.3 581.8,533.8 582,515.7 582.3,532.4 582.5,534.2 582.7,603.5 582.9,618.9 583.2,518.9 583.4,669.8 583.6,620.8 583.9,645.7 584.1,577 584.3,544.9 584.5,638.1 584.8,517.3 585,662.9 585.2,646.5 585.5,606.5 585.7,635.4 585.9,700 586.1,669.1 586.4,696.9 586.6,659.4 586.8,518.7 587,650.6 587.3,694.1 587.5,628.9 587.7,621.3 588,558.5 588.2,516.5 588.4,623.1 588.6,616.2 588.9,616.4 589.1,462.3 589.3,653.4 589.6,535.9 589.8,649.9 590,646.9 590.2,517.4 590.5,651.7 590.7,583.6 590.9,534.4 591.1,620.2 591.4,653.6 591.6,613 591.8,646.9 592.1,568.4 592.3,517.5 592.5,582.7 592.7,622.7 593,584.6 593.2,533.4 593.4,535.9 593.7,564.7 593.9,539.3 594.1,582.1 594.3,681 594.6,534.4 594.8,704.2 595,653.4 595.3,625.5 595.5,620.3 595.7,552.4 595.9,666.9 596.2,620.8 596.4,664.5 596.6,683.7 596.8,676.8 597.1,649.7 597.3,547 597.5,618.9 597.8,518.6 598,706.3 598.2,626.3 598.4,652.5 598.7,592.9 598.9,536.4 599.1,536.6 599.4,625.6 599.6,587.9 599.8,538.8 600,631.6 600.3,703.5 600.5,618.3 600.7,541.6 600.9,704.7 601.2,651.6 601.4,614 601.6,618.8 601.9,538.7 602.1,650.6 602.3,677.8 602.5,659.3 602.8,519.2 603,648 603.2,543.9 603.5,579.4 603.7,658.7 603.9,531.2 604.1,593.5 604.4,582.4 604.6,619.6 604.8,632.4 605,516.1 605.3,587.7 605.5,649.1 605.7,544.6 606,555.4 606.2,622 606.4,629.8 606.6,585.4 606.9,701.3 607.1,552.5 607.3,565.8 607.6,549.5 607.8,647 608,615.1 608.2,625.9 608.5,655.7 608.7,519.6 608.9,675.2 609.2,617.5 609.4,539.5 609.6,518.6 609.8,702.8 610.1,535.9 610.3,668.8 610.5,515.5 610.7,537.7 611,679.1 611.2,673.2 611.4,599.1 611.7,587.3 611.9,517.3 612.1,516 612.3,647.1 612.6,645.9 612.8,628.5 613,600.1 613.3,619.4 613.5,651 613.7,640.3 613.9,543.6 614.2,540.8 614.4,655.2 614.6,462.3 614.8,645.6 615.1,616.3 615.3,537.3 615.5,647.9 615.8,651.6 616,657.9 616.2,647.2 616.4,693.3 616.7,620 616.9,516.7 617.1,615.5 617.4,618 617.6,649.9 617.8,664.4 618,462.3 618.3,741.2 618.5,649.3 618.7,730.8 618.9,519.1 619.2,674.9 619.4,462.3 619.6,614.2 619.9,555.5 620.1,667.7 620.3,729.7 620.5,541.3 620.8,518.3 621,640.9 621.2,731.1 621.5,651.6 621.7,663.9 621.9,639.6 622.1,574.1 622.4,534 622.6,619.3 622.8,578.3 623,541 623.3,647.9 623.5,652.4 623.7,709.8 624,567.2 624.2,648.1 624.4,554.8 624.6,617.5 624.9,628.8 625.1,652.3 625.3,613.6 625.6,619.6 625.8,536.8 626,534.6 626.2,515.9 626.5,732 626.7,560.7 626.9,685.7 627.2,565 627.4,517 627.6,645 627.8,536.5 628.1,546.4 628.3,630.6 628.5,655.3 628.7,659.8 629,647.1 629.2,537.6 629.4,518.1 629.7,657.5 629.9,578.4 630.1,551.7 630.3,538 630.6,517.4 630.8,573.4 631,572.7 631.3,653.5 631.5,617 631.7,543.1 631.9,554.4 632.2,655 632.4,557.7 632.6,540.8 632.8,616.1 633.1,667.2 633.3,677.9 633.5,614.6 633.8,693.9 634,620.7 634.2,617.5 634.4,635.1 634.7,531.6 634.9,557.1 635.1,550.2 635.4,539 635.6,623.4 635.8,648.9 636,539.7 636.3,621 636.5,582.3 636.7,536.3 636.9,647.5 637.2,543.5 637.4,614.5 637.6,647.9 637.9,661.5 638.1,646.5 638.3,627.2 638.5,559.2 638.8,648.7 639,620.3 639.2,517.8 639.5,582.5 639.7,658.9 639.9,545.3 640.1,620.3 640.4,650.2 640.6,584.3 640.8,607.3 641.1,531.7 641.3,518.2 641.5,534.9 641.7,536.8 642,651.4 642.2,636.7 642.4,651 642.6,654 642.9,612.2 643.1,619.1 643.3,651.2 643.6,649.9 643.8,646.4 644,533.6 644.2,616.5 644.5,619.2 644.7,582.5 644.9,613.9 645.2,680.2 645.4,515.6 645.6,658 645.8,618 646.1,576.8 646.3,641.1 646.5,541.9 646.7,619.1 647,666.1 647.2,671.7 647.4,646.1 647.7,543.8 647.9,579.3 648.1,583.2 648.3,616.4 648.6,619.5 648.8,621.1 649,653.1 649.3,645.6 649.5,518.8 649.7,615.7 649.9,624.6 650.2,615.1 650.4,671.8 650.6,621.4 650.8,703.4 651.1,489.5 651.3,534.7 651.5,548.3 651.8,645.3 652,628.2 652.2,666.4 652.4,580.5 652.7,633.1 652.9,654.4 653.1,533.7 653.4,614.7 653.6,576.2 653.8,578.1 654,542.9 654.3,619 654.5,518.3 654.7,544.4 655,655.5 655.2,534.5 655.4,519 655.6,620.2 655.9,539.3 656.1,541.6 656.3,519.2 656.5,632.1 656.8,660.9 657,624.2 657.2,648.5 657.5,628.2 657.7,653.9 657.9,515.6 658.1,625 658.4,613.4 658.6,632.3 658.8,710.3 659.1,612.8 659.3,488.3 659.5,577.8 659.7,540 660,615.3 660.2,579.7 660.4,631.7 660.6,625.1 660.9,596.1 661.1,517.1 661.3,541.5 661.6,539.9 661.8,538.4 662,600 662.2,669.2 662.5,715.3 662.7,705.3 662.9,561.4 663.2,681.5 663.4,541.1 663.6,529.2 663.8,615.6 664.1,661.1 664.3,657.8 664.5,733.6 664.7,713.9 665,626.3 665.2,649.8 665.4,648 665.7,596.9 665.9,643.8 666.1,589.1 666.3,625.5 666.6,515.2 666.8,487.7 667,543 667.3,627.3 667.5,628 667.7,573.3 667.9,685 668.2,701.6 668.4,617 668.6,692.2 668.8,549.5 669.1,517.4 669.3,674.3 669.5,553.1 669.8,627.7 670,541.4 670.2,570.8 670.4,545 670.7,660.5 670.9,540.5 671.1,625.1 671.4,688.9 671.6,625.7 671.8,720.5 672,620.1 672.3,658.1 672.5,621.7 672.7,614.7 673,564.3 673.2,662.8 673.4,634.6 673.6,653.5 673.9,584.2 674.1,733.1 674.3,642 674.5,722.7 674.8,563 675,658.5 675.2,537.3 675.5,620 675.7,652.7 675.9,582.9 676.1,651.9 676.4,517 676.6,624.7 676.8,647.2 677.1,640.7 677.3,616.3 677.5,663.6 677.7,642.8 678,616 678.2,547.6 678.4,640.7 678.6,651.1 678.9,619.7 679.1,608.5 679.3,639.2 679.6,640.5 679.8,633 680,667.4 680.2,565.5 680.5,656.2 680.7,540.1 680.9,542.1 681.2,569.2 681.4,623.3 681.6,581.2 681.8,579.7 682.1,535.6 682.3,516.8 682.5,626.1 682.7,564.2 683,629.3 683.2,617.3 683.4,724.4 683.7,553.2 683.9,539.1 684.1,728.4 684.3,667.8 684.6,516.9 684.8,643 685,616 685.3,650.5 685.5,586.6 685.7,646.8 685.9,721.9 686.2,614.2 686.4,612.8 686.6,539.9 686.9,634.2 687.1,557 687.3,540.6 687.5,580.2 687.8,516.3 688,603.7 688.2,539 688.4,618.9 688.7,661.1 688.9,719.9 689.1,677.9 689.4,617.7 689.6,656.9 689.8,641.8 690,516.7 690.3,630.2 690.5,652.8 690.7,656.7 691,621.5 691.2,622.7 691.4,536.9 691.6,516.1 691.9,517.6 692.1,649.5 692.3,723.8 692.5,617.3 692.8,575.6 693,607.7 693.2,547.2 693.5,704.1 693.7,619.9 693.9,544.8 694.1,518.1 694.4,622.5 694.6,576.2 694.8,636.2 695.1,614.5 695.3,621.9 695.5,518.3 695.7,726.2 696,517 696.2,535.6 696.4,516.3 696.6,643.1 696.9,650.6 697.1,620.9 697.3,537.9 697.6,535.9 697.8,621.7 698,559 698.2,617.6 698.5,649.2 698.7,544.9 698.9,644.2 699.2,623.5 699.4,518 699.6,644 699.8,544 700.1,623 700.3,583.9 700.5,678.4 700.7,534 701,517.3 701.2,518.7 701.4,569.9 701.7,670.2 701.9,705.5 702.1,653.8 702.3,654 702.6,620.4 702.8,656.6 703,588.2 703.3,624 703.5,623.2 703.7,518.5 703.9,647.4 704.2,519.1 704.4,554.8 704.6,649.3 704.9,640.7 705.1,668.7 705.3,636 705.5,639.3 705.8,617.1 706,536.1 706.2,627.1 706.4,529.8 706.7,548 706.9,517.9 707.1,648.3 707.4,621.6 707.6,547.4 707.8,515.4 708,658.1 708.3,649.8 708.5,516.5 708.7,659.7 709,517.9 709.2,669.7 709.4,624.8 709.6,534.8 709.9,517.8 710.1,707.1 710.3,545.8 710.5,518.4 710.8,653.1 711,574.1 711.2,614 711.5,515.4 711.7,544.4 711.9,542.4 712.1,659.3 712.4,660 712.6,537.6 712.8,653.1 713.1,515.3 713.3,620.1 713.5,624 713.7,634.7 714,639.6 714.2,631.6 714.4,543.3 714.6,517.6 714.9,517.5 715.1,620.4 715.3,628.8 715.6,606 715.8,566.9 716,539.8 716.2,518.8 716.5,662.2 716.7,573.7 716.9,652.8 717.2,639.1 717.4,648.2 717.6,552.9 717.8,613.2 718.1,681.6 718.3,531.9 718.5,651.2 718.8,694.5 719,624.8 719.2,614.5 719.4,615.7 719.7,535.2 719.9,581.7 720.1,528.7 720.3,624.2 720.6,625.9 720.8,639.5 721,615.6 721.3,615.4 721.5,637.8 721.7,631.2 721.9,647.8 722.2,666 722.4,500.6 722.6,693.5 722.9,619.5 723.1,648.7 723.3,516.8 723.5,578 723.8,650.3 724,519.3 724.2,616 724.4,520.1 724.7,536.2 724.9,704.4 725.1,625.2 725.4,614.1 725.6,518 725.8,649.7 726,614.2 726.3,561.7 726.5,617.9 726.7,623.5 727,599.7 727.2,516.8 727.4,685.8 727.6,560.8 727.9,546.9 728.1,647.3 728.3,651 728.5,708.2 728.8,668.7 729,517.2 729.2,650.4 729.5,518.1 729.7,535.6 729.9,579.4 730.1,570.1 730.4,619.3 730.6,570.5 730.8,548.3 731.1,583.7 731.3,515.5 731.5,587.3 731.7,648.9 732,622.2 732.2,516.3 732.4,531.8 732.6,576.9 732.9,578.4 733.1,652.9 733.3,631.3 733.6,614.5 733.8,618.8 734,617.2 734.2,577.2 734.5,618.4 734.7,617.6 734.9,656.2 735.2,579.7 735.4,616.9 735.6,662.6 735.8,582.5 736.1,562.6 736.3,543.9 736.5,638.2 736.8,571.4 737,648.6 737.2,614.6 737.4,538.1 737.7,559.5 737.9,573.2 738.1,674.6 738.3,587.1 738.6,618.5 738.8,535.6 739,622 739.3,655.2 739.5,544.6 739.7,516 739.9,545.9 740.2,622.6 740.4,531.9 740.6,517.3 740.9,615.8 741.1,643.2 741.3,535.5 741.5,672.9 741.8,619.8 742,544.4 742.2,579.1 742.4,588.9 742.7,541 742.9,544.5 743.1,591.5 743.4,641.9 743.6,518.3 743.8,647.9 744,616.8 744.3,572.9 744.5,657.5 744.7,576.9 745,545.2 745.2,654.8 745.4,517.8 745.6,649.1 745.9,650.9 746.1,547.7 746.3,613.8 746.5,623.7 746.8,619.2 747,665 747.2,685.8 747.5,619.5 747.7,622.7 747.9,619.5 748.1,625 748.4,639.4 748.6,658.4 748.8,637.2 749.1,622.3 749.3,593.3 749.5,516 749.7,674.5 750,643.6 750.2,621.2 750.4,657.4 750.6,587.7 750.9,618 751.1,714.2 751.3,712.2 751.6,623 751.8,582.5 752,538.6 752.2,633.6 752.5,654.1 752.7,604.4 752.9,535.3 753.2,518.5 753.4,577.4 753.6,641.7 753.8,571.7 754.1,542.7 754.3,560.6 754.5,583.4 754.8,648.5 755,708.9 755.2,541.7 755.4,627.6 755.7,532.2 755.9,645.9 756.1,640 756.3,647.8 756.6,536.7 756.8,625.7 757,661.5 757.3,571.4 757.5,657.4 757.7,542.5 757.9,634.5 758.2,676.1 758.4,613.8 758.6,666.8 758.9,578.1 759.1,499 759.3,620.7 759.5,671.9 759.8,576.6 760,705.5 760.2,552.8 760.4,654.5 760.7,533.1 760.9,642.7 761.1,649.9 761.4,535.3 761.6,617.8 761.8,633.9 762,566.9 762.3,621 762.5,660.5 762.7,572.5 763,517.7 763.2,664.2 763.4,620.1 763.6,575.5 763.9,705.6 764.1,574.9 764.3,574.6 764.5,624.8 764.8,516.9 765,518.3 765.2,654.7 765.5,638.1 765.7,574.7 765.9,615.4 766.1,628.7 766.4,548.9 766.6,548.1 766.8,573 767.1,534.8 767.3,617.7 767.5,519.4 767.7,529.1 768,611.8 768.2,536.1 768.4,619.9 768.7,614 768.9,647.1 769.1,621.4 769.3,719.6 769.6,528.9 769.8,629.6 770,619.7 770.2,669.2 770.5,532.2 770.7,612.9 770.9,574.6 771.2,566.1 771.4,648.8 771.6,461.6 771.8,649.3 772.1,579.4 772.3,648 772.5,538.1 772.8,528.4 773,518.5 773.2,615.5 773.4,617.2 773.7,529.2 773.9,619.4 774.1,719.6 774.3,619.8 774.6,564.8 774.8,551.1 775,515.9 775.3,567.9 775.5,647.7 775.7,579.9 775.9,613.3 776.2,719.8 776.4,581.3 776.6,546.1 776.9,596.1 777.1,558.4 777.3,549.3 777.5,647.7 777.8,655.9 778,582.2 778.2,545.8 778.4,684.1 778.7,707.4 778.9,590.9 779.1,722 779.4,570.4 779.6,623.9 779.8,579.3 780,679.5 780.3,621.9 780.5,556.3 780.7,596.9 781,675.1 781.2,615.7 781.4,584.2 781.6,668.9 781.9,539.1 782.1,712.3 782.3,591.8 782.5,581.8 782.8,629.7 783,538.7 783.2,638.7 783.5,608.6 783.7,488.3 783.9,645.3 784.1,647.5 784.4,618.2 784.6,691.1 784.8,537 785.1,651.4 785.3,660.3 785.5,616.1 785.7,668.4 786,545.3 786.2,539.3 786.4,616.5 786.7,515.8 786.9,579.1 787.1,658.9 787.3,623.5 787.6,545.9 787.8,642.1 788,624.3 788.2,671 788.5,616.7 788.7,619.8 788.9,624.5 789.2,587.5 789.4,540.2 789.6,619.4 789.8,617.4 790.1,614.4 790.3,636.4 790.5,518.8 790.8,554.3 791,569.1 791.2,536 791.4,497.3 791.7,700.4 791.9,704.1 792.1,572.5 792.3,543.9 792.6,569.4 792.8,710.4 793,532.7 793.3,652.7 793.5,542.4 793.7,617.4 793.9,518.5 794.2,520.6 794.4,559.7 794.6,649.5 794.9,574.1 795.1,487.9 795.3,530.8 795.5,617.1 795.8,577.8 796,648.8 796.2,671.3 796.4,616.7 796.7,518 796.9,622.3 797.1,712.1 797.4,618.7 797.6,578 797.8,631.9 798,646.4 798.3,542.5 798.5,689.1 798.7,600.3 799,667.4 799.2,618.6 799.4,635 799.6,699 799.9,516.8 800.1,668 800.3,621.1 800.6,647 800.8,669 801,653.1 801.2,575.8 801.5,516.3 801.7,553.3 801.9,542.3 802.1,714 802.4,538.6 802.6,534.8 802.8,639.8 803.1,517.1 803.3,612.6 803.5,535.1 803.7,576.1 804,516.8 804.2,601.9 804.4,578.6 804.7,546 804.9,650.5 805.1,563.3 805.3,678.4 805.6,608.9 805.8,648.9 806,534.7 806.2,648.8 806.5,619.7 806.7,547.8 806.9,621.6 807.2,702.3 807.4,667.3 807.6,517.5 807.8,640.4 808.1,684.6 808.3,580.3 808.5,618.5 808.8,687.2 809,668.2 809.2,676.7 809.4,623.3 809.7,611.4 809.9,572 810.1,617.3 810.3,647 810.6,639.3 810.8,539.7 811,572.6 811.3,516.6 811.5,515.9 811.7,570.2 811.9,578.8 812.2,629.5 812.4,515.3 812.6,618 812.9,626 813.1,668.9 813.3,617.4 813.5,517.8 813.8,615.7 814,550.5 814.2,620.3 814.5,653.6 814.7,518.3 814.9,619.9 815.1,618.5 815.4,656 815.6,604.4 815.8,547.7 816,615.9 816.3,669.4 816.5,620.1 816.7,528.1 817,533.7 817.2,643.5 817.4,618.9 817.6,612.7 817.9,533 818.1,625.8 818.3,547.7 818.6,616.2 818.8,518 819,652.7 819.2,628.8 819.5,530.2 819.7,517.2 819.9,617.8 820.1,541.9 820.4,613.4 820.6,517.1 820.8,618.8 821.1,545.2 821.3,536.4 821.5,618.2 821.7,527.7 822,649.3 822.2,619.8 822.4,618.7 822.7,649.5 822.9,605.2 823.1,542.9 823.3,620.9 823.6,592.3 823.8,541 824,580.8 824.2,614.3 824.5,652.5 824.7,516.9 824.9,719.2 825.2,663.1 825.4,517.8 825.6,516.1 825.8,706.9 826.1,516.6 826.3,682.9 826.5,666.8 826.8,620.5 827,608.2 827.2,651.1 827.4,519.5 827.7,686.8 827.9,615.5 828.1,583.3 828.3,531.3 828.6,531.8 828.8,584.4 829,651.7 829.3,571.8 829.5,622.4 829.7,544.8 829.9,629.4 830.2,573.9 830.4,584.2 830.6,534.8 830.9,653.2 831.1,544.8 831.3,642.1 831.5,576.7 831.8,643 832,652.1 832.2,695 832.5,552.8 832.7,589.7 832.9,541.7 833.1,690.3 833.4,515.7 833.6,648.7 833.8,624.1 834,605.4 834.3,650.8 834.5,627.9 834.7,618.4 835,655.5 835.2,575.7 835.4,698.7 835.6,643.1 835.9,629.7 836.1,515.7 836.3,555.1 836.6,622.3 836.8,545.5 837,539.7 837.2,531.5 837.5,620.1 837.7,632 837.9,717.7 838.1,661.1 838.4,621.2 838.6,540.1 838.8,582.5 839.1,655.5 839.3,646.9 839.5,669 839.7,615.9 840,653.1 840.2,638 840.4,618.6 840.7,668 840.9,654.5 841.1,553.5 841.3,628.1 841.6,630.9 841.8,685.5 842,640.4 842.2,539.1 842.5,618.6 842.7,537.2 842.9,575.2 843.2,518.9 843.4,655 843.6,614 843.8,702.2 844.1,577.3 844.3,549.4 844.5,665.6 844.8,538 845,684.1 845.2,624.9 845.4,628.9 845.7,607.8 845.9,487.9 846.1,520 846.4,618.5 846.6,621.1 846.8,649 847,491.2 847.3,545.6 847.5,661.2 847.7,533.8 847.9,545.5 848.2,534.9 848.4,650 848.6,553.7 848.9,667.8 849.1,579.2 849.3,623.7 849.5,549.4 849.8,621.1 850,579.9 850.2,536.6 850.5,619.1 850.7,694.5 850.9,655.1 851.1,539.6 851.4,639.6 851.6,634.8 851.8,646.1 852,538.1 852.3,703.2 852.5,548.3 852.7,644.9 853,519.5 853.2,618.5 853.4,642.9 853.6,519.5 853.9,520.2 854.1,601.1 854.3,697 854.6,662.3 854.8,695 855,606.2 855.2,685.3 855.5,703.1 855.7,533.1 855.9,616 856.1,654.7 856.4,634.3 856.6,606.4 856.8,665.7 857.1,616.6 857.3,664.8 857.5,637.2 857.7,656.6 858,654.6 858.2,650.6 858.4,530.1 858.7,600.2 858.9,658.2 859.1,654.3 859.3,561.7 859.6,517.7 859.8,516.8 860,614.8 860.2,651.7 860.5,461.6 860.7,492.4 860.9,646 861.2,633.8 861.4,645.7 861.6,615.1 861.8,569 862.1,624.7 862.3,642.9 862.5,653.5 862.8,529.2 863,583.1 863.2,678.9 863.4,538.6 863.7,664.8 863.9,640.8 864.1,538.6 864.4,571.7 864.6,573.6 864.8,622.3 865,542.5 865.3,646.7 865.5,516.6 865.7,543.3 865.9,613.8 866.2,687.7 866.4,659 866.6,595 866.9,539.8 867.1,545.7 867.3,626.2 867.5,565.8 867.8,615.5 868,597.8 868.2,615.7 868.5,643.2 868.7,575.9 868.9,627 869.1,535.7 869.4,548 869.6,648.1 869.8,536.8 870,682.8 870.3,625.3 870.5,515.6 870.7,622.4 871,538.1 871.2,634.7 871.4,626.1 871.6,677.1 871.9,516.1 872.1,666.5 872.3,618 872.6,534.3 872.8,616.1 873,577.8 873.2,587.4 873.5,517.5 873.7,488.3 873.9,644.7 874.1,576 874.4,622.2 874.6,619.3 874.8,676.3 875.1,705 875.3,516.3 875.5,588 875.7,614 876,642.5 876.2,643 876.4,710.4 876.7,694.6 876.9,535.7 877.1,568.8 877.3,536.4 877.6,564.5 877.8,615.6 878,645.7 878.2,574.2 878.5,651.8 878.7,540.1 878.9,544.9 879.2,665.2 879.4,615.9 879.6,534.4 879.8,660.4 880.1,488.3 880.3,636 880.5,631.2 880.8,654.9 881,534 881.2,600.4 881.4,623.7 881.7,645.4 881.9,549.5 882.1,638.2 882.4,572 882.6,631.2 882.8,517.7 883,625.4 883.3,652.7 883.5,567.7 883.7,574.7 883.9,615.2 884.2,533.3 884.4,574 884.6,616.6 884.9,588.7 885.1,539.1 885.3,549.1 885.5,650.8 885.8,634.1 886,585.7 886.2,646 886.5,532.2 886.7,598 886.9,516.1 887.1,575.7 887.4,658.2 887.6,690.2 887.8,580.9 888,585.5 888.3,516 888.5,603.8 888.7,648.2 889,550.7 889.2,538.5 889.4,650.6 889.6,531.2 889.9,619.8 890.1,545.5 890.3,579 890.6,516.8 890.8,566.6 891,539.8 891.2,689.2 891.5,572.3 891.7,577.7 891.9,579.1 892.1,635 892.4,664.3 892.6,660.6 892.8,670.6 893.1,619 893.3,664.7 893.5,570 893.7,645.2 894,636.7 894.2,701.6 894.4,642.5 894.7,644.9 894.9,532.1 895.1,614.4 895.3,594.7 895.6,546.2 895.8,680.8 896,664.4 896.3,648.7 896.5,518.4 896.7,653.4 896.9,711.1 897.2,531.5 897.4,654.6 897.6,629.7 897.8,537.4 898.1,621.8 898.3,637.8 898.5,643.6 898.8,653.7 899,588.8 899.2,533.1 899.4,620.5 899.7,658.7 899.9,622.5 900.1,620.6 900.4,568.9 900.6,721.2 900.8,515.3 901,534.8 901.3,617.8 901.5,657.9 901.7,630.6 901.9,649.3 902.2,537.3 902.4,592.4 902.6,623.4 902.9,640.6 903.1,573.2 903.3,682 903.5,530.7 903.8,567.8 904,685.5 904.2,618.1 904.5,561.7 904.7,727.7 904.9,657.7 905.1,710.1 905.4,659.4 905.6,651 905.8,681.2 906,584.2 906.3,541.1 906.5,546.8 906.7,697.7 907,617.5 907.2,543.9 907.4,731.4 907.6,545.6 907.9,703.7 908.1,638.6 908.3,645.5 908.6,530.9 908.8,618.2 909,722.8 909.2,607.6 909.5,533.8 909.7,651.6 909.9,581.2 910.1,620 910.4,621 910.6,709.4 910.8,709.4 911.1,572.8 911.3,616.8 911.5,621.8 911.7,651.8 912,619.2 912.2,542.8 912.4,519.3 912.7,635.9 912.9,652.1 913.1,646 913.3,652.8 913.6,620.6 913.8,651.4 914,536.8 914.3,696.2 914.5,650 914.7,572.9 914.9,652.1 915.2,515.7 915.4,616.9 915.6,517.1 915.8,656.9 916.1,708 916.3,621 916.5,578.7 916.8,521.3 917,516.3 917.2,575.2 917.4,619.1 917.7,520 917.9,704 918.1,666 918.4,535.9 918.6,702.2 918.8,637.7 919,534.7 919.3,592 919.5,644 919.7,638.6 919.9,633 920.2,637.5 920.4,570.9 920.6,668.8 920.9,621 921.1,622 921.3,616.9 921.5,630.3 921.8,648.7 922,518.2 922.2,641.3 922.5,535.1 922.7,648.5 922.9,643.6 923.1,528.3 923.4,656.8 923.6,645.5 923.8,537.5 924,536.5 924.3,538 924.5,671.6 924.7,535 925,503.9 925.2,534.8 925.4,654.1 925.6,654.9 925.9,691.2 926.1,674.1 926.3,664.3 926.6,548.9 926.8,540.1 927,658.3 927.2,615.2 927.5,664.4 927.7,648.8 927.9,574.9 928.2,692.9 928.4,651.2 928.6,534.1 928.8,667.3 929.1,572.2 929.3,613.3 929.5,641.2 929.7,645.6 930,624.7 930.2,541.8 930.4,617.1 930.7,615.8 930.9,546.5 931.1,650.3 931.3,529.5 931.6,628.8 931.8,674.9 932,645.6 932.3,541.5 932.5,577.9 932.7,580.4 932.9,518.6 933.2,620.6 933.4,520.3 933.6,619.1 933.8,653.9 934.1,632.4 934.3,534.9 934.5,574.1 934.8,519.2 935,533 935.2,630.2 935.4,665.4 935.7,606.8 935.9,616.6 936.1,653 936.4,653.4 936.6,561.3 936.8,546.4 937,549 937.3,644.7 937.5,660.3 937.7,588.5 937.9,549.8 938.2,618.2 938.4,552.9 938.6,626.8 938.9,707.3 939.1,652.3 939.3,516.5 939.5,677.5 939.8,557.4 940,652.3 940.2,516.5 940.5,620.7 940.7,518.4 940.9,571.5 941.1,562.9 941.4,516.8 941.6,734.9 941.8,656.1 942,615.6 942.3,724.4 942.5,665.2 942.7,551.8 943,615.5 943.2,575.9 943.4,651.6 943.6,651 943.9,494.4 944.1,575 944.3,622.4 944.6,691.8 944.8,617.9 945,558.7 945.2,645 945.5,663.9 945.7,621.3 945.9,616 946.2,658 946.4,626.4 946.6,581.7 946.8,547.4 947.1,616.9 947.3,566.8 947.5,538.5 947.7,613.1 948,528.8 948.2,569.4 948.4,614.8 948.7,546.5 948.9,616.7 949.1,653.5 949.3,706.9 949.6,655.9 949.8,516.7 950,538.2 950.3,519.7 950.5,671.2 950.7,529 950.9,651.9 951.2,518.4 951.4,618.9 951.6,608.2 951.8,588.1 952.1,655.3 952.3,625.2 952.5,534.8 952.8,488.3 953,538.5 953.2,595.6 953.4,662 953.7,644.3 953.9,546.8 954.1,705.6 954.4,565.9 954.6,618.7 954.8,563.1 955,646.7 955.3,616.8 955.5,627.9 955.7,650.5 955.9,518.3 956.2,691.4 956.4,532.4 956.6,575.2 956.9,627.1 957.1,631.1 957.3,592 957.5,530.9 957.8,686.8 958,595.2 958.2,589.9 958.5,688.2 958.7,533.1 958.9,543 959.1,564.9 959.4,576.7 959.6,587.3 959.8,574.9 960.1,548.5 960.3,518.6 960.5,519.8 960.7,535.5 961,517.8 961.2,648.7 961.4,563.5 961.6,543.4 961.9,621.2 962.1,568.7 962.3,618.3 962.6,624.8 962.8,539.8 963,568.7 963.2,654.4 963.5,694.5 963.7,653.3 963.9,582.1 964.2,627.7 964.4,557.6 964.6,531.5 964.8,528.9 965.1,529.8 965.3,517.1 965.5,572 965.7,517.2 966,544.7 966.2,585 966.4,518.9 966.7,620 966.9,545.2 967.1,704.9 967.3,541 967.6,649.4 967.8,518 968,577.3 968.3,613 968.5,649.3 968.7,644.7 968.9,650.4 969.2,529.2 969.4,531 969.6,565.5 969.8,572.3 970.1,569.5 970.3,662 970.5,581.2 970.8,655.7 971,490.1 971.2,619.9 971.4,630.5 971.7,613.3 971.9,654.1 972.1,573.6 972.4,560.3 972.6,541.6 972.8,619.4 973,668.1 973.3,665 973.5,614.6 973.7,661 974,535.8 974.2,662.1 974.4,538.4 974.6,536 974.9,700.4 975.1,533.5 975.3,626.1 975.5,631.3 975.8,608.1 976,644 976.2,724.1 976.5,623 976.7,725.9 976.9,725.4 977.1,516.8 977.4,624.7 977.6,616.2 977.8,660.1 978.1,645.4 978.3,618 978.5,616 978.7,545.6 979,615.7 979.2,538.5 979.4,530.7 979.6,619.6 979.9,515.6 980.1,621.2 980.3,574.1 980.6,518.4 980.8,657.4 981,579.6 981.2,619.7 981.5,640.9 981.7,534.3 981.9,518 982.2,637.1 982.4,532.4 982.6,541.3 982.8,618.1 983.1,645.7 983.3,662.7 983.5,649.6 983.7,634.4 984,539.4 984.2,517.3 984.4,634.7 984.7,614.4 984.9,720 985.1,570.4 985.3,580.8 985.6,621.3 985.8,665.8 986,518 986.3,568.8 986.5,646.5 986.7,644.7 986.9,622.8 987.2,619.4 987.4,519.7 987.6,726.8 987.8,615.6 988.1,555.6 988.3,621.3 988.5,620.8 988.8,615.6 989,642.4 989.2,625.4 989.4,516.8 989.7,649.2 989.9,685.4 990.1,538.2 990.4,654.3 990.6,643.7 990.8,652.3 991,622.7 991.3,541.7 991.5,654 991.7,618.3 992,620.1 992.2,563.3 992.4,535.5 992.6,651.9 992.9,564 993.1,619.9 993.3,538.5 993.5,653.8 993.8,655.5 994,652 994.2,536.3 994.5,535.4 994.7,628.4 994.9,612.2 995.1,518.9 995.4,528.5 995.6,646 995.8,654.7 996.1,539 996.3,532.8 996.5,650 996.7,632.5 997,650.2 997.2,543 997.4,617 997.6,603.8 997.9,615.7 998.1,620.5 998.3,516.1 998.6,539.5 998.8,535.8 999,559.8 999.2,613.6 999.5,515.9 999.7,665.6 999.9,635.4 1000.2,619.5 1000.4,690.2 1000.6,697.5 1000.8,623.7 1001.1,630.8 1001.3,689 1001.5,635.5 1001.7,651 1002,519.1 1002.2,495.7 1002.4,652 1002.7,617.8 1002.9,655.1 1003.1,632.3 1003.3,653.7 1003.6,517 1003.8,654.7 1004,602.7 1004.3,537.1 1004.5,623.4 1004.7,584.2 1004.9,619.8 1005.2,667.9 1005.4,624.3 1005.6,530.6 1005.9,617.4 1006.1,630.5 1006.3,623.5 1006.5,661.2 1006.8,646.1 1007,546.7 1007.2,607.4 1007.4,626.9 1007.7,529.2 1007.9,667.9 1008.1,702.7 1008.4,617.1 1008.6,651.9 1008.8,689.8 1009,656.7 1009.3,694.2 1009.5,550.9 1009.7,544.5 1010,576.5 1010.2,656.4 1010.4,540.2 1010.6,658.1 1010.9,681.5 1011.1,642.4 1011.3,646.3 1011.5,632.9 1011.8,627.2 1012,578 1012.2,542.3 1012.5,668.5 1012.7,529.4 1012.9,618.7 1013.1,532.3 1013.4,536 1013.6,515.8 1013.8,616 1014.1,648.9 1014.3,618 1014.5,520 1014.7,534 1015,538.8 1015.2,541.5 1015.4,620.1 1015.6,654.3 1015.9,687.4 1016.1,638 1016.3,712.6 1016.6,633.4 1016.8,517.1 1017,648 1017.2,578.5 1017.5,619.6 1017.7,652.9 1017.9,536.6 1018.2,537.1 1018.4,537.3 1018.6,710.4 1018.8,666.4 1019.1,620.3 1019.3,707.3 1019.5,534.2" fill="none" stroke="#ee363b" stroke-width="3.9" stroke-linejoin="round" marker-start="url(#mr)" marker-mid="url(#mr)" marker-end="url(#mr)"/>
<use href="#lay"/>
<use href="#yl" y="-0.7"/><use href="#xl" y="-1.2"/>
</g>
<text font-family="Liberation Sans, sans-serif" font-weight="bold" font-size="48.5" x="22.3" y="1016.8">C</text>
<text font-family="Liberation Serif, serif" font-size="100" transform="translate(540.2 1968.2) scale(0.564 0.578)">GA-BPNN</text>
<g transform="matrix(1.02675 0 0 1.03191 1297.607 953.853)">
<polyline points="206.3,646.1 206.5,534.3 206.8,651.6 207,553.9 207.2,556.1 207.4,610.1 207.7,578.6 207.9,675 208.1,651.1 208.3,659.3 208.6,704.8 208.8,651.5 209,620.4 209.3,562.9 209.5,529.2 209.7,690.7 209.9,612.9 210.2,513.7 210.4,608.6 210.6,546.6 210.9,668 211.1,546.7 211.3,665.2 211.5,642.5 211.8,552.9 212,649.6 212.2,635.6 212.5,534.7 212.7,625.1 212.9,527.7 213.1,544.2 213.4,544.5 213.6,563.7 213.8,696.3 214,641.1 214.3,706.3 214.5,632.8 214.7,569.8 215,656.7 215.2,541.8 215.4,655.6 215.6,525.4 215.9,656.6 216.1,615 216.3,613.6 216.6,645.9 216.8,657 217,688.5 217.2,633 217.5,549.3 217.7,278.1 217.9,616.7 218.1,539.5 218.4,554.5 218.6,710.5 218.8,561.4 219.1,649.5 219.3,528.5 219.5,555.8 219.7,561.4 220,553.8 220.2,622.7 220.4,537.4 220.7,639.2 220.9,561.1 221.1,649.4 221.3,558.9 221.6,691 221.8,649.6 222,553.2 222.2,611.1 222.5,618.2 222.7,553.6 222.9,539.7 223.2,650.5 223.4,615.4 223.6,674.8 223.8,655.7 224.1,613.3 224.3,655.4 224.5,647 224.8,560.8 225,623.2 225.2,628.7 225.4,558.7 225.7,557.6 225.9,535.6 226.1,626.4 226.4,505.5 226.6,627.3 226.8,649.1 227,622.9 227.3,567.2 227.5,686.2 227.7,561.5 227.9,649.2 228.2,561.4 228.4,673.7 228.6,651.4 228.9,643.2 229.1,543 229.3,552.6 229.5,608.3 229.8,532.8 230,565.3 230.2,550.1 230.5,612.1 230.7,662 230.9,534.3 231.1,528.5 231.4,543.4 231.6,508.4 231.8,542.4 232,647.8 232.3,627.8 232.5,664.7 232.7,534.3 233,636.3 233.2,685.7 233.4,542.4 233.6,649 233.9,526.7 234.1,671.3 234.3,632 234.6,538 234.8,548.2 235,626.5 235.2,547.8 235.5,658.3 235.7,540.1 235.9,704.4 236.1,674.6 236.4,638 236.6,659.4 236.8,546.9 237.1,677.5 237.3,642.3 237.5,685.1 237.7,551.1 238,646.6 238.2,661.9 238.4,633 238.7,630.9 238.9,539.1 239.1,645 239.3,625.8 239.6,708.5 239.8,654.7 240,547.5 240.2,633.2 240.5,541.1 240.7,614.8 240.9,641.4 241.2,634.6 241.4,674.9 241.6,626.2 241.8,565.3 242.1,637.5 242.3,655.7 242.5,587.4 242.8,648.5 243,664.3 243.2,536.2 243.4,628.6 243.7,632 243.9,670.4 244.1,695.6 244.4,708.8 244.6,549.3 244.8,654.8 245,669.1 245.3,669 245.5,667.2 245.7,656.3 245.9,672.1 246.2,534.8 246.4,704.9 246.6,669.8 246.9,539.9 247.1,628.2 247.3,612 247.5,546.5 247.8,663.7 248,538.9 248.2,545.1 248.5,653.6 248.7,713.1 248.9,659.2 249.1,552.3 249.4,543.2 249.6,545.7 249.8,538.9 250,708.9 250.3,556.3 250.5,649.4 250.7,665.5 251,609.8 251.2,643.1 251.4,548.8 251.6,656.1 251.9,541.2 252.1,557.5 252.3,543.9 252.6,493.2 252.8,540.1 253,664.5 253.2,655 253.5,615.3 253.7,647.5 253.9,537 254.1,536.6 254.4,530.6 254.6,543.6 254.8,559.4 255.1,657.9 255.3,656.7 255.5,673 255.7,571.3 256,668.7 256.2,641.6 256.4,664.4 256.7,640.9 256.9,673 257.1,553.8 257.3,669.4 257.6,642.9 257.8,644.6 258,649.9 258.3,536.6 258.5,629.5 258.7,636.8 258.9,712.6 259.2,553.1 259.4,638.9 259.6,560.7 259.8,656.9 260.1,603 260.3,635.9 260.5,689.1 260.8,549.8 261,607.9 261.2,654.2 261.4,636.8 261.7,552.2 261.9,531.9 262.1,548.6 262.4,668.4 262.6,525.5 262.8,653.3 263,683.4 263.3,622.4 263.5,602.9 263.7,673.5 263.9,648 264.2,558 264.4,635.6 264.6,633.5 264.9,619.5 265.1,713.3 265.3,642.4 265.5,543.3 265.8,658.5 266,663.6 266.2,662.6 266.5,612.4 266.7,677.7 266.9,547.7 267.1,661 267.4,555.3 267.6,544.9 267.8,638.6 268,548.9 268.3,600.5 268.5,710.4 268.7,629.5 269,629 269.2,552.1 269.4,664.5 269.6,684 269.9,612.7 270.1,630 270.3,546 270.6,534.5 270.8,538.4 271,645 271.2,545.5 271.5,582.1 271.7,552 271.9,644.7 272.1,647.1 272.4,539.4 272.6,550.3 272.8,611.9 273.1,608.8 273.3,648.2 273.5,640.6 273.7,535.3 274,632.3 274.2,280 274.4,560.7 274.7,659.4 274.9,619.7 275.1,646.7 275.3,713.2 275.6,627.7 275.8,645.7 276,633 276.3,481.3 276.5,538 276.7,560.5 276.9,620.7 277.2,630.6 277.4,507.4 277.6,655.5 277.8,662.8 278.1,552.4 278.3,533.1 278.5,644.7 278.8,679.7 279,536.8 279.2,557.4 279.4,614.3 279.7,678.8 279.9,710.2 280.1,527.9 280.4,547.4 280.6,559.6 280.8,643.3 281,665.5 281.3,564.2 281.5,526.6 281.7,538.5 281.9,553.1 282.2,612.5 282.4,536.6 282.6,656.6 282.9,548.3 283.1,560.7 283.3,534.3 283.5,644 283.8,664.5 284,607.3 284.2,536.8 284.5,637.3 284.7,570.1 284.9,714.2 285.1,646.7 285.4,616.9 285.6,670 285.8,660 286,669.4 286.3,606.9 286.5,543 286.7,645.9 287,682.8 287.2,546 287.4,542.3 287.6,660.3 287.9,626.7 288.1,709 288.3,540.9 288.6,610.5 288.8,579.7 289,646.8 289.2,704.5 289.5,564 289.7,629 289.9,546 290.2,640.6 290.4,552.6 290.6,590.6 290.8,549.2 291.1,658.8 291.3,622.7 291.5,691.5 291.7,537.6 292,675.4 292.2,515.3 292.4,665.7 292.7,500.8 292.9,629.5 293.1,665.1 293.3,630.2 293.6,662.8 293.8,612.4 294,624.6 294.3,544.5 294.5,644.8 294.7,468.4 294.9,559.2 295.2,704.2 295.4,645.4 295.6,528 295.8,554.8 296.1,659 296.3,655.3 296.5,539.6 296.8,634.7 297,554.3 297.2,622.2 297.4,545.3 297.7,660.6 297.9,552 298.1,550.6 298.4,629.6 298.6,654.9 298.8,536.6 299,635.5 299.3,535.5 299.5,550.6 299.7,641.3 299.9,656.2 300.2,543.1 300.4,681.9 300.6,549.2 300.9,548 301.1,555 301.3,633.9 301.5,552.4 301.8,648 302,631.2 302.2,671.1 302.5,541.6 302.7,659.6 302.9,643.6 303.1,623.5 303.4,709.1 303.6,670.1 303.8,657 304.1,638.8 304.3,616.8 304.5,670.5 304.7,625.3 305,678.1 305.2,676.4 305.4,649.2 305.6,669.4 305.9,631.8 306.1,643.5 306.3,710.9 306.6,673.2 306.8,654.9 307,548.5 307.2,505.1 307.5,652.3 307.7,554.1 307.9,537.8 308.2,554.7 308.4,705.7 308.6,673.6 308.8,664.7 309.1,679.3 309.3,532.5 309.5,614.7 309.7,626 310,654.5 310.2,654.1 310.4,626.1 310.7,650.4 310.9,714.2 311.1,554.9 311.3,659.2 311.6,528.9 311.8,618.9 312,655.3 312.3,638.4 312.5,628.2 312.7,661.2 312.9,530.8 313.2,543.6 313.4,690.2 313.6,536.3 313.8,617.9 314.1,652.6 314.3,559 314.5,650.9 314.8,540.3 315,674.9 315.2,659.9 315.4,537.4 315.7,689.1 315.9,655.8 316.1,637 316.4,493.2 316.6,547.3 316.8,545.1 317,618.6 317.3,558.4 317.5,560.1 317.7,580.3 317.9,535.1 318.2,565.7 318.4,552.2 318.6,645.2 318.9,703.1 319.1,554.7 319.3,691.1 319.5,656.6 319.8,646.5 320,646.1 320.2,667.6 320.5,666.2 320.7,537 320.9,623.7 321.1,641.5 321.4,656.5 321.6,557.2 321.8,637.9 322.1,669.4 322.3,682.5 322.5,653.7 322.7,632.7 323,646.9 323.2,642.8 323.4,647.6 323.6,558.3 323.9,630.1 324.1,654.3 324.3,538.3 324.6,553.7 324.8,525 325,628.7 325.2,639.5 325.5,654.9 325.7,554 325.9,705.4 326.2,632.6 326.4,648 326.6,650.2 326.8,615 327.1,646.6 327.3,633.4 327.5,532.4 327.7,667.3 328,655.4 328.2,562.3 328.4,549.4 328.7,603.8 328.9,546 329.1,551 329.3,652.7 329.6,656.7 329.8,646 330,528.4 330.3,543.9 330.5,557.9 330.7,542.9 330.9,657.6 331.2,616.8 331.4,664.2 331.6,644.1 331.8,614.8 332.1,644 332.3,556.8 332.5,639.9 332.8,607.5 333,638.8 333.2,702 333.4,669.8 333.7,666.7 333.9,683.7 334.1,539.2 334.4,563.7 334.6,543.2 334.8,553.3 335,548.3 335.3,515.3 335.5,658.5 335.7,603.6 335.9,669.2 336.2,643.3 336.4,704.8 336.6,545.2 336.9,615.5 337.1,663.2 337.3,676.7 337.5,681.3 337.8,642.7 338,636 338.2,595.1 338.5,545.7 338.7,623.8 338.9,560.7 339.1,711.8 339.4,701.1 339.6,647 339.8,609.1 340.1,608.1 340.3,671 340.5,679.5 340.7,539.5 341,543.6 341.2,548.1 341.4,714.8 341.6,651.1 341.9,627.1 342.1,534.2 342.3,541.8 342.6,641.2 342.8,644.4 343,638.7 343.2,540.6 343.5,512.6 343.7,552.9 343.9,542.4 344.2,576.3 344.4,703.1 344.6,544.4 344.8,653.3 345.1,645.6 345.3,656.2 345.5,677.8 345.7,650.7 346,665.6 346.2,544 346.4,562.2 346.7,494.3 346.9,537.5 347.1,644.5 347.3,632.5 347.6,656.6 347.8,651.1 348,707.5 348.3,706.2 348.5,531.6 348.7,611.8 348.9,623.2 349.2,649.5 349.4,617.7 349.6,627 349.8,531.5 350.1,631.7 350.3,546.2 350.5,642.7 350.8,625.2 351,572.8 351.2,642.6 351.4,686.6 351.7,653.7 351.9,534.4 352.1,562 352.4,671.2 352.6,567 352.8,536 353,546.9 353.3,608.7 353.5,573.3 353.7,530.1 354,541 354.2,702 354.4,624.8 354.6,643.9 354.9,640.1 355.1,657.5 355.3,643.9 355.5,615.4 355.8,555.9 356,682.8 356.2,634.1 356.5,627.7 356.7,644.9 356.9,553.5 357.1,676.9 357.4,635.8 357.6,709.5 357.8,535.1 358.1,640 358.3,627.2 358.5,665.9 358.7,637.1 359,660.6 359.2,630.2 359.4,438.2 359.6,620.3 359.9,644.8 360.1,538.3 360.3,641.5 360.6,549.7 360.8,618.8 361,658 361.2,534.4 361.5,639.4 361.7,559.9 361.9,529 362.2,539.7 362.4,509.8 362.6,660.9 362.8,645.2 363.1,606.7 363.3,671.5 363.5,559.4 363.7,622.8 364,661.7 364.2,545.8 364.4,672 364.7,568.5 364.9,561.5 365.1,487.8 365.3,649.3 365.6,697.7 365.8,649.1 366,629.9 366.3,702.7 366.5,537.9 366.7,652.7 366.9,632.6 367.2,547.8 367.4,549.8 367.6,554.7 367.9,697.1 368.1,534 368.3,667.8 368.5,632 368.8,684.3 369,645.3 369.2,536.3 369.4,703.3 369.7,644.5 369.9,620 370.1,657.2 370.4,543.2 370.6,643.7 370.8,559.1 371,538.9 371.3,557 371.5,635.8 371.7,590.6 372,643.1 372.2,615.6 372.4,536.8 372.6,533.6 372.9,712.9 373.1,655.2 373.3,620 373.5,609.2 373.8,544.5 374,523 374.2,715.3 374.5,554.5 374.7,536.8 374.9,548.8 375.1,554.9 375.4,685.4 375.6,530.6 375.8,536 376.1,698.1 376.3,653 376.5,611.9 376.7,671.5 377,657.4 377.2,630.5 377.4,712 377.6,532.4 377.9,647.2 378.1,554.2 378.3,538.5 378.6,562.6 378.8,662.3 379,654.9 379.2,534.6 379.5,661.6 379.7,653.1 379.9,635.4 380.2,546.1 380.4,560.6 380.6,637.9 380.8,630.8 381.1,625.7 381.3,580.9 381.5,654.2 381.7,531.9 382,537.8 382.2,545.7 382.4,559.9 382.7,669.7 382.9,556.2 383.1,508.4 383.3,644.1 383.6,532.3 383.8,555.4 384,553.8 384.3,556.6 384.5,546.2 384.7,634.7 384.9,656.9 385.2,642.6 385.4,537.1 385.6,662.6 385.9,507.2 386.1,554 386.3,548.1 386.5,662.7 386.8,544.1 387,536.7 387.2,557.6 387.4,550.9 387.7,544.2 387.9,639.3 388.1,672.1 388.4,658.4 388.6,544.2 388.8,646.6 389,548.8 389.3,659.4 389.5,547.1 389.7,658.2 390,618.8 390.2,623.3 390.4,708.8 390.6,540.8 390.9,557.6 391.1,669 391.3,660.7 391.5,657.4 391.8,587.1 392,605.5 392.2,546.3 392.5,645.7 392.7,552.1 392.9,646.3 393.1,665.7 393.4,708.9 393.6,672.4 393.8,679.9 394.1,638.2 394.3,530.3 394.5,663.5 394.7,637.6 395,652.7 395.2,645.9 395.4,649.5 395.6,646.8 395.9,539.5 396.1,693.3 396.3,542.6 396.6,624.9 396.8,699 397,664.4 397.2,550.5 397.5,556.9 397.7,623.6 397.9,535.6 398.2,627.6 398.4,607.2 398.6,667.9 398.8,624.8 399.1,663.6 399.3,623.5 399.5,547.3 399.8,552.5 400,655.8 400.2,545.5 400.4,606.1 400.7,671.6 400.9,687.4 401.1,553.1 401.3,547.6 401.6,527.6 401.8,671.1 402,526.9 402.3,603.4 402.5,547.9 402.7,542.5 402.9,680.9 403.2,458.7 403.4,605.5 403.6,651.7 403.9,658.2 404.1,641.4 404.3,666.4 404.5,665.8 404.8,649.3 405,672.1 405.2,487.8 405.4,667.7 405.7,545.2 405.9,713.6 406.1,613.4 406.4,539.5 406.6,543 406.8,599.1 407,533.8 407.3,570.6 407.5,539.5 407.7,542.4 408,641.7 408.2,651.2 408.4,655.5 408.6,650.8 408.9,625.6 409.1,626.6 409.3,650.9 409.5,630.6 409.8,663.9 410,604 410.2,559.8 410.5,638.4 410.7,600.9 410.9,658.7 411.1,545.9 411.4,539.3 411.6,551 411.8,664.7 412.1,547.2 412.3,535.7 412.5,625.9 412.7,692.5 413,634.5 413.2,625.5 413.4,614.9 413.6,616.3 413.9,703.7 414.1,558.5 414.3,609.4 414.6,637.1 414.8,642.6 415,544.6 415.2,528.6 415.5,650.3 415.7,553.2 415.9,543.5 416.2,529.3 416.4,548.3 416.6,545.7 416.8,668.7 417.1,659.2 417.3,626.7 417.5,640.8 417.8,540 418,635.5 418.2,536 418.4,508.3 418.7,672.6 418.9,659.9 419.1,655.8 419.3,678 419.6,548.8 419.8,605.4 420,654.2 420.3,678.2 420.5,554.5 420.7,552 420.9,653 421.2,638.1 421.4,624.4 421.6,543 421.9,528.8 422.1,624.8 422.3,629 422.5,564.1 422.8,668.1 423,682.3 423.2,554.2 423.4,691 423.7,633.4 423.9,645.4 424.1,546.3 424.4,603.8 424.6,606.5 424.8,470.6 425,529.4 425.3,666.5 425.5,639.9 425.7,618.4 426,681.3 426.2,544.4 426.4,678.9 426.6,645.3 426.9,577.7 427.1,543.7 427.3,550.3 427.5,543.5 427.8,648.5 428,646.1 428.2,620.6 428.5,640.1 428.7,532.1 428.9,565.8 429.1,544 429.4,527 429.6,675.5 429.8,550.2 430.1,525.3 430.3,544.6 430.5,661 430.7,547 431,602 431.2,549.8 431.4,652.7 431.6,512.4 431.9,606.8 432.1,663.8 432.3,546.5 432.6,557.4 432.8,666.5 433,698.6 433.2,549.7 433.5,513.1 433.7,647.2 433.9,637 434.2,556.1 434.4,639 434.6,658.8 434.8,653.2 435.1,681 435.3,561.6 435.5,662 435.8,551.9 436,551.6 436.2,652.9 436.4,556.2 436.7,537.9 436.9,562.8 437.1,641.7 437.3,539.9 437.6,626.6 437.8,512.6 438,553.7 438.3,658.7 438.5,547.5 438.7,542 438.9,712.6 439.2,634.7 439.4,638.6 439.6,518.5 439.9,551.9 440.1,653.6 440.3,548.9 440.5,638.6 440.8,554.4 441,691.1 441.2,648.8 441.4,632.4 441.7,551.3 441.9,586.3 442.1,471.6 442.4,541.8 442.6,555 442.8,655.7 443,650.5 443.3,663.8 443.5,661.2 443.7,558.3 444,663.2 444.2,640.3 444.4,542 444.6,553.9 444.9,708.9 445.1,645.3 445.3,660 445.5,565.3 445.8,627.7 446,684.6 446.2,623.3 446.5,670.1 446.7,550.6 446.9,559.7 447.1,632.2 447.4,536.8 447.6,678.5 447.8,625.5 448.1,665.1 448.3,701.1 448.5,551.4 448.7,536.5 449,650.7 449.2,537.2 449.4,676.2 449.7,547 449.9,548.3 450.1,559.8 450.3,529.2 450.6,637.4 450.8,533 451,553.9 451.2,561.6 451.5,712.3 451.7,693.5 451.9,665.3 452.2,642.2 452.4,657.6 452.6,547.8 452.8,556.3 453.1,606 453.3,526.1 453.5,637.7 453.8,629.4 454,645.6 454.2,638.4 454.4,555.4 454.7,609.8 454.9,629 455.1,616.5 455.3,620.8 455.6,592.5 455.8,556.1 456,639 456.3,635.5 456.5,666.1 456.7,710.2 456.9,643.7 457.2,535.9 457.4,669.6 457.6,640.9 457.9,562.4 458.1,535.3 458.3,712.3 458.5,534.5 458.8,650.2 459,663.3 459.2,559.3 459.4,500.8 459.7,682.6 459.9,664.6 460.1,548.9 460.4,564.3 460.6,550.1 460.8,645.8 461,509.8 461.3,542.2 461.5,645.1 461.7,551.1 462,532.6 462.2,561.4 462.4,659.5 462.6,552.9 462.9,263.9 463.1,553.9 463.3,526.1 463.6,557.8 463.8,526 464,541.5 464.2,650.5 464.5,543.3 464.7,541 464.9,660.5 465.1,678 465.4,634 465.6,660 465.8,542.8 466.1,638.2 466.3,707.8 466.5,614.1 466.7,636.7 467,624.5 467.2,551.2 467.4,638.8 467.7,551.8 467.9,560.4 468.1,670.8 468.3,635.4 468.6,542.2 468.8,548 469,627.2 469.2,622.2 469.5,682.5 469.7,618.4 469.9,653.7 470.2,545.7 470.4,702.7 470.6,646.7 470.8,646.9 471.1,546.3 471.3,544.4 471.5,627.3 471.8,651.8 472,536.7 472.2,625.9 472.4,638.5 472.7,541.2 472.9,549.2 473.1,552.5 473.3,625 473.6,554.5 473.8,644.1 474,702.2 474.3,645.7 474.5,628 474.7,622 474.9,620.5 475.2,538.8 475.4,544 475.6,648.9 475.9,549.7 476.1,539.1 476.3,565.9 476.5,558 476.8,526 477,697 477.2,665.8 477.4,645.5 477.7,540.4 477.9,637.2 478.1,516.2 478.4,690 478.6,642 478.8,608.6 479,649.5 479.3,526.2 479.5,641 479.7,547.2 480,641.9 480.2,644.5 480.4,542 480.6,548.7 480.9,674.2 481.1,613.9 481.3,650.9 481.6,538.5 481.8,547.2 482,628.5 482.2,640.5 482.5,545.8 482.7,545.7 482.9,569.1 483.1,531.8 483.4,601.5 483.6,607.3 483.8,551.6 484.1,661.9 484.3,653.1 484.5,605.6 484.7,543.3 485,602.9 485.2,637.8 485.4,664.9 485.7,613.3 485.9,565.2 486.1,529.2 486.3,628.9 486.6,541.5 486.8,546.1 487,643.2 487.2,548.3 487.5,554.5 487.7,528.9 487.9,645.3 488.2,614.2 488.4,640.8 488.6,563.2 488.8,620.5 489.1,635 489.3,702.8 489.5,613.2 489.8,538.2 490,539.6 490.2,714 490.4,565.9 490.7,638.8 490.9,604.1 491.1,672.3 491.3,675.8 491.6,524.6 491.8,539.6 492,549.3 492.3,649.2 492.5,651.4 492.7,625.1 492.9,639.5 493.2,540 493.4,536 493.6,624.2 493.9,622.4 494.1,672.6 494.3,649.2 494.5,533 494.8,617.6 495,571.4 495.2,638.9 495.4,549.9 495.7,671 495.9,486.7 496.1,650.2 496.4,681.5 496.6,550.6 496.8,562.4 497,669.1 497.3,622.3 497.5,654.9 497.7,587.5 498,660.9 498.2,633.1 498.4,554.1 498.6,662 498.9,615.9 499.1,538.4 499.3,531.8 499.6,640.6 499.8,677.4 500,635.3 500.2,644.1 500.5,543.8 500.7,531.6 500.9,549.6 501.1,635.8 501.4,628.3 501.6,642.3 501.8,569.2 502.1,628.7 502.3,673.1 502.5,674.8 502.7,636.9 503,549.4 503.2,508.2 503.4,553.6 503.7,643.8 503.9,525.4 504.1,586.4 504.3,551.3 504.6,539.1 504.8,690.7 505,553.5 505.2,639.1 505.5,541.9 505.7,555.6 505.9,662.9 506.2,536.8 506.4,654.5 506.6,554.6 506.8,554.7 507.1,537.4 507.3,601.3 507.5,676.8 507.8,552 508,532.4 508.2,662.4 508.4,546.2 508.7,557.4 508.9,529.7 509.1,532.3 509.3,650.8 509.6,650.6 509.8,542.4 510,654.6 510.3,539.2 510.5,542.8 510.7,540.7 510.9,649.3 511.2,548.3 511.4,535.3 511.6,540.6 511.9,623.4 512.1,545.8 512.3,563.7 512.5,636.4 512.8,309.2 513,701 513.2,659.3 513.5,654.1 513.7,645.9 513.9,702 514.1,646 514.4,635.6 514.6,675.1 514.8,545.7 515,535.7 515.3,638.5 515.5,549.9 515.7,642.9 516,541.6 516.2,556.2 516.4,553.8 516.6,628.5 516.9,534.2 517.1,549.1 517.3,669.8 517.6,548.3 517.8,673 518,633.5 518.2,676.7 518.5,540.5 518.7,534.7 518.9,676.7 519.1,663.1 519.4,666.8 519.6,547.3 519.8,620.4 520.1,552.6 520.3,683.1 520.5,644.2 520.7,559.1 521,549.9 521.2,518.8 521.4,638.3 521.7,640.5 521.9,672.8 522.1,711.5 522.3,638.5 522.6,530.9 522.8,525.4 523,552.3 523.2,653.2 523.5,551.4 523.7,649.6 523.9,657.2 524.2,620.5 524.4,684.4 524.6,504 524.8,528.3 525.1,542.5 525.3,533.6 525.5,556.2 525.8,699.8 526,681.5 526.2,587.6 526.4,558 526.7,638.6 526.9,651.2 527.1,573.3 527.4,640 527.6,619.1 527.8,556.5 528,650.9 528.3,645.4 528.5,638.9 528.7,653.1 528.9,658.8 529.2,659.8 529.4,658.7 529.6,558.5 529.9,620.9 530.1,513.3 530.3,553.8 530.5,550.4 530.8,534.1 531,628.2 531.2,658.3 531.5,633.9 531.7,619.5 531.9,541 532.1,548.2 532.4,635.6 532.6,614.1 532.8,671.8 533,653 533.3,567 533.5,612.4 533.7,659.9 534,543.8 534.2,632.9 534.4,654.7 534.6,664.8 534.9,677.6 535.1,560.7 535.3,652.2 535.6,633.7 535.8,649.7 536,549.8 536.2,682.6 536.5,672.7 536.7,668.6 536.9,675.1 537.1,624.9 537.4,700.4 537.6,549.9 537.8,669.7 538.1,647.3 538.3,555.1 538.5,676.1 538.7,567.2 539,547.5 539.2,548.4 539.4,625.7 539.7,631.3 539.9,634.4 540.1,665.2 540.3,630.5 540.6,613.3 540.8,523.8 541,651.5 541.2,671.5 541.5,665.5 541.7,707.3 541.9,563.9 542.2,664.1 542.4,661.7 542.6,552.8 542.8,547.9 543.1,580.8 543.3,648.7 543.5,673.7 543.8,628.6 544,635.1 544.2,651.8 544.4,637.5 544.7,621.7 544.9,703.7 545.1,536.6 545.4,653.2 545.6,550.5 545.8,651.6 546,713.3 546.3,471.6 546.5,645.6 546.7,612.7 546.9,670.2 547.2,672 547.4,671.9 547.6,538.4 547.9,640.7 548.1,592.8 548.3,551.3 548.5,690.5 548.8,548.2 549,561 549.2,650.3 549.5,639.2 549.7,658.8 549.9,685.7 550.1,549.2 550.4,671.8 550.6,548.8 550.8,615.2 551,665.5 551.3,554.5 551.5,655.5 551.7,688.5 552,532.5 552.2,675.5 552.4,638.7 552.6,390.3 552.9,633.2 553.1,553.5 553.3,669 553.6,537.2 553.8,623.9 554,558.8 554.2,545.6 554.5,568.1 554.7,539.2 554.9,492.1 555.1,635.2 555.4,544.6 555.6,616.2 555.8,640.9 556.1,662.4 556.3,708.8 556.5,595.7 556.7,545.1 557,548.6 557.2,623.5 557.4,642.1 557.7,686.1 557.9,543.2 558.1,545 558.3,603.9 558.6,654.7 558.8,678.1 559,551 559.2,678.3 559.5,638.9 559.7,657.3 559.9,675.6 560.2,564.3 560.4,540.4 560.6,688.1 560.8,536.6 561.1,614.4 561.3,645.6 561.5,571.7 561.8,715.9 562,552.3 562.2,707.2 562.4,642.8 562.7,533.8 562.9,555.2 563.1,676 563.4,533.7 563.6,641.8 563.8,675.8 564,667.2 564.3,663.8 564.5,536.9 564.7,553.9 564.9,652 565.2,557 565.4,684.1 565.6,675 565.9,630.7 566.1,663.3 566.3,635.5 566.5,628.3 566.8,545.4 567,613.3 567.2,541.9 567.5,633.6 567.7,536.7 567.9,645.5 568.1,646.5 568.4,567.4 568.6,546.7 568.8,628.1 569,615.7 569.3,648.4 569.5,557.2 569.7,634.8 570,559 570.2,543.2 570.4,538.3 570.6,558.7 570.9,565.5 571.1,599.3 571.3,643.5 571.6,706.6 571.8,690.2 572,542 572.2,532 572.5,655.6 572.7,539.7 572.9,541.2 573.1,645.7 573.4,544.4 573.6,570.2 573.8,645 574.1,545.9 574.3,552.2 574.5,659.2 574.7,543.7 575,679.7 575.2,565.5 575.4,539.2 575.7,542.4 575.9,534.3 576.1,644.3 576.3,559.2 576.6,558.5 576.8,564.7 577,665 577.3,558.5 577.5,534 577.7,563.2 577.9,547.7 578.2,652 578.4,625.7 578.6,552.2 578.8,609 579.1,560.9 579.3,553.6 579.5,660 579.8,556.4 580,650.8 580.2,688.3 580.4,552.2 580.7,650.2 580.9,602.3 581.1,657.3 581.4,485.7 581.6,652.6 581.8,713 582,675.2 582.3,624 582.5,608.6 582.7,552.8 582.9,542.7 583.2,641.6 583.4,658.9 583.6,636.6 583.9,658.3 584.1,658.8 584.3,633.9 584.5,636.8 584.8,665 585,644.2 585.2,536.9 585.5,654.5 585.7,657.6 585.9,634 586.1,644.6 586.4,591.4 586.6,651.2 586.8,603 587,535.6 587.3,632.9 587.5,633.4 587.7,542.9 588,510.4 588.2,611.9 588.4,539.5 588.6,557.6 588.9,551.5 589.1,639.4 589.3,536.9 589.6,513.1 589.8,647.7 590,648.1 590.2,535.9 590.5,565.9 590.7,635.5 590.9,678.8 591.1,642.2 591.4,696.4 591.6,556.9 591.8,661.3 592.1,621.6 592.3,655.3 592.5,536.4 592.7,548.2 593,554.6 593.2,536.4 593.4,541.2 593.7,648.8 593.9,461.9 594.1,564.3 594.3,631.2 594.6,542.7 594.8,708.3 595,711 595.3,617.9 595.5,715.7 595.7,657.6 595.9,657.3 596.2,548.8 596.4,642.1 596.6,660.6 596.8,690.2 597.1,617.5 597.3,547 597.5,529.7 597.8,628.4 598,673.6 598.2,670.6 598.4,632.7 598.7,615.1 598.9,668.1 599.1,612.3 599.4,671.6 599.6,661.4 599.8,510.4 600,714.9 600.3,551.2 600.5,662.7 600.7,650.3 600.9,628.2 601.2,651.4 601.4,712.1 601.6,536.1 601.9,543.6 602.1,540.7 602.3,626.8 602.5,659.9 602.8,621.5 603,677.6 603.2,641.3 603.5,639.7 603.7,594 603.9,633.5 604.1,658.5 604.4,537.2 604.6,545.6 604.8,551.9 605,600.2 605.3,640.4 605.5,674.8 605.7,638.6 606,664.4 606.2,538.7 606.4,617.3 606.6,599.8 606.9,632.1 607.1,652.6 607.3,659.6 607.6,678.1 607.8,589.8 608,540.3 608.2,533.5 608.5,535.6 608.7,600.1 608.9,551.7 609.2,543.3 609.4,567.8 609.6,537.7 609.8,646.3 610.1,651.1 610.3,696.6 610.5,633.1 610.7,714.6 611,642.7 611.2,673.4 611.4,541.5 611.7,632.4 611.9,651.4 612.1,631 612.3,539.4 612.6,680.6 612.8,552.5 613,530.5 613.3,618.9 613.5,628.3 613.7,646.5 613.9,534 614.2,660.8 614.4,615.2 614.6,689.9 614.8,647.4 615.1,664.7 615.3,555.4 615.5,550.9 615.8,629.5 616,550.3 616.2,682.8 616.4,690.1 616.7,540.7 616.9,621.4 617.1,625.2 617.4,712 617.6,656 617.8,547.5 618,557.9 618.3,545.3 618.5,585.4 618.7,633.7 618.9,556.2 619.2,637.1 619.4,571.1 619.6,668.2 619.9,541.5 620.1,634.1 620.3,518 620.5,656.5 620.8,637.3 621,604.1 621.2,617 621.5,645.5 621.7,650.6 621.9,638.2 622.1,662.1 622.4,658.2 622.6,557.8 622.8,631.2 623,657.7 623.3,488.9 623.5,624.3 623.7,554.9 624,634.2 624.2,537.7 624.4,550.3 624.6,651.3 624.9,688.5 625.1,554.4 625.3,642 625.6,605.3 625.8,544.8 626,538.6 626.2,639.7 626.5,540.8 626.7,666 626.9,631.3 627.2,708.1 627.4,684.9 627.6,639.8 627.8,558.2 628.1,543.9 628.3,641.8 628.5,534.1 628.7,535.3 629,619.6 629.2,617.4 629.4,622.1 629.7,642.8 629.9,536.5 630.1,533.7 630.3,537.9 630.6,555 630.8,684.1 631,657 631.3,653.8 631.5,641 631.7,675.2 631.9,624 632.2,549.9 632.4,663.5 632.6,644.5 632.8,628.3 633.1,570.3 633.3,632.8 633.5,539.9 633.8,646 634,634.8 634.2,551.2 634.4,682.5 634.7,544.5 634.9,636.7 635.1,521.3 635.4,630.8 635.6,542.6 635.8,656.7 636,667.1 636.3,589.3 636.5,664.9 636.7,535.7 636.9,664.5 637.2,613.4 637.4,639.5 637.6,612.9 637.9,660.9 638.1,662.8 638.3,683.9 638.5,540.9 638.8,552.8 639,683.9 639.2,657.5 639.5,547.2 639.7,673.3 639.9,640.9 640.1,689.8 640.4,555.5 640.6,654.3 640.8,539 641.1,559 641.3,615.9 641.5,708.1 641.7,500.8 642,639.4 642.2,611.7 642.4,650.8 642.6,513.3 642.9,657.5 643.1,551.6 643.3,657.6 643.6,666.1 643.8,688.6 644,557 644.2,622.2 644.5,546.4 644.7,623.9 644.9,631 645.2,539.9 645.4,561.6 645.6,606.2 645.8,526.9 646.1,608.2 646.3,657 646.5,606.4 646.7,650.7 647,642.1 647.2,629 647.4,547.3 647.7,686 647.9,519.9 648.1,547.4 648.3,544.7 648.6,634.1 648.8,712.8 649,673.6 649.3,654 649.5,537.3 649.7,711.3 649.9,671 650.2,644.9 650.4,637.6 650.6,535.9 650.8,650.2 651.1,528.7 651.3,555.5 651.5,608.1 651.8,640.2 652,540.8 652.2,571.6 652.4,633.3 652.7,633.6 652.9,538.9 653.1,628.9 653.4,608.1 653.6,632 653.8,565.1 654,545.2 654.3,682 654.5,554.3 654.7,642.7 655,659.6 655.2,653.9 655.4,541.5 655.6,666.5 655.9,684.5 656.1,568.5 656.3,545.6 656.5,705.7 656.8,665.2 657,627.6 657.2,540.2 657.5,646.8 657.7,654.1 657.9,553 658.1,556.6 658.4,577.2 658.6,614 658.8,557.4 659.1,658.1 659.3,617.6 659.5,567.4 659.7,547.9 660,555 660.2,644.9 660.4,557.7 660.6,658.2 660.9,655.1 661.1,654.3 661.3,540.6 661.6,558 661.8,537.5 662,494.3 662.2,638.7 662.5,639.5 662.7,650.6 662.9,669.1 663.2,539.5 663.4,704.8 663.6,649.1 663.8,548.7 664.1,646.4 664.3,634 664.5,550.8 664.7,529.1 665,677.2 665.2,544.5 665.4,527 665.7,635.7 665.9,529.4 666.1,699.4 666.3,537.5 666.6,639.4 666.8,609.5 667,705.8 667.3,655.8 667.5,667.9 667.7,691.4 667.9,536.9 668.2,520.7 668.4,545.4 668.6,558.4 668.8,675.4 669.1,597.6 669.3,557.1 669.5,702.1 669.8,544.8 670,581.7 670.2,557 670.4,622.5 670.7,542.7 670.9,545 671.1,544.3 671.4,618.3 671.6,507.9 671.8,634.7 672,536.8 672.3,508.2 672.5,535.8 672.7,666.5 673,646.6 673.2,637.4 673.4,655.4 673.6,664.3 673.9,537.9 674.1,669.8 674.3,542.5 674.5,596.1 674.8,602.9 675,658.1 675.2,626.6 675.5,566.4 675.7,675.3 675.9,663.5 676.1,546.7 676.4,629.5 676.6,668.1 676.8,547.3 677.1,540.1 677.3,637.1 677.5,654.4 677.7,663.2 678,537.8 678.2,549.8 678.4,526.7 678.6,550.1 678.9,636.9 679.1,639.3 679.3,653.6 679.6,529.4 679.8,547.2 680,544.1 680.2,629.2 680.5,559.7 680.7,610.1 680.9,557.2 681.2,650.4 681.4,658.7 681.6,620.6 681.8,538.7 682.1,545.3 682.3,541.9 682.5,587.4 682.7,650.4 683,656.2 683.2,533.5 683.4,530 683.7,645.9 683.9,555.2 684.1,634 684.3,554.3 684.6,535.8 684.8,654.3 685,550.5 685.3,638.8 685.5,557.6 685.7,555.9 685.9,652.1 686.2,534.8 686.4,637.1 686.6,645 686.9,662.2 687.1,705 687.3,546.7 687.5,626.3 687.8,709 688,657.5 688.2,629.1 688.4,496 688.7,608.4 688.9,536.5 689.1,515.4 689.4,664.7 689.6,701.2 689.8,638.2 690,651.1 690.3,245.1 690.5,669.5 690.7,578.5 691,527.9 691.2,623.1 691.4,702.1 691.6,658.2 691.9,547.4 692.1,677.8 692.3,611.6 692.5,535.1 692.8,648.3 693,629.4 693.2,552.7 693.5,611.8 693.7,573.8 693.9,665.3 694.1,624.1 694.4,659.3 694.6,536.7 694.8,633.6 695.1,552.6 695.3,555.2 695.5,662.1 695.7,655.8 696,580.1 696.2,671.4 696.4,601.5 696.6,645.4 696.9,548.3 697.1,534.2 697.3,715 697.6,555.4 697.8,652.9 698,625.6 698.2,644.8 698.5,542.4 698.7,684.7 698.9,553.7 699.2,658.3 699.4,656.2 699.6,650.5 699.8,556 700.1,531.2 700.3,677.6 700.5,611.5 700.7,550.7 701,653.3 701.2,645.3 701.4,660.2 701.7,528.7 701.9,551.4 702.1,714.3 702.3,531.8 702.6,713.7 702.8,667.9 703,646.5 703.3,679.2 703.5,538.7 703.7,562.3 703.9,540 704.2,651.1 704.4,543.1 704.6,554.1 704.9,534.6 705.1,643.5 705.3,635.7 705.5,669.4 705.8,644.4 706,639.6 706.2,667.4 706.4,668.6 706.7,644.4 706.9,654.7 707.1,626.7 707.4,660.3 707.6,622.6 707.8,607.2 708,710.8 708.3,533.5 708.5,606.3 708.7,687.7 709,687.5 709.2,539.5 709.4,545.9 709.6,641.4 709.9,578.7 710.1,711.2 710.3,544.8 710.5,539.9 710.8,707.6 711,532.1 711.2,634.5 711.5,654.9 711.7,650.9 711.9,614.8 712.1,590.5 712.4,539.7 712.6,553.5 712.8,622.3 713.1,648.5 713.3,542.9 713.5,705.9 713.7,636.9 714,674.1 714.2,675.6 714.4,674.3 714.6,704.6 714.9,538.9 715.1,547.4 715.3,615.3 715.6,537.8 715.8,620.3 716,647.9 716.2,653.5 716.5,533.4 716.7,542.4 716.9,663.3 717.2,627.5 717.4,714.2 717.6,556.5 717.8,644.3 718.1,654.5 718.3,668 718.5,690.1 718.8,648.5 719,608.9 719.2,668.2 719.4,567.7 719.7,641.8 719.9,643.1 720.1,537.7 720.3,542 720.6,610 720.8,655.8 721,703 721.3,687.4 721.5,711.2 721.7,604.3 721.9,653.1 722.2,643.5 722.4,659.2 722.6,646.8 722.9,674.8 723.1,606.7 723.3,607 723.5,611.8 723.8,705.9 724,528 724.2,513.7 724.4,548.8 724.7,527.1 724.9,554.9 725.1,639.2 725.4,551 725.6,604.2 725.8,672.2 726,540.1 726.3,657.6 726.5,637.3 726.7,670.5 727,673.5 727.2,537.1 727.4,671.9 727.6,654.2 727.9,673.7 728.1,631.9 728.3,642.5 728.5,658.5 728.8,536 729,540.5 729.2,647.2 729.5,635.9 729.7,589.8 729.9,609.4 730.1,546.3 730.4,624.2 730.6,636.4 730.8,658.9 731.1,614.9 731.3,537.2 731.5,663.9 731.7,680.7 732,641.4 732.2,679.5 732.4,555.3 732.6,698 732.9,543.4 733.1,671.3 733.3,543.9 733.6,525.4 733.8,543.7 734,661 734.2,554.2 734.5,602.8 734.7,617.8 734.9,655.8 735.2,662.1 735.4,680.6 735.6,539.5 735.8,675.8 736.1,628.5 736.3,648.9 736.5,527.2 736.8,550.9 737,540.5 737.2,554.8 737.4,648.3 737.7,557.5 737.9,644.5 738.1,664.3 738.3,696.5 738.6,655.8 738.8,552.8 739,654.5 739.3,626.6 739.5,526.9 739.7,552.8 739.9,692.1 740.2,651.1 740.4,563.2 740.6,555.7 740.9,675.5 741.1,669.3 741.3,651.5 741.5,558.1 741.8,540.7 742,543.2 742.2,462.4 742.4,549.8 742.7,650.2 742.9,703.5 743.1,555.4 743.4,663.8 743.6,642 743.8,541.4 744,634 744.3,540.4 744.5,526.8 744.7,546.7 745,712.4 745.2,561.9 745.4,673.7 745.6,544 745.9,645.8 746.1,711.7 746.3,667.4 746.5,572.2 746.8,554.3 747,554.6 747.2,556.4 747.5,540.9 747.7,645.4 747.9,599.4 748.1,520.9 748.4,563.5 748.6,675.1 748.8,530.8 749.1,558.3 749.3,549.4 749.5,677.8 749.7,559.3 750,550.5 750.2,533.7 750.4,643.9 750.6,546.1 750.9,678.1 751.1,680.7 751.3,539.1 751.6,656.4 751.8,618.5 752,665.1 752.2,654.1 752.5,642 752.7,630.4 752.9,540.8 753.2,563.4 753.4,538.5 753.6,620.6 753.8,528.1 754.1,553.1 754.3,612.8 754.5,617.5 754.8,639.1 755,679.3 755.2,538.4 755.4,636.2 755.7,553.5 755.9,560.3 756.1,535.7 756.3,673.1 756.6,538.7 756.8,556.6 757,563.3 757.3,559.8 757.5,624.4 757.7,657.1 757.9,632.4 758.2,645.1 758.4,524 758.6,646.5 758.9,543.5 759.1,520.6 759.3,646 759.5,541.2 759.8,545.5 760,660.7 760.2,673.3 760.4,543.2 760.7,535.8 760.9,704.9 761.1,613.9 761.4,650.3 761.6,648.2 761.8,636.9 762,627.4 762.3,657 762.5,655.9 762.7,651.2 763,702 763.2,676.9 763.4,493.2 763.6,646.9 763.9,644.4 764.1,547.8 764.3,695.6 764.5,618.6 764.8,628.2 765,548.1 765.2,619 765.5,560.7 765.7,653.6 765.9,642.9 766.1,645.3 766.4,661.9 766.6,531.9 766.8,641.2 767.1,669.2 767.3,546.7 767.5,627.7 767.7,601 768,680.9 768.2,626.8 768.4,526 768.7,616.7 768.9,658.4 769.1,547.8 769.3,648.3 769.6,628.8 769.8,545.7 770,555.1 770.2,636.4 770.5,703.6 770.7,620.4 770.9,643.7 771.2,700.7 771.4,710.1 771.6,666.5 771.8,638.8 772.1,515.4 772.3,539.3 772.5,654.8 772.8,620.4 773,589.3 773.2,664.9 773.4,657.9 773.7,530.9 773.9,539.4 774.1,668.3 774.3,635.4 774.6,646.9 774.8,714.4 775,663.9 775.3,532.1 775.5,679.8 775.7,543.8 775.9,637.1 776.2,554.4 776.4,669.1 776.6,645.8 776.9,617.3 777.1,547.3 777.3,640.4 777.5,663.2 777.8,617.6 778,662.1 778.2,682.5 778.4,650 778.7,652.5 778.9,660.6 779.1,530.5 779.4,602.1 779.6,658.3 779.8,642.6 780,655 780.3,640.9 780.5,606.3 780.7,640.4 781,626.8 781.2,686.2 781.4,519.5 781.6,544.1 781.9,646.4 782.1,537.5 782.3,650.1 782.5,639.4 782.8,547.7 783,681.6 783.2,644 783.5,627 783.7,603.7 783.9,543.6 784.1,540.4 784.4,547.5 784.6,653.2 784.8,638.5 785.1,699.4 785.3,647.9 785.5,649.8 785.7,702.9 786,551.1 786.2,713.6 786.4,582.8 786.7,705.9 786.9,644 787.1,664.2 787.3,540 787.6,531.3 787.8,636.8 788,649.4 788.2,563.4 788.5,559.3 788.7,650 788.9,554.9 789.2,544.1 789.4,671.9 789.6,643 789.8,530.7 790.1,642.5 790.3,565.7 790.5,690.9 790.8,563.5 791,656.4 791.2,676 791.4,688.8 791.7,673 791.9,640 792.1,487.8 792.3,676.2 792.6,627.1 792.8,551.3 793,539 793.3,530.3 793.5,543.7 793.7,671.7 793.9,561.9 794.2,604.2 794.4,527.4 794.6,642.4 794.9,710.3 795.1,640.4 795.3,552.8 795.5,629.6 795.8,701.2 796,648.4 796.2,528.7 796.4,647.7 796.7,554.3 796.9,511.5 797.1,673.4 797.4,534.4 797.6,549.9 797.8,561.3 798,549.2 798.3,533.7 798.5,711.7 798.7,568.9 799,554.5 799.2,645.6 799.4,537.5 799.6,637.1 799.9,673.5 800.1,663.2 800.3,534.3 800.6,642.3 800.8,649.7 801,569.6 801.2,693.9 801.5,549.4 801.7,534.7 801.9,634.1 802.1,525.6 802.4,610.6 802.6,531.2 802.8,647.2 803.1,540 803.3,512.2 803.5,628.4 803.7,570.2 804,535.7 804.2,540.3 804.4,656.4 804.7,613.9 804.9,540.4 805.1,533.2 805.3,547.4 805.6,661.7 805.8,585.6 806,644.8 806.2,533.7 806.5,542.3 806.7,650.2 806.9,545.6 807.2,654.2 807.4,657.2 807.6,659 807.8,556.6 808.1,572.7 808.3,630 808.5,678.6 808.8,672.6 809,560.7 809.2,543.8 809.4,628.6 809.7,700.8 809.9,501.8 810.1,713.9 810.3,547 810.6,677.4 810.8,615.1 811,546.9 811.3,641.5 811.5,542.2 811.7,532.6 811.9,660.2 812.2,533.4 812.4,553.2 812.6,548.7 812.9,626.6 813.1,542.9 813.3,542.6 813.5,647.5 813.8,547.6 814,663.6 814.2,622.6 814.5,549.8 814.7,660.5 814.9,538.4 815.1,526 815.4,628.3 815.6,534.7 815.8,670.7 816,552.9 816.3,656.3 816.5,679.7 816.7,664.5 817,543 817.2,625 817.4,545.2 817.6,671.7 817.9,541.1 818.1,558.4 818.3,545 818.6,219.2 818.8,638.6 819,617.9 819.2,528 819.5,635.4 819.7,661 819.9,659.5 820.1,515.9 820.4,542 820.6,664.9 820.8,649.7 821.1,546.5 821.3,676.3 821.5,541.9 821.7,565.5 822,618.2 822.2,633.1 822.4,640.2 822.7,544.4 822.9,546.4 823.1,632.5 823.3,669.3 823.6,672 823.8,662.2 824,618.8 824.2,534.1 824.5,541.7 824.7,558 824.9,667.8 825.2,636.4 825.4,628.1 825.6,586.6 825.8,535.2 826.1,672 826.3,654.2 826.5,675 826.8,670.6 827,562.3 827.2,702.5 827.4,636.5 827.7,544.8 827.9,672.4 828.1,538.9 828.3,651.5 828.6,548.2 828.8,673.5 829,678.1 829.3,630.3 829.5,644.6 829.7,552.9 829.9,649.8 830.2,537.6 830.4,547.7 830.6,559.8 830.9,549.2 831.1,697.4 831.3,666.2 831.5,654.8 831.8,635.6 832,658.6 832.2,635.8 832.5,640.1 832.7,643.8 832.9,534.3 833.1,661.3 833.4,550 833.6,636.7 833.8,516.9 834,544.1 834.3,533.5 834.5,622 834.7,631.7 835,646.2 835.2,670.3 835.4,657.5 835.6,528.1 835.9,712.6 836.1,705.7 836.3,586.5 836.6,555.4 836.8,644.9 837,658.4 837.2,620.2 837.5,528.4 837.7,635.6 837.9,607 838.1,612.5 838.4,540.2 838.6,474.4 838.8,699.6 839.1,645.3 839.3,633.5 839.5,669.8 839.7,561.6 840,551.2 840.2,497.5 840.4,670.3 840.7,539.5 840.9,664.7 841.1,546.8 841.3,674 841.6,648.7 841.8,557.8 842,627.3 842.2,683.3 842.5,652.2 842.7,623.8 842.9,639.1 843.2,562.6 843.4,712.6 843.6,634.8 843.8,537.8 844.1,704.2 844.3,661.4 844.5,619.6 844.8,541.6 845,649.1 845.2,518.9 845.4,633.6 845.7,551.7 845.9,554.6 846.1,530.5 846.4,551.6 846.6,694.9 846.8,644.6 847,659.7 847.3,711.1 847.5,527.7 847.7,598.9 847.9,556.4 848.2,646.8 848.4,415.5 848.6,637.7 848.9,672.7 849.1,534.9 849.3,568 849.5,554.6 849.8,606.6 850,650.5 850.2,539.1 850.5,537.4 850.7,550.7 850.9,536.8 851.1,658.3 851.4,689.3 851.6,558.3 851.8,714.2 852,628.1 852.3,620.4 852.5,566 852.7,567.1 853,622.1 853.2,632.7 853.4,652.3 853.6,702.6 853.9,623.3 854.1,532.3 854.3,677 854.6,542.8 854.8,556.5 855,667.7 855.2,568 855.5,541.5 855.7,712.3 855.9,574.7 856.1,531.3 856.4,535.6 856.6,516.9 856.8,637.6 857.1,650.5 857.3,628.7 857.5,653.5 857.7,704.4 858,705.1 858.2,645.3 858.4,662.9 858.7,542.8 858.9,636.8 859.1,702.8 859.3,551.5 859.6,549.5 859.8,706.6 860,531.8 860.2,649.1 860.5,642.9 860.7,556.6 860.9,608.5 861.2,549.7 861.4,629.7 861.6,612.4 861.8,671.7 862.1,527.5 862.3,535.7 862.5,682.2 862.8,673.3 863,645.3 863.2,552.4 863.4,626.6 863.7,548.7 863.9,538.3 864.1,567.1 864.4,614.7 864.6,714.9 864.8,557.1 865,628.3 865.3,640.1 865.5,634.9 865.7,627.3 865.9,563.4 866.2,624.8 866.4,552.2 866.6,664.6 866.9,651.2 867.1,540.5 867.3,642.7 867.5,534.5 867.8,538.1 868,682.2 868.2,553.8 868.5,494.3 868.7,541.4 868.9,556.1 869.1,715.6 869.4,544.4 869.6,692.2 869.8,590.2 870,544 870.3,540.6 870.5,637.9 870.7,552.1 871,647.7 871.2,648.6 871.4,547.8 871.6,657.7 871.9,548 872.1,592.7 872.3,642.8 872.6,631.4 872.8,648.5 873,685 873.2,638.5 873.5,663.4 873.7,637.4 873.9,545.3 874.1,641.6 874.4,570.7 874.6,544.4 874.8,547.9 875.1,616.9 875.3,692.5 875.5,652.2 875.7,700.4 876,598.9 876.2,662.5 876.4,639.2 876.7,563.3 876.9,668.8 877.1,639.2 877.3,617.4 877.6,663.7 877.8,523.6 878,636.2 878.2,554.6 878.5,665.3 878.7,542.7 878.9,629.3 879.2,661.5 879.4,618.8 879.6,650.2 879.8,528 880.1,708.9 880.3,469.5 880.5,539.8 880.8,638.3 881,682.4 881.2,671.8 881.4,672.8 881.7,672.4 881.9,629.9 882.1,648.2 882.4,538.8 882.6,633.9 882.8,531 883,639.8 883.3,645.9 883.5,620.6 883.7,552.8 883.9,640.8 884.2,657.8 884.4,545.9 884.6,534.3 884.9,651.5 885.1,542.1 885.3,562.6 885.5,664.2 885.8,626.4 886,638.4 886.2,711.6 886.5,712.9 886.7,655.2 886.9,627 887.1,530.9 887.4,543.7 887.6,683 887.8,625.8 888,534 888.3,651 888.5,645.9 888.7,556.4 889,632.7 889.2,688.6 889.4,641.2 889.6,468.4 889.9,554.8 890.1,645.4 890.3,640.1 890.6,632.2 890.8,554.5 891,661.4 891.2,664.3 891.5,539.9 891.7,641.3 891.9,703.6 892.1,557.7 892.4,641.2 892.6,589.9 892.8,545.7 893.1,538.8 893.3,538.1 893.5,645 893.7,613 894,531.8 894.2,681.1 894.4,621.4 894.7,655.7 894.9,559.7 895.1,538.4 895.3,618.9 895.6,658.5 895.8,679.2 896,530.7 896.3,553.1 896.5,662.4 896.7,656.3 896.9,630 897.2,542 897.4,527.4 897.6,539.6 897.8,650.4 898.1,535.3 898.3,548 898.5,634.4 898.8,585.9 899,551.4 899.2,610.2 899.4,544.2 899.7,561.2 899.9,642.2 900.1,561.6 900.4,648.9 900.6,678.7 900.8,536 901,629.7 901.3,673.2 901.5,549.6 901.7,551.5 901.9,547.6 902.2,529.5 902.4,674.9 902.6,644.4 902.9,620.3 903.1,616.7 903.3,648.6 903.5,677 903.8,673.3 904,582.4 904.2,556.8 904.5,541 904.7,629.5 904.9,648.8 905.1,530.5 905.4,636.1 905.6,629.1 905.8,674.8 906,653.2 906.3,679.4 906.5,556.9 906.7,539.2 907,669.8 907.2,653.8 907.4,715.3 907.6,536.4 907.9,554 908.1,636.5 908.3,549.8 908.6,631.5 908.8,532.1 909,670.8 909.2,236 909.5,646.4 909.7,542.6 909.9,663.4 910.1,471.6 910.4,663.8 910.6,544.4 910.8,627.1 911.1,564.6 911.3,633.3 911.5,672.9 911.7,602.1 912,527.8 912.2,564.8 912.4,616.3 912.7,557.9 912.9,645.8 913.1,650.3 913.3,556.6 913.6,542.2 913.8,559.5 914,629 914.3,625.7 914.5,553.9 914.7,671.9 914.9,626.1 915.2,680.2 915.4,671.7 915.6,634.8 915.8,655.6 916.1,567.7 916.3,657.5 916.5,538.4 916.8,644.7 917,645.1 917.2,599.9 917.4,679.4 917.7,620.5 917.9,559.7 918.1,608.1 918.4,711.2 918.6,638.8 918.8,554 919,545.2 919.3,666 919.5,492.1 919.7,635.4 919.9,634.3 920.2,642.6 920.4,555.4 920.6,630.2 920.9,606.2 921.1,700.4 921.3,655.9 921.5,651.2 921.8,652.6 922,644.5 922.2,536.1 922.5,604.5 922.7,654.9 922.9,659.3 923.1,544 923.4,683.1 923.6,686.5 923.8,659.7 924,634.9 924.3,616.7 924.5,546.6 924.7,558.2 925,642.4 925.2,676.8 925.4,551.8 925.6,545 925.9,539.1 926.1,546 926.3,643.8 926.6,545.6 926.8,540.5 927,529.3 927.2,625 927.5,547.6 927.7,629.7 927.9,658.7 928.2,653.7 928.4,649.1 928.6,665.9 928.8,629.8 929.1,669.9 929.3,663.8 929.5,642.8 929.7,570.3 930,702.1 930.2,632.8 930.4,621.2 930.7,631 930.9,635.9 931.1,687 931.3,619.9 931.6,561.8 931.8,670.3 932,664.9 932.3,545.9 932.5,656.1 932.7,552 932.9,532.4 933.2,687 933.4,655.6 933.6,629.5 933.8,659.7 934.1,662.9 934.3,539.7 934.5,616.8 934.8,613.7 935,638.5 935.2,651.5 935.4,554.7 935.7,546.1 935.9,629.3 936.1,536.3 936.4,657 936.6,640.1 936.8,615.7 937,652.1 937.3,561.7 937.5,660.1 937.7,534.4 937.9,567.7 938.2,541.1 938.4,532 938.6,673.4 938.9,642.5 939.1,647.5 939.3,624.2 939.5,558.8 939.8,649.6 940,679.1 940.2,553.4 940.5,635.6 940.7,543.3 940.9,692.7 941.1,561.1 941.4,517 941.6,678.2 941.8,675.1 942,644.5 942.3,551.4 942.5,531.2 942.7,704.2 943,669 943.2,631.4 943.4,601.7 943.6,571.1 943.9,681.5 944.1,529.3 944.3,551.8 944.6,684.6 944.8,552 945,638.3 945.2,608.4 945.5,686.7 945.7,538.2 945.9,640.5 946.2,675.8 946.4,668.8 946.6,638.9 946.8,545.6 947.1,701 947.3,643 947.5,658.4 947.7,666.8 948,646.6 948.2,653.7 948.4,681.3 948.7,639.1 948.9,623.6 949.1,700.5 949.3,556.1 949.6,541.1 949.8,563.9 950,539.8 950.3,690.2 950.5,584.9 950.7,600.3 950.9,605.8 951.2,681.9 951.4,631.1 951.6,695.2 951.8,649 952.1,608.3 952.3,543.2 952.5,715.5 952.8,673.2 953,528.5 953.2,619.7 953.4,302.1 953.7,568.9 953.9,557.7 954.1,669.6 954.4,645.6 954.6,546.7 954.8,543.4 955,623.5 955.3,715.2 955.5,553.4 955.7,552.3 955.9,713.1 956.2,659.3 956.4,545.6 956.6,553.1 956.9,642.2 957.1,615.2 957.3,550.1 957.5,672.4 957.8,536 958,617.7 958.2,538.3 958.5,627.6 958.7,541.3 958.9,637.6 959.1,676.9 959.4,631.7 959.6,669.8 959.8,666.7 960.1,554.7 960.3,561.3 960.5,626.2 960.7,658.2 961,554.6 961.2,643.5 961.4,668.4 961.6,552.3 961.9,659.3 962.1,538.1 962.3,678.2 962.6,525.5 962.8,515.9 963,665.8 963.2,561.7 963.5,701.6 963.7,544.4 963.9,547.5 964.2,564.1 964.4,602.3 964.6,660.9 964.8,638.9 965.1,643 965.3,554.6 965.5,639.4 965.7,544.3 966,509 966.2,565.6 966.4,653.6 966.7,635 966.9,541.6 967.1,634.8 967.3,636.2 967.6,529.1 967.8,551.1 968,665.3 968.3,654.5 968.5,598.8 968.7,553.1 968.9,550.5 969.2,634.9 969.4,619.6 969.6,617.8 969.8,676.4 970.1,562.2 970.3,540.8 970.5,554.9 970.8,548.2 971,678.4 971.2,544.8 971.4,627.4 971.7,554.5 971.9,561.9 972.1,543.9 972.4,692.4 972.6,682.8 972.8,589.4 973,534.6 973.3,636 973.5,639 973.7,657.8 974,530.5 974.2,565 974.4,565.1 974.6,672.1 974.9,536.2 975.1,542.3 975.3,666.8 975.5,641.3 975.8,662 976,636.5 976.2,673.9 976.5,546.6 976.7,548.9 976.9,687.6 977.1,540.8 977.4,552.3 977.6,643.2 977.8,620.3 978.1,664.9 978.3,653.5 978.5,533.4 978.7,543.6 979,667.3 979.2,647.4 979.4,222.4 979.6,681.3 979.9,637.4 980.1,544.7 980.3,566.1 980.6,660.7 980.8,538.9 981,557.1 981.2,544.4 981.5,677.4 981.7,640.2 981.9,534.4 982.2,640.7 982.4,675.2 982.6,664 982.8,685.1 983.1,542.4 983.3,535.7 983.5,630 983.7,539.4 984,634 984.2,553.2 984.4,496.4 984.7,639.5 984.9,554.4 985.1,541.8 985.3,682 985.6,554.5 985.8,546.5 986,636.9 986.3,546.4 986.5,525 986.7,630.7 986.9,624.8 987.2,686.6 987.4,610.8 987.6,647.8 987.8,644.4 988.1,644.4 988.3,635.3 988.5,647 988.8,541.7 989,650.6 989.2,698.3 989.4,662.9 989.7,608.5 989.9,663.7 990.1,645.4 990.4,557 990.6,715.7 990.8,659.9 991,613.4 991.3,666.4 991.5,647.3 991.7,617.6 992,532 992.2,546.4 992.4,658.7 992.6,569.7 992.9,551.1 993.1,672 993.3,530.8 993.5,552.2 993.8,643.3 994,708.5 994.2,542.2 994.5,625.4 994.7,540 994.9,538.6 995.1,675.5 995.4,625.1 995.6,643.2 995.8,654.3 996.1,665.2 996.3,630.5 996.5,609.6 996.7,556.5 997,640 997.2,656.4 997.4,656.9 997.6,538.9 997.9,536.8 998.1,658.1 998.3,535.8 998.6,486.7 998.8,546.7 999,603.5 999.2,546.8 999.5,553.9 999.7,674.9 999.9,547.3 1000.2,611.9 1000.4,616.2 1000.6,648 1000.8,647.4 1001.1,655.9 1001.3,603.1 1001.5,663.5 1001.7,623.6 1002,586.8 1002.2,618.4 1002.4,620.6 1002.7,663.3 1002.9,704.1 1003.1,643.1 1003.3,602.6 1003.6,663 1003.8,543.6 1004,577.6 1004.3,614.5 1004.5,535.9 1004.7,548.2 1004.9,538 1005.2,612.7 1005.4,533.9 1005.6,546.6 1005.9,552.9 1006.1,552.7 1006.3,710.4 1006.5,638.9 1006.8,642.5 1007,657.7 1007.2,552.6 1007.4,551 1007.7,676.5 1007.9,613.9 1008.1,635.7 1008.4,655 1008.6,621 1008.8,558.3 1009,644.4 1009.3,647.3 1009.5,658.8 1009.7,567.5 1010,653.3 1010.2,622.4 1010.4,548.1 1010.6,619.4 1010.9,639.1 1011.1,667.4 1011.3,557.7 1011.5,537.2 1011.8,547.1 1012,686.5 1012.2,558.1 1012.5,653.9 1012.7,640.3 1012.9,539.6 1013.1,618.8 1013.4,633.6 1013.6,536.9 1013.8,645.8 1014.1,537.3 1014.3,665.5 1014.5,625.4 1014.7,504 1015,644.6 1015.2,657.1 1015.4,541.1 1015.6,623.6 1015.9,526.4 1016.1,678.7 1016.3,647.2 1016.6,548 1016.8,537.8 1017,528.8 1017.2,560.6 1017.5,557.8 1017.7,552.5 1017.9,657.1 1018.2,570.2 1018.4,646.1 1018.6,685.5 1018.8,543.5 1019.1,672.8 1019.3,618.3 1019.5,650.4" fill="none" stroke="#5a5a5a" stroke-width="3.6" stroke-linejoin="round" marker-start="url(#mk)" marker-mid="url(#mk)" marker-end="url(#mk)"/>
<polyline points="206.3,569.3 206.5,653.8 206.8,714.2 207,540 207.2,563.1 207.4,602.6 207.7,617 207.9,675.3 208.1,571.3 208.3,647.2 208.6,581.2 208.8,623.6 209,649.8 209.3,675.1 209.5,646.1 209.7,629.7 209.9,678.1 210.2,516.9 210.4,647.4 210.6,558.5 210.9,601 211.1,618.9 211.3,566.4 211.5,527.8 211.8,527.4 212,533.6 212.2,657.7 212.5,530.4 212.7,603.3 212.9,537.3 213.1,602 213.4,544.2 213.6,627.3 213.8,648.2 214,567 214.3,540.8 214.5,667.3 214.7,592.4 215,665 215.2,651 215.4,655.8 215.6,567.3 215.9,620.3 216.1,572.8 216.3,646.2 216.6,638.8 216.8,549.5 217,616.9 217.2,543.9 217.5,703.9 217.7,378.2 217.9,655.7 218.1,567.5 218.4,618.8 218.6,526.9 218.8,526.5 219.1,640.7 219.3,625.7 219.5,548.6 219.7,540.1 220,517.6 220.2,702.3 220.4,606.4 220.7,606.3 220.9,539.1 221.1,600.2 221.3,536.4 221.6,604.4 221.8,523.2 222,713.8 222.2,650 222.5,572.1 222.7,638 222.9,563.8 223.2,565.2 223.4,620 223.6,638 223.8,544.1 224.1,566 224.3,716.2 224.5,641.8 224.8,629.2 225,568.3 225.2,658.8 225.4,666.4 225.7,628.6 225.9,539.2 226.1,667.6 226.4,500.8 226.6,601.7 226.8,613.6 227,559.7 227.3,619.6 227.5,708.5 227.7,628.3 227.9,585 228.2,722.6 228.4,525.7 228.6,658.1 228.9,636.4 229.1,545 229.3,562.9 229.5,649.9 229.8,598.8 230,639.3 230.2,608.8 230.5,556.9 230.7,657.5 230.9,630.7 231.1,627.4 231.4,570.4 231.6,721.2 231.8,658.9 232,538.9 232.3,539.9 232.5,620.8 232.7,548.2 233,640.3 233.2,626.7 233.4,572.8 233.6,569.5 233.9,631.2 234.1,617.2 234.3,616.9 234.6,623.3 234.8,611.7 235,546 235.2,618.2 235.5,627 235.7,630.8 235.9,528 236.1,522.9 236.4,619.4 236.6,531.7 236.8,604.2 237.1,639.2 237.3,572.4 237.5,580.2 237.7,542.8 238,624.2 238.2,643.3 238.4,541.4 238.7,540.7 238.9,575.1 239.1,666.7 239.3,664.2 239.6,576.4 239.8,654.5 240,623.4 240.2,644.5 240.5,623 240.7,543.6 240.9,600.7 241.2,616.2 241.4,712.6 241.6,531.5 241.8,631.2 242.1,550.3 242.3,545.3 242.5,537.9 242.8,668.4 243,686 243.2,546.8 243.4,653.5 243.7,641.8 243.9,534.2 244.1,558.3 244.4,522.7 244.6,543.4 244.8,652.8 245,555.8 245.3,609.9 245.5,615.4 245.7,629.6 245.9,552 246.2,616.1 246.4,651.4 246.6,561.1 246.9,621.1 247.1,551.1 247.3,714.4 247.5,644.6 247.8,564.5 248,538.6 248.2,569.2 248.5,613.3 248.7,608.5 248.9,526.7 249.1,542.8 249.4,636.4 249.6,704.8 249.8,559.1 250,621.5 250.3,535.4 250.5,534.4 250.7,609 251,568.8 251.2,549.5 251.4,564.9 251.6,586.6 251.9,538.8 252.1,661.4 252.3,683.1 252.6,483.9 252.8,601.2 253,642.2 253.2,569.8 253.5,550.6 253.7,615.6 253.9,545.9 254.1,647 254.4,719.6 254.6,643.2 254.8,647.3 255.1,599.1 255.3,663.7 255.5,656 255.7,532.1 256,564.3 256.2,544.4 256.4,659.7 256.7,686 256.9,602.9 257.1,549.9 257.3,629.4 257.6,605.1 257.8,554.4 258,624.7 258.3,624.5 258.5,536.8 258.7,637 258.9,533.6 259.2,530.4 259.4,466.9 259.6,516.9 259.8,619.2 260.1,616.6 260.3,543.8 260.5,587.9 260.8,635.4 261,674.1 261.2,544.6 261.4,606.7 261.7,636.2 261.9,569.4 262.1,641.7 262.4,720 262.6,526 262.8,637.9 263,655.5 263.3,658.8 263.5,678.1 263.7,643.3 263.9,688.4 264.2,640.2 264.4,655.8 264.6,649.3 264.9,648 265.1,643.9 265.3,539.5 265.5,535.1 265.8,629.1 266,617.3 266.2,715.4 266.5,638.7 266.7,604.6 266.9,652.9 267.1,534.2 267.4,628.8 267.6,534 267.8,559.7 268,685.3 268.3,685.3 268.5,632.6 268.7,565.2 269,642.3 269.2,547.8 269.4,625.7 269.6,616.1 269.9,478.1 270.1,619.7 270.3,560 270.6,530.5 270.8,581.9 271,571.4 271.2,640 271.5,625.4 271.7,608.6 271.9,491.1 272.1,546.9 272.4,677.9 272.6,538 272.8,600.3 273.1,590.8 273.3,646.5 273.5,683.7 273.7,640.3 274,599.4 274.2,353.4 274.4,672.2 274.7,674.6 274.9,602.7 275.1,652.5 275.3,623 275.6,611.6 275.8,555.9 276,620.6 276.3,468.4 276.5,714.2 276.7,628.8 276.9,543.6 277.2,565.3 277.4,546.9 277.6,647.3 277.8,629.1 278.1,538.2 278.3,544.9 278.5,663.8 278.8,534.6 279,618.5 279.2,552.7 279.4,510 279.7,633.6 279.9,566.1 280.1,638.4 280.4,638.1 280.6,549.5 280.8,547.4 281,555 281.3,586.8 281.5,534.9 281.7,548.4 281.9,544.7 282.2,629.9 282.4,659.6 282.6,553.7 282.9,625.7 283.1,567.3 283.3,626.5 283.5,700.8 283.8,631.5 284,536.9 284.2,567.6 284.5,612.7 284.7,606.6 284.9,559 285.1,632.1 285.4,601.3 285.6,572.2 285.8,626.2 286,604.6 286.3,565.2 286.5,674.1 286.7,662.7 287,557.9 287.2,641.5 287.4,541.1 287.6,534.9 287.9,577.4 288.1,683.9 288.3,530.2 288.6,599.7 288.8,627.3 289,679.7 289.2,678.2 289.5,529.4 289.7,662.7 289.9,540 290.2,651.9 290.4,570.6 290.6,629.9 290.8,619.9 291.1,625.9 291.3,657.6 291.5,668.8 291.7,553 292,542.5 292.2,675 292.4,538.8 292.7,709.4 292.9,568.2 293.1,532.9 293.3,561.2 293.6,494.9 293.8,533.7 294,615 294.3,647.2 294.5,538.9 294.7,459.8 294.9,663.6 295.2,546.9 295.4,544.6 295.6,623.8 295.8,659.8 296.1,632 296.3,637.4 296.5,643.5 296.8,572.1 297,528.6 297.2,552 297.4,648.3 297.7,700.8 297.9,617.3 298.1,703.1 298.4,698.4 298.6,677.8 298.8,634.5 299,542.5 299.3,612.1 299.5,706.8 299.7,536.3 299.9,622.2 300.2,559.7 300.4,604 300.6,684.1 300.9,560 301.1,657.5 301.3,673.3 301.5,621.4 301.8,632.9 302,618.4 302.2,614 302.5,630.2 302.7,608.6 302.9,624.7 303.1,557.1 303.4,614.7 303.6,549.7 303.8,542.2 304.1,660.7 304.3,600.1 304.5,548.5 304.7,651.4 305,651.6 305.2,526 305.4,610 305.6,621.2 305.9,685.3 306.1,577.7 306.3,618.6 306.6,541.8 306.8,552.3 307,618.2 307.2,669.3 307.5,575.5 307.7,618.4 307.9,557.2 308.2,656.6 308.4,609.5 308.6,670.8 308.8,616 309.1,671.7 309.3,618.2 309.5,547.6 309.7,649.8 310,638.3 310.2,536.2 310.4,606.7 310.7,652.7 310.9,554.3 311.1,594 311.3,558.2 311.6,565.7 311.8,682.4 312,620 312.3,605.6 312.5,533.1 312.7,653.6 312.9,531.9 313.2,552.6 313.4,541.2 313.6,627.5 313.8,533.1 314.1,550.3 314.3,543.3 314.5,534.4 314.8,588.8 315,544.5 315.2,571.8 315.4,602.5 315.7,558.3 315.9,561.5 316.1,714.5 316.4,488.5 316.6,571 316.8,634.3 317,627.1 317.3,555.7 317.5,560.7 317.7,602 317.9,668.4 318.2,556.3 318.4,682.4 318.6,541.8 318.9,559.6 319.1,620.8 319.3,629.2 319.5,549.2 319.8,660.8 320,542.1 320.2,624.6 320.5,655.5 320.7,615.1 320.9,562.2 321.1,641.6 321.4,526.8 321.6,662.5 321.8,619.5 322.1,642 322.3,542.6 322.5,603.5 322.7,679.8 323,551.9 323.2,541.1 323.4,612.1 323.6,715.1 323.9,656.2 324.1,665.5 324.3,655.2 324.6,665.1 324.8,625.7 325,497.5 325.2,504 325.5,537 325.7,651.6 325.9,567.4 326.2,591.7 326.4,548.5 326.6,658.2 326.8,646.9 327.1,701.9 327.3,663.7 327.5,683.2 327.7,557.2 328,572.5 328.2,615.2 328.4,527.3 328.7,541.1 328.9,645.1 329.1,552.1 329.3,708 329.6,566.4 329.8,692.7 330,643 330.3,572.6 330.5,628.8 330.7,624 330.9,712 331.2,573 331.4,636 331.6,571.6 331.8,563.3 332.1,544.9 332.3,658.8 332.5,611.7 332.8,621.5 333,639.2 333.2,705.8 333.4,602.9 333.7,614.2 333.9,561.6 334.1,650.3 334.4,686.7 334.6,646.9 334.8,569.1 335,525.7 335.3,611.8 335.5,647.5 335.7,619.8 335.9,628 336.2,622.1 336.4,562.7 336.6,623.9 336.9,572.3 337.1,627.6 337.3,549 337.5,531.7 337.8,539.3 338,620.2 338.2,563.6 338.5,647.7 338.7,635.8 338.9,556.4 339.1,546.1 339.4,645.9 339.6,557 339.8,661.6 340.1,626.2 340.3,607.6 340.5,629.7 340.7,708.5 341,624 341.2,571.2 341.4,548 341.6,636.5 341.9,547.2 342.1,550.9 342.3,617 342.6,599.4 342.8,624.7 343,538.8 343.2,565 343.5,650.6 343.7,560.5 343.9,553.1 344.2,663.7 344.4,591.1 344.6,628.9 344.8,566.7 345.1,653.2 345.3,611.7 345.5,571.8 345.7,627.3 346,634.9 346.2,604.3 346.4,600.9 346.7,488.9 346.9,531 347.1,651.7 347.3,626 347.6,670.8 347.8,539.3 348,605.3 348.3,529.4 348.5,533.5 348.7,620.9 348.9,611.9 349.2,632.1 349.4,558.4 349.6,682.2 349.8,578.8 350.1,539.7 350.3,565.8 350.5,688.3 350.8,568.5 351,555.8 351.2,534.5 351.4,647.5 351.7,639.9 351.9,562.6 352.1,472.1 352.4,567.9 352.6,641.9 352.8,697.1 353,594.8 353.3,715.7 353.5,626.2 353.7,542.3 354,531.8 354.2,646.3 354.4,679.7 354.6,677.2 354.9,556.6 355.1,618.9 355.3,560.8 355.5,639.5 355.8,541.6 356,537.3 356.2,648.7 356.5,653.4 356.7,541.6 356.9,703.7 357.1,643.9 357.4,565.2 357.6,638.6 357.8,546.6 358.1,641.1 358.3,549 358.5,608 358.7,619.2 359,535.3 359.2,631.4 359.4,442.5 359.6,524.6 359.9,622.8 360.1,615.6 360.3,628.7 360.6,618.8 360.8,527.2 361,536.7 361.2,629.3 361.5,556 361.7,533 361.9,561.2 362.2,564.3 362.4,549.1 362.6,634.9 362.8,627.1 363.1,664.5 363.3,660 363.5,603.4 363.7,605.4 364,613.8 364.2,570.4 364.4,564.5 364.7,488.9 364.9,615.3 365.1,638.3 365.3,546.7 365.6,629.6 365.8,641.6 366,629.4 366.3,547.2 366.5,689.1 366.7,596.2 366.9,664.4 367.2,537.3 367.4,612.1 367.6,581.9 367.9,685.3 368.1,670.2 368.3,609.7 368.5,623.5 368.8,628.6 369,637.1 369.2,611.6 369.4,539.2 369.7,528.1 369.9,556.1 370.1,566.5 370.4,622.4 370.6,545.6 370.8,624.3 371,654.6 371.3,617.9 371.5,610.9 371.7,630.2 372,532.5 372.2,641.6 372.4,658.8 372.6,569 372.9,630.5 373.1,617.9 373.3,696.1 373.5,532.8 373.8,655.4 374,613 374.2,698.5 374.5,652.9 374.7,540.8 374.9,634.4 375.1,603.2 375.4,596.8 375.6,682.1 375.8,598 376.1,566.9 376.3,689.2 376.5,538.5 376.7,605.3 377,603.6 377.2,622 377.4,549.8 377.6,537.4 377.9,564.1 378.1,557.6 378.3,528.4 378.6,629 378.8,645.9 379,618.4 379.2,634.5 379.5,625.2 379.7,560.2 379.9,611.9 380.2,639.1 380.4,645.6 380.6,614.1 380.8,631.2 381.1,626.1 381.3,537.2 381.5,616.9 381.7,566.5 382,576.8 382.2,634.5 382.4,532.9 382.7,648.6 382.9,566.1 383.1,660.5 383.3,636.5 383.6,697.7 383.8,554.9 384,536.7 384.3,648.5 384.5,663.9 384.7,566.1 384.9,602.9 385.2,613.3 385.4,629.8 385.6,607 385.9,501.4 386.1,708.5 386.3,635 386.5,534.9 386.8,706.2 387,547.5 387.2,617.6 387.4,673.8 387.7,552.8 387.9,534 388.1,650 388.4,533.1 388.6,636 388.8,605.2 389,620.8 389.3,648.8 389.5,620.5 389.7,591.4 390,527.7 390.2,592.5 390.4,629.5 390.6,624.7 390.9,654 391.1,554.7 391.3,635.5 391.5,549.7 391.8,608.4 392,603.5 392.2,567 392.5,633.9 392.7,629 392.9,619.9 393.1,646.8 393.4,517.4 393.6,640.5 393.8,636 394.1,537.7 394.3,651.8 394.5,612.9 394.7,620.9 395,607.8 395.2,619.7 395.4,559.9 395.6,698.1 395.9,640.9 396.1,648.9 396.3,562.3 396.6,646.3 396.8,623 397,598 397.2,596.4 397.5,665.7 397.7,540.2 397.9,532.7 398.2,533.4 398.4,528.5 398.6,661.6 398.8,554.4 399.1,651.6 399.3,534.7 399.5,638.7 399.8,563.8 400,539.3 400.2,616.5 400.4,531.7 400.7,607 400.9,572.6 401.1,644.2 401.3,616.1 401.6,610.3 401.8,618.8 402,646 402.3,654 402.5,628.3 402.7,528.1 402.9,617.1 403.2,452.9 403.4,603.5 403.6,623.6 403.9,646.4 404.1,626.2 404.3,689.6 404.5,643 404.8,475.9 405,612.5 405.2,644.1 405.4,642.7 405.7,636.7 405.9,604.1 406.1,618.2 406.4,634.5 406.6,618.6 406.8,557.6 407,526.9 407.3,653 407.5,546.8 407.7,528.3 408,622.5 408.2,569.5 408.4,635.7 408.6,572.1 408.9,602.1 409.1,651.4 409.3,611.2 409.5,568.1 409.8,657.8 410,540.3 410.2,468.8 410.5,662.9 410.7,612 410.9,536.8 411.1,544.6 411.4,572.3 411.6,536.9 411.8,622.2 412.1,633.3 412.3,547.7 412.5,668.5 412.7,532.1 413,540 413.2,629.3 413.4,686.6 413.6,543.2 413.9,655.9 414.1,620.3 414.3,528.8 414.6,608 414.8,658.5 415,653.3 415.2,657.4 415.5,667.3 415.7,645.1 415.9,685.7 416.2,541.6 416.4,539.8 416.6,706.5 416.8,603.8 417.1,536.4 417.3,623.7 417.5,554.3 417.8,515.9 418,660.1 418.2,602.4 418.4,576.7 418.7,675.1 418.9,629.4 419.1,552.4 419.3,617.2 419.6,610.7 419.8,587.6 420,567.2 420.3,631.2 420.5,648.6 420.7,658.1 420.9,628.6 421.2,663.5 421.4,554.5 421.6,529.8 421.9,539 422.1,544.5 422.3,589.8 422.5,536.4 422.8,623.7 423,650.2 423.2,673.5 423.4,541.4 423.7,614.9 423.9,611.1 424.1,462.4 424.4,546.3 424.6,702.8 424.8,712 425,649.1 425.3,663.8 425.5,680.5 425.7,625.6 426,608.7 426.2,632.3 426.4,647.7 426.6,601 426.9,680 427.1,599.2 427.3,562.2 427.5,541.1 427.8,524.5 428,523.4 428.2,642.4 428.5,544.7 428.7,660.3 428.9,532.4 429.1,661.3 429.4,569.1 429.6,536.3 429.8,637.6 430.1,646.5 430.3,569.6 430.5,648.8 430.7,619.5 431,600.4 431.2,626.7 431.4,548.5 431.6,704 431.9,657.1 432.1,657.3 432.3,641.5 432.6,631.2 432.8,653.9 433,537.2 433.2,551.6 433.5,638.6 433.7,542.1 433.9,540.2 434.2,559.7 434.4,637.2 434.6,567.4 434.8,623.2 435.1,640.8 435.3,606 435.5,615 435.8,541.7 436,564.6 436.2,546.2 436.4,660.4 436.7,493.2 436.9,654.3 437.1,638.7 437.3,563.6 437.6,629 437.8,502.9 438,580.5 438.3,575.9 438.5,638.2 438.7,616.1 438.9,525.9 439.2,538.7 439.4,677.7 439.6,555.6 439.9,651.2 440.1,627.4 440.3,546.5 440.5,600.4 440.8,563.9 441,560.2 441.2,624 441.4,603.6 441.7,563.2 441.9,620.4 442.1,464.5 442.4,726.1 442.6,537.1 442.8,565.7 443,668.8 443.3,653.5 443.5,714.1 443.7,610.7 444,567.4 444.2,717.5 444.4,534.5 444.6,549.5 444.9,563.6 445.1,545.5 445.3,544.2 445.5,622.3 445.8,540 446,537.9 446.2,516.3 446.5,473.4 446.7,499.7 446.9,623.4 447.1,656.6 447.4,614.9 447.6,608.6 447.8,629 448.1,630.8 448.3,671.7 448.5,656.3 448.7,539 449,533.4 449.2,537.4 449.4,652.5 449.7,624.1 449.9,668.3 450.1,529 450.3,569.5 450.6,678.5 450.8,711.1 451,620.8 451.2,630.4 451.5,607.4 451.7,634.4 451.9,716.8 452.2,572.7 452.4,706.4 452.6,717.5 452.8,627.9 453.1,658.2 453.3,535.9 453.5,616.7 453.8,533.7 454,566.2 454.2,647.5 454.4,557.8 454.7,622.2 454.9,650.7 455.1,626.9 455.3,656.1 455.6,647.8 455.8,491.5 456,644.6 456.3,562.1 456.5,700.2 456.7,632.4 456.9,657.3 457.2,625.4 457.4,550.7 457.6,603.7 457.9,619.3 458.1,646.1 458.3,545.9 458.5,563.8 458.8,630.6 459,662.4 459.2,527.4 459.4,505.5 459.7,633.3 459.9,706.9 460.1,554.3 460.4,623.6 460.6,679.2 460.8,610 461,628.8 461.3,621 461.5,629.3 461.7,561.7 462,539.1 462.2,554.6 462.4,653 462.6,711.5 462.9,362 463.1,705.3 463.3,554.9 463.6,648.9 463.8,614.9 464,542.5 464.2,647 464.5,615.5 464.7,618 464.9,564.7 465.1,532.1 465.4,700.9 465.6,544 465.8,628.4 466.1,639 466.3,646.5 466.5,654.2 466.7,556.2 467,585.8 467.2,537.1 467.4,539 467.7,624.7 467.9,531.3 468.1,626.2 468.3,651 468.6,706.9 468.8,715.2 469,564.6 469.2,531.6 469.5,557.3 469.7,622.2 469.9,626.9 470.2,633.5 470.4,527.9 470.6,648 470.8,554.9 471.1,618.8 471.3,615 471.5,557.4 471.8,561.3 472,628.8 472.2,628.7 472.4,616.4 472.7,628.9 472.9,562.8 473.1,570.6 473.3,534.3 473.6,609.2 473.8,703.8 474,564.5 474.3,659.7 474.5,633.9 474.7,519.5 474.9,554.3 475.2,664.2 475.4,540.9 475.6,543.4 475.9,544 476.1,614.7 476.3,692.4 476.5,649.2 476.8,644.9 477,540.3 477.2,542.7 477.4,613.2 477.7,702.9 477.9,621.3 478.1,658.1 478.4,628.5 478.6,540.8 478.8,614 479,625.3 479.3,572.2 479.5,685.3 479.7,554.8 480,554.6 480.2,695.9 480.4,547.2 480.6,558.7 480.9,621.5 481.1,611.6 481.3,680.2 481.6,659 481.8,644.7 482,633.1 482.2,608.5 482.5,631 482.7,713.6 482.9,640.5 483.1,542.8 483.4,628.4 483.6,687 483.8,657.4 484.1,564.2 484.3,562.5 484.5,618.8 484.7,666.9 485,536.7 485.2,543 485.4,626.4 485.7,572.3 485.9,556 486.1,536.6 486.3,679.8 486.6,566.5 486.8,543.8 487,614.4 487.2,629.5 487.5,660.2 487.7,538.3 487.9,555.1 488.2,542.4 488.4,623.5 488.6,608.2 488.8,533.5 489.1,535.3 489.3,529 489.5,605.1 489.8,598 490,616.1 490.2,540.3 490.4,611.2 490.7,544.3 490.9,492.1 491.1,637.6 491.3,601.8 491.6,611.7 491.8,542 492,563.6 492.3,613.9 492.5,536.4 492.7,544 492.9,693.4 493.2,511.5 493.4,610.2 493.6,544.8 493.9,561.3 494.1,607.5 494.3,535.9 494.5,615.2 494.8,628.1 495,624.5 495.2,624.4 495.4,662.8 495.7,546 495.9,481.3 496.1,639.9 496.4,549 496.6,696.7 496.8,707.4 497,639.6 497.3,530.3 497.5,563.5 497.7,635 498,649.8 498.2,660.3 498.4,564 498.6,533.8 498.9,624.7 499.1,496.9 499.3,625.4 499.6,611.2 499.8,560.8 500,610 500.2,544.4 500.5,525.1 500.7,562.9 500.9,566 501.1,545 501.4,526.7 501.6,604.8 501.8,532.5 502.1,546.6 502.3,571.9 502.5,609.8 502.7,625.3 503,533.8 503.2,535.9 503.4,603 503.7,640.5 503.9,614 504.1,618.6 504.3,619.8 504.6,706.7 504.8,650.8 505,600.2 505.2,526.9 505.5,562.3 505.7,531.6 505.9,628 506.2,656.5 506.4,591.5 506.6,639.3 506.8,660 507.1,527.3 507.3,643.8 507.5,632.2 507.8,567.7 508,548.6 508.2,635.6 508.4,535.4 508.7,693 508.9,547.2 509.1,626.1 509.3,496.4 509.6,629.6 509.8,538.9 510,545.9 510.3,535.4 510.5,655.3 510.7,650.2 510.9,533 511.2,623.2 511.4,677.5 511.6,630 511.9,562.7 512.1,697.9 512.3,607.5 512.5,551.1 512.8,403.7 513,572.5 513.2,559.3 513.5,607.9 513.7,571.2 513.9,577.6 514.1,535.9 514.4,563.2 514.6,544.4 514.8,506.2 515,624 515.3,527.5 515.5,624.9 515.7,627.8 516,534.7 516.2,558.3 516.4,679.3 516.6,647.2 516.9,611.4 517.1,556.7 517.3,526.4 517.6,615.6 517.8,560.8 518,646.3 518.2,593.6 518.5,536.7 518.7,633.8 518.9,538.8 519.1,607.7 519.4,624.3 519.6,696.8 519.8,559.7 520.1,614.1 520.3,538.9 520.5,668.5 520.7,625.2 521,642.3 521.2,556.2 521.4,721.4 521.7,554.1 521.9,553.4 522.1,570 522.3,648.4 522.6,610.2 522.8,654.3 523,555.3 523.2,665.1 523.5,558.8 523.7,602.9 523.9,628.1 524.2,686.6 524.4,544.8 524.6,499 524.8,562.9 525.1,599.8 525.3,680.2 525.5,616.4 525.8,562.3 526,654.9 526.2,668 526.4,604.5 526.7,550.7 526.9,529.6 527.1,527.8 527.4,569.2 527.6,605.2 527.8,626.8 528,618.6 528.3,683.2 528.5,644.3 528.7,627.9 528.9,668.1 529.2,637.8 529.4,554.5 529.6,537.5 529.9,626.9 530.1,556.9 530.3,613.7 530.5,652.1 530.8,682.4 531,596.4 531.2,538.7 531.5,629.2 531.7,645.9 531.9,564 532.1,649.3 532.4,536.2 532.6,548.8 532.8,548.8 533,606.6 533.3,649.2 533.5,564.4 533.7,602.3 534,687.6 534.2,526.9 534.4,611.6 534.6,707.5 534.9,702.3 535.1,542.6 535.3,696.5 535.6,616.6 535.8,541.6 536,533.5 536.2,610.1 536.5,683.3 536.7,614.6 536.9,524.8 537.1,537.3 537.4,694.4 537.6,622.9 537.8,545.7 538.1,648.8 538.3,528.4 538.5,607.3 538.7,551.5 539,656.9 539.2,559 539.4,548.1 539.7,658.4 539.9,559.5 540.1,622.6 540.3,543.7 540.6,654.5 540.8,621.7 541,641.9 541.2,654.8 541.5,617.9 541.7,669.4 541.9,539.7 542.2,634.3 542.4,560.4 542.6,538.4 542.8,711.1 543.1,570 543.3,558.6 543.5,651.2 543.8,627.7 544,687.8 544.2,532.1 544.4,646 544.7,654.7 544.9,558.3 545.1,530 545.4,535.6 545.6,464.1 545.8,623.8 546,540.7 546.3,603.5 546.5,637.1 546.7,557 546.9,572.3 547.2,526.2 547.4,614.9 547.6,621.8 547.9,627.9 548.1,645.9 548.3,619.4 548.5,722.1 548.8,647.1 549,554.3 549.2,538.8 549.5,653.9 549.7,571.5 549.9,613.3 550.1,542.9 550.4,550.3 550.6,720.9 550.8,645.4 551,635.3 551.3,643.8 551.5,632.5 551.7,616.1 552,653.2 552.2,654.3 552.4,684.9 552.6,428.5 552.9,549.5 553.1,599.6 553.3,630.3 553.6,704.2 553.8,640.6 554,615.9 554.2,534.3 554.5,561.6 554.7,559.3 554.9,496.4 555.1,645.2 555.4,545.3 555.6,537 555.8,625.7 556.1,563.3 556.3,559.6 556.5,681.3 556.7,633.5 557,635.6 557.2,664.4 557.4,686.2 557.7,655.3 557.9,544.5 558.1,634.1 558.3,544.1 558.6,645.9 558.8,558.7 559,629.9 559.2,561.1 559.5,640.6 559.7,635.8 559.9,649.9 560.2,560.7 560.4,637.1 560.6,637.3 560.8,546.2 561.1,547.2 561.3,535.9 561.5,675.7 561.8,572.8 562,651.1 562.2,652.2 562.4,539.9 562.7,633.5 562.9,683.2 563.1,556.4 563.4,554.4 563.6,639.7 563.8,606.6 564,654.9 564.3,606.2 564.5,550 564.7,602.5 564.9,566.1 565.2,715.6 565.4,659.9 565.6,578.4 565.9,617.1 566.1,542.5 566.3,548.7 566.5,695 566.8,539.5 567,656.4 567.2,558.5 567.5,534.1 567.7,533 567.9,545 568.1,538.8 568.4,605 568.6,648.6 568.8,535.1 569,562.8 569.3,603.1 569.5,544.4 569.7,604.1 570,644.1 570.2,546.1 570.4,689.4 570.6,622.9 570.9,638 571.1,600.1 571.3,666.7 571.6,714.4 571.8,587.5 572,654.9 572.2,568.2 572.5,623.8 572.7,600.2 572.9,568.9 573.1,537.9 573.4,557.2 573.6,696.8 573.8,541.9 574.1,572.5 574.3,711.1 574.5,529.8 574.7,610 575,529 575.2,553.7 575.4,641.7 575.7,535.5 575.9,540.2 576.1,669.8 576.3,536.9 576.6,624.2 576.8,571.3 577,627.8 577.3,535.8 577.5,614.5 577.7,565.9 577.9,545.9 578.2,540.2 578.4,622.2 578.6,545.9 578.8,606.6 579.1,539.4 579.3,638.2 579.5,661.2 579.8,544.3 580,612.9 580.2,697.5 580.4,615.1 580.7,537.5 580.9,546.2 581.1,625.2 581.4,488.9 581.6,546.1 581.8,539.2 582,613.3 582.3,540.5 582.5,562.8 582.7,614.4 582.9,577.4 583.2,626.7 583.4,618.1 583.6,632.9 583.9,538.4 584.1,538.6 584.3,525.2 584.5,630.6 584.8,647.5 585,618.1 585.2,525.2 585.5,690.9 585.7,656 585.9,526 586.1,663.4 586.4,699.7 586.6,615 586.8,626.2 587,530.7 587.3,608.8 587.5,621.8 587.7,538.6 588,606.9 588.2,597.2 588.4,646.5 588.6,611.2 588.9,547.6 589.1,613.5 589.3,533.8 589.6,644.5 589.8,544.6 590,620.5 590.2,623.9 590.5,582.2 590.7,545 590.9,623.4 591.1,627.7 591.4,569.1 591.6,669.6 591.8,608.6 592.1,552.8 592.3,538.6 592.5,660.3 592.7,557.6 593,618.2 593.2,672.3 593.4,669.5 593.7,640.7 593.9,455.5 594.1,602.5 594.3,666.1 594.6,558.6 594.8,565 595,577.6 595.3,611.7 595.5,640.8 595.7,654.4 595.9,537.1 596.2,644.4 596.4,528.8 596.6,522.7 596.8,542.8 597.1,630 597.3,557 597.5,603 597.8,529.3 598,569.4 598.2,528.8 598.4,522.8 598.7,670.2 598.9,658.3 599.1,572.7 599.4,649.9 599.6,609 599.8,637.6 600,653.2 600.3,568.8 600.5,632.3 600.7,711.9 600.9,569.1 601.2,679.2 601.4,544.4 601.6,465.8 601.9,625 602.1,543.8 602.3,550.2 602.5,491.1 602.8,602.8 603,667.4 603.2,566.8 603.5,652.8 603.7,578.5 603.9,551.6 604.1,615.2 604.4,616 604.6,556.7 604.8,532.9 605,659.3 605.3,472.7 605.5,600.8 605.7,621.7 606,653.9 606.2,601.3 606.4,561.1 606.6,565.3 606.9,547.2 607.1,593.7 607.3,624 607.6,564.4 607.8,607.1 608,567.4 608.2,564.1 608.5,643.7 608.7,673.3 608.9,560 609.2,555.9 609.4,599.8 609.6,641.6 609.8,532.5 610.1,534.9 610.3,548.1 610.5,593.1 610.7,541.4 611,534.4 611.2,504 611.4,573.3 611.7,640.2 611.9,543.2 612.1,600.7 612.3,649.9 612.6,716.3 612.8,636 613,602.4 613.3,625.2 613.5,651.4 613.7,646.4 613.9,529.9 614.2,556.7 614.4,563.3 614.6,638.4 614.8,567.8 615.1,527.2 615.3,619.8 615.5,660.8 615.8,712.4 616,571.4 616.2,638.1 616.4,607 616.7,666.3 616.9,624.6 617.1,621.7 617.4,560.3 617.6,527.1 617.8,637.3 618,535.7 618.3,705.3 618.5,539.5 618.7,711.6 618.9,614.9 619.2,546.7 619.4,550.4 619.6,604.1 619.9,664.9 620.1,527.9 620.3,634.5 620.5,537.5 620.8,626.4 621,618.2 621.2,636.9 621.5,630.1 621.7,612.9 621.9,615.1 622.1,479.8 622.4,617.7 622.6,642.8 622.8,664.5 623,666.3 623.3,611.1 623.5,532.4 623.7,614.1 624,647.5 624.2,609.4 624.4,612.8 624.6,592.7 624.9,529.6 625.1,668.7 625.3,469.9 625.6,641.9 625.8,608.1 626,548.3 626.2,639.9 626.5,541.3 626.7,544.1 626.9,558.1 627.2,607.9 627.4,565.1 627.6,503.3 627.8,555.5 628.1,571.3 628.3,555.2 628.5,603.5 628.7,624.7 629,629.4 629.2,689.9 629.4,566.1 629.7,607.4 629.9,656.4 630.1,656.4 630.3,619.7 630.6,566.2 630.8,533.2 631,640 631.3,613.3 631.5,537.4 631.7,569.3 631.9,648.2 632.2,660.6 632.4,563 632.6,553.4 632.8,537 633.1,528.5 633.3,533.1 633.5,624.3 633.8,533.5 634,657.1 634.2,701.8 634.4,647.7 634.7,531.1 634.9,657.9 635.1,543.9 635.4,547.4 635.6,532.5 635.8,539.9 636,673.3 636.3,530.3 636.5,615.9 636.7,534.4 636.9,558.1 637.2,557.4 637.4,554.2 637.6,668.6 637.9,678.6 638.1,645.4 638.3,537.8 638.5,588.4 638.8,699.3 639,566.2 639.2,626.7 639.5,646.3 639.7,556.4 639.9,541.6 640.1,593.4 640.4,563.8 640.6,560 640.8,557.2 641.1,567.1 641.3,625.4 641.5,563.7 641.7,563.5 642,543.4 642.2,633.5 642.4,704.7 642.6,688.8 642.9,537.9 643.1,549.1 643.3,614.3 643.6,543.7 643.8,547.6 644,622.4 644.2,617.8 644.5,694.4 644.7,585 644.9,545.5 645.2,528.6 645.4,556.5 645.6,620.6 645.8,602.6 646.1,540.3 646.3,538.1 646.5,641.3 646.7,572.2 647,633.1 647.2,633.4 647.4,540.3 647.7,547.4 647.9,625 648.1,648 648.3,622.9 648.6,670.9 648.8,556.5 649,662.2 649.3,672.8 649.5,536.5 649.7,648.4 649.9,641 650.2,627.6 650.4,530.2 650.6,618.4 650.8,677.3 651.1,650.8 651.3,535.9 651.5,555.6 651.8,572.6 652,538.2 652.2,603.8 652.4,572 652.7,542.8 652.9,630 653.1,539 653.4,690.5 653.6,614.4 653.8,657.2 654,554.8 654.3,550.3 654.5,693.9 654.7,571.9 655,694.6 655.2,617.9 655.4,644.5 655.6,609.4 655.9,624.1 656.1,494.3 656.3,600.5 656.5,605.5 656.8,555.1 657,638.9 657.2,629 657.5,623.9 657.7,572.4 657.9,609.9 658.1,525.4 658.4,659.6 658.6,618.9 658.8,550 659.1,569.3 659.3,638.4 659.5,637.7 659.7,652.7 660,639.8 660.2,537.4 660.4,605.2 660.6,616.6 660.9,602.9 661.1,657 661.3,522.3 661.6,601.2 661.8,370.2 662,491.1 662.2,617.7 662.5,550.5 662.7,610.4 662.9,563.6 663.2,685 663.4,647.9 663.6,619.1 663.8,605.8 664.1,541.4 664.3,622 664.5,529.3 664.7,533.2 665,610.3 665.2,562.1 665.4,649 665.7,532.5 665.9,622.2 666.1,659.4 666.3,611.1 666.6,610.9 666.8,526.6 667,626.1 667.3,658.8 667.5,616 667.7,642.4 667.9,536.3 668.2,533.7 668.4,713 668.6,698.2 668.8,557.2 669.1,635.4 669.3,644.7 669.5,500.8 669.8,676.9 670,619 670.2,603.4 670.4,529.5 670.7,554.5 670.9,607.3 671.1,521.3 671.4,624.3 671.6,621 671.8,547.4 672,524.2 672.3,610.9 672.5,540.3 672.7,644.1 673,666.6 673.2,530.3 673.4,537.9 673.6,559.9 673.9,662.2 674.1,569.2 674.3,570 674.5,679 674.8,540.4 675,645.2 675.2,616.9 675.5,645 675.7,544 675.9,557.6 676.1,637 676.4,656.2 676.6,615 676.8,651.7 677.1,542.5 677.3,614.9 677.5,542.4 677.7,660.7 678,708.5 678.2,557.9 678.4,605.4 678.6,624.4 678.9,593.2 679.1,531 679.3,666.7 679.6,529.1 679.8,643.7 680,556 680.2,626.8 680.5,604 680.7,652.1 680.9,538.7 681.2,647.3 681.4,554.8 681.6,641.1 681.8,648.5 682.1,689.2 682.3,622.4 682.5,640.6 682.7,650.7 683,688 683.2,612.8 683.4,615.1 683.7,588.1 683.9,546 684.1,620.5 684.3,645.6 684.6,628.2 684.8,637.3 685,604.7 685.3,642.7 685.5,604.7 685.7,628.3 685.9,679.7 686.2,659 686.4,648.5 686.6,650.2 686.9,653.1 687.1,610.6 687.3,679.3 687.5,652.3 687.8,543.1 688,543 688.2,652 688.4,601.9 688.7,654.8 688.9,708.6 689.1,624.4 689.4,545.2 689.6,531.7 689.8,566.6 690,619.2 690.3,346.9 690.5,501.4 690.7,541.1 691,556.8 691.2,551.8 691.4,702.4 691.6,528.9 691.9,584.4 692.1,656.2 692.3,621.9 692.5,570.9 692.8,543 693,652 693.2,643.4 693.5,532.9 693.7,652.5 693.9,707 694.1,539.3 694.4,601.8 694.6,714.6 694.8,586.9 695.1,603 695.3,535.9 695.5,608.5 695.7,540.5 696,546.2 696.2,659 696.4,557.3 696.6,658.1 696.9,558.1 697.1,680.1 697.3,600.9 697.6,572.1 697.8,653.1 698,626.1 698.2,556.9 698.5,545.5 698.7,624 698.9,601.3 699.2,655.9 699.4,628.9 699.6,637.6 699.8,624.8 700.1,680.3 700.3,620.2 700.5,537.6 700.7,557.3 701,608.2 701.2,619.1 701.4,524.8 701.7,550.8 701.9,613.4 702.1,565.8 702.3,657 702.6,564.9 702.8,562.5 703,616.9 703.3,569.3 703.5,527.8 703.7,612.7 703.9,552.4 704.2,603.1 704.4,613.6 704.6,660 704.9,614.7 705.1,628.1 705.3,600.6 705.5,638 705.8,679.2 706,690.7 706.2,646.4 706.4,648.3 706.7,548.3 706.9,527.7 707.1,584.9 707.4,609.8 707.6,550.2 707.8,679.1 708,554.2 708.3,623.6 708.5,610 708.7,542.1 709,616.5 709.2,649.8 709.4,611.8 709.6,625.2 709.9,556.4 710.1,642.4 710.3,587.9 710.5,570.2 710.8,686.2 711,564.3 711.2,560.9 711.5,557.9 711.7,555.9 711.9,558.4 712.1,631.4 712.4,639.9 712.6,568.6 712.8,545.8 713.1,602 713.3,536.7 713.5,651.5 713.7,626 714,615 714.2,655.7 714.4,699.8 714.6,549.2 714.9,703.4 715.1,572.6 715.3,621.9 715.6,520.2 715.8,603.1 716,651.2 716.2,628.5 716.5,649.6 716.7,624.3 716.9,569.5 717.2,629.5 717.4,551.1 717.6,641.5 717.8,618.7 718.1,554.9 718.3,531.3 718.5,525.5 718.8,561.7 719,630.6 719.2,547.5 719.4,563.2 719.7,535.1 719.9,533 720.1,598.9 720.3,674.7 720.6,625 720.8,609.3 721,609.3 721.3,678 721.5,611.3 721.7,641.9 721.9,603.5 722.2,498.2 722.4,579.4 722.6,625.6 722.9,687 723.1,661.8 723.3,614.5 723.5,624.4 723.8,659.7 724,685.1 724.2,508.3 724.4,531.9 724.7,628 724.9,537.9 725.1,604.4 725.4,614.8 725.6,569.4 725.8,629.3 726,536.9 726.3,568.2 726.5,628.4 726.7,563.4 727,587 727.2,641.5 727.4,543.8 727.6,667.9 727.9,689.3 728.1,624.7 728.3,555.3 728.5,705.7 728.8,549.6 729,601.5 729.2,583.2 729.5,531.2 729.7,541.7 729.9,550.7 730.1,550.7 730.4,622.1 730.6,536.6 730.8,715.2 731.1,555.9 731.3,621.2 731.5,536.7 731.7,541.3 732,563.9 732.2,531.3 732.4,547.4 732.6,543.7 732.9,631.4 733.1,557.4 733.3,646.1 733.6,632.3 733.8,642.6 734,528 734.2,650.4 734.5,627.6 734.7,614.3 734.9,559 735.2,651.4 735.4,564.5 735.6,555.1 735.8,536.1 736.1,628.5 736.3,547.5 736.5,538.8 736.8,539.3 737,642.2 737.2,660.6 737.4,621.4 737.7,624.4 737.9,616.4 738.1,620.2 738.3,526.9 738.6,638.2 738.8,641.5 739,535.8 739.3,558.3 739.5,655.8 739.7,536.1 739.9,558.9 740.2,600 740.4,674.6 740.6,554.7 740.9,555.6 741.1,552.1 741.3,661.3 741.5,549.4 741.8,571.8 742,526.9 742.2,533 742.4,601.1 742.7,458.7 742.9,629.8 743.1,570.5 743.4,563.4 743.6,599.5 743.8,561.7 744,649.5 744.3,526.6 744.5,530.7 744.7,652 745,646.3 745.2,525 745.4,602.4 745.6,629.9 745.9,636 746.1,639.1 746.3,699.2 746.5,660.8 746.8,691.7 747,468.4 747.2,648.7 747.5,557.3 747.7,689.1 747.9,628.1 748.1,519.1 748.4,665.3 748.6,567.1 748.8,474.9 749.1,637.7 749.3,658.9 749.5,655.9 749.7,528.5 750,545.5 750.2,524.9 750.4,616.1 750.6,654.1 750.9,600.5 751.1,539.6 751.3,691.8 751.6,593.8 751.8,622.3 752,667.2 752.2,606.1 752.5,469.9 752.7,550.5 752.9,548.2 753.2,558.1 753.4,648.1 753.6,621.5 753.8,646.5 754.1,555 754.3,658.9 754.5,550.4 754.8,601.6 755,620.6 755.2,628.8 755.4,640.1 755.7,599.4 755.9,603.7 756.1,665.1 756.3,621.2 756.6,611.7 756.8,682.9 757,613 757.3,643.2 757.5,629.7 757.7,545.6 757.9,605.8 758.2,633.1 758.4,594.3 758.6,535.9 758.9,627.6 759.1,632.8 759.3,544.9 759.5,656.7 759.8,529.5 760,514.8 760.2,600.8 760.4,630.8 760.7,631.8 760.9,624.3 761.1,543.4 761.4,708.6 761.6,687.6 761.8,582.1 762,674.9 762.3,615.2 762.5,560.8 762.7,604.2 763,693.3 763.2,619.4 763.4,488.5 763.6,544.1 763.9,608.9 764.1,536.1 764.3,654.8 764.5,548.4 764.8,645.7 765,534.3 765.2,623.9 765.5,647.2 765.7,530.7 765.9,656.8 766.1,686.6 766.4,556.7 766.6,544.4 766.8,527.3 767.1,638.6 767.3,568.9 767.5,559.2 767.7,532.7 768,629.1 768.2,616 768.4,628.7 768.7,566.1 768.9,552.4 769.1,665.8 769.3,634.3 769.6,538.3 769.8,538.3 770,538.3 770.2,655.2 770.5,654.8 770.7,527 770.9,600.8 771.2,606.3 771.4,563.9 771.6,559.3 771.8,534.3 772.1,627.6 772.3,532.1 772.5,572.4 772.8,581 773,558.5 773.2,538.8 773.4,540.2 773.7,641 773.9,533.6 774.1,621.7 774.3,556.8 774.6,719.5 774.8,621 775,628.1 775.3,624.8 775.5,539.8 775.7,641.5 775.9,563.2 776.2,678.7 776.4,641.9 776.6,563.3 776.9,537.1 777.1,526.8 777.3,600.2 777.5,608.1 777.8,722.1 778,545.9 778.2,608.8 778.4,530.5 778.7,654.8 778.9,677.1 779.1,566.7 779.4,626.9 779.6,623 779.8,637.5 780,601.3 780.3,616.3 780.5,601.5 780.7,623.4 781,611.2 781.2,619 781.4,613.3 781.6,702.4 781.9,657.6 782.1,599.6 782.3,639.4 782.5,663.1 782.8,627.5 783,623.7 783.2,644.8 783.5,553.5 783.7,540.2 783.9,678 784.1,542.1 784.4,509 784.6,586.1 784.8,568.1 785.1,617.8 785.3,552 785.5,542.8 785.7,526.8 786,624.5 786.2,629.4 786.4,650.7 786.7,546.2 786.9,620.7 787.1,649.4 787.3,725.8 787.6,666.7 787.8,555.2 788,628.4 788.2,546.6 788.5,555.7 788.7,602.3 788.9,653.7 789.2,623.9 789.4,626.8 789.6,608.2 789.8,623.8 790.1,571.1 790.3,545.9 790.5,715.9 790.8,641.6 791,612.5 791.2,614.3 791.4,653.2 791.7,639.5 791.9,540.6 792.1,477.5 792.3,647.1 792.6,561.1 792.8,537.5 793,653.4 793.3,612.8 793.5,641.4 793.7,546.3 793.9,641.2 794.2,549.5 794.4,626.7 794.6,643.2 794.9,619.7 795.1,536.7 795.3,543 795.5,551.8 795.8,566.3 796,643.4 796.2,653.3 796.4,683.6 796.7,535.9 796.9,538.7 797.1,536.5 797.4,653.9 797.6,702.5 797.8,664.3 798,652.6 798.3,571 798.5,539.7 798.7,528.5 799,540.8 799.2,651.3 799.4,550.7 799.6,579.9 799.9,572.7 800.1,625.6 800.3,638 800.6,628.6 800.8,625.5 801,564.1 801.2,529 801.5,548 801.7,640.8 801.9,619.2 802.1,560 802.4,652.7 802.6,659.7 802.8,586.9 803.1,623.1 803.3,541.6 803.5,552.3 803.7,641.8 804,540.2 804.2,555.2 804.4,536.5 804.7,664.6 804.9,697.2 805.1,643.4 805.3,612.9 805.6,619.5 805.8,655.7 806,535.8 806.2,530.7 806.5,556.7 806.7,602.5 806.9,619.2 807.2,602.4 807.4,538.7 807.6,555.6 807.8,658.4 808.1,649.5 808.3,531.8 808.5,610.6 808.8,553.2 809,619.2 809.2,636.1 809.4,649 809.7,589.3 809.9,498.2 810.1,611.7 810.3,654.2 810.6,543.3 810.8,667.7 811,654.1 811.3,648 811.5,622.3 811.7,570.1 811.9,624.1 812.2,650.8 812.4,534.4 812.6,559.1 812.9,627 813.1,623 813.3,542.6 813.5,598.9 813.8,637.1 814,563.1 814.2,528 814.5,623.3 814.7,623.1 814.9,559.8 815.1,534.3 815.4,615.2 815.6,705 815.8,643.1 816,551.4 816.3,647.2 816.5,537 816.7,618.8 817,526.6 817.2,577.8 817.4,529.4 817.6,538.1 817.9,625.4 818.1,610.1 818.3,648.6 818.6,339.6 818.8,651 819,619.3 819.2,552.1 819.5,649.6 819.7,616.4 819.9,692.3 820.1,644.3 820.4,500.3 820.6,550.1 820.8,619.3 821.1,615.9 821.3,560.6 821.5,545.6 821.7,524.5 822,574 822.2,530.6 822.4,617.9 822.7,648.8 822.9,600.5 823.1,556.8 823.3,606.3 823.6,623.8 823.8,634.7 824,710.8 824.2,628.4 824.5,529.7 824.7,639.5 824.9,654.7 825.2,634.8 825.4,618.6 825.6,653.8 825.8,566.2 826.1,606.6 826.3,605.7 826.5,663.7 826.8,546.1 827,555.1 827.2,563.8 827.4,529 827.7,698.6 827.9,578.6 828.1,570.3 828.3,575.7 828.6,615.1 828.8,636.1 829,552.9 829.3,573.1 829.5,642.3 829.7,686 829.9,525.5 830.2,536 830.4,656.2 830.6,580.3 830.9,653.4 831.1,693.5 831.3,543.6 831.5,568.7 831.8,629.7 832,611.5 832.2,613.1 832.5,555.7 832.7,677 832.9,641.5 833.1,620.3 833.4,626.9 833.6,535.5 833.8,548 834,615.3 834.3,605.7 834.5,656.9 834.7,565.7 835,561.8 835.2,544 835.4,702.5 835.6,662 835.9,605.5 836.1,605.1 836.3,608.1 836.6,649.5 836.8,609.5 837,532.8 837.2,630 837.5,599.5 837.7,529.4 837.9,563.7 838.1,658.8 838.4,610.2 838.6,466.2 838.8,544 839.1,704.5 839.3,613.9 839.5,541.7 839.7,568.4 840,644.1 840.2,549.1 840.4,641.3 840.7,560.1 840.9,500.8 841.1,608.6 841.3,537.3 841.6,574.3 841.8,615.3 842,642.7 842.2,607.1 842.5,638.2 842.7,600.2 842.9,659.4 843.2,536.6 843.4,576.6 843.6,515.9 843.8,591.6 844.1,543.8 844.3,645.3 844.5,626.7 844.8,657.2 845,600.1 845.2,532.5 845.4,617.9 845.7,554.2 845.9,655.1 846.1,621.7 846.4,660.2 846.6,558.7 846.8,544.4 847,569.5 847.3,703.7 847.5,667.4 847.7,529.8 847.9,540.5 848.2,662.8 848.4,436 848.6,640.8 848.9,536.8 849.1,560.4 849.3,603.7 849.5,530.6 849.8,652.9 850,626.3 850.2,622.9 850.5,618.2 850.7,555.2 850.9,614.3 851.1,616.6 851.4,656.3 851.6,547.2 851.8,627.2 852,630.5 852.3,532.2 852.5,623.5 852.7,546.1 853,624.2 853.2,568.5 853.4,540.6 853.6,536.8 853.9,706.5 854.1,616 854.3,535 854.6,641.8 854.8,578.8 855,599.3 855.2,638.5 855.5,660.8 855.7,573.4 855.9,547.3 856.1,635.3 856.4,543.3 856.6,557.7 856.8,624.2 857.1,626.5 857.3,552.7 857.5,664 857.7,635.5 858,635.1 858.2,542.7 858.4,544.8 858.7,601 858.9,535.2 859.1,565.2 859.3,560 859.6,622.1 859.8,529.5 860,541.1 860.2,605 860.5,535.5 860.7,659.1 860.9,548.8 861.2,614.7 861.4,661.4 861.6,638.1 861.8,644.8 862.1,687.4 862.3,647 862.5,662.1 862.8,651.1 863,544.7 863.2,611.5 863.4,625.6 863.7,538.8 863.9,616.7 864.1,537.4 864.4,620.6 864.6,563 864.8,547.3 865,541 865.3,557.2 865.5,646 865.7,537.9 865.9,570.5 866.2,622.5 866.4,622.4 866.6,607.2 866.9,642.7 867.1,552.9 867.3,606.8 867.5,569.1 867.8,626.6 868,677.7 868.2,525.3 868.5,486.7 868.7,524.8 868.9,602.5 869.1,641.3 869.4,629.1 869.6,569.8 869.8,693.3 870,695.5 870.3,632.4 870.5,540.6 870.7,672.5 871,613.5 871.2,532.6 871.4,544.8 871.6,633 871.9,648.2 872.1,641.4 872.3,642.8 872.6,662.4 872.8,641.6 873,550.8 873.2,535.2 873.5,529.3 873.7,546.2 873.9,560.5 874.1,644.1 874.4,540 874.6,556.6 874.8,627.9 875.1,613.1 875.3,565.6 875.5,550.9 875.7,629.6 876,537.9 876.2,600.9 876.4,541.9 876.7,539.9 876.9,535 877.1,566.3 877.3,621.5 877.6,711.4 877.8,608.9 878,610.8 878.2,555.2 878.5,614.8 878.7,531.9 878.9,634.2 879.2,548.4 879.4,706.2 879.6,531.4 879.8,531.4 880.1,718.3 880.3,461.5 880.5,518 880.8,542.5 881,565.1 881.2,566.8 881.4,548.3 881.7,614.6 881.9,558.4 882.1,628.3 882.4,659.6 882.6,557.3 882.8,552.9 883,535.1 883.3,610.6 883.5,544.8 883.7,642 883.9,619.4 884.2,644.9 884.4,626.4 884.6,565 884.9,656.8 885.1,634 885.3,540.9 885.5,538.5 885.8,660.5 886,559.6 886.2,624.1 886.5,650.9 886.7,557.9 886.9,533.4 887.1,719.2 887.4,571.8 887.6,714.3 887.8,577.6 888,654.9 888.3,633 888.5,558.7 888.7,670.2 889,557 889.2,642.6 889.4,527.4 889.6,460.8 889.9,616.1 890.1,630.9 890.3,547.8 890.6,572.6 890.8,632.1 891,615 891.2,525.9 891.5,655.9 891.7,537.4 891.9,540 892.1,542.3 892.4,603.9 892.6,527.3 892.8,545.2 893.1,603.8 893.3,539.3 893.5,532.2 893.7,540.6 894,607.5 894.2,689.4 894.4,611.8 894.7,639.1 894.9,540.6 895.1,684.2 895.3,607.3 895.6,560.3 895.8,618.2 896,609.4 896.3,643.4 896.5,540.4 896.7,642.4 896.9,572.5 897.2,549 897.4,622.5 897.6,548.7 897.8,534.2 898.1,699.7 898.3,554.5 898.5,543.6 898.8,634.9 899,644.5 899.2,625.9 899.4,618.7 899.7,638.8 899.9,612.3 900.1,664.8 900.4,542.2 900.6,630.4 900.8,629.7 901,554.8 901.3,609.9 901.5,562.5 901.7,625.1 901.9,595.4 902.2,652.9 902.4,720.9 902.6,513.1 902.9,622.6 903.1,559 903.3,630.8 903.5,599.4 903.8,657.7 904,611.7 904.2,548.5 904.5,659.6 904.7,619.1 904.9,545.6 905.1,569.3 905.4,559.4 905.6,640.5 905.8,626 906,550.9 906.3,653.5 906.5,599.9 906.7,557.1 907,554.7 907.2,550.8 907.4,678.2 907.6,612.6 907.9,625.8 908.1,626.9 908.3,630.4 908.6,625.3 908.8,540.6 909,697.3 909.2,342.6 909.5,636.6 909.7,538 909.9,659.7 910.1,463.7 910.4,535.2 910.6,578.4 910.8,639.3 911.1,560 911.3,550 911.5,614.2 911.7,549.1 912,625.2 912.2,708.3 912.4,658.1 912.7,550.7 912.9,687.6 913.1,626.3 913.3,625.8 913.6,632.1 913.8,659.3 914,648.7 914.3,604.7 914.5,545.3 914.7,611.2 914.9,611.8 915.2,560.6 915.4,544.9 915.6,635.6 915.8,606 916.1,669.2 916.3,541.7 916.5,625.2 916.8,631.8 917,626.7 917.2,523.8 917.4,697.6 917.7,617.8 917.9,630.1 918.1,644.9 918.4,538.3 918.6,535 918.8,483.1 919,660.1 919.3,684.8 919.5,657 919.7,646 919.9,561.6 920.2,623.2 920.4,621.1 920.6,570.7 920.9,670.1 921.1,568.3 921.3,612.7 921.5,684.3 921.8,605.5 922,559.4 922.2,618 922.5,568.8 922.7,523.4 922.9,648.7 923.1,527.3 923.4,632.6 923.6,657.2 923.8,599.9 924,543.7 924.3,554.9 924.5,637.8 924.7,554.3 925,610.9 925.2,586.3 925.4,553 925.6,528.4 925.9,542.9 926.1,530.9 926.3,534.8 926.6,617.3 926.8,563.8 927,607.8 927.2,622.2 927.5,613.1 927.7,629.8 927.9,627.1 928.2,601.9 928.4,613.2 928.6,567 928.8,656.9 929.1,684.6 929.3,656.1 929.5,560.7 929.7,564 930,539.3 930.2,539.6 930.4,626.4 930.7,539.2 930.9,642.2 931.1,619.5 931.3,660.1 931.6,618.8 931.8,639 932,690.1 932.3,554.3 932.5,649.2 932.7,612.9 932.9,600.5 933.2,557.8 933.4,692.1 933.6,653.7 933.8,554.2 934.1,533.5 934.3,564.7 934.5,642.5 934.8,643.9 935,657.1 935.2,534.1 935.4,533.9 935.7,569.8 935.9,553.6 936.1,653.3 936.4,714.4 936.6,531.6 936.8,606.4 937,607 937.3,628.3 937.5,656.6 937.7,629.9 937.9,651.3 938.2,599.9 938.4,648.6 938.6,604.3 938.9,650 939.1,538.1 939.3,669.7 939.5,604.4 939.8,569.8 940,565.6 940.2,535.7 940.5,548.2 940.7,685.1 940.9,611.7 941.1,569.1 941.4,548.4 941.6,607.2 941.8,600.5 942,662.8 942.3,533.6 942.5,649.1 942.7,645.5 943,561.1 943.2,527.7 943.4,636.1 943.6,538.1 943.9,711.9 944.1,642.2 944.3,553 944.6,566 944.8,708.1 945,716.3 945.2,554.8 945.5,568.3 945.7,649.7 945.9,629.4 946.2,619.9 946.4,664.4 946.6,569 946.8,662.9 947.1,562.7 947.3,660.6 947.5,646.9 947.7,676.8 948,540.9 948.2,634.9 948.4,599.6 948.7,662.7 948.9,648.5 949.1,655 949.3,617.3 949.6,564.8 949.8,536.6 950,605.2 950.3,538.5 950.5,683.9 950.7,655.6 950.9,565.3 951.2,545.6 951.4,648.9 951.6,607.3 951.8,609.3 952.1,531.8 952.3,569.9 952.5,660.4 952.8,615.8 953,621.7 953.2,543.3 953.4,386.8 953.7,526.1 953.9,569.8 954.1,611.1 954.4,559 954.6,622.5 954.8,625.7 955,652.3 955.3,611.7 955.5,674 955.7,623.1 955.9,625.4 956.2,526.1 956.4,541.4 956.6,694.8 956.9,657.6 957.1,571.6 957.3,665.9 957.5,619.6 957.8,631.1 958,614.8 958.2,571.6 958.5,594.8 958.7,641.1 958.9,562.9 959.1,569.9 959.4,562.1 959.6,546.5 959.8,560.8 960.1,635.5 960.3,685.6 960.5,640 960.7,608.3 961,569.3 961.2,683.8 961.4,640.5 961.6,656.3 961.9,653 962.1,641.2 962.3,533.1 962.6,619.8 962.8,620.4 963,608.6 963.2,713.5 963.5,533.8 963.7,540.8 963.9,607.1 964.2,601.5 964.4,617.5 964.6,586.9 964.8,527.2 965.1,661.3 965.3,658.1 965.5,640.5 965.7,632.9 966,568 966.2,562.6 966.4,572.3 966.7,659.6 966.9,678.4 967.1,527.2 967.3,691.1 967.6,550.2 967.8,623.1 968,602.6 968.3,532.6 968.5,571.2 968.7,604.7 968.9,547 969.2,654.1 969.4,538.7 969.6,498.2 969.8,621.9 970.1,615.9 970.3,551.3 970.5,635.9 970.8,542.9 971,536.5 971.2,665.4 971.4,641.6 971.7,603.1 971.9,638 972.1,527.5 972.4,534.5 972.6,516.9 972.8,544.9 973,691.4 973.3,681.6 973.5,672.5 973.7,681 974,654.3 974.2,553.1 974.4,567.1 974.6,572.1 974.9,627.6 975.1,571.6 975.3,652.1 975.5,645.7 975.8,617.3 976,539.2 976.2,570.8 976.5,544.9 976.7,582 976.9,628.7 977.1,625.5 977.4,539.6 977.6,549.9 977.8,627.8 978.1,696.3 978.3,696.9 978.5,618.8 978.7,692.6 979,531.1 979.2,640.9 979.4,336.1 979.6,624.4 979.9,532.6 980.1,602.4 980.3,611 980.6,705.2 980.8,609.5 981,618.2 981.2,628.1 981.5,626.7 981.7,617.3 981.9,615 982.2,693.4 982.4,625 982.6,610.2 982.8,667.3 983.1,523.4 983.3,602 983.5,542.7 983.7,540.6 984,548.3 984.2,610.2 984.4,501.4 984.7,637.3 984.9,691.3 985.1,655.4 985.3,690.8 985.6,552 985.8,557.6 986,657.7 986.3,724.6 986.5,574.3 986.7,609.5 986.9,622.9 987.2,603.5 987.4,548.2 987.6,556.3 987.8,556.3 988.1,543.5 988.3,646.6 988.5,559.2 988.8,597 989,653.8 989.2,538.1 989.4,641.7 989.7,531.5 989.9,557 990.1,733.2 990.4,536.9 990.6,692.4 990.8,621.9 991,689.2 991.3,634.2 991.5,664.7 991.7,666.8 992,640.8 992.2,498.6 992.4,608.1 992.6,546.6 992.9,600.9 993.1,536.7 993.3,544.7 993.5,648 993.8,629.3 994,674.7 994.2,534.8 994.5,659.9 994.7,546.1 994.9,620.8 995.1,633.4 995.4,647.9 995.6,621.5 995.8,574.1 996.1,544.6 996.3,606 996.5,615.4 996.7,643.3 997,600 997.2,628.5 997.4,507.2 997.6,516.9 997.9,653.4 998.1,466.9 998.3,650 998.6,476.6 998.8,546.7 999,667.8 999.2,657.1 999.5,570.3 999.7,594.4 999.9,647.9 1000.2,606.7 1000.4,656.5 1000.6,609.8 1000.8,541.6 1001.1,600.7 1001.3,496.4 1001.5,531.3 1001.7,537.3 1002,630 1002.2,688.8 1002.4,560.2 1002.7,653.2 1002.9,536.5 1003.1,658.4 1003.3,702.1 1003.6,643.1 1003.8,528.3 1004,601.6 1004.3,627.3 1004.5,555.7 1004.7,567.8 1004.9,650.4 1005.2,536.9 1005.4,538.4 1005.6,560.8 1005.9,541.9 1006.1,601.1 1006.3,537.1 1006.5,536.9 1006.8,621.7 1007,561.1 1007.2,686.1 1007.4,535.6 1007.7,640.4 1007.9,536.3 1008.1,667.8 1008.4,570.6 1008.6,547.1 1008.8,539.3 1009,564.5 1009.3,604.6 1009.5,541.5 1009.7,534.9 1010,616 1010.2,640.6 1010.4,634.6 1010.6,528.8 1010.9,631.1 1011.1,643.6 1011.3,546.3 1011.5,504 1011.8,529.1 1012,622.3 1012.2,685 1012.5,559.2 1012.7,626.8 1012.9,633.9 1013.1,655.8 1013.4,561.3 1013.6,567.3 1013.8,518 1014.1,555.9 1014.3,645.9 1014.5,672.1 1014.7,653 1015,623.3 1015.2,638.9 1015.4,554.3 1015.6,629.6 1015.9,692.8 1016.1,536.4 1016.3,640.1 1016.6,645.7 1016.8,625.5 1017,653.7 1017.2,540.9 1017.5,549.4 1017.7,607.2 1017.9,554.1 1018.2,542.5 1018.4,649 1018.6,628.1 1018.8,630 1019.1,643.7 1019.3,565.6 1019.5,607.3" fill="none" stroke="#ee363b" stroke-width="3.9" stroke-linejoin="round" marker-start="url(#mr)" marker-mid="url(#mr)" marker-end="url(#mr)"/>
<use href="#lay"/>
<use href="#yl" y="-0.8"/><use href="#xl" y="-0.8"/>
</g>
<text font-family="Liberation Sans, sans-serif" font-weight="bold" font-size="48.5" x="1311.1" y="1017">D</text>
<text font-family="Liberation Serif, serif" font-size="100" transform="translate(1905 1968.2) scale(0.568 0.578)">CNN</text>
</svg></body></html>
